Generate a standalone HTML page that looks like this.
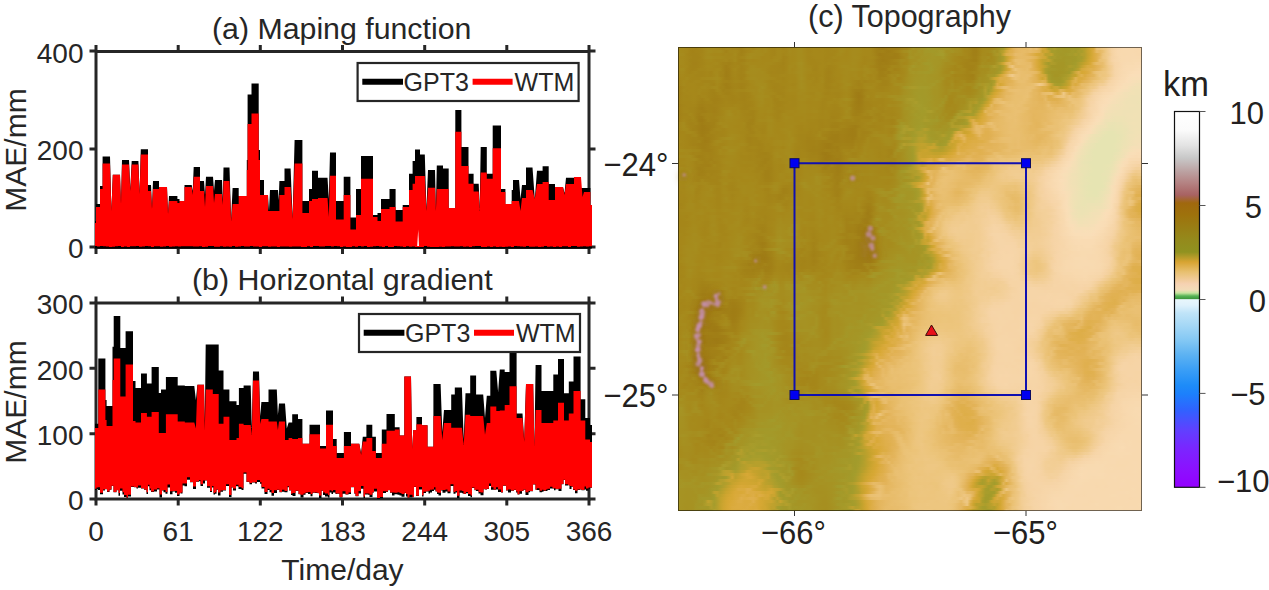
<!DOCTYPE html>
<html><head><meta charset="utf-8"><style>
html,body{margin:0;padding:0;background:#fff;width:1269px;height:590px;overflow:hidden}
svg{display:block;position:absolute;left:0;top:0}
#map{position:absolute;left:678px;top:47px;width:464px;height:464px;overflow:hidden}
#map div{position:absolute;left:0;width:464px}
text{font-family:"Liberation Sans",sans-serif;fill:#262626}
.m text{fill:#231f20}
</style></head><body>
<div id="map">
<div style="top:0px;height:3px;background:linear-gradient(90deg,#a68b1d,#a68a1b,#a6881a,#a58619,#a48418,#a38318,#a28217,#a48519,#a5871a,#a6891b,#a68b1d,#a68b1c,#a68a1c,#a6891b,#a6881a,#a48519,#a5881a,#a6881b,#a48419,#a48519,#a38318,#a28117,#a48519,#a6881b,#a6881a,#a58619,#a6891b,#a68b1d,#a6891b,#a68b1d,#a6881a,#a58619,#a48519,#a6881a,#a5871a,#a48418,#a58619,#a68a1c,#a6891b,#a68b1c,#a68d1e,#a68d1e,#a68a1c,#a5871a,#a5871a,#a6881a,#a5871a,#a6881a,#a6881a,#a58619,#a58619,#a5871a,#a6881a,#a6881a,#a68c1d,#a68c1e,#a6891b,#a6891b,#a68b1d,#a68b1d,#a68b1c,#a6891b,#a6881a,#a6891b,#a6881a,#a38318,#a17f16,#9f7c15,#9e7b14,#9f7c15,#a17f16,#a07e16,#a07e16,#a17f16,#a38318,#a48519,#a58619,#a68d1e,#a69525,#a69122,#a69324,#a59626,#a59626,#a39b2b,#a39929,#a59727,#a59727,#a49727,#a69525,#a59626,#a69525,#a69021,#a68e1f,#a68f20,#a68b1c,#a5871a,#a5871a,#a38318,#a18016,#a17f16,#a48519,#a6891b,#a68a1b,#a6891b,#a68a1c,#a68c1e,#a69122,#a49828,#a89d2b,#c4a22d,#d8a93a,#e1b151,#e5b761,#e7bb67,#e6ba66,#e6b863,#e7bb67,#e9bf71,#e6ba65,#e9be6e,#e2b456,#d4a839,#cda531,#ab9e2c,#a69d2c,#af9e2c,#a59b2a,#a59a29,#a49828,#a39929,#a39a2a,#a49a2a,#a39a2a,#a39b2b,#b39f2c,#b6a02c,#c6a32e,#d4a734,#daaa3b,#eac175,#ebc278,#edc680,#efc986,#f2ce96,#f5d2a1,#f6d5a7,#f7d7ac,#f8d8ae,#f8d9b0,#f8d9af,#f8d9af,#f8d9af,#f8d8ae,#f8d8ae,#f8d9af)"></div>
<div style="top:3px;height:3px;background:linear-gradient(90deg,#a68c1d,#a68a1b,#a6891b,#a6881a,#a48418,#a38217,#a48418,#a48418,#a48519,#a6891b,#a68c1d,#a68c1d,#a68a1c,#a68b1c,#a68b1d,#a5881b,#a38318,#a5881a,#a5881b,#a6891b,#a5871a,#a28117,#a38318,#a58619,#a6871a,#a68a1c,#a68c1d,#a68b1c,#a6891b,#a68b1d,#a6881a,#a58619,#a48519,#a6891b,#a6891b,#a6881a,#a5871a,#a68b1d,#a6891b,#a68a1c,#a68c1d,#a68c1e,#a6891b,#a5871a,#a58619,#a6881a,#a6881a,#a6871a,#a6881a,#a58719,#a58619,#a5871a,#a58619,#a6881a,#a68c1d,#a68b1c,#a6881a,#a68a1b,#a68b1d,#a68b1d,#a68b1c,#a6891b,#a6881a,#a6881a,#a6881a,#a48418,#a18016,#a18017,#a28117,#a07e16,#9f7d15,#a17f16,#a38217,#a48519,#a6891b,#a68e1f,#a68f20,#a59424,#a69122,#a69122,#a59626,#a69324,#a49828,#a49828,#a39929,#a39929,#a49828,#a69b2b,#a79a2a,#a69222,#a69222,#a59424,#a69021,#a68f20,#a68d1e,#a6881a,#a5871a,#a48519,#a18017,#a17f16,#a48519,#a68a1b,#a68b1d,#a68c1d,#a58f20,#a79626,#a69222,#ae9b2a,#baa12e,#d2a93a,#deaf4a,#e0b050,#e4b65f,#e6b963,#e7ba67,#e7bb67,#e6b965,#e7bb68,#e5b962,#e4b65c,#dfb252,#caa431,#cfa633,#c2a22f,#a59c2c,#a69c2b,#a39a2a,#a49929,#a49828,#a49828,#a49929,#a69c2b,#a39a2a,#ac9d2c,#a99d2c,#b6a02c,#c7a32e,#d0a631,#dcac43,#e7bb67,#e6b964,#e9bf70,#eec884,#f2cd94,#f5d3a3,#f7d6a9,#f8d8ae,#f8d9ae,#f8d9af,#f8d9af,#f8d9af,#f8d9af,#f8d8ae,#f8d9ae,#f8d8ae)"></div>
<div style="top:6px;height:3px;background:linear-gradient(90deg,#a68d1e,#a68b1d,#a68a1c,#a58619,#a48418,#a38318,#a38318,#a48418,#a58619,#a6891b,#a68b1c,#a6891b,#a6881a,#a6881a,#a6881a,#a58619,#a5871a,#a5861a,#a5871a,#a68b1c,#a48519,#a28217,#a48519,#a6891b,#a68c1d,#a68c1e,#a68b1d,#a68b1d,#a68b1c,#a6881a,#a6881a,#a58619,#a48519,#a6891b,#a6891b,#a58619,#a5881a,#a68a1c,#a6891b,#a68a1c,#a68c1d,#a68c1d,#a68a1b,#a6871a,#a5871a,#a6881a,#a6881a,#a6881a,#a6881a,#a58719,#a58619,#a58619,#a58719,#a68a1b,#a68b1c,#a6891b,#a6881a,#a68a1b,#a68b1d,#a68b1d,#a68a1c,#a6891a,#a6881a,#a6881a,#a6881a,#a48519,#a28017,#9f7c15,#a07d15,#a07e16,#a17f16,#a18016,#a07e16,#a17f16,#a48519,#a6891b,#a6891b,#a59324,#a69121,#a69424,#a69323,#a69424,#a49727,#a59626,#a59727,#a49828,#a39a2a,#a59c2b,#a69c2b,#a59525,#a69122,#a68e1f,#a68c1e,#a68d1e,#a68c1d,#a6891b,#a6871a,#a48418,#a18017,#a18017,#a48519,#a68b1c,#a68b1d,#a6891b,#a68b1d,#a79424,#ac9726,#a79a29,#c8a432,#ddae4a,#e0b251,#e3b459,#e7bb6a,#e7bb67,#e7bb69,#e6b964,#e4b55d,#e1b152,#deae48,#daaa39,#d6a837,#d3a83a,#bba12d,#bba12e,#c1a22d,#a79b2a,#a59a2a,#a49828,#a49828,#a39a2a,#a69c2b,#a59b2b,#ad9d2b,#a69c2c,#b29f2d,#b59f2d,#c5a22d,#d0a631,#dbab3e,#dfaf4c,#e4b65d,#ecc37a,#efc987,#f1cc90,#f5d2a1,#f7d6a9,#f8d8ad,#f8d9af,#f8d9ae,#f8d9af,#f8d9af,#f8d9b0,#f8d9ae,#f8d8ae,#f8d8ae)"></div>
<div style="top:9px;height:3px;background:linear-gradient(90deg,#a68a1c,#a6891b,#a6891b,#a5871a,#a48519,#a38318,#a38318,#a38318,#a58619,#a68a1c,#a68c1d,#a68c1d,#a68a1c,#a68a1b,#a68a1b,#a5891b,#a5871a,#a5871a,#a5881b,#a6891b,#a48519,#a58619,#a5871a,#a68b1d,#a68d1e,#a68b1d,#a68b1c,#a68a1c,#a6871a,#a6881a,#a6881a,#a58619,#a6881a,#a6891b,#a6891b,#a48418,#a48519,#a6891b,#a6891a,#a68a1b,#a68c1d,#a68c1d,#a68a1c,#a5871a,#a58619,#a6871a,#a6881a,#a6881a,#a6881a,#a58619,#a58619,#a5871a,#a6891b,#a6881a,#a6891b,#a6891b,#a6891a,#a68a1b,#a68b1d,#a68c1d,#a68b1c,#a6881a,#a58619,#a6871a,#a6881a,#a58719,#a38318,#a17f16,#a07d15,#a07e16,#a07e16,#a07e16,#a07e16,#a17f16,#a38318,#a58719,#a58c1e,#a59525,#a69424,#a69122,#a69222,#a59626,#a69525,#a59626,#a59727,#a59727,#a59626,#a59626,#a59928,#a69323,#a69020,#a68d1e,#a68a1c,#a6881a,#a58619,#a5871a,#a5881a,#a48519,#a28117,#a28117,#a5871a,#a68d1e,#a68c1e,#a69021,#a68a1c,#a68f1f,#a69323,#a49828,#ab9d2c,#c5a32d,#d7a937,#dfaf4a,#e4b65e,#e6ba65,#e7ba67,#e6ba66,#e7ba66,#e6b964,#e4b65c,#e0b351,#d7ac41,#d1a839,#cea632,#b19f2d,#a79c2c,#aa9c2b,#a49929,#a59929,#a49727,#a49828,#a49828,#a49929,#a39a2a,#a89d2c,#a89d2c,#b59f2c,#c6a32d,#d3a732,#dbab3e,#e0b04e,#e6b964,#edc57e,#efc885,#f2ce95,#f5d3a4,#f6d5a8,#f7d7ac,#f8d9af,#f8d9af,#f8d9b0,#f8d9af,#f8d9b0,#f8d9b0,#f8d9af,#f8d9af)"></div>
<div style="top:12px;height:3px;background:linear-gradient(90deg,#a68b1d,#a68a1c,#a6891b,#a5871a,#a38418,#a38318,#a38318,#a48418,#a48519,#a6881a,#a6891b,#a68a1b,#a6881a,#a5871a,#a5871a,#a5871a,#a6881b,#a48519,#a5871a,#a68b1c,#a48418,#a38217,#a38318,#a5871a,#a6881a,#a6871a,#a6881a,#a6891b,#a6881a,#a6881a,#a6881a,#a6881a,#a68a1b,#a68a1c,#a5871a,#a48418,#a58619,#a6891b,#a6891a,#a68a1b,#a68c1d,#a68d1e,#a68a1c,#a6871a,#a58619,#a58619,#a5871a,#a6871a,#a6881a,#a58619,#a5871a,#a5871a,#a58619,#a6871a,#a6891b,#a68a1b,#a6891b,#a68a1c,#a68b1d,#a68b1d,#a68a1c,#a6881a,#a58619,#a5871a,#a5871a,#a48519,#a28017,#a07e16,#9f7c15,#a07d15,#a17f16,#a28117,#a48418,#a4861a,#a58b1d,#a68b1d,#a68a1c,#a69020,#a69121,#a69122,#a69626,#a69424,#a69525,#a49828,#a59727,#a59626,#a59626,#a59525,#a69323,#a59324,#a69021,#a68c1d,#a6891b,#a6891a,#a5871a,#a48519,#a48418,#a38218,#a18016,#a18016,#a5871a,#a68c1d,#a68e1f,#a68a1b,#a68c1d,#a68e1f,#a69424,#a49828,#ac9e2c,#c6a32e,#dbab3f,#e2b458,#e8be6d,#e8bd6d,#e8bd6c,#e7bb69,#e5b75f,#e2b358,#e0b04e,#dbab3e,#d1a631,#c3a22d,#bea22f,#c3a32e,#b09e2c,#a49828,#a49828,#a59727,#a49727,#a49929,#a59929,#a39929,#a39a2a,#a69d2c,#ac9e2c,#baa02c,#caa42e,#d5a733,#dbab3d,#dfb04d,#eac072,#ebc276,#edc681,#f2ce95,#f6d3a4,#f7d6aa,#f7d7ac,#f8d9ae,#f8d9af,#f8d9b0,#f8d9af,#f8dab0,#f8dab0,#f8dab0,#f8dab0)"></div>
<div style="top:15px;height:3px;background:linear-gradient(90deg,#a68a1c,#a68a1c,#a6891b,#a58719,#a48519,#a38218,#a38218,#a48418,#a48519,#a5871a,#a6891a,#a6881a,#a6891b,#a68a1c,#a58619,#a38318,#a38318,#a28117,#a38418,#a58619,#a48418,#a48519,#a4871a,#a68a1c,#a6891b,#a6891b,#a6891b,#a6891b,#a6881a,#a6891b,#a6891b,#a6891b,#a5871a,#a58619,#a48519,#a38318,#a58619,#a6891b,#a68a1b,#a68b1c,#a68e1f,#a68f20,#a68b1d,#a6881a,#a58619,#a58619,#a58619,#a5871a,#a6881a,#a5871a,#a6881a,#a5871a,#a6881a,#a6891b,#a68a1b,#a68a1c,#a68a1c,#a68a1c,#a68c1d,#a68b1d,#a6891b,#a6871a,#a58619,#a6881a,#a5881a,#a4861a,#a28117,#a07e16,#a17f16,#a07e16,#a17f16,#a28117,#a28117,#a38419,#a58a1c,#a6881a,#a68a1b,#a68f1f,#a79323,#a59525,#a69222,#a59626,#a39929,#a39a2a,#a49828,#a59626,#a59626,#a59525,#a69222,#a68e1f,#a68e1f,#a68e1f,#a68c1d,#a6881a,#a58619,#a48418,#a38318,#a48418,#a48419,#a38418,#a5881a,#a68f20,#a68d1e,#a68f20,#a68e1f,#a68f20,#ab9827,#b99f2c,#d1a734,#e0b251,#e5b861,#e1b254,#e6b965,#e9bf6f,#e8bd6b,#e8bc6a,#e7bb68,#e7ba67,#e0b04f,#dbab3e,#d3a732,#c2a22d,#af9e2c,#a49b2b,#af9c2a,#ab9b2a,#a59727,#a59626,#a59626,#a39929,#a59929,#a39a2a,#a49c2c,#af9e2c,#b9a02c,#c5a22d,#cea530,#d9a939,#e2b557,#e7bc69,#e8bc6b,#e8bd6d,#eec681,#f2cd93,#f4d19e,#f7d5a8,#f7d6aa,#f8d8ae,#f8d9b0,#f8dab1,#f8dab1,#f8dab0,#f9dbb2,#f9dab2,#f9dbb3)"></div>
<div style="top:18px;height:3px;background:linear-gradient(90deg,#a68a1c,#a6881a,#a6891b,#a6881a,#a38418,#a38318,#a38318,#a48418,#a58619,#a6881a,#a68a1b,#a6891b,#a5881a,#a5871a,#a5871a,#a38318,#a17f16,#a38218,#a48519,#a58619,#a5871a,#a38318,#a48519,#a58719,#a68b1d,#a68c1d,#a68a1c,#a6891b,#a6891b,#a6891b,#a6881a,#a58619,#a58519,#a58519,#a48418,#a48418,#a58619,#a68b1c,#a68a1c,#a6891b,#a68d1e,#a68e1f,#a68b1c,#a6891b,#a6881a,#a58619,#a58519,#a6881a,#a6881a,#a5871a,#a48418,#a48519,#a58619,#a6881a,#a68b1c,#a68c1e,#a68c1d,#a68b1c,#a68b1d,#a68b1c,#a6891b,#a5871a,#a68a1c,#a5891b,#a58519,#a48418,#a28117,#a17f16,#a18017,#a28117,#a28217,#a5871a,#a4871a,#a4861a,#a5891c,#a68d1e,#a68e1f,#a69323,#a59929,#a59626,#a59525,#a69525,#a59626,#a59727,#a39929,#a59727,#a59525,#a69424,#a69021,#a68e1f,#a68c1d,#a68a1c,#a5871a,#a68b1c,#a6891b,#a48418,#a38318,#a38218,#a38218,#a48519,#a68e1f,#a69323,#a59222,#a59222,#a69727,#b09d2b,#aa9a29,#a39a2a,#b19f2c,#cda635,#e7bd69,#edc57f,#e6ba66,#e6b964,#e7ba67,#e7bb67,#e7bc6a,#e8bc6a,#e1b152,#dbab3f,#d3a632,#caa42f,#bea22e,#ac9d2c,#a49727,#a59626,#a59626,#a59626,#a59626,#a59828,#ad9d2b,#a99d2b,#a79d2c,#b29f2c,#c3a330,#d1a735,#d9ac42,#dcac40,#deae48,#e2b256,#e5b760,#e8bd6b,#ecc47b,#f1cb8e,#f3ce97,#f6d5a8,#f7d6aa,#f8d8ae,#f8dab1,#f9dbb2,#f9dbb2,#f9dbb2,#f9dbb3,#f9dcb4,#f9dbb2)"></div>
<div style="top:21px;height:3px;background:linear-gradient(90deg,#a6881b,#a68c1d,#a68b1c,#a58619,#a48418,#a38318,#a48418,#a5871a,#a5871a,#a5871a,#a6891b,#a6881b,#a6881a,#a68a1b,#a6891b,#a38318,#a17f16,#a28017,#a58619,#a6891b,#a48519,#a38318,#a48418,#a5881b,#a68c1d,#a68d1e,#a68c1d,#a68c1e,#a68a1b,#a6891b,#a5871a,#a58619,#a58619,#a48519,#a48519,#a48418,#a58619,#a68b1c,#a6881a,#a68a1c,#a68c1e,#a68e1f,#a68c1d,#a68a1c,#a6891b,#a48519,#a48519,#a6881a,#a6881a,#a48519,#a38318,#a48519,#a58619,#a6881a,#a6891b,#a68a1c,#a68b1d,#a68c1d,#a68d1e,#a68c1e,#a68b1c,#a6891b,#a68c1e,#a68c1d,#a6891b,#a5891b,#a48419,#a17f16,#a07e16,#a17f16,#a58719,#a5871a,#a38218,#a48418,#a5871a,#a68a1b,#a68d1e,#a69727,#a69324,#a69323,#a69525,#a59525,#a59626,#a59727,#a39a2a,#a49727,#a69525,#a69323,#a68f20,#a68c1e,#a68a1c,#a6891b,#a58719,#a5871a,#a6891b,#a6891b,#a48418,#a28217,#a38318,#a4861a,#a68d1e,#a68d1e,#a68e1f,#a68e1f,#a69525,#a69424,#a59727,#a39a2a,#b69f2c,#cba42f,#dbab3e,#e6b964,#ecc47a,#e9bf70,#e8bd6c,#e7bb69,#e8bd6c,#e4b65e,#e1b153,#ddad45,#d6a834,#c4a22d,#ad9e2c,#a69b2a,#a79929,#a59929,#a59727,#a59626,#a49727,#a89928,#a59a2a,#a39b2b,#ae9e2c,#bca12c,#d4a93b,#d9ab40,#ddae46,#dfb14e,#e0b04e,#e3b459,#e6b965,#ebc276,#edc57e,#f0cb8c,#f3cf99,#f6d5a7,#f7d7ab,#f8d9af,#f9dab2,#f9dbb3,#f9dbb3,#f9dbb3,#f9dcb5,#f9ddb6,#f9dcb5)"></div>
<div style="top:24px;height:3px;background:linear-gradient(90deg,#a58619,#a68a1c,#a6891b,#a58619,#a48418,#a58619,#a5871a,#a48519,#a48519,#a58619,#a5871a,#a48418,#a6891b,#a68a1c,#a48519,#a48419,#a07e16,#a28017,#a48519,#a6871a,#a48519,#a38318,#a48519,#a68c1d,#a68c1d,#a68c1e,#a68c1e,#a68b1d,#a68c1d,#a68a1c,#a58719,#a48519,#a58519,#a48519,#a48519,#a48519,#a5871a,#a68a1c,#a6891b,#a68b1d,#a68d1f,#a68e1f,#a68b1d,#a6891b,#a6881a,#a58719,#a58619,#a6871a,#a6881a,#a48418,#a38218,#a48418,#a5871a,#a6881a,#a6891b,#a68b1c,#a68b1d,#a68a1c,#a68a1c,#a68a1c,#a6881a,#a5871a,#a68a1c,#a68c1e,#a68a1c,#a5871a,#a5871a,#a18016,#a18017,#a38318,#a18017,#a48619,#a5871a,#a4871a,#a5871a,#a6891b,#a68d1e,#a69424,#a69727,#a59626,#a59828,#a49828,#a49929,#a39929,#a49828,#a59626,#a69525,#a69222,#a68e1f,#a68b1d,#a68b1d,#a69222,#a68b1d,#a6891b,#a5891b,#a5871a,#a48418,#a48519,#a5881b,#a5881b,#a68b1d,#a68f20,#a68e1f,#a89222,#a79424,#a59525,#a49828,#ab9e2c,#c8a431,#daac43,#e3b559,#e3b55b,#e6ba66,#eac072,#e9be6f,#e8be6d,#e8bd6b,#e8bc6a,#e7bb68,#e5b860,#deb14b,#c8a42f,#ad9e2c,#a39a2a,#a59626,#a59626,#a59626,#a59525,#a59626,#a49828,#a39a2a,#b8a130,#cfa83b,#ddae4a,#d6a834,#d9a938,#dbab40,#e0b04e,#e7bc6a,#ebc277,#ecc47c,#edc67f,#eec782,#f1cc8f,#f4d09c,#f6d5a8,#f7d7ab,#f8d9af,#f8dab1,#f9dbb3,#f9dcb5,#faddb6,#faddb7,#faddb7,#faddb7)"></div>
<div style="top:27px;height:3px;background:linear-gradient(90deg,#a48519,#a6891b,#a6881a,#a58719,#a5871a,#a58719,#a48519,#a48519,#a48519,#a58619,#a58719,#a48519,#a5881a,#a68b1d,#a48519,#a38318,#a07e16,#a18017,#a48519,#a5871a,#a48418,#a38318,#a38318,#a6881a,#a68b1d,#a68c1d,#a68b1d,#a68b1d,#a68b1d,#a68b1c,#a68a1b,#a58619,#a58619,#a58619,#a5871a,#a6881a,#a5871a,#a6881a,#a6881a,#a6891b,#a68c1d,#a68e1f,#a68b1c,#a6881a,#a58619,#a58619,#a58619,#a58719,#a6881a,#a48418,#a38318,#a48519,#a5871a,#a6881a,#a6881a,#a68a1c,#a68b1d,#a68a1b,#a68a1c,#a68b1d,#a6881a,#a5881a,#a68c1d,#a6881a,#a58619,#a6881b,#a48519,#a18017,#a18016,#a28117,#a5881a,#a68b1d,#a5891c,#a68e1f,#a6891b,#a68a1c,#a68e1f,#a69222,#a69424,#a69525,#a59626,#a59626,#a59727,#a59626,#a59525,#a69525,#a69424,#a69222,#a68f20,#a68e1f,#a68e1f,#a6891b,#a58619,#a58719,#a58619,#a48519,#a38418,#a38217,#a28117,#a5891c,#a68e1f,#a68f20,#a69121,#a99827,#a89827,#a79929,#b7a02c,#d1a633,#ddad44,#e3b55b,#ecc47b,#f0ca8b,#ecc379,#ebc175,#e9be6e,#e9be6e,#e9bf71,#e8bd6d,#e4b65e,#e0b04e,#dbab3f,#d6aa3d,#cca637,#a99d2c,#a49828,#a59525,#a59525,#a69727,#a69929,#aa9b2a,#b19f2d,#c0a22f,#c6a32d,#d9ac42,#e0b250,#dbab40,#dfaf4d,#e2b255,#e3b55b,#e9bf6f,#edc680,#edc57d,#eec781,#f0ca8a,#f3d09a,#f6d5a7,#f7d7ac,#f8d9b0,#f9dbb2,#f9dcb4,#faddb7,#fadeb8,#f9deb8,#f9deb8,#f9deb8)"></div>
<div style="top:30px;height:3px;background:linear-gradient(90deg,#a48418,#a6881a,#a6881a,#a68a1c,#a5871a,#a58619,#a58619,#a58619,#a6891b,#a6891b,#a68a1c,#a68a1c,#a68b1d,#a68c1d,#a68a1b,#a48418,#a18017,#a28017,#a48418,#a58619,#a48519,#a38217,#a48519,#a68a1c,#a68c1e,#a68d1e,#a68c1e,#a68b1d,#a68c1d,#a68b1d,#a68a1c,#a6891b,#a6881a,#a58619,#a58619,#a48519,#a58719,#a6881a,#a6881a,#a6881a,#a68c1d,#a68f20,#a68c1d,#a6881a,#a58719,#a6881a,#a48519,#a6881a,#a6891b,#a48418,#a38218,#a48519,#a58619,#a6871a,#a6881a,#a68b1c,#a68b1c,#a68a1c,#a6891b,#a68a1c,#a68a1c,#a5871a,#a5891b,#a68a1c,#a5871a,#a6891b,#a48519,#a28217,#a38318,#a48519,#a48619,#a68a1c,#a68e1f,#a58619,#a5871a,#a68c1d,#a69020,#a69323,#a69525,#a59626,#a59626,#a59727,#a59727,#a59626,#a59626,#a59525,#a69424,#a69323,#a59323,#a68b1d,#a68a1b,#a68b1d,#a5881b,#a5891b,#a5871a,#a58619,#a48418,#a38318,#a38218,#a5891c,#a69222,#a69021,#a69222,#a69424,#b69e2b,#cba42f,#d7a836,#deae48,#deae4a,#dfaf4b,#e2b357,#e8bc6b,#ebc277,#eac071,#e8be6d,#e9bf70,#e9be6f,#e5b862,#e3b55b,#e1b153,#dbab3f,#d1a631,#d7aa3d,#aa9d2c,#a49929,#a59727,#a59727,#a49828,#aa9c2a,#ae9e2c,#baa02d,#cba634,#e0b354,#dbac3f,#dbab40,#deae48,#e2b255,#e5b760,#e7ba67,#e9bf6f,#ecc479,#eec884,#efc988,#f3cf97,#f5d3a3,#f7d6aa,#f8d8ad,#f9dab2,#f9dbb3,#faddb6,#f9deb7,#f8dfb7,#f8dfb7,#f8deb8,#f7dfb7)"></div>
<div style="top:33px;height:3px;background:linear-gradient(90deg,#a48418,#a5871a,#a68a1b,#a6881a,#a58619,#a5871a,#a6881b,#a6881a,#a58519,#a48519,#a48519,#a48519,#a58619,#a68a1c,#a5881a,#a48418,#a48418,#a38318,#a48519,#a5881a,#a5871a,#a48519,#a48519,#a58619,#a68a1b,#a68a1c,#a68c1e,#a68c1d,#a68b1d,#a6891b,#a58719,#a48519,#a58619,#a6881a,#a5871a,#a58619,#a58719,#a6891b,#a6881a,#a6881a,#a68b1d,#a68d1f,#a68b1d,#a6891b,#a6891b,#a5871a,#a58619,#a6881a,#a68a1c,#a48418,#a38318,#a48418,#a58619,#a6881a,#a6891b,#a68c1d,#a68b1d,#a6891b,#a5871a,#a48519,#a38318,#a58619,#a38318,#a58519,#a58619,#a58619,#a6891b,#a5881a,#a38318,#a38318,#a48519,#a68b1d,#a68c1d,#a6891b,#a6891b,#a68c1e,#a69020,#a69323,#a69525,#a59727,#a59727,#a49727,#a49828,#a59626,#a59626,#a59626,#a59828,#a69424,#a68e1f,#a68a1c,#a68c1d,#a68d1e,#a58719,#a6881a,#a68a1c,#a68b1d,#a58619,#a48519,#a5881b,#a58e1f,#a69223,#a69121,#a69223,#a69424,#a59828,#ab9d2c,#d1a736,#ddad44,#ddad44,#e0b04e,#e1b153,#e3b459,#e6ba65,#e9be6e,#e9bf6f,#e9be6f,#e7bb69,#e6b964,#e3b45b,#e2b255,#dfb04b,#e1b453,#deb04e,#b5a02d,#a39c2b,#a39a2a,#a49929,#a39929,#a69c2b,#baa12e,#caa430,#dbae47,#e0b251,#dbab3f,#dfaf4c,#e2b357,#e4b65e,#e7bb67,#ebc276,#edc57e,#eec885,#efc987,#f2ce95,#f5d3a2,#f7d6a9,#f8d8ad,#f8dab1,#f9dcb4,#f9dcb5,#fadeb8,#f8deb8,#f7dfb7,#f6dfb7,#f5e0b6,#f5e0b6)"></div>
<div style="top:36px;height:3px;background:linear-gradient(90deg,#a48418,#a5871a,#a68a1c,#a6871a,#a6881a,#a6881a,#a5871a,#a58619,#a58619,#a5881b,#a5881b,#a48519,#a48418,#a6891b,#a58619,#a28217,#a17f16,#a28117,#a48418,#a48519,#a48418,#a38218,#a38318,#a48519,#a6881a,#a68a1c,#a68c1d,#a68d1e,#a68c1d,#a68c1d,#a5881a,#a58619,#a48519,#a48519,#a58619,#a58719,#a5871a,#a6881a,#a58619,#a5871a,#a68b1d,#a68e1f,#a68c1d,#a6891b,#a6881a,#a5871a,#a6881a,#a6891b,#a6881a,#a38418,#a48418,#a58619,#a5881a,#a58619,#a6871a,#a68a1c,#a68d1e,#a68c1d,#a5871a,#a48519,#a38218,#a48418,#a5881a,#a5881b,#a5881a,#a6891b,#a6871a,#a48418,#a38318,#a38318,#a48519,#a6881a,#a68e1f,#a68f20,#a68f20,#a68e1f,#a69222,#a69424,#a59626,#a59727,#a49828,#a49828,#a49727,#a49727,#a59828,#a59929,#a69424,#a69222,#a68e1f,#a68a1c,#a68a1c,#a69021,#a6891b,#a68a1b,#a68a1c,#a68d1f,#a68d1e,#a68e1f,#a68c1e,#a69323,#a69929,#ad9726,#ac9a28,#aa9b2a,#a39929,#b5a02e,#dcac43,#d6a734,#dbab3f,#e0b04f,#e3b45a,#e4b55c,#e6b963,#e7bb68,#e8bd6c,#e8bd6c,#e8bc6a,#e8bd6b,#e9bf6f,#ecc47b,#f0ca8c,#edc57e,#e7bb67,#ddae48,#caa635,#ac9e2d,#a69d2c,#a89d2c,#b29f2c,#bca12c,#cba430,#ddaf4a,#dbab3f,#dfb04e,#e7bb68,#e7bc69,#e9be6e,#ecc37a,#edc57e,#efc987,#f2cd94,#f2ce95,#f4d19e,#f7d6a9,#f7d7ab,#f8d9af,#f9dbb3,#f9dcb5,#f9deb7,#f8deb7,#f7dfb7,#f5dfb7,#f3e0b6,#f2e0b6,#f3e0b6)"></div>
<div style="top:39px;height:3px;background:linear-gradient(90deg,#a38217,#a48418,#a5871a,#a6881a,#a6871a,#a6881a,#a6871a,#a5871a,#a6891b,#a6891b,#a5871a,#a5881b,#a68a1c,#a68a1c,#a48418,#a38418,#a18016,#a18016,#a38318,#a48519,#a48418,#a28217,#a38318,#a5871a,#a6891b,#a6891b,#a68a1c,#a68c1d,#a68f20,#a68c1d,#a5881a,#a58619,#a48418,#a48519,#a58519,#a48519,#a5871a,#a6891b,#a6881a,#a6881a,#a68b1d,#a68e1f,#a68c1e,#a68a1b,#a6881a,#a6891b,#a6881a,#a6891b,#a6881a,#a48418,#a38318,#a48519,#a58619,#a58619,#a6881b,#a68b1c,#a68b1c,#a6881a,#a48519,#a58619,#a48418,#a38418,#a6881a,#a68a1c,#a68b1c,#a6891b,#a58619,#a48519,#a48519,#a58619,#a5871a,#a6891b,#a68a1c,#a68a1c,#a68d1f,#a59525,#a49828,#a99a29,#ab9b2a,#a99b2a,#a69b2b,#a49b2b,#a59b2b,#a59a2a,#a69828,#a69525,#a69525,#a69222,#a68f20,#a68c1e,#a68c1d,#a68e1f,#a68a1c,#a68c1d,#a68f20,#a68c1d,#a6891b,#a6891a,#a58f20,#a59526,#a69122,#a69424,#b29d2a,#a89c2b,#a89d2c,#cca635,#e0b150,#e4b75e,#e8bd6c,#e9be6f,#e7bb67,#e6b963,#e7bb68,#e8bd6c,#e8bd6c,#e8bd6d,#e9bf70,#e9bf71,#e9be6f,#e6b863,#e3b458,#deaf4a,#deaf49,#d7a939,#c5a22d,#cca533,#c9a636,#bba12d,#c4a22d,#cba42f,#d9aa3b,#e2b457,#e1b254,#e4b65e,#e6b963,#e8bd6c,#ebc377,#eec782,#efc886,#f1cc91,#f5d2a0,#f6d3a4,#f6d5a8,#f7d8ad,#f8d9af,#f9dbb2,#f9ddb5,#faddb7,#f8dfb7,#f8dfb7,#f4e0b6,#f2e0b6,#f1e1b5,#f1e1b5,#f2e1b5)"></div>
<div style="top:42px;height:3px;background:linear-gradient(90deg,#a28117,#a48519,#a6891b,#a5871a,#a6881a,#a6881a,#a5871a,#a6891b,#a5871a,#a5871a,#a58619,#a38318,#a38318,#a6891b,#a5871a,#a28217,#a38318,#a38318,#a48519,#a5871a,#a5881b,#a5871a,#a5871a,#a6891b,#a68a1c,#a68b1d,#a68a1c,#a68e1f,#a68c1e,#a68a1c,#a6891b,#a5881a,#a48519,#a48519,#a48519,#a58619,#a6881a,#a68a1c,#a6891b,#a6891b,#a68a1c,#a68c1d,#a68c1d,#a68a1b,#a6891b,#a6891b,#a6891b,#a6881a,#a6881a,#a58619,#a48519,#a5871a,#a5871a,#a5871a,#a5871a,#a6891b,#a68a1c,#a5871a,#a38318,#a18017,#a18017,#a17f16,#a38318,#a58619,#a6881a,#a6881a,#a5871a,#a58619,#a58519,#a58719,#a6871a,#a68a1b,#a68a1c,#a68a1b,#a68c1d,#a69021,#a69324,#a59525,#a49727,#a49828,#a49929,#a39929,#a49929,#a49828,#a59626,#a69424,#a69424,#a69222,#a69021,#a68c1e,#a69021,#a69121,#a68f20,#a69020,#a68c1d,#a68a1c,#a6891b,#a6891b,#a68b1c,#a68d1e,#a69323,#a59727,#b69f2d,#a39a2a,#af9e2c,#c5a32d,#d3a632,#daaa3b,#e0b04e,#e5b761,#e9be6e,#e9bf70,#eac073,#eac071,#e9bf71,#e9bf70,#eac072,#e9bf70,#e5b862,#e4b55d,#e2b254,#dfaf4c,#dcac42,#ddad44,#d5a838,#cda530,#d3a735,#e2b457,#deb14e,#daab3d,#dbab3e,#dfaf4a,#e3b55b,#e7bb69,#ebc175,#ecc379,#edc57e,#f0ca8a,#f3ce97,#f4d19e,#f6d4a5,#f7d6a9,#f8d8ad,#f8d8ae,#f8dab0,#f9dcb4,#fadeb7,#f8dfb7,#f6dfb7,#f5dfb7,#f3e0b6,#f1e1b5,#f0e1b5,#f0e1b5,#f1e1b5)"></div>
<div style="top:45px;height:3px;background:linear-gradient(90deg,#a38217,#a48418,#a5871a,#a6881a,#a6871a,#a6881a,#a6871a,#a6891b,#a58619,#a58619,#a48519,#a38318,#a28217,#a48418,#a5871a,#a48418,#a28217,#a38217,#a48418,#a58619,#a48519,#a38318,#a38318,#a48418,#a58619,#a68a1c,#a68a1c,#a68c1d,#a68d1e,#a68a1b,#a6891b,#a6891b,#a6881a,#a48519,#a48418,#a48519,#a6871a,#a6881a,#a6881a,#a6881a,#a68b1d,#a68b1d,#a68a1c,#a6891a,#a5871a,#a5871a,#a68a1c,#a68a1c,#a5871a,#a48418,#a48418,#a58619,#a48519,#a48519,#a58619,#a6881a,#a6891b,#a58719,#a38318,#a07e16,#9f7c15,#a17f16,#a48519,#a5871a,#a5871a,#a6881a,#a68a1c,#a68a1c,#a68a1c,#a68a1c,#a68a1b,#a6891b,#a68b1c,#a68a1c,#a68d1e,#a69122,#a69323,#a59525,#a49727,#a49929,#a39929,#a39929,#a49929,#a49828,#a59626,#a69424,#a69424,#a69222,#a68f20,#a68c1e,#a68f20,#a68b1c,#a68b1c,#a68d1e,#a68c1d,#a68b1d,#a68a1c,#a68a1c,#a68c1d,#a68f20,#a69323,#a59727,#b29f2c,#a89d2c,#c0a22d,#d2a631,#d9aa39,#deae4a,#e2b357,#e5b760,#e5b863,#e7bb69,#e9be6f,#e9bf71,#e9bf70,#e9bf71,#eac072,#e7bb69,#e5b862,#e5b760,#e3b359,#e7bb69,#e9be6e,#e9bf6f,#eac072,#e1b353,#dcac43,#e2b457,#efc988,#e6ba65,#e1b151,#e7bb67,#e6b964,#e6ba66,#e9bf70,#edc57d,#efc886,#f2ce95,#f5d3a2,#f6d5a7,#f7d6aa,#f8d9af,#f9dab1,#f9dbb3,#f9dcb5,#f9deb7,#f7dfb7,#f6dfb7,#f3e0b6,#f2e0b6,#f1e1b5,#f2e1b5,#f0e1b5,#f0e1b5,#efe1b5)"></div>
<div style="top:48px;height:3px;background:linear-gradient(90deg,#a18017,#a48519,#a5871a,#a58619,#a5871a,#a6881a,#a6871a,#a48519,#a5871a,#a5871a,#a48519,#a38318,#a28217,#a38218,#a48418,#a58619,#a48519,#a48418,#a38318,#a48418,#a48519,#a38318,#a38218,#a38418,#a48519,#a6881a,#a68b1d,#a68d1e,#a68d1e,#a68c1d,#a68b1c,#a5871a,#a48519,#a6881a,#a5871a,#a48519,#a58719,#a6871a,#a58719,#a6871a,#a68a1b,#a68a1c,#a68b1c,#a68b1c,#a6891b,#a6881a,#a6891b,#a68a1b,#a5881a,#a58619,#a58619,#a58619,#a58619,#a48519,#a58619,#a6891b,#a68a1b,#a58719,#a28217,#a07e16,#9f7b15,#a07d15,#a38318,#a68b1c,#a58719,#a6881a,#a68e1f,#a68c1d,#a68a1c,#a68b1c,#a68f20,#a69121,#a69121,#a69021,#a59122,#a59424,#a59525,#a59626,#a59727,#a49828,#a39a2a,#a39929,#a39929,#a49828,#a49727,#a59525,#a69424,#a69222,#a68f20,#a59424,#a68a1c,#a68a1b,#a68b1d,#a69021,#a69121,#a69222,#a68e1f,#a68d1e,#a68f20,#a69323,#a69525,#a49727,#b19f2e,#c2a433,#cea531,#d8a937,#ddad46,#e0b050,#e3b459,#e6ba66,#e7bb68,#e8bd6c,#e9bf6f,#e9be6f,#e9bf6f,#eac071,#eac173,#e8bc6a,#e5b862,#e4b65e,#e3b45a,#e4b65e,#e5b861,#dfaf4d,#e0b04e,#e6ba65,#eac174,#ecc379,#edc680,#e9be6e,#ecc37a,#e7bc69,#e6ba65,#e9be6e,#ecc47b,#efc987,#f2cd94,#f4d19f,#f6d4a7,#f7d7ab,#f8d9af,#f9dbb2,#f9dcb4,#f9ddb6,#f9deb7,#f7dfb7,#f6dfb7,#f4e0b6,#f3e0b6,#f2e0b6,#f0e1b5,#efe1b5,#efe1b5,#efe1b5,#f0e1b5)"></div>
<div style="top:51px;height:3px;background:linear-gradient(90deg,#a28217,#a48519,#a5871a,#a58719,#a5871a,#a6881a,#a5871a,#a48519,#a38218,#a58619,#a5871a,#a38217,#a28117,#a28117,#a38218,#a48418,#a48519,#a48418,#a38318,#a48418,#a48418,#a38318,#a38217,#a48418,#a58619,#a5881a,#a68a1c,#a68c1d,#a68d1e,#a6891b,#a6891b,#a6891b,#a48418,#a48418,#a5881a,#a6871a,#a58719,#a5871a,#a58719,#a5871a,#a68a1c,#a68b1d,#a68b1c,#a6891b,#a6881a,#a6891b,#a68a1c,#a6891b,#a58619,#a48519,#a58619,#a58719,#a6891b,#a5881a,#a68a1c,#a68d1e,#a68f1f,#a68c1d,#a4861a,#a18016,#9f7c15,#a17e16,#a48519,#a5861a,#a58619,#a6881a,#a5871a,#a58619,#a58619,#a6881a,#a6891a,#a68b1c,#a68f20,#a69223,#a59323,#a59425,#a99928,#aa9c2b,#a99b2a,#a49929,#a39929,#a39a2a,#a39929,#a49929,#a59727,#a59525,#a69424,#a69323,#a59424,#a59223,#a6891b,#a6891b,#a68e1f,#a68d1e,#a68e1f,#a68e1f,#a59323,#a89524,#a99625,#aa9827,#a49727,#a39a2a,#ab9e2c,#c2a22d,#d5a836,#e3b65b,#e8bd6c,#e7bc6a,#e5b75f,#e6b964,#e7bb68,#e8bd6d,#e9bf6f,#e9bf70,#e9bf6f,#eac072,#e9be6d,#e6ba65,#e5b761,#e4b65e,#e3b45a,#e3b358,#e6ba66,#e1b153,#e0b04f,#dfaf4d,#e0b051,#e2b357,#e5b862,#e8be6d,#ecc37a,#ebc378,#ebc277,#ecc379,#eec781,#f1cb8e,#f4d19d,#f5d3a2,#f6d5a7,#f7d8ad,#f8dab1,#f9dcb4,#faddb7,#f9deb8,#f8dfb7,#f6dfb7,#f4e0b6,#f3e0b6,#f2e0b6,#f0e1b5,#efe1b5,#efe1b5,#efe1b5,#efe1b5,#eee2b4)"></div>
<div style="top:54px;height:3px;background:linear-gradient(90deg,#a28117,#a48519,#a58619,#a58619,#a58619,#a6871a,#a58619,#a38318,#a28217,#a38318,#a48418,#a48418,#a28117,#a38217,#a38318,#a48418,#a58619,#a48519,#a48418,#a48418,#a48519,#a48418,#a38318,#a48418,#a48418,#a58619,#a6891b,#a68b1d,#a68c1e,#a68a1b,#a6891a,#a6891b,#a48519,#a38418,#a48418,#a48519,#a58619,#a6881a,#a5871a,#a5871a,#a6891b,#a68a1b,#a6891b,#a6881a,#a6871a,#a6881a,#a6881a,#a6871a,#a48519,#a58619,#a6891b,#a6891b,#a58719,#a6881a,#a68b1c,#a6891b,#a68a1c,#a5881a,#a38318,#a07e16,#9f7c15,#a07e16,#a38318,#a48418,#a48519,#a58619,#a58619,#a58619,#a58619,#a6881a,#a6891b,#a6881a,#a6891b,#a68b1d,#a68d1e,#a69324,#a79827,#a69828,#a79a2a,#ab9d2c,#a49a2a,#a39a2a,#a39929,#a49828,#a59626,#a69525,#a69424,#a69323,#a49727,#a68d1e,#a6891b,#a6881a,#a68d1e,#a68c1e,#a68e1f,#a68d1e,#a79323,#ae9a28,#af9826,#b49c2a,#a39a2a,#a99d2c,#bba02c,#cca42f,#dbad42,#e6b964,#e7bc69,#eac071,#ebc276,#e9bf6f,#e8be6d,#e9bf70,#e9bf6f,#e9bf70,#eac072,#e9bf6f,#e8bc6a,#e6ba66,#e5b862,#e5b862,#e4b55d,#e4b55c,#e5b761,#e6ba66,#e3b459,#e3b359,#e2b255,#e4b55b,#e5b862,#e7bb68,#e8bd6d,#ecc47a,#ecc47a,#ecc47a,#eec783,#f1cb8e,#f4d09b,#f6d4a6,#f7d5a9,#f8d9b0,#f9dbb3,#f9dcb5,#faddb6,#f9deb8,#f6dfb7,#f5dfb7,#f4e0b6,#f2e0b6,#f1e1b5,#efe1b5,#f0e1b5,#efe1b5,#efe1b5,#eee2b4,#efe1b5)"></div>
<div style="top:57px;height:3px;background:linear-gradient(90deg,#a17f16,#a38318,#a48519,#a58619,#a58619,#a58619,#a48519,#a28117,#a28017,#a38218,#a38218,#a28217,#a38218,#a38318,#a48418,#a48519,#a58619,#a58619,#a48519,#a5871a,#a58619,#a48519,#a38318,#a38318,#a48418,#a58519,#a6891b,#a68c1d,#a68b1c,#a6891b,#a6881a,#a68a1b,#a58619,#a48418,#a48418,#a58619,#a6871a,#a6871a,#a5871a,#a5871a,#a6891b,#a68a1c,#a68a1b,#a6891b,#a6881a,#a6881a,#a6881a,#a6871a,#a48519,#a58619,#a6881a,#a58619,#a48519,#a58619,#a68a1b,#a68b1d,#a68b1c,#a58719,#a28217,#a17f16,#a07d15,#a17f16,#a38318,#a48418,#a48418,#a58619,#a58619,#a6881a,#a58619,#a6881a,#a68d1e,#a68b1d,#a68b1d,#a68d1f,#a69021,#a69222,#a69424,#a59626,#a79a2a,#a59b2b,#a69c2c,#a39b2b,#a49929,#a49828,#a59727,#a69525,#a69424,#a59727,#a69323,#a68a1c,#a6891b,#a68a1c,#a68a1c,#a68c1e,#a68f1f,#a69020,#a79424,#b09d2b,#a59626,#a49929,#a79c2b,#b7a02c,#caa42f,#d6a834,#e4b85f,#e0b050,#e2b358,#e5b760,#e7bb69,#e9bf6f,#eac073,#eac173,#e9bf70,#eac072,#e9bf70,#e7bc69,#e6ba66,#e6b964,#e5b862,#e5b760,#e4b65f,#e4b65e,#e6b963,#e9bf70,#e6b863,#e5b75f,#e5b75f,#e5b862,#e5b863,#e7bb68,#eac173,#e9be6e,#ecc47a,#edc57d,#eec884,#f1cc91,#f4d09b,#f6d5a7,#f7d7ab,#f8d9b0,#f9dcb4,#faddb7,#f9deb8,#f6dfb7,#f4e0b6,#f3e0b6,#f1e1b5,#f2e0b6,#f1e1b5,#f0e1b5,#f0e1b5,#f0e1b5,#efe1b5,#efe1b5,#f0e1b5)"></div>
<div style="top:60px;height:3px;background:linear-gradient(90deg,#a18017,#a48418,#a58619,#a58619,#a48519,#a48519,#a38318,#a18016,#a07e16,#a28117,#a38218,#a28217,#a28117,#a38218,#a48519,#a5881a,#a6881a,#a6891b,#a6891b,#a5891b,#a5871a,#a48418,#a38318,#a38318,#a58619,#a58719,#a6881a,#a68a1b,#a68a1b,#a6891b,#a68a1b,#a6891b,#a48519,#a48519,#a58619,#a58619,#a5871a,#a6871a,#a6871a,#a6881a,#a68a1b,#a68a1b,#a68a1b,#a6891b,#a6881a,#a6891b,#a6881a,#a58719,#a48519,#a58619,#a58619,#a58619,#a48519,#a48519,#a58619,#a6891b,#a68b1c,#a68c1d,#a38318,#a17f16,#a07e16,#a18016,#a38318,#a48519,#a48519,#a68b1d,#a5881b,#a58619,#a5861a,#a6891b,#a6881a,#a6871a,#a6891a,#a68a1c,#a68d1e,#a59324,#a59726,#a59626,#a59727,#a69a2a,#a59b2b,#a39b2b,#a69c2b,#a39929,#a49727,#a69726,#a69727,#a69323,#a59122,#a68a1c,#a68b1c,#a68b1d,#a68a1c,#a68d1e,#a68f20,#a69222,#a69424,#b19b29,#a89a29,#a39b2b,#af9e2c,#c2a22d,#d6ab3f,#e1b354,#e2b558,#e2b255,#e4b55c,#e5b862,#e7ba66,#e8bc6b,#e9be6e,#e9bf70,#eac071,#e9be6f,#e9be6f,#e9be6e,#e8bd6c,#e6b863,#e5b760,#e4b65e,#e5b75f,#e4b65f,#e5b862,#e7bb69,#e8bd6b,#e6ba65,#e8bc6a,#e9be6e,#e8bd6d,#e8bd6b,#e9bf70,#e9bf70,#ebc277,#ecc57c,#f0ca8b,#f2ce97,#f5d3a2,#f7d6aa,#f7d7ac,#f8d9b0,#f9dcb5,#f9deb8,#f7dfb7,#f5e0b6,#f3e0b6,#f2e0b6,#f2e0b6,#f1e1b5,#f0e1b5,#f0e1b5,#efe1b5,#efe1b5,#efe1b5,#efe1b5,#f0e1b5)"></div>
<div style="top:63px;height:3px;background:linear-gradient(90deg,#a17f16,#a48418,#a5871a,#a5881a,#a48619,#a48519,#a38318,#a28117,#a17f16,#a17f16,#a28217,#a38217,#a28017,#a38218,#a48519,#a58719,#a68b1c,#a68d1e,#a6891b,#a6881a,#a68a1b,#a58619,#a48519,#a58619,#a38418,#a38318,#a58619,#a68a1b,#a68a1b,#a6891b,#a68b1c,#a68a1b,#a5871a,#a48519,#a48418,#a58619,#a6881a,#a6891b,#a6891b,#a6881a,#a6891b,#a68a1b,#a68a1c,#a6891b,#a6891b,#a68a1c,#a68a1c,#a5881a,#a58619,#a5881a,#a58619,#a48519,#a48418,#a48519,#a58619,#a6881a,#a68d1e,#a5881b,#a38318,#a18017,#a17f16,#a28117,#a48519,#a5891b,#a68a1c,#a5881b,#a5891b,#a5871a,#a48519,#a5871a,#a6871a,#a58719,#a6881a,#a68a1c,#a68c1e,#a69222,#a69323,#a69626,#a79928,#a49828,#a49a2a,#a39b2b,#a49b2a,#aa9d2c,#ac9d2b,#a69828,#a69323,#a59424,#a68f20,#a68c1d,#a68c1d,#a6891b,#a68a1c,#a59122,#a89a29,#af9d2b,#b59f2c,#b8a02c,#a39a2a,#aa9d2c,#bea12c,#cea530,#e4b85f,#e1b252,#e2b357,#e6ba66,#e9bf70,#e9be6e,#e8bd6b,#e8bd6c,#e8bd6d,#e9bf6f,#eac072,#eac072,#e9bf6f,#e8bd6b,#e6ba65,#e5b761,#e5b760,#e5b760,#e5b861,#e5b861,#e5b863,#e6ba65,#e7bc69,#e8bd6c,#e9bf70,#e9be6f,#e9be6f,#e9bf71,#eac071,#eac173,#edc680,#eec783,#f1cc8f,#f3cf99,#f5d3a2,#f7d6aa,#f8d8ae,#f8dab0,#f9dcb5,#f9deb8,#f5dfb7,#f3e0b6,#f2e0b6,#f1e1b5,#f0e1b5,#f0e1b5,#efe1b5,#efe1b5,#efe1b5,#f0e1b5,#f0e1b5,#f0e1b5,#f0e1b5)"></div>
<div style="top:66px;height:3px;background:linear-gradient(90deg,#a18016,#a38318,#a48519,#a48519,#a6891b,#a58619,#a38218,#a17f16,#a38218,#a38318,#a48418,#a38418,#a38218,#a38318,#a48519,#a5871a,#a68b1d,#a68e1f,#a68b1d,#a6881a,#a6891b,#a5871a,#a48519,#a48418,#a38318,#a38318,#a58719,#a6891b,#a6891b,#a6881a,#a6891b,#a6881a,#a58619,#a48519,#a58619,#a68a1b,#a6891b,#a6881a,#a6881a,#a6891b,#a6891b,#a6891b,#a6891b,#a6881a,#a6871a,#a6881a,#a6881a,#a5871a,#a58619,#a5871a,#a58719,#a48418,#a48418,#a48418,#a48519,#a6881a,#a68b1c,#a5891b,#a38217,#a18017,#a28117,#a48418,#a5871a,#a48519,#a68a1c,#a5881b,#a48519,#a48519,#a6891b,#a6881a,#a5871a,#a58619,#a5871a,#a6891b,#a68c1e,#a69121,#a69323,#a59626,#a59828,#a49b2a,#a39929,#a49b2a,#a49a2a,#a49828,#a59727,#a59525,#a59525,#a69323,#a68e1f,#a69020,#a68b1c,#a68a1c,#a59121,#ab9d2c,#a79d2c,#a39929,#a39a2a,#a79d2c,#a69d2c,#b9a02c,#cba42f,#d6a834,#ddad44,#e3b65c,#e5b760,#e4b65d,#e5b75f,#e8bd6c,#e9be6e,#e9bf71,#e9bf70,#e9bf70,#eac072,#e9be6f,#e8bd6b,#e7bb67,#e6ba65,#e6b863,#e4b65f,#e5b75f,#e5b761,#e5b862,#e6b965,#e7bb69,#e8bd6b,#e9be6d,#eac072,#eac073,#ebc175,#ebc377,#ebc277,#ecc479,#eec782,#f0ca8b,#f2cd93,#f3cf9a,#f5d3a3,#f7d6a9,#f8dab0,#f9dbb2,#faddb6,#f9deb7,#f3e0b6,#f2e1b5,#f0e1b5,#f0e1b5,#f0e1b5,#f0e1b5,#efe1b5,#f0e1b5,#f0e1b5,#f0e1b5,#f1e1b5,#f0e1b5,#f0e1b5)"></div>
<div style="top:69px;height:3px;background:linear-gradient(90deg,#a18017,#a48418,#a58619,#a58619,#a48519,#a5881a,#a28217,#a07e16,#a07d15,#a38318,#a48418,#a38318,#a38318,#a48519,#a4871a,#a5891b,#a68b1c,#a68b1d,#a68a1c,#a68a1b,#a6891b,#a5871a,#a58619,#a48519,#a48519,#a38318,#a5871a,#a6891b,#a6881a,#a6891b,#a68b1c,#a68a1c,#a58719,#a48519,#a58619,#a6891b,#a68b1c,#a68a1c,#a6891b,#a6881a,#a6881a,#a6881a,#a6891b,#a6881b,#a6881a,#a6891b,#a6881a,#a5871a,#a58719,#a5871a,#a5871a,#a38318,#a38318,#a48418,#a58619,#a68b1c,#a68c1d,#a68b1d,#a58619,#a48418,#a48418,#a48418,#a38318,#a38318,#a38318,#a5881b,#a5871a,#a48519,#a48519,#a6891b,#a6891b,#a5881a,#a68a1c,#a6891b,#a68c1e,#a69122,#a69424,#a59525,#a59727,#a49929,#a59b2a,#a39a2a,#a79c2b,#a49828,#a59727,#a59525,#a49828,#a69121,#a59323,#a68d1e,#a68d1e,#a68e1f,#a79b2a,#b09e2c,#b29c2a,#b49e2c,#bfa22e,#c8a42f,#c3a22e,#c4a22d,#d0a631,#d9aa39,#dcac42,#e0b04f,#e1b154,#e4b55c,#e5b862,#e6ba65,#e7bb69,#e9be6e,#eac072,#e9bf70,#e9bf71,#e8be6d,#e8bc6b,#e7bb67,#e7ba67,#e5b862,#e4b65e,#e5b75f,#e5b760,#e5b862,#e6b964,#e7bb69,#e8bd6c,#e9be6f,#e9bf70,#eac073,#ebc276,#ecc47b,#ebc378,#edc57e,#efc885,#f1cc8f,#f2cd94,#f4d19d,#f6d4a6,#f7d7ab,#f8dab1,#f9ddb6,#f9deb7,#f7dfb7,#f2e0b6,#f2e0b6,#efe1b5,#eee2b4,#eee2b4,#eee2b4,#eee2b4,#efe1b5,#f0e1b5,#f1e1b5,#f0e1b5,#f0e1b5,#f0e1b5)"></div>
<div style="top:72px;height:3px;background:linear-gradient(90deg,#a28117,#a48519,#a6881a,#a48519,#a38418,#a48619,#a38418,#9f7d15,#9f7b15,#a17f16,#a48519,#a38218,#a28217,#a38318,#a5881b,#a5881a,#a68a1c,#a68a1b,#a68a1c,#a6891b,#a6881a,#a6871a,#a58619,#a48519,#a38218,#a38217,#a5881a,#a68b1c,#a68a1c,#a68a1c,#a68c1d,#a68c1e,#a6891b,#a58619,#a5871a,#a6891b,#a68a1b,#a6891b,#a6891b,#a6881a,#a6881a,#a6891b,#a6891b,#a5871a,#a58719,#a5871a,#a58619,#a48519,#a48519,#a58619,#a48519,#a48519,#a48519,#a5871a,#a5891b,#a58619,#a48418,#a48519,#a5871a,#a38418,#a38318,#a58619,#a58619,#a58619,#a5871a,#a68b1d,#a5881a,#a48418,#a58519,#a5871a,#a58619,#a48418,#a58619,#a69021,#a69121,#a69021,#a69323,#a59626,#a49828,#a39929,#a39a2a,#a59b2b,#ab9d2c,#a99d2b,#a49a29,#a49929,#a39a2a,#a59425,#a69223,#a68f20,#a69020,#a99a29,#ae9c2a,#a69525,#a59626,#a49828,#ae9e2c,#d4a836,#dfaf4b,#d2a735,#d6a834,#dbab3d,#ddad44,#e1b151,#e4b65d,#e5b862,#e6b964,#e7bb67,#e7bc6a,#e9be6e,#e9bf70,#e9be6f,#eac072,#e9be6e,#e8bc6b,#e7bb68,#e7ba67,#e5b862,#e4b65e,#e4b65e,#e5b760,#e6b964,#e6b964,#e7bb69,#e9be6d,#eac072,#eac174,#ebc276,#edc57d,#edc67f,#eec781,#efc988,#f1cc90,#f2ce95,#f4d19f,#f6d5a7,#f7d6aa,#f8d9b0,#f9dbb3,#f9deb8,#f8dfb7,#f4e0b6,#efe1b5,#efe1b5,#eee2b4,#ede2b4,#eee2b4,#ede2b4,#eee2b4,#efe1b5,#efe1b5,#f0e1b5,#f0e1b5,#f0e1b5,#f0e1b5)"></div>
<div style="top:75px;height:3px;background:linear-gradient(90deg,#a58519,#a6891b,#a68b1d,#a48519,#a38318,#a38318,#a48519,#a18016,#a07d15,#a18016,#a18017,#a28117,#a28117,#a5871a,#a68b1d,#a68a1b,#a68a1c,#a6891b,#a6891b,#a6891b,#a6881a,#a6881a,#a6891b,#a38318,#a28217,#a38318,#a6881a,#a6881a,#a5871a,#a5871a,#a68a1c,#a68b1c,#a6891b,#a6881a,#a6881a,#a6881a,#a6891b,#a6891b,#a6891b,#a6891b,#a6881a,#a6871a,#a6881a,#a6871a,#a58619,#a58619,#a58619,#a48519,#a48418,#a58619,#a48519,#a38318,#a28217,#a38217,#a38318,#a48418,#a38318,#a38318,#a38318,#a38318,#a48418,#a48519,#a5861a,#a6891b,#a5891b,#a58619,#a5871a,#a5871a,#a5871a,#a6871a,#a5871a,#a48418,#a58619,#a68c1d,#a49727,#a59626,#a69424,#a59727,#a49828,#a39929,#a39a2a,#a39b2b,#a39929,#a49929,#a39929,#a49727,#a59626,#a69323,#a69222,#a69324,#a69928,#b19e2b,#a59525,#a59626,#a49828,#a39a2a,#a69c2c,#c3a32f,#e1b151,#e1b254,#daaa3c,#dcac42,#e2b355,#e9be6e,#eac174,#e7bb68,#e6ba66,#e7bb68,#e7bc69,#e8bd6c,#e9be6f,#e9bf6f,#e9bf71,#e9be6e,#e8bd6c,#e7bb69,#e7bb68,#e6ba66,#e5b75f,#e4b55c,#e4b65e,#e6ba65,#e8bc6a,#e7ba67,#e8bc6a,#eac071,#eac174,#ecc379,#ecc47a,#edc67f,#eec783,#f0ca8a,#f1cd91,#f3cf98,#f5d3a4,#f7d6aa,#f8d8ad,#f9dbb2,#f9ddb6,#f8dfb7,#f5e0b6,#f2e0b6,#eee1b5,#ebe3b3,#ebe2b4,#eae3b3,#ece2b4,#ebe2b4,#ede2b4,#eee2b4,#f0e1b5,#f1e1b5,#f1e1b5,#f0e1b5,#f1e1b5)"></div>
<div style="top:78px;height:3px;background:linear-gradient(90deg,#a58719,#a6891b,#a68c1d,#a5871a,#a48418,#a38318,#a28117,#a17f16,#9f7c15,#a07d15,#a17f16,#a18017,#a28217,#a48519,#a58619,#a68a1c,#a68c1d,#a6891b,#a6891b,#a6881a,#a6871a,#a6881a,#a5881a,#a38318,#a38318,#a58619,#a58619,#a5871a,#a58619,#a58619,#a68b1c,#a68b1d,#a6891b,#a6881a,#a6881a,#a6881a,#a6891b,#a68a1c,#a68a1c,#a6871a,#a58619,#a58619,#a6871a,#a5871a,#a58619,#a58619,#a58719,#a48519,#a48418,#a48519,#a48519,#a28117,#a28117,#a28117,#a48519,#a48519,#a38318,#a28117,#a17f16,#a07e16,#a28117,#a48519,#a5871a,#a58619,#a48519,#a48519,#a58619,#a58619,#a5871a,#a68a1c,#a68a1c,#a68a1c,#a68f20,#a59525,#a49929,#a89d2c,#ad9b2a,#a59626,#a49828,#a39a2a,#a29b2b,#a39c2c,#a39a2a,#a49828,#a49727,#a59525,#a69424,#a69223,#a59525,#a69525,#a59626,#b29e2c,#b19d2b,#b29e2b,#b6a030,#b49f2c,#b9a02c,#c6a32d,#dfb04d,#e7bb68,#e6b963,#e8bd6b,#e5b761,#e5b862,#e8bc6b,#e9be6e,#e6b964,#e7bb67,#e8bc6b,#e8bd6c,#e9be6f,#e9bf70,#e9bf6f,#e8be6d,#e8bc6a,#e7bb67,#e6ba66,#e5b760,#e5b760,#e4b55d,#e4b65e,#e5b862,#e7bc6a,#eac073,#eac174,#eac174,#eac174,#ebc378,#ecc47b,#eec884,#f0cb8d,#f2ce94,#f4d09c,#f5d3a2,#f6d5a7,#f8d8ad,#f9dbb2,#f9ddb6,#f8dfb7,#f3e0b6,#f0e1b5,#efe1b5,#eee2b4,#eae3b3,#e9e3b3,#eae3b3,#ebe3b3,#eae3b3,#ece2b4,#ede2b4,#efe1b5,#f0e1b5,#f0e1b5,#f0e1b5,#f0e1b5)"></div>
<div style="top:81px;height:3px;background:linear-gradient(90deg,#a58619,#a5881b,#a68b1c,#a68a1b,#a48519,#a28217,#a28217,#a17e16,#9f7c15,#a07d15,#a07e16,#a28117,#a48519,#a5871a,#a5871a,#a48519,#a6871a,#a6891b,#a6891b,#a6891b,#a6881a,#a6881a,#a5871a,#a48519,#a38218,#a58519,#a6881a,#a58619,#a48519,#a58619,#a68b1c,#a68b1d,#a6891a,#a6881a,#a6891b,#a68a1c,#a68b1c,#a68a1b,#a6891b,#a6881a,#a58619,#a58519,#a58719,#a58719,#a48519,#a58619,#a58619,#a48519,#a5871a,#a6891b,#a6881a,#a48519,#a48419,#a48519,#a38318,#a28117,#a18017,#a17e16,#a07d15,#a17f16,#a48519,#a48418,#a48519,#a5871a,#a5891b,#a5881a,#a58719,#a58619,#a5871a,#a6891b,#a6871a,#a58619,#a5881b,#a69121,#a49828,#ae9e2c,#ab9d2c,#b19e2b,#ad9c2b,#a49b2b,#a39c2c,#aa9d2c,#b59f2c,#af9d2b,#a49828,#a59727,#a69525,#a69626,#a59626,#a59525,#a49828,#a39929,#a49b2b,#ad9e2c,#c0a12d,#cea635,#d6aa3c,#daac44,#e1b254,#e7bb68,#e7bb69,#e3b45b,#e1b152,#e1b152,#e3b55b,#e8bd6d,#e8bd6b,#e7bb67,#e8bc6a,#e8bd6b,#e9be6f,#e9be6f,#e9be6f,#e8bd6c,#e8bd6b,#e7bb68,#e6b965,#e5b760,#e5b760,#e5b760,#e6ba66,#e8bd6c,#e9be6f,#e9bf70,#e9bf71,#eac073,#eac073,#ecc379,#edc67f,#efc885,#f0cb8c,#f3cf98,#f6d3a4,#f7d6aa,#f8d8ae,#f8dab1,#f9dcb5,#f9deb8,#f5e0b6,#f1e1b5,#efe1b5,#ece2b4,#ebe2b4,#e9e3b3,#e8e3b3,#e9e3b3,#eae3b3,#eae3b3,#ebe3b3,#ebe2b4,#efe1b5,#f0e1b5,#f1e1b5,#f0e1b5,#f0e1b5)"></div>
<div style="top:84px;height:3px;background:linear-gradient(90deg,#a48519,#a58619,#a58619,#a5891b,#a6891b,#a5881a,#a48419,#a17f16,#9f7d15,#a07e16,#a17f16,#a48418,#a48419,#a48418,#a48519,#a58519,#a58719,#a6891b,#a68a1b,#a6891b,#a6881a,#a5871a,#a58719,#a58619,#a38318,#a38318,#a5871a,#a6881a,#a48519,#a58619,#a68a1c,#a68b1c,#a6891b,#a6881a,#a6881a,#a6891b,#a68a1c,#a68c1d,#a6891b,#a6881a,#a58619,#a58619,#a58619,#a58519,#a48418,#a58619,#a48519,#a6891b,#a48519,#a48418,#a38218,#a18017,#a28117,#a18017,#a28117,#a28117,#a18016,#a07e16,#a07d15,#a07e16,#a58619,#a38318,#a38218,#a38318,#a48519,#a68a1c,#a68b1d,#a6881b,#a6881a,#a6891b,#a6871a,#a48519,#a68a1b,#a59324,#a79b2b,#ac9d2c,#a49828,#a49929,#a39a2a,#a99d2c,#ae9e2c,#ad9e2c,#aa9d2c,#a59c2b,#a39929,#a49929,#a79a29,#a59928,#a59626,#a59928,#a39a2a,#a79d2c,#c7a432,#dbac44,#d7ab41,#cca42f,#cfa530,#d6a834,#dfb04c,#e5b861,#e8bc6a,#e4b55c,#e0b04e,#e0b050,#e2b255,#e4b55c,#e5b760,#e6b964,#e7bc69,#e8bd6c,#e9bf6f,#e9bf6f,#e9be6e,#e9be6e,#e8bd6c,#e7bb67,#e6ba66,#e5b862,#e5b862,#e5b862,#e6b964,#e6ba65,#e6b964,#e6ba66,#e8bc6a,#eac073,#ebc377,#edc67e,#edc680,#f0ca8a,#f2cd93,#f4d29f,#f6d5a7,#f7d7ac,#f8dab1,#f9dcb4,#faddb7,#f9deb7,#f4e0b6,#f0e1b5,#ece2b4,#eae3b3,#e8e4b2,#e6e4b2,#e6e4b2,#e7e4b2,#e9e3b3,#e9e3b3,#ebe3b3,#ece2b4,#eee1b5,#efe1b5,#f1e1b5,#f1e1b5,#f1e1b5)"></div>
<div style="top:87px;height:3px;background:linear-gradient(90deg,#a58519,#a58719,#a58719,#a48519,#a48418,#a4871a,#a5871a,#a28117,#a07d15,#a17f16,#a28217,#a28117,#a38318,#a48519,#a48519,#a48519,#a5871a,#a68a1c,#a68c1d,#a68b1d,#a68a1c,#a6881a,#a5871a,#a48418,#a48519,#a58619,#a6881a,#a6891a,#a6871a,#a6881a,#a68a1c,#a68a1c,#a6891b,#a6891b,#a6881a,#a6881a,#a6891b,#a68c1d,#a6891b,#a5871a,#a48519,#a48519,#a48519,#a48418,#a48418,#a48519,#a5871a,#a68b1c,#a48418,#a38217,#a28117,#a17f16,#a07e16,#a07e16,#a28017,#a28017,#a17f16,#a07e16,#a07d15,#a07e16,#a58619,#a38318,#a38418,#a48519,#a5891b,#a68c1d,#a68d1e,#a68d1e,#a68d1e,#a68c1d,#a6891b,#a6891b,#a69021,#a49727,#a39a2a,#a49828,#a69525,#a49828,#a39b2b,#a59c2c,#ae9e2c,#ab9e2c,#b49f2c,#a79c2b,#a49929,#a49828,#a59828,#a89a29,#b29e2b,#a99c2b,#a29b2b,#b39f2c,#dbac42,#e0b04f,#e5b760,#deb04c,#d7a835,#d9a936,#daaa3b,#dfaf4b,#e5b861,#e0b04f,#e0b04e,#e0b050,#e1b154,#e3b45a,#e4b65e,#e6b963,#e7bb67,#e8bc6b,#e8bd6c,#e9be6e,#e9be6f,#e9be6f,#e8bd6d,#e7bc69,#e7bb68,#e6ba66,#e7bb67,#e5b760,#e5b760,#e5b760,#e6b863,#e7bb69,#eac071,#ebc378,#edc67f,#eec782,#eec884,#f1cb8e,#f3cf98,#f6d3a4,#f7d6aa,#f8dab0,#f9dcb5,#f9deb7,#f6dfb7,#f2e1b5,#eee2b4,#ece2b4,#ebe3b3,#e8e3b3,#e6e4b2,#e6e4b2,#e6e4b2,#e6e4b2,#e7e4b2,#e8e3b3,#eae3b3,#ede2b4,#f0e1b5,#f0e1b5,#f1e1b5,#f2e0b6,#f2e0b6)"></div>
<div style="top:90px;height:3px;background:linear-gradient(90deg,#a6881a,#a58719,#a58719,#a48519,#a48418,#a38318,#a38318,#a28217,#a28117,#a17e16,#a17f16,#a28117,#a38318,#a58519,#a5891b,#a68b1d,#a68d1e,#a68e1f,#a68d1e,#a68b1c,#a6891b,#a6881a,#a5871a,#a38318,#a38218,#a48418,#a48418,#a6871a,#a58719,#a6871a,#a6891b,#a6871a,#a6881a,#a6891b,#a6881a,#a6881a,#a6891b,#a68b1c,#a68c1d,#a6881a,#a58519,#a48519,#a48519,#a38318,#a38318,#a48418,#a58519,#a58619,#a5871a,#a48619,#a18017,#a07e16,#a07e16,#a07e16,#a28017,#a28017,#a17f16,#a17f16,#a07d15,#a28017,#a48418,#a38318,#a48418,#a68a1c,#a5881a,#a5871a,#a6881a,#a68a1b,#a68c1e,#a68d1e,#a68d1f,#a68b1d,#a69021,#a49727,#a79b2b,#af9d2a,#ae9c2a,#b09c2a,#a89c2b,#ac9e2c,#b8a02d,#b8a02d,#b6a02c,#aa9d2c,#a39b2b,#a49929,#a49828,#a79a2a,#a69b2a,#a39b2b,#a49c2c,#c2a330,#dcac43,#d8aa3b,#dfaf4c,#e4b65e,#dbab3e,#daaa3c,#dbab3f,#dcac42,#e0b150,#e1b151,#e0b050,#e0b051,#e2b256,#e4b65f,#e6b963,#e8bd6b,#e9bf6f,#e9bf70,#e9bf71,#e9be6e,#e8be6d,#e9be6e,#e8bd6c,#e8bd6b,#e7ba67,#e7bb69,#e6b965,#e5b761,#e4b65e,#e5b761,#e7ba67,#e7bc69,#e9be6f,#ebc175,#ebc378,#edc67f,#efc886,#f1cc91,#f4d19e,#f6d5a8,#f7d7ac,#f9dbb2,#faddb6,#f7dfb7,#f5e0b6,#eee2b4,#ede2b4,#eae3b3,#e9e3b3,#e6e4b2,#e6e4b2,#e6e4b2,#e6e4b2,#e6e4b2,#e8e4b2,#e8e3b3,#ebe3b3,#ede2b4,#efe1b5,#f0e1b5,#f2e0b6,#f2e0b6,#f2e0b6)"></div>
<div style="top:93px;height:3px;background:linear-gradient(90deg,#a68b1c,#a6881b,#a5871a,#a58619,#a48418,#a38318,#a38318,#a48519,#a18016,#a07d15,#a17e16,#a28217,#a5871a,#a68b1d,#a68b1c,#a5881b,#a6881a,#a68a1c,#a68a1c,#a6891b,#a6881a,#a6891b,#a6881a,#a48418,#a38218,#a48418,#a38418,#a48418,#a58619,#a6871a,#a6881a,#a6881a,#a68a1c,#a68b1d,#a68b1c,#a68a1c,#a68b1d,#a68c1d,#a68c1d,#a6891b,#a58619,#a48519,#a48418,#a38218,#a38217,#a38217,#a38318,#a38217,#a18017,#a28017,#a28117,#a28017,#a07e16,#a17f16,#a18017,#a28017,#a17f16,#a17f16,#a17f16,#a38318,#a38318,#a48418,#a58619,#a68b1c,#a5871a,#a6871a,#a6871a,#a6881a,#a68b1c,#a68d1e,#a68d1e,#a68b1c,#a68a1c,#a68e1f,#a69323,#a59525,#a59626,#a49929,#a39c2b,#ad9e2c,#b69f2c,#b7a02c,#af9e2c,#aa9d2c,#a69d2c,#a99c2b,#ac9d2b,#a49929,#a39a2a,#a39c2c,#b6a02d,#d6a938,#cda52f,#d2a632,#d9a939,#e0b150,#dbab3f,#dcac41,#ddad45,#ddad44,#deae48,#deae48,#e0b04e,#e2b356,#e7ba67,#e7bb69,#e7ba66,#e8bc6a,#e8be6d,#e9be6e,#e9bf70,#e8be6d,#e8bd6d,#e9be6f,#e7bc69,#e7bc69,#e7ba67,#e6b964,#e5b861,#e5b75f,#e5b761,#e6ba66,#e6ba66,#e8bd6b,#e8bd6b,#eac072,#eac173,#edc57e,#efc989,#f2cd94,#f5d3a4,#f7d8ac,#f8d9af,#f9dbb3,#f9deb7,#f5e0b6,#f0e1b5,#ede2b4,#ece2b4,#eae3b3,#e6e4b2,#e6e4b2,#e6e4b2,#e6e4b2,#e6e4b2,#e6e4b2,#e8e4b2,#eae3b3,#ece2b4,#eee2b4,#f0e1b5,#f2e0b6,#f4e0b6,#f3e0b6,#f3e0b6)"></div>
<div style="top:96px;height:3px;background:linear-gradient(90deg,#a6891b,#a5871a,#a6871a,#a58619,#a48418,#a38218,#a38218,#a28017,#a17f16,#a17f16,#a28017,#a48418,#a5881a,#a5891b,#a58619,#a58619,#a6881a,#a68a1b,#a68a1c,#a6891b,#a68a1b,#a68b1d,#a68a1c,#a5871a,#a38318,#a48418,#a48418,#a38318,#a48418,#a5871a,#a58619,#a6881a,#a68a1c,#a68a1c,#a68b1c,#a68a1b,#a68b1c,#a68d1e,#a68a1b,#a5871a,#a58619,#a48519,#a48418,#a38318,#a38217,#a38217,#a38318,#a28117,#a17f16,#a07d15,#9f7c15,#a07e16,#a28117,#a28117,#a28117,#a28217,#a28117,#a28117,#a28017,#a48519,#a48418,#a58519,#a6891b,#a68a1c,#a6881a,#a6881a,#a6881a,#a6871a,#a6891b,#a68b1d,#a68d1e,#a68a1c,#a6881a,#a68f1f,#a79828,#b59f2c,#b09b2a,#b29d2c,#b5a02e,#bba12d,#c0a12c,#c2a22d,#c1a22d,#baa02c,#b6a02c,#c5a32e,#a79d2c,#a29b2b,#a49c2c,#a89d2c,#c9a531,#c8a32e,#cea530,#dbab40,#ddad45,#daaa3c,#dcac40,#ddad46,#deae49,#deae49,#e0b150,#e1b153,#e2b356,#e2b256,#e2b358,#e3b45b,#e4b55c,#e5b761,#e5b862,#e7ba66,#e8bd6c,#e8bd6c,#e8bc6b,#e9be6e,#e8bc6a,#e7bb69,#e7bb68,#e7ba67,#e6b964,#e5b862,#e6ba65,#e8bc6a,#e8bc6a,#e9be6e,#e9be6e,#eac174,#ebc275,#edc67f,#f0cb8d,#f4d09c,#f7d6aa,#f8d8ad,#f8dab1,#f9ddb6,#f6dfb7,#f1e1b5,#eee2b4,#ebe2b4,#e9e3b3,#e6e4b2,#e6e4b2,#e6e4b2,#e6e4b2,#e6e4b2,#e6e4b2,#e7e4b2,#e9e3b3,#eae3b3,#ede2b4,#eee2b4,#f1e1b5,#f2e0b6,#f3e0b6,#f5dfb7,#f4e0b6)"></div>
<div style="top:99px;height:3px;background:linear-gradient(90deg,#a6891b,#a6881a,#a5871a,#a58619,#a58619,#a48519,#a48418,#a28217,#a17f16,#a17f16,#a28117,#a38318,#a48418,#a58619,#a58619,#a68b1d,#a68d1e,#a68b1d,#a68b1c,#a68b1d,#a68b1c,#a6881a,#a6871a,#a48519,#a58619,#a58719,#a58619,#a48418,#a48418,#a58619,#a58719,#a58619,#a5871a,#a6891b,#a6881a,#a58719,#a68a1c,#a68c1d,#a6891b,#a58719,#a48519,#a48519,#a48418,#a38318,#a38217,#a28117,#a28217,#a28117,#a17f16,#a07d15,#9f7c15,#a07e16,#a17f16,#a07e16,#a38318,#a38318,#a38318,#a38218,#a38218,#a5881a,#a48418,#a58719,#a68b1d,#a68a1b,#a6881a,#a6881a,#a5871a,#a5871a,#a6881a,#a6881a,#a5881a,#a6881a,#a6891b,#a69121,#ab9c2b,#a69727,#a69525,#a49929,#a69c2c,#b19f2c,#bea12c,#c0a12c,#bea12c,#c7a32e,#cba42f,#c8a42f,#bea12e,#b19f2d,#b29f2d,#bea12d,#c1a22c,#caa42e,#d0a631,#dfaf4b,#dbab3e,#dcac41,#ddad44,#deae47,#deae4a,#e0b04e,#e3b55b,#e4b65e,#e3b459,#e3b45a,#e3b459,#e4b55c,#e4b65d,#e5b862,#e5b861,#e6b964,#e8bd6c,#e8be6d,#e8bd6d,#e9be6f,#e8bd6c,#e8bc6a,#e7bc69,#e7bb69,#e7bb68,#e7bb67,#e9be6e,#e9be6d,#eac072,#eac072,#e8bd6d,#ebc275,#ecc47a,#edc680,#f1cc90,#f6d3a4,#f7d7ab,#f8d9af,#faddb7,#f7dfb7,#f3e0b6,#eee2b4,#ece2b4,#eae3b3,#e8e3b3,#e6e4b2,#e6e4b2,#e6e4b2,#e6e4b2,#e6e4b2,#e6e4b2,#e7e4b2,#e9e3b3,#ebe3b3,#eee2b4,#efe1b5,#f3e0b6,#f6dfb7,#f6dfb7,#f5dfb7,#f6dfb7)"></div>
<div style="top:102px;height:3px;background:linear-gradient(90deg,#a68b1d,#a68c1d,#a68b1c,#a68a1c,#a68a1c,#a5881b,#a5881a,#a5871a,#a28217,#a28017,#a28017,#a28117,#a48418,#a58619,#a68b1c,#a6881b,#a6891b,#a68e1f,#a68e1f,#a68c1d,#a6891b,#a6881a,#a6871a,#a48519,#a48418,#a48519,#a48418,#a38318,#a48418,#a58619,#a58619,#a58619,#a6891b,#a68a1c,#a68a1b,#a68a1c,#a68b1d,#a68b1d,#a6891b,#a58619,#a48519,#a58619,#a48519,#a38318,#a28117,#a28117,#a28117,#a28017,#a17f16,#a28117,#a28117,#a18017,#a28117,#a17f16,#a38318,#a5871a,#a58619,#a48519,#a5881b,#a5871a,#a58619,#a6871a,#a68b1d,#a6891b,#a68a1b,#a6891b,#a6881a,#a5871a,#a6881a,#a6871a,#a48519,#a48418,#a68c1e,#a59526,#a69222,#a69222,#a59525,#a49929,#a49c2b,#b39f2c,#c0a12c,#c7a32d,#caa42e,#c8a32e,#bca12c,#b6a02c,#b7a02c,#b49f2c,#b7a02c,#bfa12c,#c8a32e,#d0a531,#d5a733,#dfb04c,#ddad44,#ddad45,#dfb04c,#e0b04f,#e0b04f,#e0b04e,#e0b04e,#e1b152,#e3b459,#e5b760,#e5b75f,#e4b55d,#e4b65e,#e5b760,#e7bb67,#e8bd6c,#e9be6e,#e7bb69,#e7bb68,#e7bb69,#e8bc6b,#e8bd6c,#e8be6d,#e9be6d,#e8bc6b,#e9be6e,#e9bf6f,#eac173,#ebc277,#eac174,#eac073,#ecc57c,#eec783,#f1cb8f,#f3d09a,#f6d4a6,#f8d8ae,#f8dab0,#f9ddb6,#f5e0b6,#f0e1b5,#eee2b4,#ebe3b3,#e8e3b3,#e6e4b2,#e6e4b2,#e6e4b2,#e6e4b2,#e6e4b2,#e6e4b2,#e6e4b2,#e6e4b2,#e8e3b3,#ece2b4,#f1e1b5,#f1e1b5,#f5e0b6,#f7dfb7,#f8deb7,#f9deb7,#fadeb7)"></div>
<div style="top:105px;height:3px;background:linear-gradient(90deg,#a6891b,#a6891a,#a6891b,#a68a1c,#a5871a,#a48418,#a48519,#a48418,#a38217,#a38318,#a38318,#a38217,#a38418,#a58619,#a68a1c,#a6891b,#a68b1c,#a68c1d,#a68c1d,#a68a1c,#a6881a,#a5871a,#a6881a,#a6871a,#a58619,#a58619,#a48519,#a38318,#a38217,#a28217,#a38318,#a58619,#a68a1c,#a68c1d,#a6891b,#a68a1c,#a68c1d,#a68c1d,#a6891b,#a58619,#a48519,#a58619,#a58619,#a48519,#a38318,#a28217,#a38217,#a18017,#9f7c15,#9e7b14,#a07d15,#a18016,#a28117,#a28117,#a28117,#a48619,#a6891b,#a5871a,#a48418,#a48418,#a58719,#a6891b,#a68c1d,#a68a1b,#a68a1c,#a6891b,#a6881a,#a58619,#a6881a,#a6881a,#a58519,#a48418,#a69021,#a68d1e,#a68e1f,#a69122,#a59626,#a49828,#a49b2b,#b6a02d,#caa430,#c9a32e,#c8a32e,#c7a32d,#c6a32d,#c2a22c,#c2a22c,#c3a22c,#c6a32d,#caa42e,#d3a732,#d7a834,#dbab3f,#e3b65b,#e0b04e,#e0b150,#deae4a,#e0b150,#e3b459,#e2b255,#e0b050,#e1b151,#e2b256,#e3b358,#e4b55d,#e8bd6c,#e8bd6b,#e6ba66,#e6ba66,#e7bb68,#e8bc6b,#e7bc69,#e8bd6c,#e9be6e,#e9bf70,#eac073,#eac072,#e9bf70,#e9bf70,#e9be6e,#e9be6e,#ebc275,#ebc276,#eac073,#ebc175,#edc57d,#efc987,#f1cc91,#f4d09c,#f7d7ab,#f8d9af,#f9dcb5,#f7dfb7,#f3e0b6,#f0e1b5,#ede2b4,#eae3b3,#e8e3b3,#e6e4b2,#e6e4b2,#e6e4b2,#e6e4b2,#e6e4b2,#e6e4b2,#e6e4b2,#e8e3b3,#eae3b3,#eee2b4,#f0e1b5,#f4e0b6,#f8deb7,#f9deb7,#f9ddb6,#f9dcb5,#fadeb7)"></div>
<div style="top:108px;height:3px;background:linear-gradient(90deg,#a68c1d,#a68b1d,#a68b1d,#a68b1d,#a68c1d,#a5881b,#a38318,#a18017,#a28117,#a38318,#a48418,#a38218,#a48418,#a48519,#a58619,#a5871a,#a6891b,#a68a1c,#a68a1c,#a68a1b,#a6881a,#a58619,#a58619,#a58619,#a48519,#a58619,#a48418,#a38318,#a38318,#a38318,#a38318,#a48418,#a68a1b,#a68c1e,#a68b1d,#a68a1b,#a68a1c,#a68d1e,#a68c1e,#a5871a,#a48519,#a58619,#a58619,#a48519,#a38318,#a38318,#a38318,#a28117,#a07e16,#9f7b15,#9f7b14,#a07d15,#a18016,#a28117,#a18017,#a48418,#a58619,#a5871a,#a48519,#a48519,#a6881a,#a68d1e,#a68a1c,#a6891b,#a68a1c,#a68a1b,#a6881a,#a58719,#a6871a,#a5871a,#a48519,#a5881b,#a68e1f,#a68b1d,#a68e1f,#a69222,#a59525,#a49828,#a39b2b,#b19f2d,#cda532,#c9a32e,#c9a32e,#cca42f,#cda530,#cca42f,#cba42f,#cda530,#d4a735,#d6a939,#d9a938,#dbab3e,#ddad44,#dfaf4a,#dfaf4c,#dfaf4d,#e3b358,#e3b55b,#e1b153,#e1b153,#e2b256,#e3b459,#e4b65e,#e6ba66,#e7bc69,#e8bd6b,#eac174,#ebc276,#e9bf70,#e9be6e,#e9bf6f,#eac071,#eac072,#eac174,#ebc276,#ebc276,#eac174,#eac072,#ebc275,#ebc277,#ecc378,#ecc47a,#ecc379,#ecc47b,#edc57c,#efc989,#f1cc91,#f4d19e,#f6d4a5,#f8d8ad,#f9dab1,#faddb6,#f5e0b6,#f2e1b5,#ede2b4,#ebe3b3,#e8e4b2,#e8e3b3,#e6e4b2,#e6e4b2,#e6e4b2,#e6e4b2,#e6e4b2,#e6e4b2,#e6e4b2,#eae3b3,#ece2b4,#eee2b4,#f2e0b6,#f7dfb7,#f9ddb6,#f9dcb5,#f9dbb3,#f9dcb4,#f9dbb3)"></div>
<div style="top:111px;height:3px;background:linear-gradient(90deg,#a6891b,#a6881a,#a6881a,#a68a1c,#a68a1c,#a68b1d,#a6891b,#a38418,#a28117,#a38217,#a38318,#a28117,#a48519,#a48519,#a5871a,#a6891b,#a68a1b,#a68a1b,#a68a1c,#a6891b,#a6881a,#a5871a,#a58619,#a58619,#a48519,#a58619,#a48519,#a48519,#a38318,#a28117,#a28217,#a48519,#a6891b,#a6891b,#a5871a,#a68a1c,#a68a1c,#a68b1d,#a68a1c,#a6891b,#a5881a,#a6881a,#a6891b,#a5871a,#a48418,#a48418,#a48418,#a28117,#a07e16,#9f7b15,#9f7c15,#a07e16,#a17f16,#a17e16,#a28017,#a48418,#a6871a,#a68d1e,#a68e1f,#a68c1e,#a68a1c,#a68c1d,#a68c1d,#a68a1c,#a68a1c,#a68a1c,#a6891b,#a6881a,#a6871a,#a6881b,#a5881a,#a5871a,#a58719,#a68c1d,#a68e1f,#a69121,#a69424,#a49828,#a39b2b,#b19f2c,#cba531,#d6a836,#d6a837,#dbab3d,#deae48,#d8a835,#ddad45,#e6ba66,#e6ba65,#dfaf4c,#ddad46,#dfaf4b,#e0b04f,#e0b04f,#e2b255,#e4b55c,#e6b863,#e6b863,#e4b55c,#e3b358,#e2b358,#e3b359,#e6b965,#eac072,#eac174,#eac072,#eac073,#ecc379,#ecc47a,#ebc377,#ecc47a,#ecc47a,#ecc47a,#edc57d,#ecc57c,#ecc479,#ebc377,#ecc379,#ecc47a,#ecc47a,#ecc479,#edc57e,#eec782,#efc886,#f0ca89,#f1cc8f,#f3cf98,#f5d3a3,#f7d8ad,#f8d9b0,#f9dcb4,#f9deb7,#f5e0b6,#efe1b5,#ede2b4,#eae3b3,#e9e3b3,#e8e3b3,#e6e4b2,#e6e4b2,#e6e4b2,#e6e4b2,#e6e4b2,#e6e4b2,#e7e4b2,#e9e3b3,#eee2b4,#f2e1b5,#f6dfb7,#f9ddb6,#f9dab1,#f8dab1,#f8dab0,#f8d9b0,#f8d8ad)"></div>
<div style="top:114px;height:3px;background:linear-gradient(90deg,#a6891b,#a6881a,#a6891b,#a68a1c,#a6891b,#a5871a,#a38318,#a48519,#a48418,#a28117,#a38217,#a48519,#a38218,#a48418,#a58619,#a6891b,#a68b1d,#a68b1c,#a68a1c,#a6891b,#a6871a,#a5871a,#a5881a,#a5871a,#a5871a,#a5871a,#a48519,#a48418,#a28217,#a28117,#a48418,#a48418,#a5881a,#a6891b,#a6881a,#a6891b,#a68b1d,#a68c1d,#a68a1c,#a58619,#a5881a,#a68a1c,#a68c1d,#a68d1e,#a68a1c,#a58619,#a48519,#a28217,#a17f16,#a28117,#a38218,#a38318,#a38217,#a18017,#a28117,#a48418,#a5871a,#a5871a,#a58a1c,#a68d1e,#a68d1e,#a68c1d,#a68b1d,#a68b1d,#a68c1d,#a68a1c,#a6881a,#a58619,#a5871a,#a58619,#a48418,#a48418,#a5871a,#a68c1d,#a68f1f,#a69121,#a69323,#a59626,#a39a2a,#b7a02d,#cea531,#c4a22d,#d2a734,#deae47,#dfb04d,#d9a937,#d9a939,#dcac42,#dfaf4c,#e0b050,#e1b154,#e2b255,#e2b357,#e7bb69,#e7bb69,#e5b861,#e6b965,#e3b45a,#e2b256,#e2b256,#e4b55c,#e6b863,#e7bb67,#e8bd6d,#e9bf70,#ebc175,#ecc379,#edc57d,#edc57e,#edc680,#edc680,#edc67f,#eec783,#eec783,#eec783,#edc67f,#eec781,#edc67f,#edc67f,#edc681,#eec782,#eec681,#efc989,#f0ca8c,#f2ce95,#f3d09b,#f5d3a3,#f7d6a9,#f8d9af,#f9dcb4,#f9ddb7,#f6dfb7,#f3e0b6,#efe1b5,#ebe2b4,#e9e3b3,#e8e3b3,#e6e4b2,#e6e4b2,#e6e4b2,#e6e4b2,#e6e4b2,#e6e4b2,#e6e4b2,#e8e3b3,#ece2b4,#f1e1b5,#f5e0b6,#f9ddb6,#f9dcb5,#f8d9ae,#f7d8ac,#f7d6aa,#f7d6aa,#f7d6a9)"></div>
<div style="top:117px;height:3px;background:linear-gradient(90deg,#a68a1c,#a6881a,#a6881a,#a68a1c,#a6891b,#a6871a,#a38418,#a38218,#a28117,#a28117,#a28017,#a38217,#a5881a,#a48519,#a48519,#a6871a,#a6891b,#a68a1c,#a68a1c,#a6891b,#a6881a,#a58719,#a58619,#a58619,#a58619,#a5871a,#a5871a,#a38318,#a28217,#a48418,#a38318,#a48418,#a5871a,#a6881a,#a58719,#a58719,#a6891b,#a68c1d,#a68b1c,#a58619,#a58619,#a6891b,#a68d1e,#a68a1c,#a6881a,#a68b1d,#a5881b,#a58619,#a48519,#a28017,#a18016,#a58619,#a28117,#a07e16,#a17f16,#a48418,#a5871a,#a58719,#a58619,#a58719,#a6881a,#a6891a,#a6891b,#a6891b,#a68a1c,#a6891b,#a6891b,#a68a1b,#a68a1b,#a6891b,#a5881a,#a48519,#a5871a,#a68c1d,#a68e1f,#a68f20,#a69223,#a59727,#b09e2c,#bea12e,#cca531,#c4a22c,#cea530,#d9aa3c,#daaa3c,#dbab3e,#deae47,#dfaf4c,#e1b253,#e3b358,#e4b65d,#e5b760,#e7ba67,#e9bf71,#e8bd6d,#e9bf6f,#e5b761,#e5b760,#e5b760,#e4b65e,#e4b55d,#e4b65e,#e4b65e,#e5b861,#e8be6d,#ecc378,#ecc47a,#edc680,#edc67f,#eec782,#efc886,#eec782,#efc987,#f0ca8b,#efca89,#efc987,#efc986,#eec884,#efc989,#efc886,#efca89,#f0ca8b,#f2cd92,#f2ce95,#f4d19e,#f5d3a3,#f7d6a9,#f8d9ae,#f9dbb2,#faddb6,#f9deb8,#f5e0b6,#f3e0b6,#eee1b5,#ece2b4,#eae3b3,#e9e3b3,#e7e4b2,#e6e4b2,#e6e4b2,#e6e4b2,#e6e4b2,#e7e4b2,#e8e4b2,#e9e3b3,#eee2b4,#f4e0b6,#f7dfb7,#f9ddb6,#f8dab1,#f7d7ab,#f6d5a7,#f6d4a5,#f5d2a1,#f6d3a4)"></div>
<div style="top:120px;height:3px;background:linear-gradient(90deg,#a68b1d,#a68c1d,#a68a1b,#a68b1c,#a68b1c,#a5871a,#a38318,#a18017,#a28117,#a38318,#a48418,#a48419,#a48519,#a48519,#a58619,#a6881a,#a6891b,#a6891b,#a6881a,#a6881a,#a6891b,#a6871a,#a6871a,#a58719,#a6881a,#a6881a,#a48519,#a48418,#a38418,#a48418,#a38217,#a38318,#a5871a,#a6881a,#a58719,#a58719,#a6891b,#a68b1d,#a68a1c,#a6871a,#a58619,#a6871a,#a68a1c,#a68a1c,#a6891b,#a6891b,#a68a1c,#a6891b,#a38217,#a18017,#a38418,#a28217,#a28017,#a07e16,#a18016,#a48418,#a5871a,#a68b1c,#a6891b,#a68a1c,#a68a1c,#a6891b,#a6891b,#a68a1b,#a68b1c,#a68b1d,#a68a1c,#a6891b,#a6881a,#a58719,#a6881a,#a68b1d,#a6891b,#a68c1d,#a59122,#a59424,#a59727,#ac9c2a,#b39f2c,#bfa22d,#cda633,#d7ab40,#dbad47,#d9ab3d,#dbab3e,#ddad46,#dfaf4d,#e3b459,#ecc57c,#e9bf70,#e6b965,#e6ba66,#e8bc6b,#e7bb68,#e7bb68,#e9be6e,#e6ba65,#e5b861,#e4b55d,#e3b359,#e3b45a,#e4b55c,#e5b75f,#e6b963,#e8be6d,#ecc47a,#ecc47b,#edc67f,#eec884,#efc886,#f0cb8d,#f0ca8a,#f0cb8d,#f0cb8d,#f0cb8e,#f0cb8e,#f0cb8c,#f0ca8b,#f0ca8c,#f0ca8a,#f1cc91,#f2cd93,#f4d19d,#f5d2a0,#f6d5a7,#f7d7ab,#f8d8ae,#f8dab1,#f9ddb6,#f9deb8,#f7dfb7,#f3e0b6,#f2e0b6,#eee2b4,#eae3b3,#eae3b3,#e9e3b3,#e8e4b2,#e6e4b2,#e6e4b2,#e6e4b2,#e6e4b2,#e7e4b2,#e8e3b3,#eae3b3,#efe1b5,#f3e0b6,#f9ddb6,#f8dab0,#f7d7ac,#f6d5a8,#f5d2a1,#f3d09a,#f3d09a,#f4d19d)"></div>
<div style="top:123px;height:3px;background:linear-gradient(90deg,#a6891b,#a68a1b,#a68a1b,#a68b1d,#a68d1e,#a5881a,#a48519,#a28117,#a18016,#a28217,#a38318,#a38318,#a38318,#a48418,#a48519,#a68d1e,#a68d1e,#a68b1d,#a6881b,#a6881a,#a6891b,#a6881a,#a6881a,#a6871a,#a6881a,#a58719,#a48519,#a48519,#a58619,#a28117,#a28117,#a38318,#a58619,#a6881a,#a5871a,#a6891b,#a68b1c,#a68c1d,#a6891b,#a58719,#a58619,#a6881a,#a68a1b,#a68a1c,#a68a1c,#a68a1c,#a68a1b,#a6881a,#a48418,#a38418,#a38318,#a28217,#a28117,#a07e16,#a18016,#a48519,#a68a1c,#a68e1f,#a68a1c,#a58619,#a6881a,#a6891b,#a6881a,#a6891a,#a68a1b,#a6891b,#a6881a,#a6871a,#a6881a,#a5871a,#a58619,#a68b1d,#a68b1d,#a69121,#a49828,#a49a2a,#aa9d2c,#af9d2b,#b19d2b,#b09e2c,#bca12e,#cfa83a,#dfb04e,#e8bc6a,#e5b860,#e3b55b,#e3b55b,#e8bd6c,#eac072,#ebc277,#eac072,#eac173,#e9be6f,#e8bd6c,#e7bc69,#e7ba66,#e5b761,#e4b65e,#e4b55d,#e4b65e,#e4b55d,#e5b861,#e7ba66,#e8bd6b,#eac072,#ebc378,#edc57e,#eec783,#efc988,#f0cb8d,#f1cb8e,#f1cc90,#f1cc90,#f1cc90,#f1cb8e,#f1cc90,#f1cc91,#f1cc8f,#f0cb8d,#f2cd93,#f2ce95,#f4d09b,#f6d3a4,#f6d5a8,#f7d6aa,#f8d8ad,#f9dbb2,#f9dcb4,#f9ddb7,#f8deb7,#f5dfb7,#f3e0b6,#f0e1b5,#eee2b4,#eae3b3,#eae3b3,#e8e3b3,#e7e4b2,#e6e4b2,#e6e4b2,#e6e4b2,#e6e4b2,#e8e3b3,#e9e3b3,#eee2b4,#f1e1b5,#f6dfb7,#f9ddb6,#f8dab0,#f6d5a8,#f5d2a1,#f2ce96,#f1cb8e,#f1cc8f,#f1cd92)"></div>
<div style="top:126px;height:3px;background:linear-gradient(90deg,#a68b1d,#a68a1c,#a68a1b,#a68c1d,#a68a1c,#a6881b,#a48419,#a28017,#a28117,#a38218,#a58619,#a38318,#a48419,#a48519,#a5871a,#a68b1c,#a68b1d,#a6871a,#a6881a,#a6881a,#a6891a,#a6891b,#a6891b,#a6891b,#a6881a,#a6881a,#a5871a,#a5871a,#a48418,#a28117,#a28117,#a38418,#a58619,#a6881a,#a68b1c,#a68a1c,#a6891b,#a68a1c,#a68b1c,#a6881a,#a58619,#a6881a,#a68a1c,#a68b1c,#a68a1b,#a68b1c,#a68c1e,#a68b1d,#a5881b,#a58619,#a48418,#a58619,#a28117,#a17f16,#a28217,#a58619,#a6881a,#a6881a,#a5881a,#a5881b,#a68a1c,#a68c1d,#a68a1c,#a68a1c,#a68b1d,#a68a1c,#a6891b,#a6881a,#a6881a,#a6881a,#a6871a,#a58719,#a68c1d,#a59222,#a59525,#a59424,#a69424,#a89727,#b09b29,#b39f2d,#b8a02d,#bda12c,#cfa530,#e1b455,#e5b862,#e2b357,#e5b761,#e7bc69,#e8bd6c,#e9bf6f,#eac072,#eac174,#e9bf71,#e9be6e,#e8bc6a,#e7bb68,#e6ba65,#e6b963,#e5b760,#e5b761,#e6b964,#e7bb67,#e8bd6b,#ebc175,#ebc175,#ecc479,#eec782,#efc988,#f0ca8b,#f0ca8b,#f1cc8f,#f1cc90,#f1cd92,#f1cd92,#f1cd91,#f1cd92,#f1cc91,#f1cc90,#f1cd92,#f2ce96,#f3cf98,#f4d19f,#f6d4a5,#f7d7ab,#f8d8ad,#f8dab1,#f9dbb3,#f9ddb6,#f8dfb7,#f7dfb7,#f4e0b6,#f0e1b5,#efe1b5,#ede2b4,#ece2b4,#e9e3b3,#e8e3b3,#e6e4b2,#e6e4b2,#e6e4b2,#e6e4b2,#e8e3b3,#e8e3b3,#eae3b3,#efe1b5,#f4e0b6,#f8deb7,#f9dbb2,#f7d7ac,#f5d2a0,#f1cd92,#efc987,#eec783,#efc987,#efc987)"></div>
<div style="top:129px;height:3px;background:linear-gradient(90deg,#a68e1f,#a68c1d,#a68a1b,#a68b1d,#a68a1c,#a5871a,#a48418,#a38418,#a38318,#a48418,#a38318,#a48519,#a48519,#a48419,#a48519,#a6881a,#a68a1b,#a6871a,#a58619,#a6881a,#a6881a,#a6881a,#a68a1b,#a68a1c,#a6891b,#a6891b,#a58719,#a5871a,#a48418,#a28217,#a28117,#a38318,#a58619,#a6881a,#a68a1c,#a68a1c,#a6881a,#a6891b,#a6881a,#a58619,#a5871a,#a6891b,#a68a1c,#a68b1c,#a68b1d,#a68c1d,#a69021,#a68e1f,#a68b1d,#a68b1c,#a68b1d,#a48519,#a28117,#a28117,#a28217,#a58619,#a68b1d,#a68a1b,#a68c1d,#a68c1d,#a6891b,#a6881a,#a6881a,#a6881a,#a6891b,#a6891b,#a6881a,#a68a1b,#a68b1c,#a68b1c,#a68b1c,#a68b1d,#a68d1e,#a69223,#a59324,#a59727,#a69a29,#a99a29,#b09b29,#a49a2a,#a99d2c,#bda12c,#cea530,#daaa3a,#e8bd6b,#e3b359,#e6b964,#e8be6d,#eac073,#ebc275,#eac174,#eac073,#e9bf70,#e9be6e,#e8bd6b,#e7bb68,#e7ba67,#e6ba66,#e6b963,#e6b963,#e6ba66,#e8bd6c,#eac072,#ecc378,#ebc378,#edc57e,#eec784,#efc987,#f0ca8b,#efc989,#f0ca8c,#f0cb8c,#f1cc90,#f1cc91,#f1cc91,#f0cb8d,#f1cc8f,#f1cc91,#f1cd92,#f3cf98,#f4d19e,#f6d3a4,#f7d5a8,#f7d6aa,#f8d8ad,#f8dab1,#f9dcb4,#f9dcb5,#f8deb7,#f6dfb7,#f3e0b6,#f1e1b5,#f0e1b5,#ede2b4,#ebe3b3,#e8e3b3,#e7e4b2,#e7e4b2,#e6e4b2,#e6e4b2,#e6e4b2,#e7e4b2,#e7e4b2,#ece2b4,#f1e1b5,#f6dfb7,#f9dcb5,#f8d9af,#f6d5a8,#f3d09b,#f0cb8c,#ecc47b,#ecc378,#ecc57c,#ecc379)"></div>
<div style="top:132px;height:3px;background:linear-gradient(90deg,#a68d1f,#a68b1d,#a68a1c,#a68b1c,#a68a1c,#a5871a,#a48418,#a38318,#a6891b,#a48519,#a48519,#a48418,#a48418,#a48419,#a5881b,#a68a1b,#a6891b,#a68a1b,#a6881a,#a5881a,#a68a1c,#a6881a,#a6881a,#a6881a,#a6891a,#a6881a,#a6891b,#a58619,#a48519,#a38217,#a38217,#a38318,#a58619,#a6881a,#a6891b,#a6891b,#a68b1c,#a68b1d,#a6891b,#a58619,#a58619,#a68a1c,#a68c1d,#a68b1d,#a68b1c,#a68c1d,#a68f20,#a68e1f,#a68a1c,#a6891b,#a58619,#a38418,#a38318,#a18017,#a38218,#a68c1e,#a68d1e,#a6891b,#a68b1c,#a6891b,#a6881a,#a6881a,#a6881a,#a6871a,#a6891b,#a6891b,#a6891b,#a6891b,#a6891b,#a6891b,#a6881a,#a6891b,#a68b1d,#a69020,#a59526,#a69222,#a69323,#a59525,#a59828,#ab9c2a,#b29f2c,#c1a22c,#d1a631,#dfb14d,#e5b760,#e3b358,#e7bc69,#eac072,#ebc275,#ebc175,#eac073,#e9bf71,#e8be6d,#e8bc6a,#e7bb68,#e7bb68,#e7bb67,#e7bb68,#e7bb69,#e7bb69,#e7bc69,#e9bf71,#ebc276,#ecc379,#ecc47a,#edc67f,#eec782,#eec885,#efc988,#efc987,#f0ca8a,#efc988,#efc987,#efca89,#f0ca8c,#f0ca8a,#f0cb8e,#f1cb8f,#f2cd94,#f3cf98,#f5d2a1,#f5d3a3,#f7d5a9,#f7d7ac,#f8d9af,#f9dbb3,#f9dcb4,#fadeb8,#f9deb8,#f7dfb7,#f2e0b6,#f1e1b5,#efe1b5,#ede2b4,#eae3b3,#e9e3b3,#e8e4b2,#e6e4b2,#e6e4b2,#e6e4b2,#e6e4b2,#e7e4b2,#e8e3b3,#ebe2b4,#f2e0b6,#f7dfb7,#f9dbb3,#f7d7ac,#f5d3a3,#f1cd92,#efc886,#ebc276,#e9bf71,#eac174,#e9bf70)"></div>
<div style="top:135px;height:3px;background:linear-gradient(90deg,#a68c1d,#a68a1b,#a68a1b,#a68b1c,#a68b1c,#a6891b,#a6891b,#a5881b,#a6891b,#a68a1c,#a5881a,#a48519,#a48519,#a48418,#a48519,#a68b1c,#a68c1d,#a5871a,#a58619,#a5871a,#a6891b,#a68a1b,#a6891b,#a6891b,#a68a1b,#a68a1c,#a6891b,#a58619,#a58619,#a48519,#a48519,#a5871a,#a68b1c,#a68c1d,#a68a1b,#a6881a,#a6881a,#a58719,#a58719,#a5881a,#a5881b,#a68e1f,#a69021,#a68d1e,#a68b1c,#a68c1d,#a68e1f,#a68f20,#a68a1b,#a58619,#a58619,#a5871a,#a38318,#a18016,#a5881a,#a68b1d,#a6891b,#a6891b,#a68c1d,#a68b1c,#a68a1c,#a6891b,#a6891b,#a6881a,#a6891b,#a6891b,#a6891b,#a68a1b,#a6891b,#a6881a,#a6881a,#a68a1c,#a68c1e,#a68f20,#a59424,#a49828,#a99c2b,#b09f2c,#c2a22d,#c8a32e,#d1a632,#d9aa3a,#e1b253,#ecc47b,#e2b256,#e4b65e,#e9bf70,#e9bf6f,#eac174,#eac175,#e9bf70,#e8bd6d,#e8bc6a,#e6ba66,#e6ba66,#e6ba66,#e6ba65,#e7ba67,#e8bc6a,#e9be6e,#e9bf6f,#ebc275,#ecc379,#ecc47b,#edc57d,#edc680,#eec681,#eec781,#eec782,#eec781,#edc67f,#edc67e,#edc57e,#eec681,#eec884,#eec885,#efc988,#f0cb8c,#f1cc90,#f2ce95,#f4d19d,#f5d3a3,#f7d6a9,#f8d8ad,#f8d9af,#f8dab1,#f9dcb4,#faddb6,#f8dfb7,#f6dfb7,#f3e0b6,#f0e1b5,#efe1b5,#ede2b4,#ebe3b3,#e9e3b3,#e8e3b3,#e7e4b2,#e6e4b2,#e6e4b2,#e6e4b2,#e7e4b2,#eae3b3,#eee2b4,#f3e0b6,#f8deb7,#f9dab2,#f7d6aa,#f3d09a,#efc886,#ecc47b,#eac174,#e9be6e,#e8be6d,#e9bf70)"></div>
<div style="top:138px;height:3px;background:linear-gradient(90deg,#a68a1b,#a6891b,#a6891b,#a68b1d,#a68c1d,#a68b1d,#a6891b,#a48519,#a6871a,#a6891b,#a68a1c,#a68a1c,#a6891b,#a5871a,#a5871a,#a6891b,#a6881a,#a58619,#a48519,#a5871a,#a68a1c,#a68a1c,#a68b1c,#a68a1c,#a68a1b,#a68a1b,#a6881a,#a6891b,#a68a1c,#a6891b,#a6891b,#a68b1d,#a68d1e,#a68c1e,#a6881a,#a48519,#a48418,#a48519,#a58619,#a58619,#a5871a,#a68b1c,#a69020,#a68f20,#a68c1e,#a68c1e,#a68c1d,#a68c1e,#a68b1d,#a68a1c,#a68a1b,#a58619,#a38218,#a38218,#a5871a,#a6881a,#a68a1c,#a68a1c,#a68a1b,#a68a1b,#a68a1c,#a6891b,#a6891b,#a68b1d,#a68c1d,#a68b1c,#a68a1c,#a68a1c,#a68a1b,#a68a1c,#a68a1c,#a68b1c,#a68d1e,#a69222,#a59828,#a59b2a,#a59a2a,#a49c2c,#b59f2c,#c6a32e,#d8a939,#deae49,#deb04b,#e1b455,#e2b256,#e6ba65,#e8bd6b,#eac072,#eac174,#eac073,#e9bf70,#e9be6e,#e8bd6c,#e6ba66,#e7bb67,#e7bb68,#e7bc69,#e8bd6c,#e9be6e,#eac174,#ecc378,#ecc47a,#edc57c,#edc57d,#eec781,#eec681,#edc67e,#edc57d,#ecc47a,#ebc378,#ebc378,#ebc377,#ebc276,#ecc47b,#edc57e,#eec884,#eec885,#efc988,#f0cb8d,#f3ce97,#f4d19e,#f5d3a3,#f7d5a9,#f7d7ac,#f8d9af,#f9dab2,#f9dcb4,#f9ddb6,#f9deb8,#f6dfb7,#f3e0b6,#f1e1b5,#f0e1b5,#ede2b4,#eae3b3,#e8e3b3,#e7e4b2,#e6e4b2,#e6e4b2,#e6e4b2,#e6e4b2,#e6e4b2,#eae3b3,#f0e1b5,#f7dfb7,#f9dcb5,#f8d9af,#f6d4a6,#f2ce94,#edc67f,#ebc277,#e8bd6d,#e6ba66,#e5b761,#e5b862)"></div>
<div style="top:141px;height:3px;background:linear-gradient(90deg,#a6881a,#a6881a,#a6881a,#a68a1c,#a68b1c,#a68c1d,#a58619,#a48519,#a6881a,#a6891b,#a6891b,#a68c1e,#a5881a,#a48519,#a58619,#a68a1b,#a6891b,#a58619,#a48519,#a58619,#a5871a,#a68a1c,#a68b1c,#a68a1c,#a68a1b,#a68b1c,#a6891b,#a6881a,#a6871a,#a48418,#a48418,#a6881a,#a68c1e,#a68b1d,#a58619,#a28117,#a28217,#a48418,#a58619,#a58619,#a58619,#a6891b,#a68b1d,#a68d1e,#a68d1e,#a68b1c,#a68d1e,#a68d1e,#a6891b,#a6871a,#a58619,#a48519,#a38218,#a28217,#a38318,#a6881a,#a68b1c,#a68c1d,#a68b1d,#a6891b,#a6881a,#a6891a,#a6881a,#a6881a,#a68a1c,#a68d1e,#a68f20,#a69121,#a68f20,#a68a1c,#a68b1c,#a68f20,#a59525,#a59727,#a59626,#a59626,#a49727,#a49828,#a49929,#a39b2b,#ac9e2c,#c4a330,#dbae47,#e8bd6b,#e7bb68,#e8bd6c,#e9bf71,#eac073,#e9bf71,#e9bf71,#e9be6f,#e8bc6a,#e6b965,#e6b963,#e6ba65,#e8bd6c,#eac072,#eac173,#ebc378,#ecc378,#edc57d,#eec782,#eec782,#eec884,#eec783,#edc680,#edc67f,#ecc47b,#ecc379,#ebc175,#ebc277,#ecc378,#ebc276,#ecc378,#ecc57c,#edc680,#eec782,#efc886,#f0cb8c,#f2ce96,#f5d29f,#f5d2a2,#f6d4a7,#f7d6aa,#f8d8ad,#f8dab0,#f9dbb3,#faddb6,#f8deb8,#f6dfb7,#f4e0b6,#f2e0b6,#f0e1b5,#eee2b4,#ebe3b3,#e9e3b3,#e7e4b2,#e6e4b2,#e6e4b2,#e6e4b2,#e7e4b2,#e8e3b3,#ece2b4,#efe1b5,#f7dfb7,#f9ddb5,#f8d8ae,#f5d2a1,#f0cb8e,#ecc57c,#e8bd6c,#e6b964,#e4b65f,#e3b55b,#e3b359)"></div>
<div style="top:144px;height:3px;background:linear-gradient(90deg,#a6871a,#a5871a,#a6881a,#a6891b,#a68a1c,#a68b1c,#a48519,#a58619,#a6891b,#a68a1c,#a68b1d,#a68a1c,#a5871a,#a58619,#a58619,#a68a1b,#a68a1b,#a6881a,#a5871a,#a6881a,#a6881a,#a68a1b,#a68b1d,#a68a1c,#a68a1c,#a68a1c,#a6881a,#a6881a,#a6881a,#a58619,#a48519,#a6881a,#a6891b,#a6891b,#a48519,#a28117,#a28217,#a48418,#a58619,#a6871a,#a6871a,#a6891b,#a68a1c,#a68b1c,#a68b1c,#a68d1e,#a68c1d,#a68b1c,#a68a1c,#a6891b,#a6881a,#a58619,#a38318,#a28117,#a48418,#a6891b,#a68d1e,#a68e1f,#a68b1c,#a6891b,#a6891b,#a6891b,#a6871a,#a48519,#a58619,#a6891b,#a69020,#a69223,#a69424,#a69223,#a69324,#a59424,#a69021,#a69323,#a59727,#a59727,#a59626,#a59626,#a49727,#a39a2a,#a99d2c,#bca12c,#d8ac40,#e9bf70,#e1b254,#e5b862,#e8bd6c,#eac072,#eac071,#e9bf70,#e8bc6b,#e7ba67,#e5b760,#e4b65e,#e5b760,#e7ba66,#e8bd6b,#e9bf70,#ebc378,#ecc47a,#eec884,#efc987,#efc988,#efc989,#eec884,#eec884,#edc67f,#ecc47b,#ecc378,#e9bf70,#e9bf70,#e9bf70,#e8be6d,#eac072,#ecc378,#ecc57b,#edc57e,#eec783,#f1cb8e,#f2ce96,#f4d19e,#f5d2a0,#f6d4a7,#f7d6a9,#f7d7ab,#f8d9af,#f8dab1,#f9dcb5,#faddb7,#f8dfb7,#f6dfb7,#f2e0b6,#efe1b5,#ede2b4,#ebe3b3,#e9e3b3,#e8e4b2,#e7e4b2,#e6e4b2,#e6e4b2,#e8e3b3,#ebe3b3,#ede2b4,#f0e1b5,#f6dfb7,#f9dcb5,#f7d7ab,#f3d09b,#eec783,#ecc47a,#ebc378,#ebc277,#e4b55c,#e2b257,#e2b256)"></div>
<div style="top:147px;height:3px;background:linear-gradient(90deg,#a58719,#a6871a,#a6871a,#a6891b,#a6891b,#a68a1c,#a58619,#a6871a,#a6891b,#a68a1c,#a68b1d,#a68b1c,#a6891b,#a5861a,#a58619,#a6881a,#a6891b,#a6881b,#a48519,#a5871a,#a6881a,#a6891b,#a68a1b,#a6891b,#a68a1b,#a68a1c,#a68b1d,#a6891a,#a6881a,#a58719,#a48418,#a48519,#a48519,#a48418,#a28217,#a38318,#a48519,#a48519,#a5871a,#a6881a,#a5871a,#a6891b,#a68a1c,#a68a1c,#a68a1b,#a68b1c,#a68e1f,#a68c1d,#a6891b,#a6891b,#a68b1c,#a58619,#a38318,#a28117,#a48519,#a68a1c,#a68d1e,#a68b1c,#a68a1b,#a6891b,#a6881a,#a6891a,#a58619,#a48519,#a58519,#a6881a,#a68a1c,#a68f20,#a69222,#a69323,#a68f20,#a68e1f,#a69021,#a59727,#a39b2b,#a49a2a,#a59626,#a59626,#a59727,#a39a2a,#a99d2c,#bda12c,#cfa530,#e1b354,#eac175,#e4b65e,#e6ba66,#e8bd6c,#e9bf71,#e9bf6f,#e8bd6c,#e7bb67,#e6b863,#e5b862,#e6ba65,#e8bc6a,#e8bd6d,#ebc378,#ecc57c,#eec782,#efc989,#f0ca8b,#f0ca8b,#f0ca8a,#efc987,#eec781,#edc67f,#edc57e,#ecc47a,#e9bf70,#e8bd6d,#e7bc69,#e8bd6b,#e8be6d,#eac073,#ebc377,#edc57d,#eec783,#efc989,#f2ce95,#f4d19d,#f5d3a3,#f6d3a5,#f7d5a8,#f7d6aa,#f7d8ac,#f8d9af,#f9dcb4,#f9dcb5,#f9deb7,#f6dfb7,#f1e1b5,#efe1b5,#ede2b4,#ebe2b4,#e9e3b3,#e7e4b2,#e7e4b2,#e7e4b2,#e6e4b2,#e9e3b3,#ebe2b4,#f0e1b5,#f3e0b6,#f8deb7,#f9dbb3,#f7d6aa,#f3cf99,#eec783,#eac072,#e9bf70,#e7bb69,#e1b152,#e0b04f,#e1b151)"></div>
<div style="top:150px;height:3px;background:linear-gradient(90deg,#a5871a,#a6871a,#a5871a,#a6881a,#a68a1b,#a6891b,#a58719,#a5871a,#a6891b,#a68a1b,#a6891b,#a6891a,#a6881a,#a58519,#a58619,#a6891b,#a68c1d,#a6881a,#a58619,#a6881a,#a6891b,#a6891b,#a6881a,#a6871a,#a68b1d,#a68b1c,#a6881a,#a6881a,#a6881a,#a58619,#a48519,#a48519,#a58619,#a48418,#a28217,#a38418,#a6881a,#a58719,#a6891b,#a68a1c,#a6881a,#a6891b,#a68a1c,#a68a1c,#a6891b,#a68a1c,#a68b1c,#a68c1d,#a68b1d,#a68a1c,#a6881a,#a5871a,#a5871a,#a48418,#a58619,#a68b1d,#a68b1c,#a68a1c,#a6891b,#a6881a,#a68b1c,#a68a1c,#a5881b,#a48418,#a38318,#a58719,#a68b1c,#a68c1e,#a68b1d,#a68b1d,#a69121,#a59424,#a49727,#a49828,#a39929,#a59727,#a59525,#a59626,#a49727,#a49a2a,#b09e2d,#c6a535,#daad46,#ebc379,#e9bf72,#e7bb69,#e8bc6a,#e8be6d,#e9bf70,#e8be6d,#e8bd6c,#e8bc6a,#e7ba67,#e7ba67,#e8bc6b,#e8bd6b,#eac072,#ebc275,#ecc47b,#efc886,#f0cb8c,#f1cb8f,#f1cc8f,#f1cb8e,#efc988,#eec782,#edc67f,#ecc47b,#ebc277,#ebc275,#e9bf6f,#e7bb67,#e7bb68,#e8bc6a,#e9be6f,#eac173,#ecc479,#eec784,#f0ca8b,#f2cd93,#f3cf99,#f5d2a1,#f5d3a4,#f6d5a7,#f7d6a9,#f7d7ab,#f8d9af,#f9dbb2,#f9dcb4,#f9deb7,#f5e0b6,#f1e1b5,#efe1b5,#ede2b4,#ece2b4,#eae3b3,#e8e3b3,#e9e3b3,#e8e3b3,#e9e3b3,#eae3b3,#ede2b4,#f0e1b5,#f5dfb7,#f9deb7,#f8dab1,#f7d6a9,#f2ce95,#edc67e,#e9bf70,#ebc379,#e5b861,#e3b55b,#e4b65e,#e4b65d)"></div>
<div style="top:153px;height:3px;background:linear-gradient(90deg,#a58619,#a58719,#a58719,#a6881a,#a68b1c,#a6881a,#a58719,#a6891b,#a68b1d,#a68a1c,#a6891b,#a6881a,#a6881a,#a58619,#a58619,#a6891b,#a68b1d,#a68a1c,#a6881a,#a6891b,#a68a1c,#a68a1c,#a6891b,#a6891b,#a68a1c,#a68c1d,#a68a1c,#a6881a,#a6881a,#a58719,#a48519,#a58519,#a58619,#a48519,#a4861a,#a5871a,#a48519,#a58619,#a6891b,#a68c1d,#a68a1b,#a6891b,#a68a1c,#a68a1b,#a6881a,#a6891b,#a68b1c,#a68b1c,#a6891b,#a6891b,#a6891b,#a68a1c,#a5881a,#a48418,#a5881a,#a6891b,#a6891b,#a6891b,#a6891b,#a6881a,#a68a1c,#a6881a,#a58519,#a48519,#a38418,#a58619,#a68b1c,#a68d1e,#a68b1d,#a68b1d,#a68d1e,#a69222,#a49828,#a49929,#a49828,#a49727,#a49828,#a89a29,#aa9b2a,#b49e2c,#b49f2d,#baa02c,#cfa737,#e4b75f,#deae49,#e3b358,#e5b760,#e7bb67,#e8bd6c,#e8bd6d,#e8bd6c,#e7bc69,#e7bb68,#e7bc6a,#e8bd6d,#e9bf70,#eac174,#edc57d,#eec782,#f0ca8a,#f0cb8e,#f1cc8f,#f1cc8f,#f1cd91,#f0cb8d,#efc988,#eec884,#edc57c,#ecc47a,#ebc175,#eac173,#e9be6e,#e7bc69,#e8bc6a,#eac173,#ecc379,#edc57e,#eec884,#f0cb8c,#f2cd94,#f3cf99,#f4d19d,#f5d2a0,#f5d3a4,#f7d5a9,#f7d6aa,#f7d7ac,#f8d9af,#f9dcb4,#f9deb8,#f4e0b6,#f1e1b5,#eee2b4,#ece2b4,#ebe3b3,#eae3b3,#eae3b3,#e9e3b3,#e9e3b3,#ebe3b3,#ebe2b4,#eee2b4,#f2e0b6,#f5e0b6,#f9ddb6,#f9dab1,#f7d6a9,#f2cd92,#ecc57c,#ebc277,#edc67f,#ebc276,#e5b760,#e0b04f,#dfaf4d)"></div>
<div style="top:156px;height:3px;background:linear-gradient(90deg,#a48519,#a48519,#a58719,#a68a1b,#a68b1d,#a68b1d,#a6881b,#a6881a,#a68a1b,#a68b1d,#a68a1c,#a6891b,#a6881a,#a58619,#a58619,#a6881a,#a6881a,#a6881a,#a5871a,#a6881a,#a6891b,#a6891b,#a6881a,#a6881a,#a68b1c,#a68c1d,#a68c1d,#a68a1c,#a6891b,#a6881a,#a58619,#a5871a,#a6881a,#a68c1d,#a68a1c,#a48519,#a48418,#a5871a,#a68a1b,#a68d1e,#a6891b,#a6891b,#a68a1b,#a68a1b,#a6881a,#a6881a,#a68b1c,#a68b1d,#a68a1c,#a6891b,#a6891b,#a6881a,#a58619,#a58619,#a58619,#a6881a,#a6881a,#a6891a,#a6881a,#a6881a,#a68c1d,#a6871a,#a48418,#a28117,#a28217,#a5891b,#a68f20,#a68e1f,#a68d1e,#a68c1d,#a68c1d,#a68e1f,#a68f20,#a69323,#a69424,#a59525,#a59525,#a59626,#a59727,#a49828,#a39b2b,#ad9e2c,#cda737,#e0b14f,#ddad45,#e2b255,#e7ba67,#eac072,#e9be6e,#e9bf6f,#e9bf70,#e9be6e,#e9be6e,#e8be6d,#eac071,#ecc479,#ecc47a,#eec782,#efca89,#f0cb8e,#f1cd92,#f2cd93,#f2ce95,#f2ce94,#f1cc90,#f0cb8d,#efc987,#edc680,#ecc47a,#ebc378,#eac073,#eac072,#e8bd6d,#e9be6e,#e9bf71,#ebc378,#ecc47a,#efc885,#f0ca8b,#f2ce95,#f4d09b,#f4d09c,#f4d19f,#f5d2a1,#f6d4a5,#f7d5a8,#f7d6aa,#f8d9ae,#f9dcb5,#f9deb7,#f4e0b6,#f1e1b5,#eee2b4,#ece2b4,#ebe3b3,#eae3b3,#ece2b4,#ece2b4,#ece2b4,#ece2b4,#ede2b4,#f0e1b5,#f3e0b6,#f6dfb7,#f9ddb5,#f7d8ac,#f6d4a6,#f0cb8c,#ecc47b,#eac071,#ecc47b,#e9be6f,#e1b152,#ddad46,#ddad46)"></div>
<div style="top:159px;height:3px;background:linear-gradient(90deg,#a58619,#a58619,#a6871a,#a68a1c,#a68b1c,#a68b1c,#a6881a,#a6881a,#a6891b,#a6881a,#a68b1c,#a6891b,#a6881a,#a58719,#a58619,#a6891b,#a6891b,#a6881a,#a6871a,#a6891b,#a68a1b,#a68a1c,#a6881b,#a5871a,#a6881a,#a6891b,#a6881a,#a6871a,#a5871a,#a58619,#a6881a,#a6891b,#a68b1c,#a68d1e,#a68d1e,#a6891b,#a58619,#a6881a,#a68c1d,#a68e1f,#a68c1d,#a68b1d,#a6891b,#a6891b,#a6891b,#a68a1c,#a68b1c,#a68b1c,#a68a1b,#a6891b,#a6891b,#a68b1c,#a6891b,#a48519,#a48519,#a6881a,#a5871a,#a6881a,#a58719,#a58619,#a68a1c,#a48519,#a28217,#a17f16,#a28017,#a48519,#a68c1d,#a69223,#a69222,#a68d1f,#a68d1e,#a68f20,#a69021,#a49727,#a59525,#a59525,#a59727,#a59a2a,#a59828,#a49828,#a39929,#a89d2c,#d0a83b,#d6a938,#dbab3e,#e2b255,#e7bb68,#e8bc6b,#e8bd6b,#eac073,#ebc377,#ebc277,#ebc377,#ecc379,#edc57d,#edc67f,#eec884,#efc986,#f0ca8b,#f1cc8f,#f2cd93,#f2ce96,#f2cd94,#f3ce97,#f1cc90,#f1cc91,#efca89,#eec884,#ecc47b,#ebc378,#e9bf70,#e9be6f,#e8bc6a,#e8bd6b,#e9bf70,#ecc479,#ecc47b,#eec884,#f0cb8e,#f2ce95,#f3d09a,#f4d19e,#f4d19d,#f4d19e,#f5d3a2,#f6d5a7,#f7d7ac,#f8dab0,#f9dcb4,#f9deb7,#f6dfb7,#f1e1b5,#ede2b4,#ebe2b4,#ece2b4,#ebe3b3,#ece2b4,#ede2b4,#eee2b4,#efe1b5,#efe1b5,#f0e1b5,#f3e0b6,#f6dfb7,#f9ddb5,#f7d7ab,#f5d2a0,#eec885,#ebc378,#e9bf70,#e6b964,#e2b255,#deae4a,#ddad45,#dcac43)"></div>
<div style="top:162px;height:3px;background:linear-gradient(90deg,#a6881a,#a6881b,#a6891b,#a68a1c,#a68a1c,#a68a1c,#a6891b,#a68a1c,#a68b1c,#a6891b,#a68a1b,#a68b1c,#a68b1c,#a6881a,#a6881a,#a68a1b,#a68b1c,#a68a1c,#a6891b,#a68a1b,#a68a1c,#a68b1d,#a5871a,#a58619,#a6891b,#a6891b,#a6881a,#a5871a,#a58619,#a58619,#a5871a,#a6871a,#a6881a,#a68c1e,#a68e1f,#a68b1d,#a6881a,#a6891b,#a68a1c,#a68d1e,#a6891b,#a6891b,#a68b1c,#a68b1d,#a68b1c,#a6891b,#a68a1c,#a68d1e,#a68b1d,#a6881a,#a6891b,#a68a1c,#a6881a,#a58619,#a58619,#a58719,#a58619,#a58719,#a58719,#a58619,#a68b1c,#a6891b,#a48418,#a07e16,#a17f16,#a48519,#a68d1e,#a69021,#a69021,#a69021,#a59525,#a69323,#a69223,#a69323,#a69222,#a69323,#a69424,#a59525,#a89b2a,#a49828,#a39929,#aa9d2c,#d6aa3c,#cda530,#daab3d,#e1b152,#e3b45a,#e6b965,#eac072,#ebc378,#ecc57c,#ecc57c,#ecc47b,#ecc47b,#eec782,#efc886,#eec783,#efc988,#f0cb8c,#f1cc91,#f2cd94,#f3cf97,#f3ce97,#f3cf9a,#f3ce97,#f2ce95,#f1cc8f,#efc989,#edc67f,#ecc47a,#ebc276,#eac071,#e8bd6c,#e8bd6d,#eac072,#ebc378,#edc680,#efc988,#f1cc8f,#f2ce95,#f3cf98,#f3d09a,#f3d09a,#f4d09c,#f4d19f,#f5d3a3,#f7d6aa,#f8d8ad,#f9dbb2,#fadeb7,#f6dfb7,#f3e0b6,#efe1b5,#ede2b4,#ece2b4,#ece2b4,#ede2b4,#eee2b4,#f0e1b5,#f1e1b5,#f3e0b6,#f4e0b6,#f8dfb7,#fadeb7,#f9dbb3,#f8d8ae,#f4d29f,#f0cb8c,#ecc37a,#e6ba65,#e3b45a,#e1b153,#deae4a,#ddad44,#ddad44)"></div>
<div style="top:165px;height:3px;background:linear-gradient(90deg,#a5871a,#a5881a,#a5881a,#a6881a,#a6881a,#a68a1b,#a68a1c,#a68b1d,#a68b1d,#a6891b,#a6871a,#a6891b,#a6891b,#a6871a,#a58719,#a6871a,#a6881a,#a6891b,#a68b1c,#a68c1d,#a68c1d,#a68a1b,#a6891b,#a5871a,#a6891b,#a68c1d,#a5871a,#a58619,#a58619,#a58619,#a58719,#a6871a,#a6881a,#a6891b,#a6881a,#a6881a,#a6891b,#a68a1c,#a68a1c,#a68c1d,#a6891b,#a6891a,#a6891b,#a6891b,#a6881a,#a6881a,#a68a1c,#a68b1d,#a68c1d,#a6891b,#a6891b,#a6891b,#a6881a,#a5871a,#a6881a,#a58719,#a48519,#a58619,#a58619,#a48519,#a48418,#a5871a,#a28117,#9f7c15,#a28117,#a5871a,#a68a1c,#a68d1e,#a68d1e,#a68c1d,#a68d1e,#a59323,#a69222,#a69121,#a69122,#a69222,#a69323,#a69525,#a59727,#b09e2b,#b09d2b,#c7a431,#c5a32f,#cda530,#dbab3e,#e0b04f,#e4b65e,#e9be6f,#ecc47a,#ebc378,#edc67f,#edc57d,#eec781,#efc885,#efc989,#f0ca8b,#efc989,#f0ca8a,#f0cb8e,#f2cd92,#f2ce94,#f2ce96,#f2ce96,#f3d09b,#f3cf99,#f3cf98,#f2ce95,#f1cc90,#efc886,#edc57d,#edc57d,#ebc275,#eac072,#e9bf70,#ebc175,#ecc47b,#eec781,#eec884,#f0cb8d,#f2ce94,#f2ce96,#f3cf98,#f3d09a,#f4d19d,#f5d2a1,#f6d4a5,#f7d6aa,#f8d8ad,#f8dab1,#f9ddb6,#f6dfb7,#f1e1b5,#efe1b5,#eee2b4,#ece2b4,#ede2b4,#eee2b4,#f1e1b5,#f2e0b6,#f2e0b6,#f3e0b6,#f7dfb7,#fadeb8,#faddb6,#f9dbb2,#f7d7ab,#f4d09c,#efc988,#ebc378,#e6ba66,#e3b459,#e2b358,#e1b153,#deae49,#dfaf4b)"></div>
<div style="top:168px;height:3px;background:linear-gradient(90deg,#a58619,#a58719,#a5871a,#a58619,#a6891b,#a68b1c,#a6891b,#a6881a,#a6891a,#a6881a,#a6891b,#a68b1c,#a68b1d,#a6891b,#a6881b,#a6881a,#a6881a,#a6891b,#a6891b,#a68a1c,#a68a1c,#a68a1c,#a6881a,#a58719,#a6881a,#a68a1b,#a6881a,#a5871a,#a58619,#a48519,#a58619,#a6871a,#a6881a,#a68a1b,#a68a1c,#a6891b,#a68a1b,#a68a1c,#a68a1c,#a68c1d,#a68a1c,#a6891a,#a6891b,#a6891b,#a6871a,#a6871a,#a68a1c,#a68c1d,#a68a1c,#a6891b,#a68a1c,#a68b1d,#a6891b,#a6881a,#a5871a,#a48519,#a48418,#a48519,#a48519,#a48519,#a4861a,#a38418,#a28117,#a07e16,#a07e16,#a4871a,#a68e1f,#a68e1f,#a68c1d,#a68c1e,#a68c1d,#a68e1f,#a59626,#a69324,#a69223,#a69223,#a69424,#a59525,#a59626,#a79a2a,#c7a32e,#bfa22d,#bba02c,#d0a631,#ddad46,#e2b255,#e7bb68,#ecc47a,#eac174,#ecc47b,#edc57d,#eec783,#efc988,#f0ca8a,#f0ca8a,#f0ca8b,#f1cc8f,#f0cb8d,#f1cc91,#f1cc91,#f2cd94,#f2ce96,#f3cf97,#f4d09c,#f4d19e,#f4d19e,#f3cf99,#f2ce94,#f0ca8b,#edc680,#edc57d,#ecc47a,#ebc276,#ecc378,#edc57d,#edc57d,#eec782,#efc986,#f0cb8d,#f2cd93,#f2ce96,#f3cf98,#f3d09a,#f3d09a,#f4d19e,#f5d3a3,#f6d5a8,#f8d8ad,#f8dab0,#f9ddb5,#f8dfb7,#f3e0b6,#f0e1b5,#eee2b4,#eee2b4,#efe1b5,#f0e1b5,#f1e1b5,#f2e0b6,#f4e0b6,#f5e0b6,#f8dfb7,#fadeb8,#f9dcb4,#f8d9af,#f7d7ab,#f5d2a2,#f0cb8d,#edc57e,#e8bc6b,#e4b55c,#e2b255,#e1b154,#e0b050,#e0b050)"></div>
<div style="top:171px;height:3px;background:linear-gradient(90deg,#a58619,#a58619,#a58719,#a6881a,#a6891b,#a68a1c,#a6891b,#a6881a,#a68a1b,#a6881a,#a6881a,#a68b1c,#a68b1d,#a6881a,#a58619,#a6891b,#a68a1c,#a6891a,#a6891b,#a6891b,#a68b1d,#a68a1c,#a5871a,#a48519,#a5871a,#a6881a,#a58619,#a48519,#a5881a,#a48519,#a58619,#a5871a,#a6871a,#a68b1d,#a68c1d,#a68a1c,#a68b1c,#a68b1d,#a68b1c,#a68b1c,#a68c1e,#a68b1c,#a6891a,#a6881a,#a5871a,#a5871a,#a6891b,#a68b1d,#a6891b,#a6881a,#a68b1c,#a68b1d,#a6891b,#a6871a,#a6891b,#a48619,#a38217,#a38318,#a38318,#a48519,#a48619,#a28117,#a07e16,#a07e16,#a38318,#a68c1d,#a59525,#a69323,#a68d1e,#a68c1e,#a68d1e,#a68e1f,#a69223,#a69424,#a69323,#a69424,#a59525,#a39b2b,#a79a2a,#ae9c2a,#c3a22e,#c8a430,#c3a22d,#d8aa3b,#e2b255,#e4b65d,#e9bf71,#ebc378,#ebc277,#eec782,#eec781,#efc886,#f0ca8b,#f0cb8c,#f0ca8b,#f0ca8b,#f1cc8f,#f1cc8f,#f1cc91,#f2cd94,#f2ce94,#f3cf98,#f4d09b,#f4d09c,#f5d2a0,#f5d29f,#f4d19e,#f3d09a,#f1cc91,#efc988,#eec782,#eec681,#ecc379,#ecc57c,#edc57d,#edc67e,#eec783,#efc989,#f1cc8f,#f1cc91,#f2cd94,#f3cf98,#f3d09a,#f4d09c,#f5d2a0,#f6d3a4,#f6d5a7,#f7d8ac,#f8d9af,#faddb6,#f9deb8,#f4e0b6,#f3e0b6,#f0e1b5,#f0e1b5,#f1e1b5,#f2e0b6,#f3e0b6,#f3e0b6,#f5e0b6,#f7dfb7,#f8dfb7,#faddb6,#f9dbb2,#f8d9b0,#f7d6a9,#f4d19e,#f1cc90,#eec782,#ebc278,#e7bb69,#e5b863,#e4b65f,#e3b55b,#e3b359)"></div>
<div style="top:174px;height:3px;background:linear-gradient(90deg,#a58519,#a58619,#a58619,#a58619,#a6881a,#a68a1b,#a6891b,#a68a1b,#a6881a,#a5871a,#a58719,#a68a1c,#a68b1d,#a6891b,#a5871a,#a6881a,#a68a1c,#a6891b,#a6891b,#a68b1d,#a68d1e,#a6891b,#a58719,#a58619,#a5871a,#a6881a,#a58619,#a58619,#a58619,#a48519,#a6871a,#a6871a,#a6891b,#a68b1d,#a68d1e,#a68b1d,#a68b1d,#a68c1d,#a68b1d,#a68d1e,#a68d1e,#a68a1c,#a68c1d,#a68b1c,#a6891b,#a6891b,#a68b1c,#a68b1d,#a68a1b,#a6891b,#a68a1c,#a68b1c,#a6891b,#a68a1c,#a68a1c,#a5871a,#a38318,#a48619,#a4871a,#a48519,#a48519,#a28217,#a07e16,#a07e16,#a48519,#a68f20,#a68e1f,#a68e1f,#a68d1e,#a68c1d,#a68f20,#a69122,#a69121,#a69222,#a59424,#a69222,#a69424,#a49828,#a69929,#a49727,#a49a2a,#c0a230,#ddad47,#e3b45a,#e3b358,#e6b964,#ecc37a,#eac072,#edc67f,#efc986,#efc987,#f0cb8c,#f0cb8d,#f1cb8e,#f0cb8d,#f1cc90,#f1cd92,#f1cc90,#f1cc91,#f2cd94,#f2cd94,#f3cf99,#f3d09b,#f4d19c,#f5d29f,#f5d2a1,#f4d19f,#f4d19d,#f3cf98,#f1cc91,#f0ca89,#efc988,#eec782,#eec781,#edc67e,#eec783,#efc987,#f0ca8a,#f1cc90,#f1cc90,#f2cd93,#f2ce96,#f3d09a,#f4d19d,#f4d19d,#f5d3a3,#f7d6a9,#f8d8ad,#f8d9af,#f9dcb4,#f8dfb7,#f6dfb7,#f5dfb7,#f1e1b5,#f1e1b5,#f2e0b6,#f2e0b6,#f4e0b6,#f4e0b6,#f6dfb7,#f9deb7,#f9ddb6,#f9dcb5,#f8dab1,#f8d9af,#f6d5a7,#f3cf99,#f0cb8d,#ecc47b,#ebc378,#ebc275,#e9bf6f,#e6b863,#e6b863,#e4b65e)"></div>
<div style="top:177px;height:3px;background:linear-gradient(90deg,#a58619,#a58619,#a58619,#a58719,#a6881a,#a68b1c,#a68a1c,#a6891a,#a6881a,#a58719,#a5871a,#a68b1d,#a68c1e,#a6891b,#a58619,#a58619,#a6881a,#a68a1c,#a68b1c,#a68c1d,#a68c1d,#a6891b,#a58719,#a5881a,#a6881a,#a6871a,#a58519,#a48418,#a38318,#a48418,#a5871a,#a6881a,#a6891b,#a68c1e,#a68d1e,#a68d1e,#a68c1d,#a68c1e,#a69021,#a69122,#a68e1f,#a6891b,#a6891b,#a68a1b,#a6891b,#a6891b,#a6891b,#a68c1d,#a68b1c,#a6891b,#a6891b,#a68a1c,#a6891b,#a6891b,#a68c1d,#a5881b,#a38218,#a38318,#a38318,#a28117,#a17f16,#a17e16,#a28217,#a48519,#a5881a,#a68d1e,#a69121,#a68c1e,#a68c1d,#a68f20,#a69020,#a69021,#a69222,#a69424,#a69222,#a59525,#a69525,#a69424,#a89a2a,#ac9c2a,#a39a2a,#ae9e2c,#daad44,#e2b356,#e2b254,#e8bd6d,#ebc379,#eac073,#edc67f,#efc988,#f0ca8b,#f1cb8e,#f1cc8f,#f1cc8f,#f1cd92,#f2cd93,#f1cd92,#f1cc91,#f1cc90,#f1cc91,#f2ce94,#f3cf98,#f4d09b,#f4d19e,#f5d3a2,#f6d4a5,#f5d3a3,#f5d3a3,#f5d29f,#f3cf98,#f2ce96,#f0cb8d,#efc988,#efc885,#eec884,#efc988,#f0ca8b,#f0ca8c,#f1cc8f,#f1cc91,#f2cd93,#f3cf98,#f3d09b,#f4d19d,#f5d29f,#f6d4a6,#f6d5a8,#f7d7ac,#f8d9b0,#f9dcb4,#f9deb7,#f9deb8,#f6dfb7,#f4e0b6,#f3e0b6,#f4e0b6,#f4e0b6,#f5dfb7,#f6dfb7,#f9deb8,#f9deb7,#f9ddb6,#f9dcb4,#f8d9af,#f7d7ab,#f6d4a6,#f3d09b,#f0ca8c,#edc57d,#ebc275,#e9bf6f,#e7bb68,#e6ba65,#e5b861,#e6b964)"></div>
<div style="top:180px;height:3px;background:linear-gradient(90deg,#a58619,#a5871a,#a5871a,#a6881a,#a68a1b,#a68b1d,#a68b1c,#a6881a,#a6871a,#a58619,#a6881a,#a68b1c,#a68a1c,#a68a1b,#a58619,#a58619,#a5871a,#a68b1c,#a68b1c,#a68b1c,#a68a1c,#a6891b,#a68a1b,#a68a1b,#a6891b,#a6891b,#a58619,#a38318,#a28217,#a38318,#a58619,#a5871a,#a6891b,#a68d1e,#a68e1f,#a68d1e,#a68c1d,#a69021,#a68e1f,#a69122,#a68e1f,#a6891b,#a6871a,#a6891a,#a5871a,#a5871a,#a6891b,#a68a1c,#a6891b,#a6891b,#a6891a,#a68a1c,#a68a1c,#a6891a,#a6891b,#a5881b,#a38217,#a38217,#a38217,#a28117,#a07e16,#a18016,#a07d15,#a28017,#a17f16,#a38318,#a6891b,#a69122,#a59323,#a68e1f,#a68d1e,#a68f20,#a69122,#a69121,#a69223,#a69222,#a59525,#a49828,#a59a2a,#b6a02c,#c5a32e,#d3a838,#deae49,#e0b04e,#e6ba65,#ecc47c,#e8bd6b,#eac174,#eec782,#efc986,#f0cb8d,#f1cc90,#f2cd93,#f1cd91,#f2cd94,#f1cd92,#f1cd92,#f1cc91,#f1cc91,#f1cc91,#f2ce94,#f3cf98,#f4d19e,#f5d2a1,#f5d3a4,#f6d4a6,#f6d4a6,#f5d3a3,#f5d2a0,#f4d19d,#f3cf97,#f1cb8e,#f1cc90,#f0cb8d,#f0ca8a,#f0ca8c,#f0cb8d,#f1cb8e,#f1cd92,#f2cd93,#f2cd94,#f3ce97,#f3cf99,#f4d19e,#f5d2a0,#f6d4a7,#f7d5a9,#f7d7ac,#f8d9af,#f9dab1,#f9ddb5,#fadeb7,#f7dfb7,#f6dfb7,#f7dfb7,#f7dfb7,#f6dfb7,#f7dfb7,#f8dfb7,#f9deb8,#f9ddb6,#f9dcb4,#f8d9b0,#f7d7ac,#f7d6a9,#f6d4a5,#f3d09a,#f0cb8c,#edc67f,#ecc379,#eac072,#e8be6d,#e7bb69,#e6ba66,#e7bb68)"></div>
<div style="top:183px;height:3px;background:linear-gradient(90deg,#a58619,#a58719,#a5871a,#a6891b,#a68a1b,#a68b1c,#a68b1c,#a6891b,#a5871a,#a58619,#a6871a,#a68b1c,#a68c1e,#a6891b,#a58619,#a58619,#a6881a,#a6891b,#a6891b,#a68b1c,#a68a1c,#a68a1c,#a68b1d,#a6881a,#a6881a,#a6881a,#a5881a,#a5871a,#a28217,#a38318,#a58619,#a5871a,#a68a1c,#a68e1f,#a68f20,#a68e1f,#a68f1f,#a69121,#a68d1e,#a68f20,#a68a1b,#a6881a,#a6871a,#a6891b,#a6871a,#a58619,#a5871a,#a68a1b,#a68a1b,#a6881a,#a6891b,#a68b1c,#a68b1c,#a6891b,#a68b1d,#a5881b,#a28218,#a28017,#a28217,#a17f16,#9f7d15,#9e7b14,#9f7a18,#a07b1c,#9f7b15,#a38217,#a68e1f,#a49727,#a59424,#a59324,#a69122,#a68f20,#a68e1f,#a69323,#a69121,#a69222,#a69223,#a69424,#a99b2a,#a49929,#af9d2b,#c4a32f,#dcad43,#e5b862,#e9bf70,#e4b75f,#e8bc6a,#eac073,#edc67f,#efc886,#f0cb8d,#f1cc91,#f2cd93,#f1cd92,#f1cd92,#f1cd92,#f1cc90,#f1cd92,#f1cc91,#f2cd93,#f2cd93,#f3cf98,#f4d09b,#f5d2a0,#f5d3a3,#f6d4a5,#f6d4a5,#f6d3a4,#f5d3a3,#f5d2a1,#f4d09c,#f3cf98,#f2ce96,#f2ce95,#f1cc90,#f1cc8f,#f1cc90,#f1cc91,#f1cd92,#f2cd93,#f2cd93,#f3cf97,#f3d09a,#f4d19e,#f5d3a2,#f6d4a7,#f7d5a8,#f7d7ac,#f8d9ae,#f9dbb2,#f9dcb4,#fadeb7,#f8deb8,#f9deb8,#f8deb8,#f8dfb7,#f9deb8,#f8dfb7,#f9deb8,#faddb6,#f9dcb4,#f9dbb2,#f8d9af,#f7d7ab,#f6d5a8,#f5d2a0,#f2ce95,#efca89,#eec783,#ecc379,#eac174,#e9bf6f,#e8bd6c,#e7bb68,#e7bc6a)"></div>
<div style="top:186px;height:3px;background:linear-gradient(90deg,#a6871a,#a5881a,#a58719,#a6881a,#a6891b,#a68c1e,#a68c1e,#a6891b,#a58719,#a58619,#a58719,#a68a1c,#a68d1e,#a68b1d,#a6881a,#a58619,#a58619,#a6881a,#a68a1b,#a68b1c,#a68c1e,#a68b1d,#a6891a,#a6881a,#a58619,#a48519,#a38318,#a48418,#a48519,#a4861a,#a58619,#a6871a,#a6891b,#a68e1f,#a68f20,#a68e1f,#a68d1e,#a69021,#a69121,#a69021,#a68b1c,#a6871a,#a6871a,#a6891b,#a58719,#a48519,#a58719,#a6881a,#a6891b,#a6891b,#a6891b,#a68b1c,#a68a1c,#a6881a,#a48519,#a38318,#a38318,#a48619,#a48519,#a38218,#a07e16,#9e7b15,#a07b1d,#a17c25,#9f7c17,#a38218,#a6881b,#a68e1f,#a59323,#a69122,#a68e1f,#a69121,#a69021,#a69122,#a69323,#a69122,#a69323,#a69424,#aa9a29,#a59727,#a49828,#ab9d2c,#daab3f,#d5a735,#ddad44,#e2b356,#e6ba66,#eac072,#edc680,#eec781,#f0ca8c,#f0ca8c,#f1cc90,#f1cd91,#f1cc91,#f1cc91,#f1cc90,#f1cc8f,#f1cc90,#f2cd92,#f2cd93,#f3ce97,#f4d09c,#f5d2a1,#f6d4a6,#f6d5a7,#f6d5a8,#f6d5a7,#f6d4a7,#f6d4a5,#f5d2a0,#f4d09c,#f3cf99,#f3cf99,#f2ce95,#f2cd94,#f2cd93,#f2cd93,#f2cd94,#f2cd94,#f2cd94,#f3ce97,#f3cf98,#f4d19d,#f5d2a0,#f6d4a6,#f6d5a8,#f7d7ac,#f8d9af,#f8dab1,#f9dcb4,#faddb6,#fadeb7,#fadeb7,#f9deb8,#f9deb8,#f9deb8,#f9deb8,#faddb7,#f9dcb5,#f9dbb2,#f8d9b0,#f7d8ad,#f7d6aa,#f6d4a6,#f4d29f,#f1cb8f,#efc987,#eec781,#ecc479,#eac073,#e9bf6f,#e8bd6c,#e8bc6a,#e8bc6b)"></div>
<div style="top:189px;height:3px;background:linear-gradient(90deg,#a6881b,#a5871a,#a6881a,#a68a1c,#a68a1c,#a68c1d,#a68b1d,#a68b1c,#a6881a,#a5871a,#a6891b,#a68a1c,#a68a1c,#a6891b,#a5871a,#a6871a,#a6881a,#a68a1c,#a68a1c,#a68b1c,#a68d1e,#a68d1e,#a68a1c,#a5871a,#a58619,#a48519,#a38318,#a28117,#a28117,#a48519,#a68b1d,#a68a1c,#a68b1c,#a68f20,#a69121,#a68e1f,#a68d1e,#a68c1e,#a68c1d,#a68d1f,#a68a1c,#a68b1c,#a5871a,#a6891b,#a6871a,#a48418,#a58619,#a6881a,#a6891b,#a6891b,#a6891b,#a68b1c,#a68a1c,#a68b1c,#a5891b,#a4871a,#a38318,#a38519,#a48419,#a48519,#a48418,#9f7c17,#a17b24,#a17b24,#9f7c17,#a28117,#a58619,#a68a1c,#a68b1d,#a68e1f,#a69222,#a69121,#a69122,#a69222,#a59525,#a69223,#a69323,#a69424,#a89827,#a69929,#a49929,#a89d2c,#d4a836,#cca42f,#d9a939,#dfaf4c,#e6b963,#ecc37a,#ebc276,#ecc47b,#efc885,#efc987,#f0ca8c,#f1cc8f,#f1cc90,#f1cc91,#f1cc90,#f1cc8f,#f1cc90,#f2cd92,#f2cd93,#f3cf97,#f3d09a,#f5d2a0,#f5d2a1,#f6d4a6,#f6d5a8,#f6d5a7,#f6d4a6,#f6d4a6,#f6d4a5,#f5d2a2,#f4d19d,#f3d09a,#f3cf98,#f3cf98,#f3ce97,#f2ce95,#f2cd93,#f2ce95,#f2ce96,#f3cf98,#f4d09c,#f4d19e,#f5d3a2,#f6d4a6,#f6d5a8,#f7d6aa,#f8d8ad,#f8d9af,#f8dab1,#f9dbb3,#f9dcb5,#f9ddb5,#f9ddb5,#faddb7,#faddb6,#f9ddb6,#f9dcb4,#f9dbb2,#f8dab0,#f8d9af,#f7d6aa,#f6d4a7,#f5d3a3,#f3d09a,#f1cb8e,#eec884,#edc57d,#eac174,#eac071,#e9bf70,#e9bf71,#e9be6e,#e8bd6d)"></div>
<div style="top:192px;height:3px;background:linear-gradient(90deg,#a6881a,#a6871a,#a6881a,#a68a1b,#a68b1c,#a68c1e,#a68b1d,#a68b1d,#a68b1c,#a6881a,#a5871a,#a6891b,#a68b1c,#a68a1c,#a6871a,#a5871a,#a6871a,#a6891b,#a68a1c,#a68c1d,#a68d1e,#a68d1e,#a6891b,#a5871a,#a5871a,#a5881a,#a48418,#a28117,#a28117,#a38318,#a4871a,#a68c1d,#a68f20,#a69222,#a69424,#a69222,#a69020,#a68f20,#a68f20,#a68f20,#a68d1e,#a68c1e,#a68d1e,#a68b1c,#a5881a,#a58619,#a48519,#a6881a,#a6881a,#a6891b,#a6891b,#a68c1d,#a68e1f,#a6881b,#a48519,#a38218,#a28017,#a28117,#a38217,#a17f16,#a07e16,#9f7c15,#a07b1e,#a27c26,#9f7b18,#a28117,#a5871a,#a68a1c,#a68b1d,#a68d1e,#a68c1e,#a69020,#a69324,#a69223,#a59525,#a69424,#a69323,#a69424,#a69525,#af9d2b,#a79b2a,#c1a22f,#caa531,#c7a32e,#d7a836,#e5b962,#eac073,#e7bb69,#e8bd6b,#ebc275,#ecc57c,#edc67f,#f0ca8a,#f1cb8e,#f0ca8c,#f1cb8e,#f0cb8d,#f1cb8e,#f1cc8f,#f2cd93,#f2cd93,#f3ce97,#f3d09a,#f4d19e,#f5d2a1,#f6d4a6,#f6d4a7,#f6d5a8,#f6d5a8,#f6d4a6,#f6d4a6,#f6d3a4,#f5d3a2,#f4d19f,#f4d19d,#f3d09a,#f3cf97,#f2ce95,#f2ce95,#f2ce96,#f3cf97,#f3cf99,#f4d19d,#f4d29f,#f6d3a4,#f6d4a6,#f6d5a7,#f7d6aa,#f7d7ac,#f8d8ae,#f8dab0,#f9dab2,#f9dbb3,#f9dcb4,#f9dbb3,#f9dbb3,#f9dbb3,#f9dbb3,#f9dbb3,#f8dab0,#f8d9b0,#f7d8ac,#f7d6a9,#f6d4a7,#f4d19e,#f2ce95,#f0cb8e,#eec884,#ecc479,#eac072,#eac174,#e9bf70,#e8bc6b,#e7bb68,#e8bc6a)"></div>
<div style="top:195px;height:3px;background:linear-gradient(90deg,#a5871a,#a6871a,#a6881a,#a68a1b,#a68b1c,#a68c1d,#a68d1e,#a68b1d,#a6881a,#a6891b,#a6891b,#a6891b,#a6891b,#a58719,#a48519,#a6881b,#a6881a,#a6891b,#a68b1c,#a68c1d,#a68e1f,#a68c1d,#a6891b,#a6871a,#a6891b,#a58619,#a38318,#a18017,#a07d15,#a17f16,#a48519,#a5891b,#a6891b,#a69020,#a69021,#a68e1f,#a68e1f,#a68d1f,#a68d1e,#a68b1d,#a68e1f,#a6891b,#a68b1d,#a6881a,#a58619,#a38318,#a48519,#a68a1c,#a6891b,#a6891b,#a68b1d,#a68e1f,#a68b1d,#a6881a,#a58519,#a38318,#a28117,#a28117,#a28217,#a17f16,#9f7b16,#a07b1d,#a07b1e,#a17b21,#9f7c16,#a18017,#a48519,#a6891b,#a68c1d,#a68d1e,#a68c1d,#a68c1e,#a68f1f,#a59424,#a59626,#a59727,#a69525,#a69525,#a59626,#ac9c2b,#aa9c2b,#c0a22e,#caa42f,#d0a737,#dcaf4a,#deb04a,#e0b04e,#e3b45a,#e5b862,#e9bf71,#ebc378,#edc57d,#eec781,#efc886,#f0ca8a,#f0cb8e,#f0cb8d,#f1cb8e,#f1cc8f,#f2cd93,#f2cd94,#f3cf97,#f4d19d,#f4d19e,#f5d2a1,#f5d3a4,#f6d4a7,#f6d5a8,#f6d5a8,#f6d5a7,#f6d5a7,#f6d4a7,#f6d4a5,#f4d29f,#f4d19f,#f3d09b,#f3cf98,#f3cf97,#f3cf97,#f2ce95,#f3cf98,#f3d09a,#f4d19d,#f4d29f,#f5d3a3,#f6d4a7,#f7d5a8,#f7d6a9,#f7d7ab,#f8d8ae,#f8dab0,#f8dab1,#f9dbb3,#f9dbb3,#f9dbb3,#f9dbb3,#f9dbb3,#f9dbb3,#f9dbb2,#f8d9b0,#f8d8ae,#f7d7ac,#f7d6a9,#f6d3a4,#f4d19c,#f1cb8f,#efc989,#edc67f,#ebc377,#ebc378,#eac174,#e7bb68,#e6b964,#e6b963,#e6b963)"></div>
<div style="top:198px;height:3px;background:linear-gradient(90deg,#a6871a,#a6881a,#a68a1c,#a68b1d,#a68b1d,#a68c1d,#a68d1e,#a68a1c,#a6881a,#a5871a,#a58719,#a6871a,#a6881a,#a58719,#a58519,#a6891b,#a6881a,#a6891b,#a68a1c,#a68c1d,#a68c1e,#a68c1d,#a68c1d,#a68b1d,#a5871a,#a48519,#a48519,#a28217,#a07e16,#a18017,#a48418,#a5871a,#a68a1c,#a68e1f,#a68f20,#a68f20,#a68d1e,#a68d1e,#a68d1e,#a68b1d,#a68c1e,#a68b1c,#a5881a,#a6891b,#a58719,#a38318,#a5871a,#a68a1c,#a68a1b,#a68d1e,#a68e1f,#a68c1d,#a68a1c,#a68b1c,#a68c1d,#a68b1d,#a4871a,#a38218,#a28117,#a17f16,#9f7b15,#a07b1c,#a17b25,#a27c28,#a07b1a,#a17f16,#a58619,#a6891b,#a68c1d,#a68d1f,#a68c1d,#a68d1e,#a68f1f,#a69020,#a69223,#a59525,#a59626,#a49828,#a49a2a,#a59525,#a59626,#a49828,#a39c2b,#b39f2c,#c8a32e,#d6a834,#e1b353,#e5b863,#e9be6f,#ebc277,#ecc57c,#ecc479,#edc57d,#eec681,#efc886,#f0ca8a,#f0ca8c,#f0cb8d,#f1cc90,#f2cd93,#f2cd93,#f3cf98,#f3d09a,#f4d19e,#f5d2a1,#f6d3a4,#f6d4a6,#f6d5a8,#f6d5a8,#f7d5a9,#f7d5a8,#f6d5a7,#f6d4a7,#f5d2a0,#f5d2a0,#f4d09b,#f3cf98,#f3cf98,#f2ce96,#f2ce95,#f3ce97,#f3cf98,#f4d09c,#f4d19f,#f5d2a2,#f6d4a6,#f7d5a8,#f7d6aa,#f7d6aa,#f8d8ae,#f8d9ae,#f8dab0,#f8dab1,#f9dbb2,#f8dab1,#f9dbb2,#f9dbb3,#f9dbb2,#f8dab0,#f8d9ae,#f7d7ac,#f7d6aa,#f7d5a8,#f5d3a2,#f2ce96,#efca89,#eec885,#ecc57c,#ecc479,#ebc378,#eac073,#e6b965,#e5b761,#e4b65e,#e4b65e)"></div>
<div style="top:201px;height:3px;background:linear-gradient(90deg,#a6881a,#a6871a,#a68a1c,#a68c1e,#a68c1d,#a68c1d,#a68d1e,#a6891b,#a6891b,#a6891b,#a6891b,#a6881b,#a6891b,#a6881a,#a6891b,#a6891b,#a6891b,#a68a1c,#a68d1e,#a68d1f,#a68e1f,#a68d1e,#a68a1c,#a5871a,#a48519,#a5871a,#a5871a,#a48418,#a28217,#a5871a,#a68c1d,#a68f20,#a69222,#a59424,#a69222,#a68e1f,#a68b1c,#a68a1c,#a6891b,#a6881a,#a6881a,#a48519,#a58619,#a6891b,#a5871a,#a38318,#a48519,#a68b1d,#a68c1d,#a68c1d,#a68b1c,#a68a1c,#a68c1d,#a68d1e,#a68b1c,#a68d1e,#a68a1c,#a38318,#a28117,#a17f16,#9f7c15,#9f7a18,#a17b22,#a17b23,#9f7b16,#a17f16,#a48519,#a6891b,#a68c1e,#a68d1e,#a68e1f,#a68f20,#a69020,#a69021,#a69122,#a69222,#a59525,#a59727,#a69424,#a69525,#a59525,#a49727,#a39a2a,#c3a331,#d6aa3c,#dbaf49,#deae48,#e0b04e,#e6ba65,#e9bf70,#e9be6e,#eac173,#edc57d,#eec782,#efc988,#f0ca8a,#f0cb8c,#f1cc90,#f1cd91,#f2cd93,#f2cd92,#f2cd94,#f3d09b,#f4d19f,#f5d3a4,#f5d3a3,#f6d4a5,#f6d5a8,#f7d5a9,#f7d5a8,#f7d5a9,#f6d5a8,#f6d5a7,#f6d4a5,#f6d3a4,#f4d19e,#f3d09a,#f3cf98,#f2ce95,#f2cd94,#f2cd93,#f2ce95,#f3d09a,#f4d19e,#f5d3a2,#f6d4a6,#f7d5a8,#f7d6aa,#f7d7ac,#f7d7ac,#f8d9ae,#f8dab0,#f8dab1,#f9dbb2,#f8dab1,#f8dab1,#f8dab1,#f8dab1,#f8d9b0,#f8d9af,#f8d8ad,#f7d7ab,#f6d4a6,#f5d3a3,#f3cf99,#f0ca8b,#eec783,#ecc47b,#eac173,#ebc275,#eac071,#e5b761,#e3b45a,#e3b55b,#e3b45a)"></div>
<div style="top:204px;height:3px;background:linear-gradient(90deg,#a6891b,#a6881a,#a68a1c,#a68b1d,#a68c1d,#a68b1d,#a68c1d,#a68a1b,#a6871a,#a6881a,#a6891b,#a6891b,#a6891b,#a6881a,#a5871a,#a6871a,#a6881a,#a6891b,#a68b1d,#a68d1e,#a68e1f,#a68e1f,#a68f20,#a68d1f,#a68b1d,#a38519,#a38318,#a38318,#a07e16,#a07d15,#a28117,#a38318,#a6881a,#a68f20,#a59323,#a69324,#a68f20,#a68c1d,#a6891b,#a6881a,#a58619,#a58619,#a5891b,#a5871a,#a48519,#a28217,#a38318,#a48519,#a6871a,#a6881a,#a6891b,#a68b1c,#a68d1e,#a6891b,#a6891b,#a68d1e,#a38318,#a28017,#a18017,#a07e16,#9f7c15,#9f7a19,#a07b20,#a07b1d,#9f7b14,#a17f16,#a48519,#a68a1b,#a68d1e,#a68e1f,#a68f20,#a69020,#a69121,#a69222,#a69222,#a69223,#a69323,#a59626,#a69323,#a69525,#a59626,#a59727,#b29e2c,#bca12e,#baa02c,#cea634,#dcad44,#e2b558,#e1b253,#e1b254,#e5b861,#e8be6d,#ebc277,#ecc47a,#eec783,#efc988,#f0ca8a,#f0cb8d,#f1cc91,#f1cc91,#f1cc91,#f3cf97,#f4d09c,#f4d09b,#f5d2a1,#f5d3a3,#f6d4a6,#f7d5a9,#f7d6a9,#f6d5a8,#f7d5a9,#f7d5a8,#f6d5a8,#f6d4a5,#f5d2a2,#f4d19e,#f3cf99,#f2ce94,#f1cc8f,#f1cc8f,#f1cc90,#f2cd93,#f3cf99,#f4d09c,#f5d2a1,#f5d3a4,#f6d5a8,#f7d6aa,#f7d8ac,#f8d8ad,#f8d8ad,#f8d9ae,#f8d9af,#f8d9b0,#f8dab0,#f8dab0,#f8dab0,#f8dab1,#f8dab0,#f8d9ae,#f8d8ad,#f7d6aa,#f6d5a7,#f5d2a0,#f2ce96,#f1cb8f,#eec884,#ebc277,#e9bf71,#eac072,#e9bf70,#e4b65d,#e3b459,#e3b358,#e2b256)"></div>
<div style="top:207px;height:3px;background:linear-gradient(90deg,#a6881a,#a58719,#a6891b,#a68b1d,#a68c1e,#a68c1d,#a68a1c,#a6891b,#a6881a,#a6881a,#a6881a,#a6871a,#a5871a,#a58619,#a58619,#a6881a,#a6881a,#a6891b,#a68b1d,#a68f20,#a69021,#a68d1e,#a68e1f,#a68e1f,#a48418,#a28117,#a18017,#a07e16,#9f7c15,#9f7d15,#a18016,#a38318,#a5881a,#a68c1d,#a68d1e,#a68b1d,#a68d1e,#a69020,#a68a1c,#a58619,#a58619,#a68a1c,#a5871a,#a5871a,#a48418,#a28117,#a38318,#a48519,#a58619,#a6881a,#a68a1c,#a68d1e,#a68a1c,#a58719,#a6891b,#a68c1d,#a48519,#a48519,#a48519,#a17f16,#9f7b15,#9f7b1a,#a07b20,#9f7a19,#9f7c15,#a17f16,#a48519,#a68a1c,#a68d1e,#a68d1e,#a69020,#a69122,#a69323,#a59626,#a59525,#a69324,#a69323,#a69424,#a69424,#a69424,#a59525,#aa9b29,#a59929,#aa9c2b,#b4a02e,#c0a22e,#cea530,#daab3d,#e3b65b,#eac176,#ebc276,#e8bc6a,#e9bf71,#ebc276,#edc67e,#eec784,#efc989,#f0ca8b,#f1cb8e,#f1cc90,#f2ce94,#f3d09b,#f4d19d,#f4d09b,#f5d3a3,#f6d4a6,#f6d5a7,#f6d5a8,#f7d6a9,#f7d6a9,#f7d6a9,#f7d6a9,#f6d5a7,#f6d4a6,#f5d2a0,#f3cf99,#f2cd94,#f1cc91,#f0ca8b,#f0ca8a,#f1cb8e,#f1cc91,#f2ce96,#f3d09a,#f4d29f,#f6d4a6,#f7d5a9,#f7d6aa,#f7d7ab,#f7d7ac,#f8d8ae,#f8d9af,#f8d9af,#f8d9af,#f8dab0,#f8dab0,#f8d9b0,#f8d9b0,#f8d9af,#f8d9af,#f7d8ad,#f7d7ab,#f6d5a8,#f5d3a3,#f3cf98,#f1cb8e,#eec884,#ebc276,#eac072,#ebc276,#ebc175,#e5b861,#e2b357,#e2b255,#e1b151)"></div>
<div style="top:210px;height:3px;background:linear-gradient(90deg,#a6871a,#a5881a,#a68b1c,#a68c1e,#a68c1e,#a68b1d,#a68a1c,#a6891a,#a6881a,#a68a1b,#a6891b,#a6881a,#a6881a,#a58619,#a58719,#a6881a,#a6891b,#a6891b,#a68a1c,#a68c1d,#a68a1c,#a6881a,#a68a1b,#a68b1d,#a5891b,#a28117,#a28217,#a28117,#9f7c15,#9f7b15,#a07e16,#a28117,#a58619,#a68a1c,#a68c1d,#a68b1d,#a6881a,#a68a1c,#a5881b,#a48519,#a58619,#a48519,#a48519,#a58619,#a48519,#a38218,#a48418,#a6881b,#a6891b,#a6881a,#a68a1b,#a68c1d,#a6891b,#a6871a,#a68c1d,#a68a1c,#a5871a,#a5871a,#a38418,#a07e16,#9f7c15,#9e7b15,#9f7a19,#9e7a16,#9f7b15,#a17f16,#a48519,#a68a1b,#a68e1f,#a69021,#a69122,#a69222,#a69424,#a49727,#a49727,#a59626,#a69324,#a69424,#a69424,#a59525,#a59626,#a79827,#a59828,#a49828,#a89d2c,#b7a02c,#cba42f,#d5a836,#dcac43,#dfaf4c,#e5b861,#eac073,#ecc379,#ecc47a,#edc57d,#eec782,#eec885,#f0cb8c,#f1cc90,#f1cb8f,#f2cd93,#f2ce97,#f4d09c,#f4d19e,#f5d3a4,#f6d4a6,#f6d4a7,#f6d5a8,#f7d6a9,#f7d6a9,#f7d6aa,#f7d5a9,#f6d5a7,#f6d4a5,#f4d19f,#f2ce97,#f1cc91,#f0ca8c,#efc987,#efc886,#efc988,#f1cc8f,#f2cd93,#f3d09a,#f4d09b,#f6d4a5,#f7d5a9,#f7d6aa,#f7d7ac,#f7d8ad,#f8d8ae,#f8d9af,#f8dab1,#f8dab1,#f8dab1,#f8dab1,#f8d9b0,#f8d9af,#f8d9af,#f8d9af,#f8d8ad,#f7d7ab,#f7d5a8,#f6d4a6,#f4d19f,#f0cb8d,#ecc57c,#ebc175,#eac072,#ecc379,#eac174,#e6b965,#e4b55c,#e2b256,#e2b356)"></div>
<div style="top:213px;height:3px;background:linear-gradient(90deg,#a6881a,#a68a1b,#a68a1c,#a68d1e,#a68c1d,#a68c1d,#a6891b,#a6881a,#a6881a,#a6891b,#a68b1c,#a68a1b,#a68a1b,#a6881a,#a58719,#a6881a,#a68a1b,#a68b1c,#a68a1c,#a6881a,#a6881a,#a58719,#a48519,#a48519,#a38318,#a38217,#a48519,#a38218,#a18017,#a07d15,#a18016,#a28117,#a48519,#a6881a,#a6891b,#a6881a,#a68b1c,#a5891b,#a58619,#a48519,#a48519,#a48418,#a38318,#a48519,#a48418,#a28117,#a38218,#a58619,#a6891b,#a58719,#a6891b,#a68c1d,#a6891b,#a68a1c,#a68a1c,#a48519,#a38318,#a28017,#a17f16,#a07e16,#a07d15,#9f7c15,#9f7c16,#9f7b17,#9f7b15,#a28117,#a5881b,#a59122,#a49626,#a59626,#a59626,#a59626,#a59626,#a69525,#a59626,#a69525,#a69424,#a69424,#a69323,#a69324,#a49929,#a59626,#a79928,#a59b2b,#a69d2c,#b29f2c,#c6a32d,#cfa530,#d9a939,#deae48,#e2b358,#e5b862,#e9be6e,#ebc175,#ecc47b,#eec781,#eec783,#efc988,#f0cb8e,#f1cc91,#f2ce94,#f3ce97,#f4d19d,#f4d19f,#f5d2a2,#f6d4a6,#f6d5a8,#f7d6aa,#f7d6aa,#f7d6aa,#f7d6aa,#f7d6a9,#f6d4a7,#f6d4a6,#f4d19d,#f2cd94,#f0ca8b,#efc886,#edc680,#edc67e,#eec884,#f0cb8c,#f1cc91,#f3d09a,#f5d2a1,#f6d3a4,#f7d6a9,#f7d6aa,#f7d8ad,#f8d9ae,#f8d9af,#f8d9af,#f8dab0,#f8dab0,#f8dab1,#f9dab1,#f8dab1,#f8dab0,#f8dab0,#f8d9af,#f8d8ae,#f7d7ab,#f7d5a8,#f6d4a6,#f4d09b,#f1cd92,#edc681,#ebc276,#ecc378,#ecc47a,#e8bd6d,#e5b862,#e4b65e,#e5b760,#e5b861)"></div>
<div style="top:216px;height:3px;background:linear-gradient(90deg,#a5871a,#a58719,#a6891b,#a68b1d,#a68c1d,#a68c1e,#a68b1c,#a6891b,#a6891a,#a68a1b,#a68b1c,#a68a1c,#a6891b,#a6871a,#a6881b,#a6891b,#a6891b,#a68a1c,#a68c1d,#a68a1c,#a6881a,#a48519,#a38318,#a28217,#a17f16,#a28117,#a38318,#a28017,#a28117,#a48519,#a28117,#a28017,#a48519,#a6881a,#a6881a,#a58619,#a48619,#a48519,#a48519,#a48519,#a48519,#a38418,#a48418,#a48519,#a48418,#a38217,#a48419,#a5871a,#a58619,#a5871a,#a68b1c,#a6891b,#a6881a,#a6891b,#a6891b,#a58719,#a48418,#a28217,#a28117,#a17f16,#a07e16,#a07e16,#a5871a,#a5881b,#a4871b,#a68c1d,#a68f20,#a69020,#a69021,#a69122,#a69223,#a69323,#a69424,#a59626,#a59626,#a59626,#a59626,#a59626,#a69525,#a59525,#a49a2a,#a49929,#a79929,#aa9b2a,#a59c2b,#bda22f,#c7a32e,#d8ac42,#daaa3c,#dfaf4b,#e6b863,#e6b965,#e9bf71,#eac071,#ebc275,#edc57d,#eec783,#efc989,#f0ca8b,#f1cd92,#f2ce95,#f3cf97,#f4d19d,#f5d2a1,#f6d3a4,#f6d4a7,#f6d5a8,#f7d6aa,#f7d6aa,#f7d6aa,#f7d6aa,#f7d6a9,#f6d5a8,#f5d2a2,#f3d09b,#f2cd93,#efc989,#eec884,#eec781,#edc57e,#edc680,#efc885,#f0ca8b,#f2ce96,#f5d2a1,#f6d4a7,#f7d6a9,#f7d6aa,#f8d8ad,#f8d9ae,#f8d9af,#f8d9b0,#f8dab0,#f8dab1,#f8dab1,#f8dab1,#f8dab1,#f8dab1,#f8dab0,#f8d9af,#f8d9af,#f7d8ac,#f7d6a9,#f6d4a5,#f3d09a,#f2cd92,#eec783,#ebc277,#ecc47b,#eac072,#e5b861,#e2b255,#e1b152,#e1b254,#e4b55c)"></div>
<div style="top:219px;height:3px;background:linear-gradient(90deg,#a58619,#a58619,#a6871a,#a68a1b,#a68b1c,#a68a1c,#a6891b,#a6871a,#a6891b,#a6891b,#a68a1c,#a68a1c,#a68a1c,#a68a1b,#a68a1c,#a68c1d,#a68e1f,#a68e1f,#a68e1f,#a68e1f,#a68a1c,#a5871a,#a48519,#a48418,#a38318,#a38318,#a28117,#a28117,#a28218,#a28017,#a17f16,#a28017,#a48418,#a6871a,#a58719,#a58619,#a48519,#a48519,#a48519,#a58519,#a48519,#a48418,#a48418,#a48519,#a48519,#a48519,#a48519,#a58619,#a5881a,#a6891b,#a6881a,#a6891b,#a6881a,#a68b1c,#a6891b,#a6881a,#a48418,#a28217,#a28117,#a17f16,#a17f16,#a17f16,#a28017,#a5881b,#a28117,#a38318,#a6891b,#a68d1f,#a68f20,#a69121,#a69424,#a59626,#a59626,#a49727,#a49727,#a59626,#a59727,#a59828,#a49727,#a59828,#a89928,#a89827,#aa9b2a,#a39a2a,#a79d2c,#bfa333,#cba42f,#daad44,#dcac41,#deae49,#e5b75f,#e6b963,#e7bb68,#e9bf70,#ebc276,#edc57d,#eec782,#efc988,#f0cb8c,#f1cc91,#f2ce95,#f3ce97,#f4d19d,#f5d2a0,#f5d2a1,#f6d4a6,#f6d5a8,#f7d6a9,#f7d6a9,#f7d6aa,#f7d6aa,#f7d5a8,#f6d5a7,#f5d3a3,#f4d09c,#f1cc91,#f0ca8a,#efc885,#eec781,#edc57e,#edc680,#eec884,#f0ca8b,#f2ce96,#f5d2a1,#f6d5a8,#f7d6a9,#f7d7ab,#f7d8ad,#f8d9af,#f8d9ae,#f8d9af,#f8dab0,#f8dab0,#f8dab1,#f8d9b0,#f8d9b0,#f8dab0,#f8dab0,#f8d9af,#f8d9ae,#f7d7ab,#f6d5a7,#f5d2a2,#f3d09a,#f0cb8c,#edc680,#ecc47b,#e8bd6d,#e5b862,#e3b55b,#dfaf4d,#dfaf4d,#dfaf4d,#dfaf4c)"></div>
<div style="top:222px;height:3px;background:linear-gradient(90deg,#a6881a,#a5871a,#a6881a,#a68b1d,#a68e1f,#a68b1d,#a6891b,#a6881a,#a68a1c,#a68b1d,#a68c1d,#a68c1e,#a68b1c,#a68a1b,#a6891b,#a68a1c,#a68b1d,#a68b1d,#a68b1c,#a68b1d,#a58719,#a48519,#a28217,#a28117,#a28117,#a18016,#a28217,#a38218,#a48619,#a17f16,#a18016,#a28217,#a48519,#a6881a,#a58719,#a58719,#a48519,#a48519,#a6891b,#a6881b,#a58719,#a48519,#a5871a,#a6891b,#a5871a,#a48418,#a5871a,#a5881a,#a58619,#a5881a,#a68a1c,#a68a1c,#a68a1c,#a68d1e,#a68a1c,#a6891b,#a48519,#a48519,#a5881b,#a4871a,#a4871b,#a38218,#a28117,#a38318,#a68e20,#a5881b,#a68b1c,#a69020,#a59323,#a59626,#a49727,#a49828,#a39a2a,#a39b2b,#a39a2a,#a49727,#a59626,#a59525,#a59525,#a49727,#b49e2a,#b49e2b,#ae9e2c,#b4a02f,#baa12d,#c3a22d,#cda530,#d8a836,#dcac42,#e0b04f,#e2b357,#e5b760,#e7bb67,#eac173,#ebc175,#ecc47a,#edc680,#efc886,#f0cb8c,#f1cc91,#f2cd94,#f3cf98,#f3d09b,#f5d29f,#f5d3a2,#f6d3a4,#f6d4a5,#f6d4a6,#f6d5a8,#f6d5a8,#f7d6a9,#f7d5a9,#f6d5a7,#f6d4a6,#f4d09c,#f1cd92,#f0ca8a,#eec783,#eec782,#edc67f,#eec681,#efc885,#f1cb8e,#f2ce95,#f4d09c,#f6d5a7,#f7d6a9,#f7d7ab,#f7d8ac,#f8d8ae,#f8d8ae,#f8d9af,#f8d9ae,#f8d9af,#f8d9af,#f8dab0,#f8d9b0,#f8d9af,#f8d9af,#f8d8ae,#f7d8ad,#f7d6aa,#f6d3a4,#f4d19d,#f3cf97,#efc989,#edc57d,#ecc379,#eac174,#e5b862,#e2b255,#e0b04f,#dfaf4b,#dfaf4b,#deae49)"></div>
<div style="top:225px;height:3px;background:linear-gradient(90deg,#a6881a,#a5871a,#a6881a,#a68b1c,#a68c1e,#a68a1c,#a6891b,#a58719,#a58719,#a6881a,#a68a1b,#a6891b,#a6881a,#a6881a,#a6881a,#a68a1b,#a68a1c,#a6891b,#a6881a,#a6881a,#a6891b,#a48418,#a38318,#a28217,#a38217,#a28217,#a48418,#a48519,#a58a1c,#a38318,#a38217,#a38318,#a6881a,#a6891b,#a6881a,#a6871a,#a6871a,#a58619,#a5891b,#a68a1b,#a68a1c,#a68f20,#a68c1d,#a68b1c,#a58a1c,#a68a1c,#a68a1c,#a68b1c,#a6891b,#a5871a,#a6881a,#a6891b,#a68d1f,#a68f20,#a68e1f,#a68a1c,#a68b1c,#a5891c,#a48519,#a48519,#a5871a,#a68b1d,#a58c1e,#a5881b,#a69020,#a49727,#a59727,#a49727,#a69424,#a69323,#a59525,#a59525,#a59626,#a49b2b,#a69b2b,#a59b2a,#a59929,#a99a29,#aa9a29,#a99b29,#a99b2b,#af9d2c,#ad9e2c,#b6a02c,#cca533,#d8ab40,#e5b962,#ebc277,#e6ba65,#e4b65e,#e4b65e,#e6b964,#e8bd6c,#e9bf70,#ebc378,#ecc47a,#edc680,#efc987,#f0cb8c,#f1cd92,#f2ce95,#f3cf98,#f3d09a,#f3cf99,#f4d19d,#f5d2a1,#f5d2a2,#f6d3a4,#f6d5a7,#f6d5a7,#f6d5a8,#f7d5a9,#f6d4a7,#f5d3a3,#f4d19e,#f2cd94,#f0cb8c,#efc886,#efc885,#eec783,#efc989,#f0ca8b,#f1cc90,#f2ce95,#f4d19e,#f5d3a3,#f6d5a8,#f7d6a9,#f7d7ac,#f7d8ac,#f7d8ac,#f8d8ad,#f8d9ae,#f8d9ae,#f8d9af,#f8d9af,#f8d9af,#f8d8ae,#f8d8ad,#f7d7ac,#f7d7ab,#f6d4a6,#f5d2a2,#f3d09b,#f1cb8e,#eec783,#ebc175,#eac174,#ecc378,#e6b963,#e3b358,#e1b254,#e1b152,#dfaf4a,#dfaf4b)"></div>
<div style="top:228px;height:3px;background:linear-gradient(90deg,#a6881b,#a58619,#a5871a,#a68b1d,#a68c1d,#a6891b,#a6881a,#a5871a,#a5871a,#a5871a,#a6881a,#a6891b,#a6881a,#a6871a,#a6881a,#a68a1c,#a68c1d,#a68b1c,#a6891b,#a5871a,#a6881a,#a5871a,#a48418,#a48418,#a38318,#a48418,#a58519,#a58b1d,#a68a1c,#a58519,#a58519,#a5871a,#a68a1c,#a68b1c,#a6891b,#a6881a,#a6891b,#a6881a,#a6891b,#a69021,#a68b1d,#a68c1d,#a69324,#a69525,#a69122,#a68e1f,#a68b1c,#a6891a,#a6871a,#a6881a,#a6891b,#a6891b,#a68e1f,#a68d1e,#a68d1e,#a68c1e,#a6891b,#a6871a,#a6881a,#a6891a,#a68a1b,#a68a1b,#a68b1c,#a59121,#a59627,#a49828,#a69324,#a69121,#a69223,#a69424,#a59525,#a59525,#a49727,#a49b2b,#a49727,#a49828,#a59929,#a69a2a,#a59b2a,#c3a32f,#bfa22e,#ae9e2c,#c2a330,#cca533,#d7ad45,#e9c072,#e5b962,#e0b050,#e3b459,#e5b75f,#e6b963,#e7bb68,#e8bc6b,#eac072,#ebc276,#edc57c,#eec884,#efc988,#f0ca8b,#f1cc90,#f2ce95,#f3cf98,#f3cf98,#f3cf99,#f4d19d,#f4d19f,#f5d2a0,#f5d2a1,#f6d3a4,#f6d4a6,#f6d4a7,#f6d5a7,#f6d4a7,#f6d4a5,#f5d2a0,#f4d09c,#f2ce96,#f1cc8f,#f0ca8a,#f0ca8a,#f0cb8d,#f1cc8f,#f1cd92,#f3cf99,#f5d2a0,#f6d4a5,#f6d5a7,#f7d5a8,#f7d6aa,#f7d6aa,#f7d7ab,#f7d7ac,#f8d8ad,#f7d8ad,#f8d8ae,#f8d9af,#f8d8ad,#f7d7ab,#f7d7ab,#f7d6a9,#f6d5a7,#f6d3a4,#f3cf97,#f1cd92,#eec885,#eec782,#ebc276,#e9be6e,#e5b861,#e3b359,#e2b356,#e1b152,#e0b050,#e0b050,#dfaf4b)"></div>
<div style="top:231px;height:3px;background:linear-gradient(90deg,#a68b1c,#a5871a,#a6891b,#a6891b,#a68a1c,#a6881a,#a5871a,#a58619,#a48519,#a5881b,#a6891b,#a68b1c,#a68a1c,#a68a1c,#a68a1c,#a68a1c,#a68a1c,#a68a1c,#a68a1b,#a6891b,#a68a1c,#a58619,#a6891b,#a58b1d,#a58a1c,#a58b1d,#a58e1f,#a59223,#a6891b,#a5871a,#a6881a,#a68a1b,#a68e1f,#a68d1e,#a68a1c,#a68a1b,#a68b1c,#a68b1c,#a68a1c,#a69121,#a68e1f,#a68c1d,#a68f20,#a69021,#a69222,#a69020,#a68a1b,#a6891b,#a6891b,#a68b1d,#a68c1e,#a69020,#a68d1e,#a68d1e,#a68d1e,#a68c1d,#a68a1c,#a68a1c,#a68a1b,#a68a1c,#a68c1d,#a68d1e,#a68d1e,#a68c1d,#a68c1d,#a69021,#a69222,#a69323,#a69424,#a59525,#a59727,#a49828,#a49929,#a49a2a,#a69b2a,#a39a2a,#a39929,#a39a2a,#a79d2c,#c7a430,#d2a735,#cea737,#ddae47,#e8bd6c,#e9bf71,#eac074,#e7bc6a,#e8bd6d,#eac072,#e8bd6c,#e9be6e,#e8bd6c,#e9bf6f,#ebc276,#ecc379,#edc57e,#efc987,#efc988,#f0ca8c,#f1cd92,#f2cd93,#f2ce95,#f2ce96,#f3cf99,#f2ce97,#f3cf98,#f3cf99,#f4d09c,#f5d2a0,#f5d3a2,#f6d3a5,#f6d4a6,#f6d5a7,#f6d4a6,#f5d2a1,#f4d19e,#f3cf98,#f2ce96,#f2cd93,#f1cc91,#f2cd93,#f2ce94,#f3cf98,#f4d09c,#f4d29f,#f6d4a6,#f6d4a7,#f6d5a7,#f7d6a9,#f7d6a9,#f7d6aa,#f7d6aa,#f7d7ab,#f7d8ac,#f7d7ac,#f8d8ad,#f7d7ac,#f7d7ab,#f7d5a9,#f6d4a6,#f5d2a1,#f3cf98,#f1cc91,#efc987,#ecc47b,#eac174,#e9bf6f,#e8bd6d,#e4b65e,#e4b65d,#e0b050,#dfaf4c,#deae49,#deae49,#deae48)"></div>
<div style="top:234px;height:3px;background:linear-gradient(90deg,#a68a1c,#a5871a,#a6881a,#a6891b,#a6891b,#a6881a,#a5871a,#a48519,#a38318,#a48418,#a48519,#a58719,#a58719,#a6881a,#a6881a,#a6891b,#a68a1c,#a6891b,#a6881a,#a6871a,#a6881a,#a6871a,#a5871a,#a5881b,#a68a1c,#a68f20,#a59323,#a68e1f,#a68c1d,#a68b1d,#a68c1d,#a69020,#a59525,#a69121,#a68b1d,#a68d1e,#a69021,#a69021,#a68d1e,#a68e1f,#a69122,#a59223,#a69222,#a69223,#a69021,#a68c1d,#a68c1d,#a69122,#a68b1c,#a6891b,#a68c1d,#a68f20,#a68f20,#a69020,#a69020,#a68e1f,#a68d1e,#a68f20,#a68d1e,#a68c1d,#a68e1f,#a68f20,#a68f20,#a68e1f,#a68f20,#a69222,#a69323,#a69424,#a59626,#a59928,#a59827,#a59626,#a49727,#a49929,#a39a2a,#a49a2a,#ab9d2c,#bba12e,#cda633,#d2a734,#d5aa3c,#d4a837,#d7a937,#dfaf4b,#e2b255,#e4b55c,#e6b965,#e8bd6c,#eac173,#ecc47b,#ebc276,#ebc275,#ebc276,#ecc378,#ecc47b,#eec782,#efc986,#efca89,#f0cb8d,#f1cc90,#f2cd93,#f2ce95,#f2cd92,#f2ce96,#f2ce95,#f3ce97,#f2ce96,#f2ce96,#f3cf99,#f4d19f,#f6d4a5,#f6d4a5,#f6d4a5,#f6d4a6,#f6d4a5,#f5d3a2,#f5d2a1,#f4d19f,#f3d09a,#f3cf99,#f3d09b,#f3cf99,#f4d19d,#f5d2a0,#f5d3a3,#f6d4a6,#f6d4a6,#f6d5a7,#f6d5a8,#f7d5a8,#f6d5a8,#f6d5a8,#f7d6a9,#f7d6aa,#f7d6aa,#f7d6aa,#f7d6a9,#f6d5a7,#f5d3a2,#f4d09b,#f2cd93,#f0ca8b,#eec782,#ecc57c,#eac072,#e9bf6f,#e6ba66,#e5b862,#e4b65d,#e4b65e,#e3b459,#dfaf4c,#deae49,#deae49,#ddad47)"></div>
<div style="top:237px;height:3px;background:linear-gradient(90deg,#a68b1d,#a6891b,#a6871a,#a6891b,#a6891b,#a6871a,#a58719,#a48418,#a28217,#a38217,#a38318,#a48519,#a58619,#a58719,#a6881a,#a6891b,#a68a1c,#a68a1c,#a6891b,#a6891b,#a6881a,#a5871a,#a58619,#a6881a,#a6891b,#a58f20,#a68f20,#a68f20,#a69021,#a69122,#a69324,#a59626,#a49727,#a59525,#a68d1e,#a68e1f,#a69424,#a69323,#a69323,#a59424,#a69424,#a69324,#a69222,#a68e1f,#a68d1e,#a68d1e,#a68d1e,#a68c1d,#a68e1f,#a68a1c,#a68e1f,#a68c1d,#a68d1e,#a68f20,#a68f20,#a69223,#a59525,#a69222,#a68e1f,#a68f20,#a69121,#a69222,#a69021,#a69021,#a69223,#a69424,#a59626,#a49828,#a59828,#a59727,#a59626,#a59727,#a39929,#b19f2c,#b59f2c,#af9e2c,#baa12e,#bea12d,#cca635,#d8ab41,#d4a733,#daaa3c,#deae48,#e2b356,#e5b761,#e8bd6c,#eac072,#ecc378,#ecc379,#edc57d,#edc57d,#ecc47b,#ecc47a,#edc57c,#edc680,#eec782,#efc886,#efc988,#f1cb8f,#f1cd92,#f2cd93,#f2ce94,#f2cd93,#f2ce94,#f2ce95,#f2cd93,#f2cd94,#f3cf97,#f3cf97,#f3d09a,#f5d2a2,#f6d4a5,#f6d4a5,#f6d4a6,#f6d4a6,#f6d4a6,#f5d3a4,#f5d3a3,#f5d2a1,#f5d2a0,#f5d2a1,#f5d2a1,#f5d2a1,#f6d3a4,#f5d3a4,#f6d5a7,#f6d4a7,#f6d4a6,#f6d4a7,#f6d5a8,#f6d5a8,#f6d4a6,#f6d5a7,#f6d5a8,#f7d5a9,#f6d4a7,#f6d5a7,#f6d4a5,#f4d19d,#f2cd94,#efc989,#eec783,#ebc276,#eac174,#e8bc6a,#e6b863,#e4b55c,#e3b358,#e4b65f,#e4b65f,#e2b255,#e1b253,#e0b050,#e0b04f,#e0b150)"></div>
<div style="top:240px;height:3px;background:linear-gradient(90deg,#a6891b,#a6881a,#a6871a,#a68b1c,#a68a1c,#a58719,#a58719,#a38318,#a28117,#a28017,#a28217,#a48418,#a58619,#a6881a,#a68a1c,#a68c1d,#a68d1e,#a6891b,#a58619,#a58719,#a6891b,#a68a1c,#a68c1d,#a68d1e,#a68f20,#a59122,#a49828,#a39929,#a39929,#a49828,#a59727,#a69424,#a59525,#a59525,#a68e1f,#a68e1f,#a69223,#a69424,#a69122,#a69222,#a69323,#a69424,#a59626,#a69021,#a68e1f,#a68d1e,#a68e1f,#a69021,#a68b1d,#a68a1c,#a68d1e,#a68d1e,#a68f20,#a69020,#a69021,#a69020,#a69222,#a69323,#a68f20,#a69121,#a69222,#a69223,#a69323,#a69324,#a69424,#a49727,#a49928,#a59626,#a59626,#a59626,#a59626,#a59727,#a49929,#a39b2b,#af9e2c,#c0a22d,#cca532,#d4a93a,#d3a839,#d2a632,#daaa3a,#ddad46,#e3b459,#e9bf71,#ebc175,#ecc479,#edc57d,#edc67f,#eec783,#eec783,#eec782,#eec781,#edc57e,#edc57e,#edc67f,#efc885,#efc885,#f0ca8b,#f1cc8f,#f1cd92,#f2cd94,#f2ce95,#f2cd93,#f2cd92,#f1cc91,#f1cc90,#f2ce94,#f2ce96,#f3cf97,#f3d09a,#f4d19e,#f5d2a1,#f5d3a4,#f6d4a6,#f6d5a7,#f6d5a8,#f6d4a6,#f6d4a7,#f6d5a7,#f6d4a6,#f6d4a5,#f6d3a4,#f6d3a4,#f6d3a4,#f6d4a6,#f6d4a6,#f6d4a6,#f6d4a6,#f6d4a6,#f6d4a7,#f6d5a7,#f6d5a7,#f6d4a6,#f6d4a7,#f6d4a7,#f6d3a4,#f6d3a4,#f4d19d,#f2ce95,#f0cb8c,#ecc57c,#ebc377,#e9bf70,#e8bd6c,#e5b862,#e3b45a,#e3b45a,#e3b55b,#e3b45a,#e1b152,#e0b050,#e0b050,#e0b04f,#e0b04e,#e0b04e)"></div>
<div style="top:243px;height:3px;background:linear-gradient(90deg,#a6891b,#a6871a,#a68a1c,#a68e1f,#a68e1f,#a6891b,#a58619,#a38318,#a17f16,#a17f16,#a28117,#a38318,#a48519,#a48418,#a48519,#a48519,#a6891b,#a68c1d,#a6891b,#a5871a,#a6891b,#a6891b,#a5871a,#a6891b,#a68b1d,#a68c1d,#a68f20,#a69121,#a69323,#a59727,#a69323,#a69222,#a59626,#a69323,#a68d1e,#a68d1e,#a68f20,#a69021,#a69323,#a59425,#a59525,#a59525,#a59525,#a69323,#a69121,#a69021,#a69021,#a69021,#a68d1e,#a68b1c,#a68e1f,#a68e1f,#a69020,#a69021,#a69121,#a69021,#a68f20,#a59626,#a59525,#a59525,#a59525,#a59525,#a69525,#a59626,#a59626,#a49828,#a59626,#a59626,#a59626,#a59626,#a59626,#a49828,#a39a2a,#a39c2c,#a99d2c,#af9e2c,#b9a02c,#c5a22d,#d2a631,#d9a938,#deae48,#e1b152,#e9be6e,#e8bd6b,#eac174,#edc57d,#edc67f,#efc987,#efc988,#f0ca8a,#efc886,#eec783,#eec781,#eec681,#eec781,#eec884,#efc885,#efc988,#f1cb8e,#f2cd94,#f1cd92,#f2cd93,#f1cd92,#f2ce95,#f2cd94,#f2cd93,#f1cd92,#f2ce96,#f3d09a,#f4d09c,#f5d2a0,#f5d3a3,#f6d3a4,#f6d4a6,#f6d5a7,#f6d5a8,#f6d5a8,#f6d5a8,#f6d5a8,#f6d5a8,#f6d5a7,#f6d5a7,#f6d4a7,#f6d5a7,#f6d4a6,#f6d4a7,#f6d4a7,#f6d4a7,#f6d5a7,#f6d4a6,#f6d4a6,#f6d4a5,#f6d4a6,#f6d4a6,#f6d4a5,#f4d19d,#f2ce96,#f1cc91,#f0cb8e,#efc886,#ebc276,#e9be6e,#e8bd6d,#e6b964,#e3b358,#e2b256,#e1b154,#e0b050,#e1b154,#e2b255,#e2b356,#e1b153,#e1b151,#e2b256,#e2b255)"></div>
<div style="top:246px;height:3px;background:linear-gradient(90deg,#a6881a,#a6881a,#a68b1d,#a6891b,#a68a1b,#a68c1e,#a48519,#a28117,#a07d15,#a07d15,#a17f16,#a28117,#a48519,#a5861a,#a4871a,#a5881b,#a68a1c,#a68b1d,#a6891b,#a5871a,#a68a1b,#a68a1c,#a68b1d,#a69021,#a59324,#a59324,#a69122,#a69222,#a69323,#a59525,#a59525,#a59525,#a69223,#a68f20,#a68d1e,#a68d1f,#a68f20,#a69021,#a69122,#a69122,#a69223,#a69323,#a69323,#a69223,#a69021,#a68f20,#a68f20,#a68d1e,#a68c1d,#a68c1d,#a68f20,#a69021,#a69223,#a69323,#a69323,#a69122,#a69122,#a59525,#a59626,#a69424,#a69323,#a69323,#a69424,#a59525,#a59525,#a59525,#a59626,#a49828,#a49828,#a49828,#a69a29,#a79b2b,#ae9e2c,#b9a02d,#b39f2c,#b59f2c,#bea12c,#cca52f,#d7a836,#dbab3f,#dfaf4d,#e7ba67,#e7bb69,#e8be6d,#ebc276,#edc680,#efc886,#f0cb8c,#f0cb8d,#f0cb8c,#efc987,#efc885,#eec783,#eec781,#eec781,#efc886,#efc988,#efc989,#f1cc8f,#f2cd93,#f2cd93,#f2cd93,#f2ce94,#f2ce94,#f2cd93,#f2ce95,#f3cf97,#f3cf98,#f3d09a,#f4d19e,#f5d2a1,#f6d4a5,#f6d4a5,#f6d4a6,#f6d5a7,#f7d5a8,#f7d5a9,#f6d5a8,#f6d5a8,#f6d5a8,#f6d5a8,#f6d5a8,#f6d5a8,#f7d6a9,#f7d5a8,#f6d5a7,#f6d5a8,#f7d5a8,#f6d5a8,#f6d4a7,#f6d4a5,#f5d3a4,#f6d4a5,#f5d29f,#f3d09a,#f2ce97,#f1cc8f,#eec783,#edc681,#ecc47a,#e9bf70,#e7bc6a,#e4b55d,#e2b358,#e1b153,#e1b152,#e1b151,#e2b255,#e2b255,#e1b154,#e5b760,#e4b65e,#e5b761,#e6b964,#e6ba65)"></div>
<div style="top:249px;height:3px;background:linear-gradient(90deg,#a6891b,#a68a1b,#a6881a,#a68a1b,#a6881a,#a6891b,#a58a1c,#a48419,#a18017,#a17f16,#a28017,#a38318,#a38318,#a38418,#a48619,#a4861a,#a5891b,#a5891b,#a58619,#a6891b,#a58619,#a58519,#a6891b,#a68a1c,#a68a1c,#a68c1d,#a68f20,#a69222,#a69323,#a69323,#a69323,#a69122,#a69021,#a68f20,#a68d1e,#a68d1e,#a68e1f,#a68f20,#a69121,#a69222,#a69324,#a69424,#a69424,#a69424,#a59424,#a69121,#a69222,#a69121,#a68e1f,#a68d1e,#a69021,#a69222,#a69021,#a69121,#a69223,#a59424,#a69324,#a69222,#a69222,#a59626,#a69323,#a69323,#a69323,#a69525,#a69525,#a59727,#a59626,#a59626,#a59727,#a49727,#a59929,#aa9b2a,#a69b2b,#a79d2c,#bea22e,#c4a32f,#c6a32d,#d1a631,#daaa3a,#deae4a,#e3b358,#e8bd6b,#e8bd6b,#ebc175,#ebc378,#eec784,#efc988,#f0ca8a,#f0ca8c,#f0ca8a,#efc988,#eec884,#eec782,#eec782,#eec884,#eec885,#efc989,#f0ca8a,#f0cb8d,#f1cc90,#f2ce94,#f2ce96,#f3cf97,#f2ce95,#f3d09a,#f4d09b,#f3d09a,#f3d09a,#f4d09c,#f4d19f,#f5d2a1,#f5d3a4,#f6d4a6,#f6d4a6,#f6d5a7,#f6d5a7,#f6d5a8,#f6d5a8,#f6d5a8,#f6d5a8,#f7d5a9,#f7d5a8,#f7d5a9,#f7d6a9,#f6d5a8,#f7d5a8,#f7d5a8,#f6d5a8,#f6d5a8,#f6d5a8,#f6d4a7,#f6d3a4,#f5d2a1,#f3cf99,#f2cd93,#f0cb8d,#f0ca8c,#ecc47b,#ecc47b,#ecc379,#e6ba65,#e4b65f,#e3b358,#e2b255,#e0b050,#e1b151,#e1b151,#e2b356,#e4b55c,#e4b65e,#e6b963,#e6ba66,#e7ba67,#e7bb68,#e7ba66)"></div>
<div style="top:252px;height:3px;background:linear-gradient(90deg,#a68b1c,#a5871a,#a5871a,#a6891b,#a6881a,#a48519,#a38318,#a17f16,#9e7b14,#9e7b15,#a07e16,#a38218,#a5871a,#a5871a,#a5871a,#a48619,#a58619,#a38318,#a28017,#a28117,#a38318,#a48519,#a58619,#a68f20,#a68f20,#a68e1f,#a69121,#a59424,#a59525,#a69424,#a59424,#a59727,#a59526,#a69323,#a68e1f,#a68b1d,#a68e1f,#a68f20,#a69223,#a59324,#a59525,#a69323,#a69424,#a59525,#a59626,#a69424,#a69021,#a68e1f,#a68d1f,#a68e1f,#a69021,#a59525,#a59525,#a69424,#a69222,#a69222,#a69222,#a69222,#a69323,#a59626,#a69223,#a69323,#a69424,#a69424,#a59525,#a59525,#a59727,#a49828,#a49929,#a69a29,#a49929,#a39929,#ab9d2b,#b39f2d,#ae9e2c,#c8a432,#d9ad43,#d9ab3d,#ddad45,#e1b253,#e7bc6a,#e6b964,#e8be6d,#ebc276,#ecc47a,#edc680,#eec885,#efc988,#efc989,#efc989,#eec885,#eec782,#eec781,#eec681,#edc67f,#eec783,#efc988,#efc989,#f0cb8d,#f1cc8f,#f2cd94,#f2ce95,#f3cf97,#f3cf97,#f4d19d,#f4d19d,#f4d19e,#f5d2a0,#f5d2a0,#f5d3a2,#f6d3a4,#f6d4a6,#f6d4a6,#f6d4a6,#f6d5a7,#f6d4a7,#f6d5a7,#f6d5a8,#f6d5a7,#f6d5a7,#f6d5a8,#f7d5a9,#f7d6a9,#f7d5a9,#f6d5a8,#f7d5a8,#f7d6a9,#f7d6a9,#f7d6a9,#f7d5a9,#f6d5a7,#f5d3a2,#f4d19d,#f3cf99,#f1cc8f,#f0ca8a,#eec885,#ecc379,#ebc277,#ebc175,#e7bb69,#e5b862,#e2b358,#e2b255,#e0b150,#dfaf4d,#e1b153,#e3b45a,#e2b257,#e5b861,#e7bb69,#e8bd6c,#e8bc6a,#e8bc6a,#e9be6e)"></div>
<div style="top:255px;height:3px;background:linear-gradient(90deg,#a6881b,#a58619,#a6871a,#a6881a,#a5871a,#a48519,#a38318,#a18017,#a07e16,#a18016,#a28117,#a38318,#a38318,#a38318,#a58619,#a6891b,#a6891b,#a28117,#a17e16,#a17f16,#a28117,#a38318,#a58519,#a68a1c,#a68b1d,#a68b1d,#a68e1f,#a69122,#a69525,#a59626,#a59525,#a49727,#a59525,#a69223,#a69222,#a68d1e,#a68f20,#a59525,#a69223,#a69223,#a59525,#a49727,#a59525,#a69424,#a69223,#a69122,#a69121,#a68f20,#a68d1e,#a68c1d,#a68e1f,#a69323,#a59626,#a69525,#a59424,#a69324,#a69424,#a69525,#a69324,#a69223,#a69222,#a69223,#a69223,#a69323,#a59525,#a59626,#a59525,#a59626,#a49929,#a59929,#a69b2a,#af9e2c,#af9e2c,#b09f2d,#c4a32e,#c5a22d,#d0a631,#ddaf47,#e4b75e,#e3b55a,#e4b55c,#e6b965,#e8be6d,#eac073,#ecc47a,#edc57d,#edc681,#eec885,#eec884,#efc885,#eec783,#eec781,#edc680,#eec781,#edc680,#eec783,#eec885,#efc988,#f0ca8c,#f1cc8f,#f2ce95,#f3cf99,#f3d09a,#f4d09b,#f4d19e,#f5d3a3,#f5d2a2,#f5d3a3,#f6d3a4,#f6d4a7,#f6d4a6,#f6d4a7,#f6d4a6,#f6d4a6,#f6d4a6,#f6d4a6,#f6d4a7,#f6d4a7,#f6d4a6,#f6d4a7,#f6d5a7,#f6d5a8,#f6d5a8,#f6d5a8,#f7d5a9,#f7d5a8,#f7d6a9,#f7d5a8,#f7d5a9,#f6d5a7,#f6d5a7,#f5d3a2,#f3cf99,#f2ce95,#f0ca8b,#edc680,#ecc47b,#eac072,#e7bb68,#e7bb67,#e6b964,#e2b257,#e1b151,#e0b04e,#e0b04e,#dfaf4d,#e0b151,#e4b55c,#e8bc6a,#e7bc69,#e8bc6b,#e9be6e,#e8bd6d,#e9be6e,#e9be6e)"></div>
<div style="top:258px;height:3px;background:linear-gradient(90deg,#a6881a,#a5871a,#a58619,#a5871a,#a58619,#a48418,#a38218,#a07e16,#9f7b17,#a17b22,#9f7b16,#a07e16,#a28217,#a38318,#a38218,#a38218,#a38318,#a28117,#a07e16,#a07e16,#a18017,#a38218,#a58619,#a68a1b,#a68b1c,#a68c1d,#a68f1f,#a69122,#a69424,#a69424,#a59525,#a59626,#a69021,#a68c1d,#a68b1c,#a68f1f,#a69223,#a69323,#a59525,#a59727,#a59727,#a59525,#a69424,#a69323,#a69122,#a68f20,#a68f20,#a68e1f,#a68b1d,#a68a1c,#a68c1d,#a69021,#a69323,#a69323,#a69323,#a69222,#a69223,#a69323,#a69323,#a69324,#a69323,#a69323,#a69424,#a69424,#a69323,#a69424,#a59626,#a59828,#a59727,#a49828,#a39929,#a39b2b,#b49f2d,#c3a330,#bfa22d,#d5a93b,#d6a834,#daaa3a,#deae48,#e1b152,#e4b65f,#e6b964,#e8bd6c,#eac174,#ecc378,#ecc47b,#edc67e,#edc67f,#edc680,#eec781,#eec782,#edc67f,#edc57e,#edc67f,#edc680,#edc680,#eec783,#f0ca8a,#f0cb8d,#f1cc90,#f3cf98,#f4d09c,#f4d09b,#f4d29f,#f5d3a3,#f6d3a4,#f6d4a5,#f6d4a5,#f6d4a7,#f6d5a7,#f6d5a7,#f6d4a6,#f6d4a6,#f6d4a6,#f6d4a5,#f6d4a5,#f6d4a6,#f6d4a7,#f6d4a6,#f6d4a6,#f6d4a7,#f6d5a7,#f6d4a7,#f6d4a7,#f6d4a7,#f6d5a8,#f6d5a7,#f6d5a7,#f6d5a8,#f5d3a2,#f5d3a3,#f4d09c,#f2cd92,#f0ca8b,#eec782,#edc67f,#eac173,#e7bc6a,#e6b863,#e3b45b,#e2b256,#e2b356,#e1b252,#e0b04e,#e0b050,#e1b152,#e5b760,#eac072,#e9bf6f,#e8bd6b,#e7bc69,#e9be6e,#eac173,#eac072,#ebc175)"></div>
<div style="top:261px;height:3px;background:linear-gradient(90deg,#a58619,#a58719,#a5871a,#a6881a,#a58619,#a38318,#a28117,#a07d15,#a07c18,#a07c1a,#a07c17,#a07d15,#a07e16,#9f7c15,#9f7c15,#a07e16,#a17f16,#a18016,#a07d15,#a07d15,#a17f16,#a28117,#a58619,#a68a1c,#a68d1e,#a68c1d,#a68e1f,#a69223,#a69222,#a69122,#a69323,#a69121,#a69122,#a68f20,#a68b1c,#a68c1e,#a68f20,#a69122,#a69424,#a49727,#a59626,#a69424,#a69323,#a69222,#a69021,#a68f20,#a68f20,#a68d1e,#a68b1d,#a68b1c,#a69021,#a69223,#a69222,#a69222,#a69222,#a69223,#a69323,#a69323,#a69424,#a69324,#a69323,#a69223,#a69424,#a59525,#a59727,#a49828,#a59626,#a59626,#a89c2b,#ab9c2b,#ae9e2c,#b09f2c,#ae9e2c,#c2a330,#d4a93a,#d2a632,#e0b251,#dfb14d,#e0b04f,#e2b255,#e4b65e,#e6ba65,#e9be6e,#ebc377,#ecc47b,#edc57d,#edc57d,#edc57d,#edc67f,#edc67f,#edc680,#edc57d,#edc57d,#edc67f,#edc67f,#eec783,#eec784,#efc987,#f1cc90,#f2cd93,#f3cf97,#f4d09c,#f4d19f,#f5d3a2,#f6d4a6,#f6d4a6,#f6d4a7,#f6d4a7,#f6d5a7,#f6d5a7,#f6d5a7,#f6d4a7,#f6d4a6,#f6d4a5,#f6d4a6,#f6d4a7,#f6d4a6,#f6d4a6,#f6d5a7,#f6d4a7,#f6d4a6,#f6d4a6,#f6d4a6,#f6d5a7,#f5d3a3,#f6d3a4,#f5d3a3,#f5d3a3,#f5d2a0,#f3d09b,#f3d09a,#f1cc8f,#efc989,#edc57c,#ecc379,#eac174,#e8bd6c,#e6b964,#e3b45b,#e5b75f,#e6b963,#e2b255,#e0b04e,#e1b153,#e2b358,#e3b459,#e8bd6c,#e8bd6b,#e8bd6b,#e9be6e,#eac071,#eac173,#eac073,#eac072,#eac073)"></div>
<div style="top:264px;height:3px;background:linear-gradient(90deg,#a58619,#a5871a,#a6891b,#a68b1c,#a68c1d,#a58a1c,#a48619,#a38318,#a07d16,#a07c1e,#9f7c18,#a07e16,#a28217,#a38318,#a38218,#a28017,#a18016,#a17f16,#9f7d15,#a07d15,#a17f16,#a38217,#a58619,#a68b1c,#a68d1e,#a68c1d,#a69122,#a69021,#a69122,#a69121,#a68f20,#a59626,#a49727,#a68c1d,#a6881a,#a6871a,#a6891b,#a68e1f,#a59324,#a69222,#a69222,#a69223,#a69223,#a69424,#a59525,#a69222,#a68e1f,#a68c1e,#a68b1c,#a68a1c,#a69222,#a69223,#a69424,#a59525,#a69323,#a69222,#a69323,#a69424,#a69424,#a69424,#a69424,#a69424,#a69424,#a59525,#a59525,#a59525,#a59626,#a59828,#aa9c2a,#a39a2a,#a29c2c,#b09f2d,#c8a431,#c7a32e,#d5aa3c,#e0b14f,#dcac42,#e2b356,#e6ba66,#e7ba67,#e7bb68,#e9be6f,#e9bf70,#eac072,#ebc377,#ecc479,#ecc47a,#ecc47a,#ecc57c,#edc57c,#ecc57c,#edc57d,#edc57e,#ecc57c,#edc680,#eec884,#efc987,#efc989,#f0cb8d,#f2cd93,#f3cf98,#f3d09b,#f4d29f,#f6d3a4,#f6d4a7,#f6d5a8,#f6d5a7,#f6d5a7,#f6d4a7,#f6d5a7,#f6d5a7,#f6d4a6,#f6d4a5,#f6d4a6,#f6d4a6,#f6d4a7,#f6d4a7,#f6d4a6,#f6d4a7,#f6d4a7,#f6d4a6,#f6d4a6,#f5d3a3,#f5d2a1,#f4d19e,#f4d09c,#f3cf99,#f2ce95,#f2ce95,#f2ce95,#f0cb8d,#efc886,#ecc57c,#ebc377,#ebc276,#e7bc6a,#e5b861,#e3b45a,#e2b357,#e2b255,#e2b255,#e2b255,#e2b357,#e3b45a,#e1b154,#e4b65e,#e7bb68,#eac072,#e9bf6f,#e9bf6f,#e9bf70,#e9bf71,#eac073,#eac072,#eac073)"></div>
<div style="top:267px;height:3px;background:linear-gradient(90deg,#a58619,#a68a1c,#a68b1c,#a6881a,#a58519,#a38318,#a28117,#a38418,#a28118,#a07c1c,#9f7b17,#a17e16,#a28117,#a28117,#a38318,#a6881a,#a48418,#a17f16,#a07d15,#a07d15,#a18016,#a38318,#a5871a,#a68b1c,#a68c1e,#a68d1e,#a69424,#a69222,#a69222,#a69323,#a69021,#a59424,#a69323,#a68f20,#a68b1c,#a68a1c,#a68d1e,#a68e1f,#a68f20,#a69222,#a59425,#a59626,#a59525,#a69323,#a69222,#a69222,#a69223,#a68d1e,#a68b1d,#a68c1d,#a69021,#a69222,#a69222,#a69121,#a59525,#a69424,#a69323,#a69323,#a69323,#a69323,#a69222,#a69323,#a49828,#a69525,#a59525,#a59626,#a59727,#a49727,#b49f2c,#a69c2b,#a89d2c,#b29f2c,#bfa12d,#dbac44,#dbad44,#e7bb67,#e5b963,#e1b253,#e3b358,#e5b761,#e6ba66,#e8bd6c,#e9bf70,#eac174,#ebc276,#ebc377,#ecc479,#ecc479,#ecc379,#ecc47a,#ecc47a,#ecc57c,#ecc57c,#edc57c,#edc680,#eec782,#efc987,#efca89,#f0cb8e,#f2ce94,#f2ce96,#f3d09a,#f4d19d,#f5d3a3,#f6d4a7,#f6d4a7,#f6d5a7,#f6d5a8,#f6d5a7,#f6d5a7,#f6d5a7,#f6d5a7,#f6d4a6,#f6d4a6,#f6d4a7,#f6d4a7,#f6d4a7,#f6d5a7,#f6d5a7,#f6d5a7,#f6d4a6,#f5d2a1,#f4d29f,#f4d09b,#f3cf97,#f2ce96,#f1cc90,#efc987,#efc885,#eec783,#eec884,#ecc47b,#eac173,#e9be6e,#e9bf70,#e6b964,#e3b55b,#e2b256,#e3b459,#e2b357,#e2b256,#e3b55b,#e5b862,#e3b55b,#e7bb67,#e7bb69,#e7bb67,#e8bd6c,#e9bf70,#e8bc6b,#e8bd6c,#e9bf6f,#e9bf70,#e9bf70,#eac072)"></div>
<div style="top:270px;height:3px;background:linear-gradient(90deg,#a5881a,#a68b1d,#a6891b,#a6881a,#a58619,#a48619,#a48519,#a17f16,#9f7c17,#a07c1a,#a07d15,#a18016,#a38318,#a38318,#a38318,#a58619,#a68a1c,#a28117,#a07d15,#a07e16,#a28117,#a48519,#a6881a,#a68b1c,#a68e1f,#a68e1f,#a68f20,#a69021,#a69223,#a59525,#a59424,#a69021,#a69021,#a68d1f,#a68b1c,#a68a1c,#a68d1f,#a69222,#a59526,#a49727,#a59626,#a69424,#a69323,#a69222,#a69121,#a69021,#a69424,#a68e1f,#a68a1c,#a68c1d,#a68c1d,#a68f20,#a69122,#a69021,#a69222,#a69323,#a59525,#a59525,#a69424,#a69425,#a69324,#a59525,#a59727,#a59525,#a59626,#a59727,#a49828,#a49828,#a49b2b,#bea12e,#b6a02d,#b8a02c,#c8a32e,#d2a632,#e4b65c,#ecc379,#ebc175,#e6ba65,#e6b964,#e6b964,#e6b965,#e8bd6c,#e9bf70,#eac174,#eac174,#ecc379,#ecc379,#ecc47a,#ecc57b,#ecc57b,#ecc479,#ecc47b,#ecc57c,#ecc57c,#edc680,#eec783,#efc885,#efc988,#f1cb8f,#f2cd93,#f3cf98,#f4d19e,#f4d29f,#f5d2a2,#f6d4a5,#f6d4a6,#f6d4a7,#f6d5a8,#f6d5a7,#f6d4a7,#f6d5a7,#f6d5a7,#f6d4a6,#f6d4a7,#f6d5a7,#f6d5a8,#f6d5a8,#f6d5a8,#f7d5a9,#f6d5a7,#f6d4a6,#f4d19e,#f3cf98,#f2ce96,#f1cc91,#efc988,#edc57e,#ecc47b,#ecc479,#ebc175,#e9be6f,#e8bd6c,#e8be6d,#e9be6f,#eac071,#e4b55c,#e3b358,#e2b256,#e3b358,#e2b356,#e2b256,#e5b760,#e8bd6c,#e7bb69,#e9be6f,#e8bd6d,#e9bf6f,#e9bf70,#e9bf6f,#e9be6e,#e9be6e,#e8bd6d,#e8bd6c,#e8be6d,#e9bf70)"></div>
<div style="top:273px;height:3px;background:linear-gradient(90deg,#a68a1c,#a68a1c,#a6891b,#a68a1b,#a5891b,#a38418,#a38519,#a28217,#a17e19,#a07c1c,#9f7b16,#a07d15,#a17f16,#a38318,#a58719,#a6881a,#a68b1c,#a5871a,#a17e16,#a17f16,#a38218,#a6881a,#a68a1c,#a68c1d,#a68e1f,#a68f1f,#a68f20,#a69021,#a69122,#a69121,#a69323,#a68f20,#a68c1d,#a68a1b,#a6881a,#a6871a,#a6891b,#a68a1c,#a68d1e,#a69020,#a69223,#a69223,#a69223,#a69222,#a69121,#a69021,#a69323,#a68d1f,#a68a1b,#a68a1c,#a68b1d,#a68f20,#a69121,#a69021,#a69121,#a69223,#a69424,#a69424,#a69424,#a59525,#a49727,#a39929,#a59525,#a59626,#a49727,#a49828,#a49929,#a39a2a,#a39c2b,#ae9e2c,#c5a330,#c8a430,#cca42f,#d2a632,#deaf4a,#e9be6e,#e9bf70,#e5b861,#e4b55d,#e5b861,#e7bc6a,#e9bf71,#eac174,#ebc275,#ebc276,#ecc47b,#ecc379,#ecc47a,#ecc57c,#ecc57c,#ecc47b,#ecc47b,#edc57d,#edc57e,#edc680,#eec884,#efc886,#f0ca8b,#f0cb8e,#f2ce94,#f3cf99,#f4d19f,#f5d2a0,#f5d3a2,#f6d4a5,#f6d4a6,#f6d5a7,#f6d5a7,#f6d5a8,#f6d5a7,#f6d4a7,#f6d4a6,#f6d4a6,#f6d4a6,#f6d5a7,#f6d5a8,#f7d5a8,#f6d5a8,#f6d5a7,#f6d4a6,#f6d3a4,#f4d09c,#f2cd93,#f1cb8e,#efc988,#edc67e,#ebc277,#e9bf71,#e8bd6c,#e7bb69,#e6b963,#e5b862,#e5b760,#e3b459,#e7bb68,#e2b256,#e0b050,#e0b04f,#e1b151,#e1b152,#e2b256,#e4b65f,#e7ba66,#eac071,#ebc377,#ecc379,#ebc276,#ebc175,#eac174,#eac073,#e9bf71,#e8be6d,#e8bc6b,#e8bd6c,#e8be6d)"></div>
<div style="top:276px;height:3px;background:linear-gradient(90deg,#a68a1b,#a68b1c,#a68b1d,#a68b1c,#a5871a,#a48619,#a17f16,#9f7b15,#9f7b1b,#a17b22,#9f7a18,#9f7b14,#9f7c15,#a17f16,#a58619,#a68a1c,#a68c1d,#a5891c,#a28017,#a28117,#a48418,#a6891b,#a68a1c,#a68d1e,#a68f20,#a69021,#a69021,#a69122,#a69222,#a69121,#a69122,#a68f20,#a68c1d,#a68a1b,#a6881a,#a6881a,#a6881a,#a6891b,#a68d1e,#a69121,#a69122,#a69222,#a69223,#a69222,#a69021,#a69021,#a69424,#a68d1e,#a68a1c,#a68b1c,#a68b1c,#a68f20,#a69121,#a69021,#a69021,#a69222,#a69323,#a59626,#a59525,#a69424,#a59626,#a49828,#a59828,#a79a29,#ab9b2a,#a59a2a,#a29b2b,#a39c2c,#a69d2c,#b19f2c,#bea12c,#d3a838,#d0a632,#d6a834,#dfb04d,#edc57d,#eac073,#eac073,#e6ba66,#e6b963,#e8bc6a,#eac072,#eac073,#ebc276,#ebc276,#ecc47b,#ecc47b,#edc57d,#edc57d,#edc57e,#edc57d,#ecc57c,#edc57d,#edc57c,#edc67f,#eec783,#efc987,#f0ca8c,#f1cc8f,#f2cd92,#f2ce96,#f3d09a,#f4d09b,#f4d19e,#f5d3a3,#f6d4a5,#f6d4a7,#f6d5a7,#f6d5a7,#f6d4a7,#f6d4a6,#f6d4a7,#f6d4a7,#f6d4a6,#f6d5a7,#f6d5a8,#f7d6a9,#f7d5a9,#f6d5a8,#f6d4a5,#f5d3a2,#f4d19e,#f1cc90,#efca89,#edc67f,#ebc175,#ebc276,#e9bf70,#e5b862,#e5b760,#e4b55c,#e3b459,#e2b256,#e6b964,#e6b863,#e1b254,#e0b04f,#e1b151,#e1b254,#e4b55d,#e4b55d,#e5b862,#e7bb68,#eac072,#ebc277,#edc57c,#ecc47a,#ecc379,#ecc47a,#ecc479,#ebc276,#e9be6e,#e8bc6a,#e8bd6b,#e9be6f)"></div>
<div style="top:279px;height:3px;background:linear-gradient(90deg,#a58619,#a6891b,#a68a1c,#a68a1b,#a68a1c,#a38318,#a17f16,#9f7c15,#9e7a15,#9f7a17,#9e7a14,#9f7b14,#9e7b14,#9f7b15,#a18016,#a48519,#a5871a,#a48519,#a28217,#a28117,#a48519,#a6881a,#a68b1c,#a68d1e,#a68f20,#a69021,#a69121,#a69223,#a69223,#a69122,#a69122,#a69021,#a68d1e,#a68a1b,#a6881a,#a6871a,#a5871a,#a6891b,#a68d1e,#a68f20,#a69121,#a69122,#a69222,#a69222,#a69122,#a59424,#a69323,#a68c1e,#a68a1c,#a68a1c,#a68b1d,#a68f20,#a69121,#a69021,#a69122,#a69222,#a59626,#a49828,#a49727,#a59626,#a59727,#a49828,#a49727,#a49828,#a49a2a,#b19f2c,#c1a22d,#c3a32f,#c3a32f,#c2a22d,#c6a32d,#cda52f,#dbac42,#daaa3a,#deaf4a,#e9be6f,#e3b459,#e4b65f,#e8bd6b,#e8bd6c,#e9bf6f,#eac174,#ebc377,#ebc378,#ecc378,#edc57e,#edc57e,#edc67e,#edc67e,#edc57e,#edc57d,#edc57c,#edc67e,#edc57d,#edc680,#eec884,#eec885,#efc987,#f1cb8e,#f1cc91,#f2ce95,#f3cf98,#f4d09c,#f5d2a1,#f5d3a2,#f6d4a5,#f6d4a7,#f6d5a8,#f6d4a7,#f6d4a6,#f6d4a6,#f6d4a7,#f6d4a6,#f6d4a6,#f6d5a8,#f6d5a8,#f6d5a8,#f6d5a8,#f6d4a7,#f5d3a3,#f5d2a1,#f3ce97,#efc988,#edc67f,#ebc277,#eac071,#e9bf70,#ebc377,#e7bb67,#e4b65d,#e4b65d,#e4b65e,#e6ba66,#e6b964,#e2b356,#e0b04e,#deae49,#deae4a,#e4b55c,#e3b359,#e5b761,#e7bb68,#e8bd6d,#ebc276,#edc57d,#edc57e,#edc680,#edc57d,#ecc47b,#ebc378,#ebc276,#e9bf70,#e9be6e,#e9be6e,#eac071)"></div>
<div style="top:282px;height:3px;background:linear-gradient(90deg,#a58619,#a6891b,#a68a1c,#a68d1e,#a5871a,#a48418,#a38319,#a28117,#a07e16,#a07e16,#a07d15,#9f7b15,#9e7a14,#9e7b15,#9f7c15,#a07e16,#a28117,#a38318,#a38217,#a38217,#a58619,#a6891b,#a68c1d,#a68f1f,#a69222,#a59424,#a59626,#a59525,#a59626,#a59626,#a59525,#a69323,#a68e1f,#a68a1c,#a6891b,#a6881b,#a68a1c,#a68c1d,#a68f20,#a59223,#a59424,#a59424,#a69424,#a69424,#a69324,#a69424,#a69021,#a68d1e,#a68d1e,#a6891b,#a68b1d,#a68f20,#a69122,#a69121,#a69122,#a69323,#a59626,#a59626,#a69525,#a59525,#a59525,#a59626,#a49828,#a49929,#a39a2a,#a59c2c,#b09f2c,#bfa12c,#c8a32e,#d0a633,#d4a838,#d0a631,#d9ab3c,#deaf4a,#ddad45,#e6ba66,#e2b255,#e4b65e,#e6b964,#e7bb68,#e9bf71,#ebc277,#ecc57c,#edc57d,#edc57c,#edc67f,#edc680,#eec681,#eec681,#edc57e,#edc67f,#edc67f,#edc67f,#edc67f,#edc680,#eec782,#efc886,#eec885,#f0ca8a,#f1cc8f,#f2cd93,#f2ce96,#f4d19e,#f5d2a0,#f5d2a1,#f6d4a5,#f6d5a7,#f6d5a7,#f6d4a7,#f6d4a7,#f6d4a6,#f6d4a6,#f6d4a7,#f6d5a7,#f6d5a8,#f6d5a8,#f6d5a7,#f6d5a8,#f6d5a7,#f5d2a0,#f3cf97,#f1cc91,#efc988,#ebc276,#eac073,#ecc379,#ebc277,#eac173,#e7bc69,#e4b55d,#e2b357,#e2b357,#e2b356,#dfaf4b,#ddad47,#deae48,#e0b04f,#e2b356,#e2b357,#e2b257,#e4b65f,#e8bc6a,#eac073,#ecc47b,#edc67f,#eec782,#eec784,#eec681,#edc57d,#ecc57c,#ecc47a,#eac175,#eac071,#e9be6f,#eac072)"></div>
<div style="top:285px;height:3px;background:linear-gradient(90deg,#a5871a,#a6891b,#a68c1d,#a68d1e,#a68b1d,#a4871a,#a17f16,#a07e16,#a28117,#a28017,#a18016,#a17f16,#a17e16,#a07e16,#a28117,#a48419,#a4871a,#a6891b,#a58a1c,#a48418,#a6871a,#a68d1e,#a68f20,#a69020,#a69021,#a59525,#a59626,#a59626,#a49828,#a59626,#a49727,#a49828,#a59626,#a69323,#a68e1f,#a6891b,#a58619,#a6881a,#a68a1c,#a68c1d,#a68e1f,#a69021,#a69021,#a69021,#a69424,#a59525,#a69121,#a68e1f,#a68c1d,#a6891b,#a68b1c,#a68f20,#a69121,#a69021,#a69122,#a69323,#a49727,#a69525,#a69525,#a59626,#a59626,#a49727,#a39929,#a39a2a,#a39c2c,#aa9d2c,#ae9e2c,#b9a02c,#caa42f,#cba42f,#cea531,#d8aa3d,#daaa3b,#e1b354,#dfb04c,#e4b65d,#e5b863,#e4b65f,#e7bb68,#e9be6e,#eac174,#ecc47a,#edc57e,#eec781,#eec781,#eec884,#eec885,#eec884,#eec884,#eec783,#eec782,#eec783,#edc681,#edc681,#eec781,#eec782,#eec885,#efc987,#efc988,#f0ca8a,#f1cc91,#f2cd94,#f3d09a,#f4d19f,#f5d2a1,#f6d3a4,#f6d4a7,#f6d4a6,#f6d4a7,#f6d5a7,#f6d4a7,#f6d4a7,#f6d4a6,#f6d4a7,#f6d5a7,#f6d4a6,#f6d5a7,#f6d4a6,#f5d3a3,#f4d19e,#f3ce97,#f1cb8e,#edc57e,#eac073,#e9bf70,#eac174,#ebc175,#e9bf70,#e8bd6c,#e4b65d,#e0b04f,#dfaf4b,#deae49,#deae47,#deae4a,#dfaf4d,#e0b04f,#e0b04f,#e2b358,#e8bc6b,#eac174,#ebc276,#ebc378,#ecc47a,#edc681,#efc885,#efc987,#eec885,#eec783,#edc67f,#ebc377,#ecc379,#ebc377,#eac175,#eac071)"></div>
<div style="top:288px;height:3px;background:linear-gradient(90deg,#a6881a,#a68a1c,#a68e1f,#a68e1f,#a68e1f,#a5871a,#a28218,#a07d15,#9f7b14,#9f7b15,#a07d15,#a07d15,#a07e16,#a07e16,#a07e16,#a17e16,#a28017,#a5861a,#a68c1d,#a58b1d,#a68b1d,#a68f1f,#a69121,#a69323,#a69323,#a69323,#a69424,#a59626,#a49828,#a49727,#a69223,#a69021,#a68d1e,#a68a1c,#a5871a,#a48519,#a48519,#a5871a,#a68a1b,#a68c1d,#a68d1e,#a68e1f,#a68f1f,#a69021,#a69222,#a69021,#a69323,#a68f20,#a68b1d,#a68a1b,#a68b1d,#a68f20,#a69122,#a69122,#a69223,#a59525,#a49727,#a69525,#a59626,#a59626,#a59727,#a49929,#a39929,#a39b2b,#a79d2c,#ae9e2c,#b59f2c,#bea12c,#cda530,#dcac43,#d7aa3d,#d6a834,#dcad43,#e1b253,#e8bd6b,#e7bb68,#eac174,#e5b862,#e7bc69,#e9bf70,#ebc277,#edc57d,#edc67f,#efc987,#efc885,#efc989,#f0ca8a,#efca89,#efc987,#efc886,#eec783,#eec783,#eec782,#edc680,#edc67f,#eec782,#eec782,#efc886,#eec782,#efc987,#f1cb8e,#f1cc91,#f3cf98,#f4d19d,#f5d2a0,#f5d3a3,#f6d4a6,#f6d5a7,#f6d5a8,#f6d5a8,#f6d4a7,#f6d4a7,#f6d4a7,#f6d4a6,#f6d4a5,#f6d4a7,#f6d4a6,#f5d2a1,#f5d2a1,#f4d19d,#f2cd92,#efc988,#ecc379,#e9bf70,#e9be6e,#e6ba65,#e6ba66,#e7bc6a,#e6ba66,#e2b357,#e1b254,#e0b04e,#dfaf4d,#deae49,#deae49,#dfaf4b,#e0b04f,#e2b356,#e7bb69,#e7bb69,#ebc175,#ebc378,#ebc377,#ecc47b,#eec782,#eec884,#eec782,#eec885,#eec884,#edc67f,#ecc47b,#ecc379,#ecc47b,#ecc47b,#ebc377)"></div>
<div style="top:291px;height:3px;background:linear-gradient(90deg,#a6881a,#a6881a,#a68a1c,#a68c1d,#a6891b,#a48519,#a28218,#a48519,#9f7c15,#9f7b15,#9f7c15,#9f7c15,#9e7b14,#9e7a15,#9f7c15,#a07e16,#a18016,#a38217,#a5871a,#a5861a,#a5891b,#a69021,#a49828,#a69323,#a69324,#a59525,#a69525,#a59525,#a59626,#a49929,#a49828,#a69121,#a68d1e,#a6891b,#a58619,#a48519,#a48519,#a58619,#a6891b,#a68b1d,#a68b1d,#a68d1e,#a68f20,#a69222,#a68f20,#a68f1f,#a68f1f,#a68d1e,#a68c1d,#a68b1d,#a68c1d,#a69020,#a69323,#a59626,#a59626,#a59525,#a69424,#a69525,#a59626,#a59626,#a59727,#a39929,#a89b2a,#af9e2c,#b49f2c,#b6a02c,#bca12c,#c5a22d,#caa42e,#d7aa3b,#ddad43,#dcac41,#deaf48,#ddad46,#e0b150,#e7ba66,#e7bc69,#e6b965,#e7bc6a,#eac072,#ecc47a,#edc57e,#eec783,#efc988,#f0ca8a,#f0cb8c,#f0cb8d,#f0cb8c,#efca89,#f0ca8a,#efca89,#efc886,#eec884,#eec781,#edc680,#edc67f,#edc680,#edc680,#eec781,#efc886,#f0ca8a,#f0ca8c,#f2cd93,#f3cf99,#f5d29f,#f6d3a4,#f6d5a8,#f6d5a8,#f6d5a8,#f6d5a7,#f6d5a8,#f6d5a7,#f6d5a7,#f6d4a6,#f5d3a4,#f6d4a5,#f5d3a2,#f4d19d,#f4d09c,#f3cf99,#f1cd92,#eec783,#ebc377,#ebc276,#e9bf70,#e7bc69,#e6ba65,#e5b862,#e5b862,#e4b65d,#e0b04e,#dfaf4a,#dfaf4b,#dfaf4b,#dfaf4b,#e0b04e,#e4b55c,#e8be6d,#e8bd6b,#e8bd6c,#e9be6d,#ebc275,#ebc275,#ecc57c,#edc57c,#eec884,#eec782,#eec783,#eec884,#eec885,#edc680,#eec681,#eec885,#eec782,#edc67f)"></div>
<div style="top:294px;height:3px;background:linear-gradient(90deg,#a6881a,#a68a1c,#a68d1e,#a68e1f,#a6891b,#a48418,#a17f16,#a48418,#9f7b15,#9e7b14,#9f7c15,#9f7c15,#9f7b16,#9e7b15,#9f7c15,#a07d15,#a28117,#a48419,#a5871a,#a68b1d,#a69121,#a59525,#a49627,#a69121,#a69121,#a69323,#a69525,#a59626,#a59727,#a49727,#a59626,#a49828,#a59323,#a68e1f,#a58a1c,#a5871a,#a58619,#a58719,#a6881a,#a68a1b,#a68a1b,#a68f20,#a69020,#a68e1f,#a68d1e,#a68e1f,#a68e1f,#a68e1f,#a68c1e,#a68b1d,#a68c1e,#a69021,#a59727,#a69323,#a69122,#a69323,#a59626,#a59626,#a59828,#a49828,#a89a29,#a49a2a,#a39b2b,#a79d2c,#b5a02c,#c4a32e,#caa430,#cca531,#cea530,#d4a732,#d9aa3b,#deae47,#ddae46,#e0b04e,#e1b152,#e4b55d,#e4b65d,#e7bb67,#eac073,#ecc47b,#edc57c,#eec784,#efc886,#f0cb8c,#f0cb8e,#f1cc8f,#f1cc90,#f1cc90,#f0ca8c,#f0ca8b,#efc989,#eec884,#edc681,#edc680,#edc67e,#edc67e,#ecc57c,#ecc47b,#edc67f,#eec781,#efc987,#efc988,#f1cc91,#f3cf98,#f4d19e,#f6d3a4,#f6d5a7,#f6d5a8,#f6d5a8,#f6d5a8,#f6d5a8,#f6d4a7,#f6d4a6,#f6d4a6,#f6d4a5,#f5d3a2,#f5d2a1,#f4d09b,#f2ce97,#f2cd93,#efc989,#edc57e,#ecc57c,#ebc175,#e7bb68,#e5b75f,#e4b55c,#e4b65d,#e4b55c,#e4b55c,#e3b358,#e2b255,#e1b151,#dfaf4b,#e0b04f,#e0b051,#e2b358,#e4b65f,#e5b760,#e6ba65,#eac174,#eac173,#eac174,#ebc277,#edc57e,#eec884,#efc885,#efc885,#efc987,#efc989,#efc989,#efc989,#efc988,#efc987,#efc988)"></div>
<div style="top:297px;height:3px;background:linear-gradient(90deg,#a6891a,#a6891b,#a68b1d,#a68c1d,#a68f20,#a4861a,#a18016,#a48519,#a38318,#a07e16,#9f7c15,#a07d15,#a07d15,#a17e16,#a38318,#a48619,#a4861a,#a4861a,#a58719,#a5891b,#a68b1c,#a59424,#a68f20,#a68e1f,#a69121,#a69323,#a69525,#a59626,#a39a2a,#a39a2a,#a59929,#a69222,#a68f20,#a68c1d,#a6891b,#a5871a,#a48519,#a5881b,#a68d1e,#a68a1c,#a68f20,#a68c1d,#a68c1d,#a68d1e,#a68d1e,#a68e1f,#a68e1f,#a68e1f,#a68c1e,#a68c1d,#a68e1f,#a69424,#a69223,#a69323,#a59424,#a59626,#a69525,#a69525,#a59626,#a59727,#a49828,#a39a2a,#a29c2c,#a99d2c,#b69f2c,#bfa12c,#c8a32e,#cfa530,#d6a837,#daab3d,#dbab3d,#dbab3f,#ddad46,#e2b255,#e4b55c,#e7bc69,#eac072,#ebc276,#eac173,#ebc276,#edc67e,#efc885,#efc988,#f0cb8d,#f1cc90,#f2cd93,#f2cd94,#f2cd93,#f1cc90,#f0ca8b,#efc988,#eec884,#edc680,#edc57e,#edc57e,#edc57d,#ecc479,#ecc47a,#edc57e,#eec781,#eec884,#efc988,#f1cb8e,#f3cf98,#f4d19e,#f5d3a3,#f6d5a7,#f6d5a8,#f6d5a8,#f7d6a9,#f7d5a8,#f6d5a7,#f6d4a7,#f6d4a5,#f6d4a5,#f5d2a1,#f5d2a0,#f3d09a,#f3cf97,#f1cd92,#f0ca8a,#edc57e,#ecc47b,#eac072,#e7bb68,#e6b965,#e4b65f,#e1b154,#e1b152,#e1b153,#e2b255,#e2b256,#e2b256,#e2b255,#e2b256,#e2b358,#e4b55c,#e5b761,#e6b965,#e8bd6c,#eac173,#eac072,#e9bf70,#ebc276,#ecc57c,#edc680,#eec884,#efc987,#f0ca8b,#f0cb8c,#f1cc90,#f1cd92,#f1cc8f,#f1cc8f,#f0cb8d)"></div>
<div style="top:300px;height:3px;background:linear-gradient(90deg,#a6891b,#a68a1b,#a68b1d,#a68b1d,#a68d1e,#a58b1d,#a18016,#9f7b15,#a17f16,#a18017,#a17f16,#a28117,#a38218,#a48519,#a6891b,#a6891b,#a38318,#a48418,#a68a1c,#a69021,#a69122,#a68d1e,#a68d1e,#a69121,#a69222,#a69323,#a69525,#a59626,#a49828,#a49828,#a59525,#a59727,#a59526,#a68e1f,#a5871a,#a58619,#a58619,#a58619,#a58719,#a6881a,#a68d1e,#a68f1f,#a68e1f,#a69021,#a68f20,#a69020,#a69021,#a68f20,#a68d1e,#a68e1f,#a69324,#a69424,#a59324,#a69122,#a69121,#a69223,#a69323,#a69525,#a59525,#a59727,#a49929,#a29b2b,#a29c2c,#aa9d2c,#b6a02c,#c7a32d,#cea530,#d4a732,#d9a937,#d9a939,#e0b251,#e2b357,#e5b860,#e6b963,#e8bd6c,#e9bf70,#e8bc6a,#e9be6e,#eac174,#ecc379,#edc67f,#eec885,#f0ca8b,#f1cc90,#f2cd93,#f2ce95,#f2cd94,#f2cd93,#f1cc91,#f0cb8d,#efc987,#efc886,#edc57e,#edc67e,#ecc47b,#ebc377,#ebc277,#ebc277,#ecc378,#edc57d,#eec884,#efc988,#f0cb8d,#f2ce96,#f4d09c,#f5d2a1,#f6d5a7,#f6d5a8,#f6d5a8,#f6d5a8,#f6d5a8,#f6d5a7,#f6d4a7,#f6d3a4,#f6d3a4,#f5d3a3,#f5d2a1,#f4d19d,#f3cf98,#f1cc8f,#efc987,#eec782,#ecc378,#eac071,#e9be6f,#e9bf6f,#e6b964,#e5b760,#e4b55b,#e3b459,#e1b154,#e1b152,#e2b356,#e3b45a,#e1b154,#e1b153,#e3b45a,#e5b862,#e7bc6a,#e8bd6c,#e8bc6b,#e8bc6a,#eac071,#ebc276,#edc57d,#eec885,#efc886,#f0ca8a,#f1cc90,#f1cc90,#f1cd92,#f2ce95,#f2ce96,#f3cf97,#f2ce95)"></div>
<div style="top:303px;height:3px;background:linear-gradient(90deg,#a68e1f,#a68e1f,#a69121,#a69223,#a68c1d,#a48519,#a17f16,#a18017,#a28117,#a07e16,#a07e16,#a28017,#a28017,#a28117,#a28217,#a4861a,#a68a1c,#a68a1c,#a68a1c,#a68a1c,#a69021,#a68b1c,#a68e1f,#a59626,#a49929,#a49a29,#a59727,#a59626,#a59626,#a59727,#a59727,#a79726,#a59525,#a68e1f,#a68b1c,#a68e1f,#a5871a,#a58619,#a5891b,#a6891b,#a68e1f,#a69020,#a68f20,#a68f20,#a69021,#a69021,#a68f20,#a68f20,#a69222,#a69223,#a68f20,#a68e1f,#a68f20,#a68f20,#a69020,#a69121,#a69122,#a69424,#a59525,#a59727,#a49929,#a39b2b,#a79d2c,#b39f2c,#c2a22d,#d2a733,#d4a734,#d7a834,#dbab3e,#ddad45,#ddad46,#e3b55a,#e1b151,#e2b256,#e3b45b,#e5b760,#e7bb68,#e7bc69,#ebc175,#ecc47a,#edc680,#efc886,#f0cb8d,#f1cc90,#f2cd93,#f2ce96,#f2cd93,#f2cd93,#f1cc90,#f0ca8a,#efc986,#efc886,#edc67e,#ecc47b,#ecc379,#ecc379,#ebc175,#ebc175,#ebc377,#edc57d,#eec884,#efc989,#f1cc8f,#f2ce96,#f4d19d,#f5d2a1,#f6d4a5,#f6d5a7,#f7d5a8,#f6d5a8,#f6d5a8,#f6d5a7,#f6d4a6,#f6d4a5,#f5d3a3,#f5d3a2,#f5d2a1,#f4d19d,#f3d09a,#f1cc91,#f0ca8a,#eec782,#ecc47a,#eac073,#eac174,#e5b862,#e3b45a,#e3b358,#e2b256,#e2b255,#e3b459,#e3b459,#e2b255,#e1b153,#e2b255,#e2b256,#e4b65f,#e6ba66,#e4b65d,#e5b861,#e6b964,#e9bf6f,#eac175,#eac174,#edc57e,#efc987,#f0ca8a,#f1cc91,#f1cd92,#f1cd92,#f3cf99,#f3cf99,#f4d09b,#f4d19d,#f4d09c)"></div>
<div style="top:306px;height:3px;background:linear-gradient(90deg,#a68c1e,#a68b1c,#a68d1e,#a69021,#a6891b,#a5881b,#a48519,#a38318,#a17e17,#a07d16,#a07d15,#a17f16,#a18017,#a28117,#a38318,#a38318,#a4871a,#a58619,#a68a1c,#a68e1f,#a68a1b,#a6891b,#a68d1e,#a68f20,#a69122,#a59828,#a59727,#a59727,#a59626,#a49929,#a49727,#a59525,#a69121,#a68c1e,#a68a1c,#a6881a,#a58619,#a58619,#a58719,#a6881b,#a68d1e,#a68e1f,#a68c1d,#a68d1e,#a68f20,#a68f20,#a69021,#a69223,#a69223,#a69223,#a68d1e,#a68e1f,#a68f20,#a68f20,#a68f20,#a69121,#a69222,#a69424,#a79827,#aa9b2a,#ae9d2b,#b49f2c,#bda12d,#c8a430,#d0a737,#daac41,#dfb04e,#daaa3a,#dcac41,#dfaf4c,#e3b458,#e1b153,#e3b358,#e3b459,#e4b55d,#e5b861,#e7bc69,#e9bf70,#eac175,#ecc47a,#edc680,#efc886,#efc989,#f0cb8d,#f2cd92,#f2ce96,#f2cd94,#f2ce95,#f1cc8f,#efc988,#eec784,#edc680,#edc67f,#ebc377,#eac072,#ebc175,#eac174,#ebc276,#ecc47a,#ecc47b,#edc57e,#efc886,#f0ca8b,#f2ce95,#f4d09b,#f5d2a0,#f6d4a5,#f6d4a7,#f6d5a8,#f6d5a7,#f6d5a7,#f6d5a7,#f6d4a7,#f6d4a6,#f6d4a6,#f5d3a3,#f5d3a2,#f5d2a0,#f4d09c,#f3ce97,#f1cc90,#efc989,#ecc379,#eac071,#ebc175,#e8bd6b,#e4b65d,#e3b45a,#e3b459,#e2b358,#e2b255,#e2b257,#e2b358,#e2b256,#e2b257,#e2b358,#e4b65e,#e5b760,#e4b65e,#e7ba66,#e7bc69,#eac073,#eac174,#ecc47a,#eec782,#efca89,#f1cc8f,#f2ce96,#f3cf97,#f3d09a,#f4d29f,#f5d2a1,#f5d3a3,#f5d2a1,#f5d2a2)"></div>
<div style="top:309px;height:3px;background:linear-gradient(90deg,#a68a1c,#a68a1c,#a68a1c,#a68d1e,#a68c1d,#a48418,#a07e16,#a28117,#a17f17,#9f7b15,#9f7c15,#a07e16,#a18017,#a38519,#a38519,#a28117,#a28117,#a58a1c,#a68d1e,#a68b1d,#a68b1c,#a68a1c,#a68d1e,#a68f20,#a69122,#a59626,#a69525,#a49727,#a59626,#a49828,#a69525,#a69424,#a59223,#a59324,#a69121,#a68c1d,#a6891b,#a6891b,#a5891b,#a6891b,#a68a1c,#a68e1f,#a68d1e,#a68d1e,#a68d1e,#a68e1f,#a69021,#a68e1f,#a68d1e,#a68b1d,#a68b1d,#a68c1d,#a68d1e,#a68d1e,#a68d1e,#a69122,#a69424,#a69727,#a59727,#a49828,#a39a2a,#a39c2b,#ae9e2c,#baa02c,#c7a32e,#d3a734,#e2b557,#ddad45,#ddad47,#e0b04e,#e1b151,#e5b761,#e4b65f,#e5b760,#e5b863,#e8bd6d,#eac174,#eac072,#ebc276,#edc57d,#edc680,#eec885,#efc989,#f1cb8e,#f1cc91,#f2cd94,#f2cd92,#f2cd92,#f1cc8f,#efc988,#eec781,#edc57d,#ecc379,#ebc275,#eac173,#eac072,#e9bf71,#ebc276,#ebc275,#ecc47a,#eec782,#efc987,#f0cb8d,#f3cf97,#f3d09a,#f5d3a3,#f6d4a6,#f6d4a7,#f6d5a7,#f6d5a8,#f6d5a7,#f6d5a7,#f6d5a7,#f6d5a7,#f6d4a6,#f6d4a7,#f6d4a5,#f5d3a4,#f4d19e,#f3cf99,#f1cc91,#efc987,#ecc47a,#ecc47c,#e9bf71,#e6ba66,#e5b75f,#e4b55d,#e4b55c,#e4b55c,#e5b761,#e5b75f,#e3b45a,#e3b45a,#e3b358,#e2b357,#e2b356,#e4b75f,#e6b964,#e6b964,#e6b964,#e7bb69,#eac072,#edc57d,#efc989,#f1cc90,#f3cf97,#f3d09a,#f4d09b,#f5d2a1,#f5d3a2,#f6d3a4,#f6d4a6,#f5d3a4,#f6d3a5)"></div>
<div style="top:312px;height:3px;background:linear-gradient(90deg,#a68c1d,#a68b1d,#a68b1d,#a68c1d,#a68f20,#a48619,#a38217,#a38318,#9f7b16,#9e7b15,#a07d15,#a48519,#a5881a,#a38318,#a38318,#a48419,#a68c1e,#a68b1c,#a68b1d,#a68d1e,#a68b1c,#a68b1d,#a68e1f,#a69021,#a69223,#a69424,#a59626,#a59626,#a49727,#a49929,#a59626,#a69424,#a69021,#a68d1f,#a68a1c,#a6891b,#a6891b,#a6891b,#a68b1d,#a68b1d,#a68c1d,#a68e1f,#a68c1e,#a68e1f,#a68d1f,#a68c1d,#a68f20,#a68b1d,#a68b1d,#a68c1d,#a68c1e,#a68e1f,#a68e1f,#a68f20,#a69020,#a68f20,#a69222,#a69424,#a59525,#a49828,#af9d2b,#b6a02d,#c1a330,#c7a32e,#d4a93c,#d9aa3b,#ddae46,#e3b65b,#e4b75e,#e2b356,#e2b256,#e4b55c,#e6b964,#e7bb68,#e9bf70,#e9be6f,#e9bf70,#eac073,#ebc378,#ecc379,#edc57d,#eec884,#efc989,#f0cb8c,#f1cc91,#f2cd94,#f1cd92,#f1cd92,#f0cb8d,#efc986,#edc67f,#ecc47a,#ebc277,#ebc276,#eac071,#e9be6f,#e9bf70,#eac072,#ebc377,#ecc479,#edc67f,#efc989,#f1cc8f,#f3cf98,#f4d09b,#f5d3a3,#f6d4a7,#f6d5a7,#f6d5a7,#f6d5a8,#f6d5a7,#f6d5a8,#f6d4a6,#f6d4a5,#f6d4a5,#f6d5a7,#f6d4a6,#f6d4a7,#f6d4a5,#f4d09b,#f3d09a,#f0cb8d,#edc67f,#ecc47a,#e9bf6f,#e8bc6b,#e7ba66,#e6b964,#e7bb69,#e7bb67,#e4b65e,#e3b55b,#e4b65e,#e3b359,#e2b254,#e1b151,#e0b051,#e0b051,#e1b153,#e2b357,#e5b761,#e6b963,#eac173,#edc57e,#efc987,#f1cd92,#f3d09a,#f4d19f,#f5d2a2,#f5d3a4,#f6d3a4,#f6d3a4,#f6d4a5,#f6d4a6,#f6d4a5)"></div>
<div style="top:315px;height:3px;background:linear-gradient(90deg,#a68a1c,#a68a1c,#a6891b,#a6891b,#a5881a,#a38418,#a17f16,#9f7b15,#a07d16,#9f7d15,#a17f16,#a48519,#a68b1c,#a58a1c,#a68c1e,#a68f20,#a68a1c,#a6891b,#a68d1e,#a68d1e,#a68b1d,#a68b1d,#a68e1f,#a69121,#a69222,#a69323,#a49727,#a59525,#a49828,#a49828,#a39929,#a69424,#a69021,#a68e1f,#a68b1d,#a68a1b,#a6891a,#a6891b,#a68d1e,#a68b1d,#a68a1c,#a68b1d,#a68c1e,#a68c1d,#a69020,#a69121,#a69222,#a69021,#a69020,#a68f20,#a68f20,#a68f20,#a68d1e,#a68c1d,#a68c1e,#a68e1f,#a69223,#a79727,#ab9b29,#ae9c2b,#a49c2b,#aa9d2c,#baa02c,#c5a22d,#cfa530,#d9a938,#e5b962,#e0b04e,#e1b254,#e5b761,#e6ba66,#e5b862,#e5b862,#e8bd6c,#e8bc6b,#eac072,#ebc276,#ebc175,#ecc47a,#ecc47b,#edc57d,#eec884,#f0ca8b,#f0cb8e,#f1cd92,#f2cd93,#f2cd93,#f1cc91,#f0cb8d,#eec885,#edc67f,#ecc379,#eac073,#e9bf70,#e9be6f,#e9bf6f,#eac072,#eac174,#ebc275,#ecc379,#eec781,#f0cb8d,#f2cd93,#f3cf97,#f4d19d,#f5d3a3,#f6d4a6,#f6d4a7,#f6d4a7,#f6d5a7,#f6d4a7,#f6d5a7,#f6d5a7,#f6d4a6,#f6d4a7,#f6d5a8,#f7d5a8,#f7d6a9,#f6d5a7,#f5d3a3,#f4d19e,#f2cd93,#eec884,#ecc57c,#eac073,#e9be6f,#e7bc6a,#e6b965,#e8bc6b,#e8bc6a,#e6b964,#e5b75f,#e3b45a,#e3b358,#e2b255,#e0b050,#e0b04e,#e1b153,#e2b357,#e4b65e,#e9be6e,#e9bf71,#e9bf71,#ecc47b,#eec885,#f1cc91,#f3d09b,#f5d2a2,#f6d4a6,#f6d4a6,#f6d3a4,#f6d4a5,#f6d4a6,#f6d4a6,#f6d4a6)"></div>
<div style="top:318px;height:3px;background:linear-gradient(90deg,#a68a1b,#a6891b,#a6881a,#a58619,#a48418,#a38218,#a17f16,#9f7c15,#9f7a18,#9f7b16,#a07d15,#a18016,#a18017,#a38318,#a68d1f,#a68c1e,#a5871a,#a68b1c,#a68e1f,#a69021,#a69021,#a68f20,#a68f20,#a69121,#a69222,#a69424,#a59727,#a59727,#a49727,#a49929,#a39929,#a69424,#a69122,#a69021,#a68f20,#a68e1f,#a68d1e,#a68a1c,#a68a1c,#a68a1c,#a68b1d,#a68b1d,#a68a1c,#a68b1c,#a69021,#a69324,#a68f20,#a68b1d,#a68a1b,#a68a1c,#a68a1c,#a68b1d,#a68e1f,#a59122,#a49626,#a39b2a,#a89c2b,#a59929,#a49929,#a59a2a,#ac9d2c,#b59f2c,#c2a22d,#cda530,#d7a834,#daaa3b,#e0b04f,#e7bb69,#e4b55b,#e4b65f,#e7bb69,#e8bd6d,#e7bb69,#e8be6d,#e9bf70,#ebc276,#ebc275,#ebc277,#ecc479,#ecc47b,#edc57d,#eec782,#f0ca8a,#f0cb8d,#f1cc8f,#f2cd93,#f2cd93,#f1cc91,#f0ca8b,#eec884,#edc67f,#ebc378,#e9bf6f,#e8bd6d,#e8be6d,#e9be6e,#e9be6f,#eac174,#eac073,#ecc47a,#eec884,#f1cb8e,#f2ce95,#f2ce96,#f5d2a0,#f6d4a5,#f6d4a7,#f6d5a7,#f6d5a8,#f6d4a6,#f6d5a7,#f6d4a6,#f6d4a7,#f6d5a7,#f6d5a7,#f6d5a8,#f6d5a8,#f7d6a9,#f7d5a8,#f6d4a5,#f4d19c,#f2ce96,#efca89,#edc57d,#ebc378,#eac073,#e9be6e,#e7bc69,#e7ba66,#e6b964,#e6b863,#e5b862,#e4b65e,#e3b45a,#e2b255,#e0b04f,#e0b050,#e3b45a,#e2b356,#e2b256,#e5b760,#e7bc69,#ebc175,#ecc57c,#f0ca8b,#f3cf99,#f5d2a0,#f6d4a4,#f6d4a7,#f6d4a6,#f6d4a5,#f6d4a6,#f6d4a6,#f6d4a6,#f6d4a6)"></div>
<div style="top:321px;height:3px;background:linear-gradient(90deg,#a68b1c,#a6891b,#a68a1c,#a68c1d,#a5871a,#a4851a,#a28217,#a17f16,#9f7b15,#9f7c15,#a17f16,#a28117,#a38318,#a58b1d,#a5891b,#a48519,#a58619,#a68b1d,#a69222,#a69424,#a69323,#a69021,#a68e1f,#a69121,#a69222,#a69323,#a69424,#a49828,#a49828,#a59727,#a59626,#a69424,#a59626,#a69223,#a68f20,#a68e1f,#a69021,#a68f20,#a68c1e,#a68a1c,#a6891b,#a6891b,#a68b1d,#a68c1e,#a68f20,#a69020,#a68a1c,#a68b1c,#a68c1d,#a68a1c,#a68c1e,#a69021,#a69021,#a69020,#a68f20,#a69121,#a59424,#a99727,#af9b29,#b09d2b,#b4a02d,#c4a331,#dbae47,#d9aa3c,#d9a938,#ddad45,#dfaf4d,#e2b255,#e7bb68,#e5b761,#e7bb68,#eac174,#e9be6e,#e9bf71,#eac175,#eac073,#ebc275,#ebc276,#ebc378,#ecc47a,#edc67f,#eec783,#f0ca89,#f0cb8e,#f1cc8f,#f2cd93,#f1cd92,#f1cd92,#f0cb8c,#eec783,#ecc47a,#ebc277,#e9be6f,#e9be6e,#e8bd6c,#e8bd6c,#e9be6f,#ebc276,#ebc378,#ecc47b,#eec884,#f0ca8b,#f2cd93,#f3cf98,#f5d2a0,#f6d4a7,#f6d4a7,#f6d5a8,#f7d5a8,#f6d5a8,#f6d5a8,#f6d5a7,#f6d5a7,#f6d4a6,#f6d5a8,#f6d5a8,#f7d6a9,#f7d6a9,#f6d5a8,#f6d3a4,#f4d19e,#f4d09c,#f0cb8d,#eec884,#ecc57c,#ebc377,#eac174,#e9be6e,#eac072,#eac072,#e9be6e,#e7ba67,#e5b761,#e4b55c,#e3b358,#e1b152,#e1b152,#e2b356,#e4b65e,#e7ba66,#e8bd6c,#eac174,#ebc378,#edc57d,#f0ca8c,#f3cf98,#f5d2a1,#f6d4a7,#f6d4a7,#f6d4a6,#f6d4a6,#f6d4a6,#f6d4a6,#f6d4a7,#f6d4a5)"></div>
<div style="top:324px;height:3px;background:linear-gradient(90deg,#a68b1c,#a6881a,#a68a1c,#a5891c,#a48418,#a38217,#a28017,#a07e16,#a28017,#a28217,#a58619,#a6891b,#a68d1e,#a68f20,#a5881b,#a48418,#a58719,#a68e1f,#a69323,#a69020,#a69222,#a68d1e,#a68e1f,#a69121,#a69222,#a69323,#a69424,#a59525,#a59727,#a49828,#a49929,#a39a2a,#a59525,#a69323,#a69121,#a68f20,#a68d1e,#a68c1d,#a68c1d,#a68d1e,#a68a1c,#a6891b,#a6871a,#a6881a,#a6881a,#a68d1e,#a6881a,#a68a1b,#a68a1c,#a68a1c,#a68c1d,#a68c1d,#a68d1e,#a68e1f,#a69020,#a69122,#a69323,#a59626,#a39929,#a39b2b,#ad9e2c,#bfa12c,#d5a93b,#deaf49,#dbab3f,#dfaf4c,#e1b151,#e3b45a,#e7ba67,#e5b862,#e8bd6b,#eac073,#e9bf70,#eac072,#eac173,#eac174,#ebc275,#ebc378,#ebc378,#ecc479,#edc57e,#eec782,#eec885,#f0cb8c,#f1cc91,#f2cd94,#f2ce95,#f1cc90,#f0cb8d,#efc886,#edc680,#ebc277,#e9be6f,#e9bf70,#e9be6f,#e8be6d,#e9be6f,#eac072,#ebc377,#edc57d,#eec884,#f0cb8c,#f2cd94,#f4d09b,#f5d2a1,#f6d4a6,#f6d5a8,#f6d5a8,#f6d5a8,#f7d5a9,#f6d5a8,#f6d5a7,#f6d5a7,#f6d4a7,#f6d5a8,#f6d5a8,#f7d6a9,#f7d6a9,#f7d5a9,#f6d4a6,#f5d3a2,#f4d19f,#f2ce96,#f0ca8c,#efc987,#edc57e,#edc67f,#ecc379,#ebc276,#ebc377,#eac072,#e7bb68,#e5b862,#e3b55b,#e3b45a,#e1b151,#e0b04f,#e0b04f,#e1b151,#e4b55c,#e6b863,#e8bd6b,#eac174,#eec781,#f0ca8c,#f3d09a,#f4d19d,#f5d3a4,#f6d4a5,#f6d4a6,#f6d4a6,#f6d4a6,#f6d4a5,#f6d4a5,#f6d3a5)"></div>
<div style="top:327px;height:3px;background:linear-gradient(90deg,#a68c1d,#a68a1b,#a68c1d,#a68a1c,#a4871b,#a4861a,#a4871a,#a38418,#9f7c15,#9f7c15,#a17f16,#a38519,#a58a1c,#a68f20,#a68e1f,#a68a1c,#a68d1e,#a69021,#a68f20,#a68f20,#a69222,#a68c1d,#a68e1f,#a69021,#a69223,#a69324,#a69424,#a59525,#a59626,#a59727,#a39929,#a49828,#a59525,#a59626,#a59626,#a69324,#a69021,#a68f20,#a68d1e,#a68a1c,#a68b1c,#a68b1c,#a68a1c,#a5891b,#a68a1c,#a5881a,#a58719,#a68a1c,#a68b1c,#a68a1b,#a68b1c,#a68c1d,#a68d1e,#a69020,#a69425,#ab9726,#a59727,#a59626,#a39a2a,#aa9d2c,#bba12d,#cea737,#e1b456,#e4b75e,#dcac42,#dfaf4d,#e2b256,#e4b55c,#e8bc6a,#e7ba66,#e8bd6c,#e9bf6f,#e9bf71,#e9be6f,#eac073,#eac173,#eac073,#eac175,#ebc276,#ebc378,#ecc57c,#eec782,#efc988,#f0ca8a,#f1cd91,#f2ce95,#f2ce96,#f2cd94,#f0cb8c,#eec885,#edc67f,#ecc379,#eac072,#e9bf70,#e9bf6f,#e9bf6f,#e9bf71,#ebc275,#ecc47a,#eec782,#efc988,#f0ca8b,#f2cd93,#f4d19d,#f5d3a3,#f6d4a6,#f6d5a8,#f7d6a9,#f7d5a9,#f7d6a9,#f7d5a9,#f6d5a8,#f6d5a8,#f6d5a7,#f6d5a8,#f7d6a9,#f7d5a8,#f7d6a9,#f7d5a8,#f6d5a7,#f6d3a4,#f4d19f,#f4d09c,#f1cd92,#efca89,#eec784,#edc680,#edc681,#ecc47b,#ecc378,#eac072,#e9be6e,#e7bb69,#e5b760,#e4b65f,#e1b154,#e0b051,#e1b152,#e1b151,#e3b45a,#e5b760,#e7bb68,#ebc276,#efc885,#f1cb8e,#f2ce95,#f3d09b,#f5d3a3,#f6d3a4,#f6d4a6,#f6d4a7,#f6d4a6,#f6d4a5,#f6d4a6,#f6d4a5)"></div>
<div style="top:330px;height:3px;background:linear-gradient(90deg,#a68a1c,#a68b1d,#a68a1c,#a5871a,#a58619,#a68c1d,#a6891b,#a48419,#a18017,#a07e16,#a28117,#a38318,#a48418,#a58619,#a6891b,#a68e1f,#a69021,#a69021,#a69222,#a69222,#a69424,#a68f20,#a68f20,#a69020,#a69222,#a69424,#a69424,#a59525,#a59626,#a59626,#a49727,#a39929,#a49828,#a59525,#a59626,#a69222,#a69021,#a68e1f,#a69121,#a68b1c,#a6881a,#a5871a,#a58619,#a48519,#a5871a,#a5871a,#a5871a,#a68a1b,#a68c1e,#a68f20,#a69223,#a69122,#a69122,#a69222,#a69122,#a69424,#a69727,#b09c2a,#bca12d,#caa430,#cea635,#d5a93b,#e4b75f,#e5b861,#e5b860,#e2b356,#e3b359,#e4b65e,#e6b965,#e8bd6c,#e8bd6c,#e8bd6d,#eac073,#e9bf70,#e9bf71,#eac072,#ebc175,#ebc276,#ecc379,#ecc47b,#ecc57c,#eec782,#efc988,#f0cb8e,#f1cc8f,#f2cd94,#f2cd94,#f2ce95,#f0ca8a,#efc988,#edc680,#ecc479,#ebc277,#eac072,#e9bf70,#e9be6e,#eac174,#ebc377,#ecc47b,#edc680,#efc987,#f1cc8f,#f2ce96,#f5d29f,#f5d2a1,#f6d4a5,#f6d5a8,#f7d5a9,#f7d5a8,#f7d5a8,#f6d5a8,#f6d5a8,#f6d5a8,#f6d5a8,#f6d5a8,#f6d5a8,#f6d5a7,#f7d5a8,#f6d5a8,#f6d5a7,#f6d3a4,#f5d2a0,#f4d09c,#f3ce97,#f2cd93,#f0cb8d,#efc886,#eec681,#ecc47b,#ebc378,#eac072,#eac073,#e9bf6f,#eac071,#e5b761,#e2b358,#e1b154,#e2b257,#e2b255,#e4b65f,#e6b965,#e8bd6c,#eac174,#edc57e,#efc988,#f2ce95,#f4d19e,#f5d2a2,#f6d4a5,#f6d4a5,#f6d3a5,#f6d4a6,#f6d4a5,#f6d4a6,#f6d4a6)"></div>
<div style="top:333px;height:3px;background:linear-gradient(90deg,#a58619,#a68a1c,#a68a1c,#a5881b,#a58619,#a58619,#a4861a,#a48519,#a28217,#a28117,#a38318,#a48418,#a48519,#a48418,#a48519,#a68c1d,#a6891b,#a68d1e,#a69323,#a69222,#a68f20,#a69222,#a59424,#a59526,#a59626,#a59626,#a59626,#a59727,#a49828,#a49929,#a39929,#a39a2a,#a49828,#a59525,#a69424,#a69121,#a68e1f,#a68d1e,#a68b1d,#a68a1b,#a6881a,#a58619,#a58619,#a5871a,#a5871a,#a58619,#a58719,#a68a1c,#a68b1d,#a68b1d,#a69324,#a68f20,#a68e1f,#a69021,#a69323,#a69424,#a59525,#a49828,#a39929,#a79d2c,#b9a02c,#c8a32e,#d4a836,#e4b75e,#e4b75f,#e4b65f,#e5b861,#e6ba65,#e6ba65,#e8bd6b,#e9bf70,#e9bf71,#e9bf71,#e9bf70,#e9bf71,#eac173,#eac073,#ebc175,#ebc276,#ebc377,#ecc47b,#eec781,#efc989,#f1cb8e,#f1cd92,#f2cd93,#f2cd93,#f1cc91,#f1cb8e,#eec885,#edc67f,#ecc47b,#eac073,#eac071,#eac071,#eac073,#ebc175,#ebc277,#ecc47a,#edc67f,#efca89,#f1cc91,#f2cd94,#f4d09c,#f5d2a0,#f6d4a6,#f6d5a8,#f7d5a8,#f7d5a8,#f7d5a8,#f6d5a8,#f6d5a8,#f6d5a7,#f6d5a7,#f6d5a8,#f6d4a6,#f6d5a7,#f6d5a7,#f6d5a7,#f6d5a7,#f6d4a5,#f5d2a2,#f4d19e,#f3cf99,#f2ce96,#f1cd92,#f0ca8b,#efc886,#edc67f,#edc57c,#ebc275,#e8bd6c,#e8bd6d,#e8bc6a,#e4b65e,#e3b359,#e2b358,#e3b45b,#e6ba65,#e8bc6a,#e6b965,#e9be6e,#ebc276,#eec782,#f0cb8c,#f2ce97,#f4d19e,#f5d3a3,#f6d4a5,#f6d3a4,#f6d4a5,#f6d4a5,#f6d3a4,#f6d4a6,#f6d5a7)"></div>
<div style="top:336px;height:3px;background:linear-gradient(90deg,#a5881a,#a6891b,#a58619,#a58619,#a5891b,#a58619,#a48519,#a38217,#a48418,#a48418,#a5871a,#a58619,#a58619,#a58519,#a48519,#a5881b,#a5871a,#a68b1d,#a68d1e,#a68f20,#a68f20,#a69021,#a69223,#a59424,#a59727,#a49929,#a49b2a,#a39b2b,#a39929,#a49828,#a49828,#a49727,#a59525,#a69525,#a69323,#a69222,#a68f20,#a68d1e,#a68b1d,#a6891b,#a6881a,#a58719,#a58619,#a68a1c,#a58619,#a58619,#a5871a,#a68a1c,#a68a1c,#a68d1e,#a68f20,#a68e1f,#a68f20,#a69222,#a69424,#a69525,#a59626,#a49828,#a39a2a,#a59c2c,#b49f2c,#c9a432,#d7aa3c,#e0b24f,#eac072,#eac175,#e5b862,#e5b861,#e6b964,#e8bc6b,#e8be6d,#e9be6e,#e9be6f,#e9be6f,#e9bf70,#e9bf70,#e9bf71,#eac174,#eac173,#ebc377,#edc57c,#eec782,#efc987,#f0cb8d,#f2cd93,#f1cd92,#f1cd92,#f1cb8e,#f0ca8a,#eec884,#edc67f,#ecc479,#eac071,#e8bd6d,#e9be6e,#eac071,#eac072,#eac073,#ebc377,#ecc57c,#efc987,#f0cb8c,#f2cd94,#f3cf9a,#f4d19f,#f5d3a3,#f6d5a7,#f6d5a8,#f7d5a8,#f7d6a9,#f6d4a7,#f6d5a7,#f6d4a6,#f6d4a6,#f6d4a6,#f6d4a6,#f6d4a6,#f6d4a7,#f6d5a7,#f6d4a7,#f6d4a5,#f5d3a3,#f4d19f,#f4d09b,#f3cf99,#f2ce94,#f1cc8f,#efc989,#eec782,#ecc47b,#ecc379,#ebc276,#ebc175,#e6b965,#e5b761,#e5b75f,#e4b65d,#e5b760,#e4b55c,#e8bd6c,#e9bf6f,#eac173,#ecc379,#eec783,#f0cb8c,#f2ce94,#f3cf9a,#f4d19f,#f5d3a3,#f6d4a6,#f6d4a6,#f6d4a7,#f6d4a6,#f6d4a5,#f6d4a5)"></div>
<div style="top:339px;height:3px;background:linear-gradient(90deg,#a68b1c,#a6881a,#a5871a,#a5891b,#a5871a,#a58719,#a58719,#a5891b,#a6881a,#a6891b,#a68a1c,#a68a1c,#a6881a,#a58619,#a58619,#a5881a,#a6881a,#a68a1c,#a68d1e,#a68e1f,#a68e1f,#a68c1d,#a68c1d,#a68e1f,#a69021,#a69424,#a59525,#a69425,#a69525,#a59626,#a59626,#a49727,#a59727,#a59525,#a69424,#a69222,#a59525,#a69021,#a68e1f,#a68d1e,#a68e1f,#a68d1e,#a68d1e,#a68d1e,#a6881a,#a58719,#a58719,#a68a1b,#a68c1d,#a68b1d,#a68d1e,#a68d1e,#a68e1f,#a69121,#a69323,#a69424,#a59727,#a79a29,#b09d2b,#b39f2d,#baa130,#c0a22d,#cea530,#d6a733,#dcac42,#e5b860,#eac071,#e7bc69,#e7bb67,#e6b965,#e7bb69,#e8be6d,#e9be6f,#e8bd6c,#e8bd6d,#e9bf70,#eac072,#eac073,#ebc276,#ecc47b,#edc67e,#eec782,#efc987,#f1cb8e,#f1cd92,#f1cc91,#f1cc91,#f1cc8f,#f0ca8a,#edc67e,#edc57d,#ebc276,#e9bf70,#e7bc6a,#e7bb69,#e8bd6c,#e8be6d,#e9be6e,#eac174,#ecc379,#edc57e,#efc886,#f1cc90,#f2ce96,#f4d09c,#f4d19d,#f6d3a4,#f6d4a6,#f6d5a7,#f6d5a7,#f6d4a7,#f6d4a5,#f6d4a6,#f5d3a4,#f6d4a5,#f6d3a4,#f6d4a6,#f6d4a6,#f6d5a7,#f6d4a6,#f6d3a4,#f6d3a4,#f4d19e,#f3d09a,#f3cf97,#f1cc91,#f0cb8d,#efc885,#efc886,#ecc47a,#ebc277,#eac173,#e9bf70,#e7bb67,#e6b964,#e5b862,#e6b963,#e5b75f,#e6b963,#e7ba67,#e8bd6d,#eac173,#ecc57c,#eec884,#f1cc91,#f3cf97,#f5d2a0,#f5d3a2,#f6d3a4,#f6d4a6,#f6d5a7,#f6d4a7,#f6d5a7,#f6d4a7,#f6d5a8)"></div>
<div style="top:342px;height:3px;background:linear-gradient(90deg,#a6881a,#a68b1d,#a68c1d,#a68a1c,#a6881a,#a6871a,#a68c1d,#a5871a,#a28217,#a5881b,#a68d1e,#a68e1f,#a68b1d,#a6891b,#a5881b,#a5871a,#a5871a,#a68a1c,#a68d1e,#a68e1f,#a68e1f,#a69021,#a68d1f,#a68d1e,#a69021,#a69122,#a69323,#a69323,#a69424,#a69525,#a59727,#a49727,#a39929,#a69525,#a69424,#a69222,#a69122,#a59323,#a68c1e,#a68b1d,#a68a1b,#a68a1c,#a68d1e,#a68d1e,#a6891b,#a6881a,#a6891b,#a68e1f,#a68b1d,#a68b1c,#a68c1d,#a68c1e,#a68d1f,#a68f20,#a69122,#a69222,#a59626,#b8a02c,#af9e2c,#a39a2a,#a69c2c,#b8a02c,#c6a32d,#d0a631,#d9a939,#ddad44,#e1b152,#e5b861,#e5b760,#e6ba66,#e7bc69,#e8bc6b,#e8bd6b,#e8be6d,#e9bf70,#eac072,#eac173,#eac174,#ecc47a,#edc57c,#edc67f,#eec782,#efc987,#f0cb8c,#f1cc90,#f1cc91,#f1cc90,#f0cb8c,#efc885,#ecc47b,#ebc276,#e9be6e,#e8bc6a,#e7bb67,#e7ba67,#e7bb67,#e7bb69,#e9bf6f,#e9bf70,#ebc275,#ecc47c,#eec884,#f1cb8e,#f2cd93,#f2ce96,#f3cf98,#f4d19f,#f5d2a2,#f5d3a3,#f5d3a3,#f5d3a3,#f5d3a3,#f5d3a3,#f5d3a3,#f6d4a5,#f6d3a4,#f6d4a6,#f6d4a7,#f6d4a7,#f6d4a7,#f6d4a6,#f5d3a2,#f4d19e,#f4d09c,#f2ce96,#f1cc8f,#efc987,#edc680,#edc67f,#ebc378,#ebc378,#eac174,#e9bf6f,#e8bd6c,#e7bb68,#e6b863,#e6b963,#e7bb68,#e8bc6a,#e9bf6f,#ebc277,#ecc47a,#eec781,#efc988,#f2cd92,#f3cf98,#f5d3a3,#f6d4a5,#f6d5a7,#f6d5a8,#f6d5a8,#f7d5a8,#f7d5a9,#f6d5a8,#f7d5a8)"></div>
<div style="top:345px;height:3px;background:linear-gradient(90deg,#a6891b,#a68a1c,#a68b1c,#a68d1e,#a68d1e,#a68e1f,#a68b1c,#a48519,#a48419,#a5891b,#a68c1e,#a69021,#a68a1b,#a6881a,#a58619,#a58619,#a5871a,#a6891b,#a68b1c,#a68a1c,#a6891b,#a68d1e,#a68f20,#a68f20,#a69121,#a69122,#a69223,#a69222,#a69324,#a59626,#a59525,#a49828,#a59626,#a69424,#a59626,#a59525,#a69223,#a68f20,#a68d1e,#a68d1e,#a68c1d,#a68b1d,#a68f20,#a59525,#a69222,#a69021,#a68f20,#a68c1d,#a68b1c,#a68a1c,#a68b1d,#a68b1d,#a68d1e,#a68e1f,#a69020,#a69020,#a69222,#a79727,#b9a02c,#b79f2c,#ae9e2c,#b7a02d,#cba534,#deb04e,#e8bc6b,#e8bc6c,#e7ba66,#e8bc6b,#eac072,#e7bb68,#e5b862,#e6b964,#e8be6d,#e9be6f,#e9bf70,#ebc175,#ebc275,#ecc378,#ecc47a,#ecc57c,#edc67e,#eec783,#efc988,#f0ca8a,#f0cb8c,#f1cb8e,#f1cb8e,#efc988,#eec782,#ecc379,#ecc379,#e9be6e,#e7bb68,#e5b862,#e5b862,#e5b862,#e5b761,#e6b964,#e8bc6a,#eac174,#ebc378,#edc57d,#eec783,#f0ca8a,#f0cb8d,#f2cd94,#f3d09a,#f3d09a,#f4d19e,#f4d19d,#f4d19e,#f4d29f,#f4d19e,#f4d19f,#f5d2a2,#f6d4a5,#f6d4a5,#f6d4a6,#f6d4a7,#f6d4a6,#f6d3a4,#f4d19e,#f3d09a,#f2ce94,#f1cc8f,#efc988,#eec781,#ecc57c,#ecc47a,#ebc378,#ebc175,#eac072,#e8be6d,#e7bc69,#e7bb68,#e7bb67,#e8bd6b,#e8bc6b,#e8bd6b,#e9bf70,#ecc47b,#edc67f,#efc987,#f2cd93,#f3cf97,#f5d2a0,#f6d5a8,#f6d5a7,#f6d5a8,#f7d6a9,#f7d6aa,#f7d6a9,#f7d6aa,#f7d7ab,#f7d6aa)"></div>
<div style="top:348px;height:3px;background:linear-gradient(90deg,#a68b1c,#a68c1d,#a68f20,#a68b1c,#a68a1c,#a68a1b,#a6891b,#a58619,#a48619,#a6891b,#a68d1e,#a68d1e,#a68b1c,#a6891b,#a58719,#a58719,#a6871a,#a6891b,#a68b1c,#a68b1d,#a68b1d,#a6891b,#a68d1e,#a6891b,#a68f20,#a59424,#a59525,#a59525,#a59525,#a69323,#a59626,#a69525,#a69424,#a59626,#a69425,#a69324,#a69323,#a69424,#a69424,#a59222,#a69021,#a69021,#a59324,#a69122,#a68e1f,#a68c1e,#a68c1e,#a68c1d,#a68b1d,#a68a1c,#a68b1c,#a68b1d,#a68b1c,#a68c1d,#a68e1f,#a68e1f,#a68f20,#a69222,#a59626,#b39f2c,#bea22e,#c3a331,#caa531,#dcad44,#e6b964,#eac174,#eac175,#e9be6e,#e6ba66,#e6ba66,#e7bb68,#e7bb69,#e8bd6c,#eac072,#eac173,#ebc276,#ebc277,#ecc379,#ecc479,#ecc47b,#edc680,#efc885,#f0ca8a,#efca89,#f0cb8d,#f1cb8e,#f0ca8b,#eec884,#edc57e,#ebc276,#ebc275,#e7bc6a,#e5b760,#e4b65d,#e3b459,#e3b45a,#e3b55b,#e5b862,#e6ba65,#e8bd6c,#eac174,#ebc377,#ecc378,#eec783,#f0ca8a,#f0ca8b,#f1cb8e,#f2cd93,#f2cd94,#f2ce96,#f3cf97,#f3cf99,#f3cf99,#f4d19d,#f4d19e,#f6d4a6,#f6d4a5,#f6d4a6,#f6d4a7,#f6d4a6,#f5d2a0,#f4d09c,#f3cf98,#f1cc8f,#efc987,#edc680,#ecc47a,#ebc276,#eac073,#eac072,#e9be6f,#e9be6e,#e8bd6d,#e8bc6b,#e8bd6d,#e9be6d,#e8bd6c,#e8be6d,#e9bf70,#ebc378,#edc57e,#edc680,#f1cd92,#f3cf97,#f3d09a,#f5d3a3,#f6d5a7,#f6d5a8,#f6d5a8,#f7d6aa,#f7d6aa,#f7d7ac,#f7d7ab,#f7d7ab,#f7d7ac)"></div>
<div style="top:351px;height:3px;background:linear-gradient(90deg,#a69021,#a69222,#a68e1f,#a68b1c,#a68a1c,#a68a1c,#a68a1c,#a68a1c,#a58619,#a68a1c,#a68c1d,#a68e1f,#a68b1d,#a6891b,#a5871a,#a6881a,#a6891b,#a68a1c,#a6891b,#a6871a,#a68a1c,#a58619,#a5871a,#a68c1e,#a68b1c,#a68e1f,#a69121,#a69222,#a69222,#a69323,#a59525,#a69323,#a69525,#a59626,#a69324,#a69122,#a68f20,#a68f20,#a68f20,#a68f20,#a68f20,#a68e1f,#a68f20,#a69020,#a69020,#a68f20,#a69021,#a68e1f,#a68b1d,#a68a1b,#a68a1c,#a68a1c,#a6881a,#a6891b,#a68a1c,#a68b1d,#a68c1d,#a68f20,#a69323,#a59525,#a59727,#a49929,#c3a330,#d1a735,#e0b150,#ddad46,#dcac42,#e3b459,#e8bd6d,#e8bd6c,#e6b964,#e7ba67,#e7bb68,#e8bd6c,#eac072,#ebc275,#ebc277,#ebc377,#ecc47a,#edc57e,#edc67f,#eec783,#efc988,#efc988,#f0ca8b,#efca89,#efc886,#eec783,#ecc57c,#eac072,#e7bc69,#e6b963,#e6b863,#e4b55c,#e2b255,#e2b254,#e3b45a,#e5b75f,#e5b862,#e7bb68,#e8bd6c,#eac071,#ebc275,#ecc47b,#edc57d,#eec783,#efc988,#f0ca8b,#f1cc8f,#f1cc91,#f1cd91,#f2ce95,#f2ce96,#f3d09b,#f4d19c,#f5d3a3,#f6d4a6,#f6d5a7,#f6d5a7,#f6d4a5,#f5d3a3,#f3d09b,#f2cd92,#efc988,#edc67e,#ecc47a,#eac174,#eac071,#e9bf70,#e9be6e,#e8bd6d,#e9be6e,#e9be6e,#e9be6e,#e9be6e,#e8be6d,#eac173,#e9bf71,#eac174,#edc57d,#edc680,#efc987,#f2cd92,#f2ce95,#f3d09b,#f5d3a4,#f6d5a8,#f7d6a9,#f7d7ab,#f7d7ac,#f7d8ac,#f8d8ad,#f8d8ad,#f8d8ad,#f8d8ad)"></div>
<div style="top:354px;height:3px;background:linear-gradient(90deg,#a68e1f,#a68e1f,#a68e1f,#a68d1e,#a68c1d,#a68d1e,#a68f20,#a68a1c,#a6891b,#a68a1b,#a68c1d,#a68e1f,#a68f20,#a68b1c,#a5871a,#a6881a,#a6891b,#a68a1b,#a68a1b,#a68a1b,#a6881a,#a58519,#a48519,#a6891b,#a69021,#a68f20,#a69020,#a69222,#a69122,#a59525,#a69222,#a69223,#a69424,#a69424,#a69424,#a69222,#a69021,#a68f1f,#a69021,#a69121,#a69222,#a69323,#a69122,#a69222,#a69021,#a68e1f,#a68f20,#a69021,#a68d1e,#a68a1b,#a68a1b,#a6891b,#a5871a,#a6881a,#a6881a,#a6881a,#a68a1b,#a68b1c,#a68e1f,#a69122,#a69424,#a69928,#c1a22e,#ac9e2c,#d4aa3e,#dbac41,#d7a835,#ddad46,#e6ba65,#e9be6f,#e4b65d,#e5b862,#e7bb67,#e8bd6c,#eac173,#eac174,#ebc277,#ecc47a,#ecc57c,#ecc57c,#edc57e,#eec782,#eec783,#eec885,#efc987,#efc988,#efc885,#edc67f,#ecc47a,#eac175,#eac072,#e5b760,#e3b358,#e1b152,#e2b357,#e3b458,#e1b152,#e2b257,#e4b55d,#e5b863,#e7bb68,#e8bd6c,#eac073,#ecc47b,#ecc378,#edc57d,#eec884,#efc987,#efc988,#efc989,#f1cb8e,#f1cc90,#f1cd91,#f3cf9a,#f4d19d,#f5d3a4,#f6d5a8,#f6d5a8,#f6d4a6,#f6d4a5,#f4d19e,#f2cd94,#f0cb8c,#eec782,#edc67f,#ebc276,#eac073,#e9bf71,#e9be6f,#e8bd6c,#e8bd6d,#e9bf6f,#e9bf71,#e9bf70,#eac071,#eac072,#ebc276,#ebc276,#ecc47b,#edc680,#efc886,#f0ca8c,#f2cd93,#f3cf9a,#f4d29f,#f6d4a5,#f6d5a8,#f7d6aa,#f7d8ad,#f7d8ad,#f8d8ae,#f8d8ae,#f8d9af,#f8d9af,#f8d9af)"></div>
<div style="top:357px;height:3px;background:linear-gradient(90deg,#a69121,#a69121,#a68f20,#a68c1d,#a68b1c,#a68e1f,#a68f20,#a6881a,#a58619,#a6891b,#a68b1c,#a68b1d,#a68d1e,#a68e1f,#a68a1c,#a6881a,#a6891b,#a68a1b,#a6891b,#a5871a,#a58519,#a58519,#a58619,#a6881a,#a68a1c,#a69222,#a59424,#a59525,#a59626,#a69223,#a69222,#a69223,#a69424,#a69324,#a69323,#a69223,#a69323,#a69424,#a69424,#a69323,#a69121,#a69323,#a69323,#a69323,#a69222,#a68f20,#a68e1f,#a68f20,#a68e1f,#a68b1d,#a68e1f,#a68d1e,#a6891b,#a6871a,#a58719,#a5871a,#a6881a,#a6891b,#a68c1d,#a68f20,#a69424,#b49e2b,#a59b2a,#a99d2c,#cda737,#dfaf4b,#d8a835,#dcac43,#dfaf4c,#e2b254,#e4b65e,#e6b963,#e7bb67,#e9bf71,#ebc276,#eac174,#ebc276,#ebc378,#ecc47b,#edc57d,#edc67f,#eec784,#eec782,#eec783,#eec884,#eec781,#edc680,#ecc57c,#eac072,#e8bc6a,#e6b964,#e6ba65,#e2b358,#e0b050,#dfaf4d,#dfaf4d,#e2b356,#e3b45a,#e2b256,#e3b45b,#e6ba65,#e9be6e,#e9bf6f,#eac072,#ebc275,#edc57d,#edc57d,#eec782,#eec884,#f0ca8b,#f0ca8a,#f0cb8d,#f1cd91,#f2ce95,#f3d09a,#f5d3a2,#f6d4a7,#f6d5a7,#f6d5a7,#f6d4a6,#f5d2a1,#f1cd92,#efc988,#ecc47b,#ebc276,#e9be6f,#e9bf70,#e8bd6b,#e8bc6b,#e8bd6c,#e9be6e,#eac072,#ebc277,#eac173,#eac072,#eac174,#ecc47a,#edc67f,#eec781,#efc885,#f0ca8a,#f2cd93,#f2ce96,#f4d09c,#f6d4a5,#f6d4a7,#f7d5a8,#f7d7ab,#f8d8ad,#f8d8ad,#f8d9ae,#f8d9af,#f8d9af,#f8d9af,#f8d9af)"></div>
<div style="top:360px;height:3px;background:linear-gradient(90deg,#a69122,#a69525,#a69021,#a68c1e,#a68a1c,#a68e1f,#a69122,#a68b1d,#a6881a,#a6881a,#a6891b,#a68c1d,#a68c1d,#a68a1c,#a6891b,#a6891b,#a6891b,#a6881a,#a58719,#a5871a,#a48519,#a48519,#a58619,#a6881a,#a6891b,#a68c1d,#a69122,#a59424,#a69222,#a69222,#a69222,#a69323,#a69424,#a69424,#a69424,#a59525,#a69323,#a59626,#a69424,#a69222,#a69424,#a69424,#a69424,#a69424,#a69122,#a68f20,#a68e1f,#a69021,#a69021,#a69223,#a69424,#a68f20,#a68f20,#a68a1c,#a6881a,#a58619,#a5871a,#a6891b,#a68b1d,#a69021,#aa9827,#ae9c2a,#a39929,#aa9d2c,#cfa736,#e0b04e,#daaa3b,#dbab40,#deae4a,#e2b357,#e3b45a,#e5b761,#e8bd6c,#e9bf71,#e9bf71,#eac072,#ebc275,#ebc277,#ecc47b,#ecc47b,#ecc57c,#eec782,#edc680,#eec781,#edc680,#edc680,#edc67f,#ebc378,#e9bf70,#e6b964,#e4b65e,#e2b256,#e3b459,#e0b150,#dfaf4a,#dfaf4b,#dfaf4c,#e0b050,#e5b761,#e7ba67,#e9be6e,#eac174,#eac071,#ebc277,#ecc47b,#ecc47b,#edc57e,#edc67f,#eec782,#efc886,#efc986,#efc989,#f1cc91,#f3ce97,#f3d09a,#f5d2a1,#f6d4a6,#f6d5a7,#f6d5a8,#f6d4a6,#f5d2a0,#f2ce94,#efc988,#edc57e,#ebc276,#e8bd6b,#e7bb68,#e6ba66,#e6b965,#e7ba67,#e9be6e,#eac072,#ebc377,#ecc379,#ecc479,#ebc378,#ecc57c,#eec783,#efc886,#f0ca8a,#f0cb8c,#f2cd92,#f3cf98,#f4d19e,#f6d4a5,#f6d5a8,#f7d6a9,#f7d6aa,#f8d8ad,#f8d9ae,#f8d9af,#f8d9af,#f8dab1,#f8dab1,#f8dab1)"></div>
<div style="top:363px;height:3px;background:linear-gradient(90deg,#a69323,#a69424,#a69122,#a68d1e,#a68c1d,#a69021,#a69021,#a69021,#a68b1d,#a6881a,#a6891b,#a68a1c,#a68c1d,#a68b1d,#a6881a,#a68a1c,#a6891b,#a6871a,#a58619,#a48519,#a5871a,#a58619,#a5871a,#a6891a,#a68a1c,#a68d1e,#a69021,#a69223,#a69222,#a69223,#a69323,#a69323,#a69424,#a69525,#a59626,#a69323,#a59424,#a69223,#a59425,#a69323,#a69223,#a69323,#a59525,#a59525,#a59525,#a59424,#a69424,#a59324,#a69021,#a69021,#a69323,#a68f20,#a68d1e,#a68c1e,#a68d1f,#a68f20,#a68c1d,#a68e1f,#a59021,#a59525,#a89626,#a59727,#a39b2a,#b09f2c,#d8ab40,#dfaf4c,#daaa3a,#dfb04d,#e6ba66,#e7bb69,#e6b863,#e5b862,#e6b964,#e7bb68,#e8bd6b,#e9bf6f,#eac174,#ebc276,#ecc479,#edc57c,#edc57d,#eec681,#eec781,#eec681,#edc67f,#edc57d,#edc57d,#eac072,#e8bc6a,#e8bd6c,#e5b861,#e3b358,#e0b050,#e2b356,#dfaf4b,#deae4a,#dfaf4c,#dfaf4c,#e0b04f,#e3b55b,#e8bd6c,#e9bf70,#eac073,#eac071,#e9bf71,#ebc277,#ecc47b,#ecc57c,#edc680,#eec884,#efc989,#f0cb8d,#f1cc90,#f2ce94,#f4d09b,#f5d3a2,#f6d4a7,#f6d5a7,#f6d5a8,#f6d4a5,#f4d19f,#f1cc8f,#eec782,#edc57d,#ebc175,#e7bb68,#e6ba66,#e6ba66,#e7bb67,#e7bc69,#e9bf6f,#eac073,#ebc377,#ecc57c,#edc680,#edc680,#eec884,#efc988,#efc989,#f0cb8d,#f2cd93,#f2ce95,#f4d09c,#f4d19f,#f6d4a5,#f6d4a7,#f7d5a9,#f7d7ab,#f8d8ad,#f8d9af,#f8d9af,#f8dab0,#f9dab1,#f8dab0,#f8dab1)"></div>
<div style="top:366px;height:3px;background:linear-gradient(90deg,#a69424,#a69323,#a69223,#a69020,#a68e1f,#a68b1c,#a68a1c,#a68d1e,#a68c1d,#a6881a,#a6881a,#a68a1c,#a68c1d,#a6891b,#a58719,#a6871a,#a68a1c,#a6891b,#a58619,#a48418,#a58619,#a68b1d,#a6891b,#a68b1c,#a68c1d,#a68e1f,#a69122,#a69424,#a69424,#a69424,#a69424,#a69424,#a69525,#a49727,#a59525,#a59525,#a69323,#a69323,#a59525,#a59626,#a69424,#a69324,#a69424,#a59626,#a59727,#a59626,#a69323,#a69323,#a69323,#a59424,#a68d1e,#a68d1e,#a68a1c,#a68b1c,#a6881a,#a68b1d,#a69122,#a68d1e,#a68c1d,#a69021,#a69424,#a59727,#a39b2b,#bea12d,#dfb04c,#dfaf4d,#e4b75d,#ecc47c,#e6ba65,#e2b255,#e3b359,#e5b761,#e7bb68,#e8bd6c,#e8be6d,#e9bf6f,#eac173,#ebc275,#ebc276,#edc57d,#edc680,#edc680,#eec782,#eec783,#edc67e,#edc57d,#ebc378,#ebc175,#e8bc6a,#eac071,#e8bc6b,#e2b255,#e1b152,#e0b04e,#e1b153,#deae48,#deae49,#dfaf4a,#dfaf4d,#e2b357,#e7bb68,#e8bd6b,#e8be6d,#eac071,#ebc175,#ebc276,#ecc379,#ecc57c,#eec781,#efc885,#f0ca8b,#f0ca8b,#f0cb8d,#f2ce95,#f4d19d,#f6d4a5,#f6d5a8,#f7d5a8,#f6d5a8,#f6d4a5,#f4d09b,#f0cb8c,#eec782,#edc67e,#e9be6e,#e7ba67,#e6b965,#e7bb68,#e8bd6d,#eac071,#eac174,#ebc276,#ebc377,#eec681,#eec783,#eec884,#efc988,#efc989,#f0ca8c,#f1cb8e,#f1cc90,#f2cd94,#f4d09c,#f5d3a3,#f6d3a4,#f6d5a8,#f7d6a9,#f7d6aa,#f7d7ac,#f8d8ae,#f8d9af,#f8dab0,#f8dab0,#f9dab1,#f9dab2)"></div>
<div style="top:369px;height:3px;background:linear-gradient(90deg,#a69122,#a69122,#a69020,#a68d1e,#a68b1c,#a68a1b,#a68a1c,#a6891b,#a6891b,#a6891a,#a6881a,#a68b1c,#a68a1b,#a6881a,#a58619,#a6871a,#a6891a,#a6891b,#a6891b,#a58619,#a58619,#a6881a,#a68c1e,#a68e1f,#a68e1f,#a68e1f,#a69121,#a69424,#a69424,#a69525,#a59525,#a59525,#a49727,#a49828,#a69525,#a59626,#a69424,#a69424,#a69424,#a69424,#a69424,#a69222,#a69223,#a69323,#a69223,#a69121,#a69021,#a69021,#a69021,#a69021,#a69122,#a68d1e,#a68a1b,#a6891b,#a68a1b,#a68a1b,#a68b1d,#a59424,#a59929,#a59727,#a49828,#a39a2a,#a79d2c,#c6a330,#e3b45a,#e2b357,#e9be6f,#e2b457,#e0b051,#e3b55a,#e5b861,#e4b65f,#e5b761,#e7bb68,#e7bc69,#e7bb68,#e9be6e,#ebc275,#ecc378,#ecc57c,#edc67e,#eec681,#eec783,#eec783,#edc67e,#ecc57c,#eac173,#eac073,#e8bc6a,#e8bd6b,#e6ba66,#e4b55c,#e1b152,#dfaf4c,#dfaf4b,#e0b04f,#dfaf4b,#e0b04f,#e2b355,#e2b357,#e2b357,#e4b65d,#e6ba66,#e7bc69,#eac071,#ebc378,#ecc47a,#edc67e,#eec782,#efc886,#f0ca8b,#f0ca8b,#f1cc90,#f2ce95,#f4d09c,#f5d2a1,#f6d4a6,#f6d5a8,#f6d4a6,#f6d4a5,#f4d09c,#f0cb8e,#eec783,#ebc377,#e9bf70,#e9bf70,#e8bd6c,#e7bb68,#e7bb68,#e8bd6d,#eac174,#ecc47a,#ecc47a,#eec782,#efc886,#efc988,#f0ca8b,#f0cb8d,#f1cb8e,#f2cd92,#f2ce95,#f2ce94,#f3d09a,#f4d19f,#f6d3a4,#f6d5a7,#f7d6a9,#f7d6aa,#f8d8ad,#f8d9ae,#f8d9ae,#f8d9af,#f8dab0,#f8dab0,#f8dab1)"></div>
<div style="top:372px;height:3px;background:linear-gradient(90deg,#a69122,#a69122,#a69021,#a68d1e,#a68b1c,#a6891b,#a68a1b,#a6891b,#a6891b,#a6871a,#a58619,#a6881b,#a68c1d,#a68b1c,#a6881b,#a6891b,#a6881a,#a6881a,#a5871a,#a68c1d,#a6881a,#a6891b,#a68b1c,#a68f20,#a69222,#a59323,#a69324,#a69525,#a59525,#a59626,#a49828,#a39a2a,#a39a2a,#a59626,#a49727,#a59525,#a59525,#a69424,#a69424,#a69323,#a69424,#a69223,#a69122,#a69222,#a69222,#a69021,#a69021,#a69121,#a69323,#a59424,#a68e1f,#a68d1f,#a68e1f,#a68d1e,#a68a1c,#a68a1b,#a68c1e,#a59121,#a69121,#a69424,#a59626,#a49929,#af9e2d,#d3a93c,#d5a93a,#e0b14f,#e0b14e,#e0b04f,#e5b861,#e5b760,#e4b55c,#e4b55c,#e4b65e,#e8bc6a,#e6b964,#e8bc6a,#e9be6e,#eac072,#ecc378,#edc57c,#edc680,#eec782,#edc680,#edc57e,#ecc47a,#ecc479,#eac072,#eac071,#e7bc69,#e7bb68,#e6ba65,#e6b963,#e1b152,#e0b04e,#dfaf4b,#dfaf4c,#dfaf4d,#dfaf4b,#ddad47,#e0b04e,#e2b256,#e4b65e,#e6b863,#e7bb68,#eac071,#edc57d,#edc67f,#eec782,#efc886,#efc988,#f0ca89,#f0cb8e,#f1cc91,#f2ce95,#f3d09b,#f5d2a1,#f6d5a7,#f7d5a8,#f6d5a7,#f6d4a5,#f4d09c,#f1cc91,#eec781,#ecc47a,#ebc377,#ebc275,#e8bd6c,#e7bc6a,#e8bc6a,#e9bf6f,#ebc275,#edc67e,#edc680,#efc885,#efc988,#f0cb8d,#f1cb8e,#f1cc8f,#f1cc8f,#f3cf97,#f2ce96,#f3cf99,#f3d09b,#f4d19e,#f5d3a3,#f6d4a6,#f6d5a8,#f7d7ab,#f7d8ac,#f8d8ae,#f8d9ae,#f8d9af,#f8d9b0,#f8dab0,#f8dab0)"></div>
<div style="top:375px;height:3px;background:linear-gradient(90deg,#a69122,#a69121,#a69021,#a68e1f,#a68a1c,#a68b1c,#a68a1b,#a6891b,#a6891b,#a5871a,#a58519,#a6891b,#a6891b,#a68a1c,#a68a1c,#a68b1d,#a6881a,#a6891a,#a6891b,#a68d1e,#a68a1c,#a68b1c,#a68c1e,#a68f20,#a69121,#a69121,#a69525,#a59727,#a49828,#a49727,#a49828,#a49828,#a59727,#a59727,#a49828,#a49727,#a59525,#a69525,#a59626,#a59626,#a69223,#a69121,#a69223,#a69222,#a69222,#a69121,#a69021,#a69223,#a69323,#a69021,#a68f20,#a68e1f,#a68e1f,#a68c1d,#a68d1e,#a68e1f,#a68c1d,#a68e1f,#a59525,#a89727,#a49929,#b19e2c,#baa12f,#bfa12c,#d6ab3f,#e5b860,#e3b65b,#e4b75f,#e3b358,#e3b45a,#e4b55d,#e4b65d,#e4b65e,#e6ba65,#e6ba66,#e6ba65,#e8bd6c,#e9bf6f,#ebc275,#ecc47a,#edc57e,#eec681,#edc67f,#edc57e,#ecc47b,#ebc276,#e9be6f,#e9bf6f,#e7bb67,#e6b965,#e7ba66,#e6b965,#e1b154,#e0b050,#dfaf4b,#dfaf4b,#deae48,#deae48,#deae49,#e0b04e,#e2b257,#e3b45a,#e6b963,#e7bb69,#e9be6f,#ecc378,#edc57e,#eec884,#efc988,#f0ca8a,#f0ca8b,#f1cc8f,#f1cc91,#f3ce97,#f4d09b,#f5d2a1,#f6d4a6,#f6d5a8,#f6d5a7,#f6d4a5,#f4d19d,#f2ce95,#eec783,#edc67f,#ecc479,#e9bf71,#e8bc6a,#e8bd6d,#e9be6e,#eac072,#ebc276,#ecc47b,#eec782,#efc885,#efc988,#f0ca8b,#f0cb8d,#f1cb8e,#f1cc90,#f3cf97,#f3cf98,#f3ce97,#f4d09c,#f4d29f,#f5d3a2,#f6d5a7,#f7d6a9,#f7d7ab,#f7d7ac,#f8d8ae,#f8d8ae,#f8d9af,#f8dab0,#f8dab0,#f8dab1)"></div>
<div style="top:378px;height:3px;background:linear-gradient(90deg,#a69122,#a69121,#a69021,#a68e1f,#a68a1c,#a68a1c,#a68a1b,#a6891b,#a6881a,#a58619,#a48519,#a68a1c,#a6881a,#a6891b,#a6891b,#a68b1c,#a68b1d,#a6881a,#a6881a,#a68c1d,#a68a1c,#a68c1e,#a68f20,#a69121,#a69222,#a69222,#a69424,#a59626,#a59626,#a59727,#a49727,#a49727,#a49828,#a39a2a,#a39a2a,#a59626,#a59525,#a59626,#a69525,#a59525,#a69222,#a69021,#a69121,#a69121,#a69122,#a69222,#a69121,#a69122,#a69122,#a69121,#a69020,#a68f20,#a68f20,#a68e1f,#a68c1d,#a68c1e,#a59424,#a59626,#a69424,#a59525,#a49828,#a49b2b,#b19f2c,#c5a22d,#d2a632,#daaa3b,#dfaf4c,#e0b050,#e1b152,#e2b357,#e3b459,#e3b459,#e3b45a,#e4b65e,#e5b862,#e7bb67,#e8bc6a,#eac072,#ebc377,#ecc47b,#edc67e,#eec681,#edc680,#edc67e,#ecc47a,#ebc378,#e9bf6f,#e8bc6a,#e6b964,#e4b65f,#e7bc69,#e7ba66,#e2b358,#e0b051,#dfaf4c,#dfaf4b,#dfaf4b,#deae4a,#dfaf4c,#e0b04f,#e4b55c,#e7ba67,#e8bc6b,#e8bd6c,#eac072,#ecc47b,#edc67f,#eec884,#f0ca89,#f0ca8a,#f0cb8d,#f1cc8f,#f1cc90,#f2ce95,#f3d09b,#f5d2a1,#f6d4a6,#f6d5a7,#f6d5a7,#f5d3a4,#f5d2a0,#f3ce97,#efca89,#eec781,#edc67e,#eac071,#e9be6e,#e9be6d,#e9bf70,#ebc175,#ebc377,#ecc47a,#edc67f,#eec681,#efc885,#f0ca8a,#f1cb8e,#f0cb8d,#f2cd92,#f2ce95,#f2ce96,#f3cf99,#f5d2a0,#f5d3a3,#f6d4a5,#f6d5a8,#f7d6aa,#f7d7ab,#f7d7ac,#f8d8ae,#f8d9ae,#f8d9af,#f8d9af,#f8d9b0,#f8dab0)"></div>
<div style="top:381px;height:3px;background:linear-gradient(90deg,#a69021,#a69021,#a68f20,#a68e1f,#a68b1d,#a68a1b,#a6891b,#a68a1b,#a68a1c,#a5891b,#a6881a,#a5881a,#a5871a,#a58619,#a48519,#a6881b,#a68e1f,#a68e1f,#a6881a,#a68b1d,#a68f20,#a69222,#a59424,#a59525,#a59525,#a59626,#a49828,#a39929,#a39929,#a39929,#a39929,#a39a2a,#a39a2a,#a39929,#a59727,#a59626,#a59525,#a59727,#a59525,#a69324,#a69122,#a69021,#a69121,#a69122,#a69122,#a69121,#a69121,#a69222,#a69222,#a69122,#a69121,#a69020,#a68f20,#a68f1f,#a68d1e,#a68d1e,#a69021,#a89a2a,#a69a2a,#a49727,#a49929,#a79d2c,#b69f2c,#c7a32e,#d3a732,#dbab3e,#e0b04e,#e0b04f,#e3b55a,#e5b861,#e6b863,#e5b760,#e4b55c,#e3b55b,#e4b55c,#e6b964,#e7bc69,#e8bd6c,#ebc377,#ecc47a,#edc67f,#edc680,#edc67e,#edc57d,#ebc377,#eac174,#e9be6e,#e7bc69,#e8bc6a,#e5b761,#e6b863,#e8bc6a,#e5b861,#e2b255,#e0b050,#e0b04e,#dfaf4b,#dfaf4b,#dfaf4b,#e0b04e,#e4b65d,#e9bf70,#e6ba65,#e7bb68,#e9bf70,#ecc47b,#eec884,#efc989,#f0ca8b,#efc988,#f0cb8d,#f1cb8e,#f1cc90,#f2cd94,#f3d09b,#f5d2a1,#f6d3a4,#f6d4a5,#f6d4a6,#f6d4a5,#f4d19e,#f3cf99,#f1cc90,#efc886,#edc680,#ecc47b,#eac072,#eac071,#e9bf71,#ebc275,#ebc276,#ecc379,#ecc47b,#ecc57c,#edc681,#eec885,#efc989,#f1cb8e,#f2ce95,#f2ce96,#f3cf99,#f4d19c,#f5d3a4,#f6d4a6,#f6d5a8,#f7d6a9,#f7d7ab,#f7d7ac,#f8d8ad,#f8d9ae,#f8d9af,#f8d9af,#f8d9af,#f8d9b0,#f8d9b0)"></div>
<div style="top:384px;height:3px;background:linear-gradient(90deg,#a69021,#a69021,#a69021,#a69021,#a69020,#a68e1f,#a68e1f,#a69021,#a68e1f,#a68d1e,#a68b1c,#a5871a,#a58619,#a58619,#a5881a,#a58619,#a6881b,#a69122,#a68f20,#a6891b,#a68d1e,#a69121,#a59324,#a59525,#a69727,#a69827,#a79928,#a49828,#a49828,#a49929,#a49929,#a49929,#a49828,#a49727,#a49727,#a59626,#a49727,#a49828,#a59525,#a69223,#a69122,#a68f20,#a69121,#a69122,#a69122,#a69121,#a69122,#a69222,#a69323,#a69223,#a69223,#a69222,#a69122,#a69021,#a68e1f,#a68e1f,#a69223,#a99c2b,#aa9d2b,#a49929,#a69b2a,#b49f2d,#c3a22e,#d6a93b,#e0b04e,#e6b963,#e6ba65,#e7bc69,#e3b55b,#e2b358,#e3b459,#e6b963,#e7bc69,#e8bc6a,#e4b65f,#e5b75f,#e8bd6d,#e9be6e,#ebc276,#ecc47b,#edc67f,#edc680,#edc57c,#ecc479,#ebc275,#eac173,#e9bf6f,#e7bb68,#e9be6e,#e7bb68,#e7bb69,#e7bc6a,#e6ba65,#e4b55d,#e3b45a,#e2b357,#e1b254,#e3b358,#e0b151,#e1b254,#e6b863,#e4b65f,#e7bb68,#e9be6e,#eac174,#ecc47b,#eec782,#f0ca8b,#f1cc8f,#f1cc8f,#f1cb8e,#f1cc90,#f2cd93,#f2ce95,#f3d09b,#f4d19f,#f5d3a2,#f6d4a5,#f6d4a6,#f6d4a5,#f4d19e,#f4d09c,#f2ce96,#f0cb8d,#efc885,#eec781,#ebc378,#ebc378,#eac073,#eac174,#eac174,#ebc175,#ebc378,#ebc277,#ecc57c,#edc680,#eec783,#f0ca8a,#f1cc91,#f3cf98,#f4d19c,#f5d3a3,#f6d4a6,#f6d5a8,#f7d6aa,#f7d6aa,#f7d7ac,#f8d8ad,#f8d9ae,#f8d9ae,#f8d9ae,#f8d9af,#f8d9af,#f8d9b0,#f8d9af)"></div>
<div style="top:387px;height:3px;background:linear-gradient(90deg,#a69122,#a69223,#a69323,#a69121,#a68e1f,#a68d1e,#a68e1f,#a69020,#a68e1f,#a6891b,#a48418,#a48519,#a5881a,#a5871a,#a38318,#a48418,#a68a1c,#a68a1c,#a68d1e,#a69122,#a69222,#a49929,#a69525,#a69424,#a59626,#a89a29,#a99d2c,#a89d2c,#a59b2b,#a39a2a,#a39929,#a39929,#a49929,#a49828,#a59727,#a59626,#a49828,#a49828,#a49727,#a69323,#a69021,#a69021,#a69121,#a69122,#a69121,#a69021,#a69122,#a69525,#a69223,#a69122,#a69121,#a69323,#a69424,#a69424,#a69222,#a69021,#a69122,#a69424,#ad9c2a,#c3a22d,#b59f2c,#b9a02c,#d4a837,#d6a938,#d8a938,#dbab3f,#e0b251,#deae49,#dfaf4b,#e0b050,#e1b151,#e3b358,#e7bb67,#e8be6d,#e7bc69,#e6ba65,#e8bd6c,#eac071,#ebc175,#ecc57c,#edc680,#eec781,#edc57d,#ecc379,#ebc277,#eac072,#e9be6e,#e8bd6b,#e7bb67,#e6b965,#e5b861,#e5b75f,#e3b45a,#e2b357,#e3b358,#e2b255,#e1b154,#e1b151,#e3b459,#e7bb68,#e7ba67,#e7bb67,#e8bd6c,#e9be6e,#eac174,#edc57d,#eec782,#efc989,#f0cb8d,#f1cc90,#f1cc90,#f1cc91,#f2ce94,#f2ce95,#f3cf99,#f4d19e,#f4d19e,#f6d3a4,#f6d5a7,#f6d4a6,#f5d3a3,#f4d19e,#f3d09a,#f1cd92,#efc987,#efc988,#edc67f,#ecc379,#ebc277,#ebc175,#eac073,#eac073,#eac173,#ebc175,#ecc379,#edc67f,#eec781,#efc886,#f0cb8d,#f2ce95,#f4d19d,#f5d3a3,#f6d5a7,#f7d6aa,#f7d7ab,#f7d7ab,#f8d8ae,#f8d9af,#f8d9af,#f8d9af,#f8d9af,#f8d9af,#f8d9af,#f8d9af,#f8d9af)"></div>
<div style="top:390px;height:3px;background:linear-gradient(90deg,#a68e1f,#a68f20,#a69020,#a68f20,#a68c1d,#a68a1c,#a6891b,#a6881a,#a6891b,#a6891b,#a58619,#a5861a,#a6881a,#a5881a,#a5881a,#a5891b,#a58619,#a6891b,#a68a1b,#a59424,#a39b2b,#a59525,#a69424,#a59626,#a59828,#a59929,#a49828,#a49828,#a49828,#a39a2a,#a39b2b,#a39b2b,#a39a2a,#a49727,#a59727,#a49828,#a59626,#a59525,#a59626,#a59626,#a69424,#a69223,#a69122,#a69122,#a69121,#a69121,#a69122,#a69222,#a69424,#a69222,#a69121,#a69121,#a69222,#a69121,#a69021,#a59525,#a59727,#a79929,#b09e2b,#a99c2b,#a49c2b,#b39f2d,#cea635,#d7a93b,#d4a836,#deae48,#daaa3a,#dcac41,#deae49,#e0b04f,#e1b151,#e1b254,#e5b760,#e9bf6f,#eac071,#e7ba66,#e8bc6a,#eac072,#ebc275,#edc57e,#edc67e,#edc680,#edc57d,#ecc47b,#ebc277,#eac173,#e9be6e,#e8bd6c,#e7bb67,#e6b964,#e6b863,#e4b65f,#e4b55d,#e3b45b,#e3b359,#e2b357,#e3b359,#e4b55c,#e4b55c,#e5b75f,#e7ba66,#e7bb68,#e9be6f,#eac174,#ebc276,#edc67f,#eec783,#efc988,#f0cb8e,#f0cb8d,#f0cb8e,#f1cb8e,#f1cc91,#f2ce95,#f3cf97,#f4d19d,#f5d2a0,#f6d3a5,#f6d4a6,#f6d4a6,#f6d3a4,#f5d2a1,#f4d19d,#f3cf98,#f2cd93,#efc988,#eec884,#ecc57c,#ebc277,#eac072,#e9bf70,#e9bf70,#e9be6f,#eac072,#ebc276,#ebc378,#edc57c,#eec885,#f1cc8f,#f3cf97,#f4d19e,#f5d2a1,#f7d6a9,#f7d6aa,#f7d7ab,#f8d8ad,#f8d8ae,#f8d9af,#f8d9af,#f8d9af,#f8d9af,#f8d9af,#f8d9af,#f8d9af,#f8d9af)"></div>
<div style="top:393px;height:3px;background:linear-gradient(90deg,#a68d1e,#a68f1f,#a69121,#a68f20,#a68d1e,#a68b1d,#a68c1d,#a68a1c,#a6881a,#a58719,#a48519,#a48519,#a48418,#a5871a,#a68a1c,#a5891b,#a58a1c,#a68d1f,#a69121,#a39a2a,#a49727,#a69424,#a59525,#a59626,#a49828,#a49828,#a69a2a,#a59a2a,#a69b2a,#a49b2b,#a49b2a,#a49828,#a49828,#a49929,#a49727,#a59626,#a69525,#a69424,#a69424,#a69223,#a69122,#a69121,#a69223,#a69424,#a69323,#a69122,#a69222,#a69223,#a69222,#a69324,#a69122,#a69222,#a69122,#a69121,#a69121,#a69222,#a69424,#a59626,#a49727,#a49929,#aa9d2c,#baa12d,#c6a32f,#cca531,#dfaf4d,#ddad47,#d9a937,#dbab3f,#ddad46,#dfaf4b,#e0b04f,#e1b154,#e3b459,#e8bc6b,#eac071,#e8bd6c,#e8bd6c,#eac072,#ecc379,#edc57e,#edc681,#edc67f,#ecc47a,#ecc47a,#ecc379,#ebc275,#e9bf70,#e8bc6b,#e7bb68,#e6b964,#e6b964,#e5b760,#e4b65d,#e4b55d,#e4b55c,#e4b55c,#e6b863,#e7bc6a,#e8bd6c,#e7bb68,#e7bc69,#e6ba66,#e8bd6c,#e9bf70,#ebc275,#ecc47a,#edc680,#efc886,#efc988,#f0ca8a,#f0cb8c,#f1cb8e,#f1cc91,#f2ce95,#f3cf97,#f4d09c,#f5d2a0,#f6d3a4,#f6d4a5,#f6d4a6,#f6d4a5,#f6d3a5,#f5d2a1,#f4d09c,#f3cf98,#f1cc90,#f0ca8a,#eec781,#ecc47b,#ebc175,#eac072,#e9be6e,#e9be6f,#e9bf70,#eac072,#ebc276,#edc57e,#efc987,#f1cc91,#f3cf98,#f5d29f,#f5d3a3,#f7d6a9,#f7d7ab,#f8d8ae,#f8d9ae,#f8d9b0,#f8dab1,#f8d9af,#f8d9af,#f8dab0,#f8d9af,#f8d9af,#f8d9ae,#f8d9ae)"></div>
<div style="top:396px;height:3px;background:linear-gradient(90deg,#a68d1e,#a68f1f,#a69020,#a68f20,#a68f20,#a68b1d,#a6881a,#a6891b,#a68b1d,#a6881b,#a58719,#a58519,#a48519,#a68a1c,#a5891c,#a68c1d,#a69424,#a49727,#a59525,#a49727,#a69424,#a69424,#a59626,#a49828,#a99b2a,#a79c2b,#a69b2a,#a49a2a,#a79b2b,#a79b2b,#a49b2a,#a49929,#a49828,#a49828,#a59626,#a59525,#a69424,#a69424,#a69323,#a69222,#a69021,#a69020,#a69021,#a69121,#a69222,#a69424,#a69323,#a69323,#a69323,#a69424,#a69222,#a69222,#a69223,#a69122,#a69121,#a69222,#a59525,#ad9d2b,#ad9d2b,#a39a2a,#a39c2c,#b39f2c,#cba531,#dbac41,#dbac41,#d5a835,#dcac42,#dcac43,#ddad44,#dfaf4b,#dfaf4c,#e1b152,#e2b357,#e6b964,#eac072,#eac174,#e9be6f,#eac073,#ecc47a,#edc57e,#edc680,#eec782,#edc57d,#ecc57b,#ebc378,#eac072,#eac071,#e8bd6d,#e8bd6b,#e7bb68,#e6b965,#e5b861,#e7bb67,#e7bb68,#e6b964,#e5b761,#e5b760,#e5b861,#e6b965,#e8bd6c,#e8bc6a,#e8bc6a,#e8bd6c,#eac071,#ebc277,#ebc378,#edc67e,#eec884,#eec885,#efc987,#efc989,#f0cb8c,#f1cc90,#f2ce96,#f3d09a,#f4d19d,#f5d2a1,#f6d3a4,#f6d4a5,#f6d4a6,#f6d4a5,#f6d4a5,#f5d3a2,#f4d19f,#f3d09b,#f2cd93,#f0ca8c,#eec885,#edc67f,#ecc47a,#ebc377,#ebc175,#eac173,#eac174,#ebc276,#ecc57c,#eec681,#f0ca8b,#f2ce96,#f4d09b,#f5d2a1,#f7d5a9,#f7d7ab,#f7d8ad,#f8d9af,#f8dab0,#f8dab1,#f8dab1,#f8dab1,#f8d9b0,#f8dab0,#f8d9af,#f8d9af,#f8d9af,#f8d9af)"></div>
<div style="top:399px;height:3px;background:linear-gradient(90deg,#a68d1e,#a68d1e,#a68e1f,#a68e1f,#a68d1e,#a68c1d,#a6891b,#a6891b,#a68a1b,#a68a1b,#a68b1d,#a5871a,#a68a1c,#a68a1c,#a58719,#a5871a,#a59223,#a69021,#a68d1e,#a69021,#a69424,#a99a29,#a89a29,#a89a2a,#a69b2a,#a89c2b,#a49b2b,#a39a2a,#a39a2a,#a39a2a,#a39a2a,#a49a2a,#a59a2a,#a49727,#a59727,#a59525,#a69424,#a69424,#a69323,#a69121,#a69020,#a68f20,#a69021,#a69021,#a69121,#a69122,#a59525,#a69525,#a69223,#a69323,#a69323,#a69324,#a59425,#a59424,#a69222,#a69323,#a69525,#a59626,#a49828,#a89b2a,#b09e2c,#b7a02d,#c0a22e,#caa42f,#cca42f,#d9aa3d,#daaa3c,#daaa3b,#dcac42,#deae48,#dfaf4d,#e2b255,#e3b358,#e4b65f,#e9be6f,#eac174,#eac173,#eac174,#ecc479,#edc57c,#edc67e,#eec681,#edc57e,#edc57c,#ecc47a,#ebc275,#ebc175,#e9bf70,#e8bd6d,#e8bd6d,#e8bd6d,#e8bc6b,#e7bb69,#e6b965,#e6ba66,#e6b964,#e8bd6c,#eac072,#e8bd6c,#e7bc69,#e7bb68,#e7bb68,#e8bd6c,#eac073,#eac072,#ebc175,#ecc47a,#ecc47b,#edc680,#eec783,#efc988,#f1cb8e,#f1cd92,#f2ce96,#f3d09a,#f4d19f,#f5d3a3,#f6d3a4,#f6d4a5,#f6d4a7,#f6d4a6,#f6d4a6,#f6d3a4,#f5d3a3,#f4d19e,#f3cf99,#f1cc8f,#f0ca8a,#eec783,#edc57d,#ebc277,#eac174,#eac174,#ebc276,#ecc47b,#eec681,#efc989,#f2cd92,#f3cf97,#f5d2a1,#f6d5a8,#f7d7ab,#f7d7ac,#f8d8ae,#f8d9af,#f8dab0,#f8dab1,#f9dbb2,#f9dbb2,#f8d9b0,#f8d9b0,#f8d9af,#f8d9af,#f8d9af,#f8d9af)"></div>
<div style="top:402px;height:3px;background:linear-gradient(90deg,#a68c1d,#a68c1d,#a68e1f,#a68e1f,#a68d1e,#a68c1d,#a6891b,#a6891b,#a68a1b,#a6891b,#a68a1b,#a68e1f,#a6891b,#a68c1d,#a68b1d,#a68f20,#a59525,#a59424,#a59323,#a99726,#a49a29,#b59f2c,#a79b2a,#aa9c2a,#a69b2b,#a39b2b,#a99c2b,#aa9d2c,#ab9e2c,#ac9e2c,#a79c2b,#a69b2b,#ab9d2c,#a49929,#a59727,#a59626,#a69424,#a69323,#a69021,#a68f20,#a68e1f,#a68e1f,#a69021,#a69021,#a69021,#a69121,#a69424,#a59626,#a69323,#a69222,#a69222,#a69223,#a69323,#a69324,#a69525,#a59727,#a59727,#a89929,#a69a2a,#a99c2b,#a49c2c,#ab9e2c,#b6a02c,#c2a22c,#cba42f,#d1a631,#d6a733,#daaa3a,#dcac42,#ddad44,#dfaf4d,#e1b154,#e3b55b,#e5b863,#e8be6d,#ebc275,#ebc378,#ebc276,#ecc378,#ecc379,#ecc57c,#eec681,#edc67e,#edc57d,#ecc479,#ebc378,#ebc277,#eac174,#eac173,#eac071,#e7bc6a,#e7ba67,#e7ba67,#e7ba67,#e6ba66,#e7bb69,#e8be6d,#e9be6f,#e9bf6f,#eac072,#e9be6e,#e9be6d,#e9be6e,#e9bf6f,#eac071,#eac072,#eac173,#ebc378,#edc57d,#edc67e,#eec783,#f0ca8a,#f1cc91,#f2ce96,#f4d19d,#f5d3a2,#f6d4a6,#f6d4a6,#f6d4a6,#f6d4a7,#f6d4a5,#f6d4a5,#f6d4a5,#f5d2a0,#f3cf99,#f3cf98,#f1cc8f,#efca89,#efc989,#eec783,#edc680,#ecc47b,#ecc479,#edc67f,#eec782,#efc988,#f0cb8d,#f2ce96,#f5d2a0,#f6d5a7,#f7d6a9,#f7d7ac,#f8d8ad,#f8d9ae,#f8d9b0,#f8d9b0,#f8dab1,#f9dab1,#f8dab1,#f8d9b0,#f8d9b0,#f8d9b0,#f8d9af,#f8d9af,#f8d9af)"></div>
<div style="top:405px;height:3px;background:linear-gradient(90deg,#a68b1d,#a68c1d,#a68d1e,#a68d1f,#a68c1e,#a68c1d,#a6891b,#a68b1c,#a68b1d,#a68a1c,#a68a1c,#a68e1f,#a68e1f,#a68c1d,#a68a1c,#a68e1f,#a59324,#a69223,#a69121,#a89828,#b29f2c,#b39e2c,#ab9c2b,#a39a2a,#aa9d2c,#ab9e2c,#a49c2c,#a49c2c,#a29c2b,#a29b2b,#a49b2b,#a79b2b,#a49a2a,#a39929,#a49828,#a59525,#a69424,#a69223,#a68f20,#a68e1f,#a68d1e,#a68d1e,#a68e1f,#a68f20,#a68f20,#a69020,#a59626,#a59525,#a59525,#a69324,#a69424,#a59525,#a59727,#a59525,#a59626,#a59626,#a59626,#a59727,#a49a2a,#b09d2b,#bda12d,#b8a02c,#b7a02c,#c0a12c,#c9a32e,#cfa530,#d5a733,#dcac41,#e0b250,#dfb04d,#e1b153,#e2b357,#e4b65d,#e6ba65,#e8bc6b,#ebc276,#ebc378,#ecc479,#ecc47a,#ecc47a,#edc57e,#edc680,#edc67f,#edc57d,#ecc57c,#ecc47a,#ecc47a,#ebc276,#ebc175,#eac173,#eac073,#e9be6f,#e8bc6b,#e7bb69,#e7bb69,#e8bc6b,#e8bd6c,#e9bf71,#e9be6e,#e9bf71,#eac073,#eac072,#e9bf70,#e8bd6c,#eac071,#eac071,#e9bf70,#e9be6f,#ebc277,#ecc47a,#edc680,#eec885,#f1cc8f,#f3cf97,#f4d19d,#f5d3a3,#f6d3a4,#f6d4a6,#f6d5a7,#f6d4a5,#f5d3a4,#f5d3a2,#f5d2a1,#f4d09c,#f2ce96,#f2cd93,#f0cb8e,#f0ca8a,#efc988,#efc986,#efc987,#efc885,#eec783,#efc988,#f1cb8f,#f2ce94,#f3cf97,#f5d2a0,#f6d4a6,#f7d6a9,#f7d6aa,#f7d8ad,#f8d9ae,#f8dab0,#f8dab0,#f8dab0,#f8dab1,#f8dab0,#f8dab0,#f8dab1,#f8dab0,#f8d9af,#f8d9af,#f8d9af,#f8d9b0)"></div>
<div style="top:408px;height:3px;background:linear-gradient(90deg,#a68d1e,#a68c1d,#a68d1e,#a68d1f,#a68c1e,#a68b1c,#a68c1d,#a68c1d,#a68c1d,#a68b1d,#a68b1d,#a68c1d,#a68c1d,#a69021,#a59525,#a59324,#a69020,#a69222,#a59626,#a59626,#a49828,#ad9c2a,#ab9d2c,#a89d2c,#a49c2c,#a89d2c,#a79d2c,#a89d2c,#a59d2c,#a39c2c,#a39b2b,#a39a2a,#a49929,#a49929,#a89c2b,#a59a29,#a59727,#a69323,#a69121,#a69021,#a68e1f,#a69020,#a69122,#a69121,#a69121,#a69323,#a59525,#a69424,#a69424,#a69222,#a69323,#a69323,#a59525,#a59525,#a69525,#a59626,#a59626,#a49727,#a49929,#a39b2b,#a29c2c,#ab9e2c,#b59f2c,#bea12c,#c9a42e,#d7aa3d,#e3b458,#e6b964,#e4b65e,#e3b458,#e4b75f,#e3b359,#e4b55c,#e7bb67,#e9be6e,#e9bf71,#ebc378,#ebc378,#edc57c,#edc57d,#edc67e,#edc680,#eec681,#edc67f,#edc67e,#edc67e,#ecc47a,#ebc377,#ebc277,#eac173,#e9be6f,#e8bd6c,#e7bc6a,#e7bb68,#e9be6e,#e9be6e,#e9bf70,#e9bf71,#e9bf70,#eac072,#ebc175,#eac073,#e8bd6c,#e6ba65,#e6ba66,#e9be6e,#ecc47b,#e9bf6f,#e9bf70,#eac174,#edc680,#efc988,#f1cc91,#f4d09b,#f5d2a1,#f6d4a5,#f6d4a5,#f6d4a6,#f6d5a7,#f6d4a6,#f6d3a4,#f5d2a1,#f4d19f,#f3d09b,#f3cf97,#f2cd94,#f1cc91,#f1cb8f,#f0cb8c,#f1cc90,#f1cc8f,#f1cc90,#f1cc90,#f3cf97,#f3cf99,#f5d3a3,#f5d3a3,#f6d5a7,#f7d6aa,#f7d7ac,#f7d7ac,#f8d8ae,#f8d9af,#f8d9af,#f8d9ae,#f8d9af,#f8d9b0,#f8dab0,#f8d9b0,#f8d9af,#f8d9af,#f8d9af,#f8d9af,#f8d9af,#f8d9af)"></div>
<div style="top:411px;height:3px;background:linear-gradient(90deg,#a69021,#a69020,#a69021,#a68e1f,#a68b1d,#a68a1c,#a68a1c,#a68e1f,#a68f20,#a68e1f,#a68e1f,#a69121,#a69122,#a68f20,#a68e1f,#a68f20,#a69122,#a69323,#a59525,#a49727,#b9a02c,#a69c2b,#a69d2c,#a79d2c,#a99d2c,#ab9e2c,#ab9e2c,#ac9e2c,#a89d2c,#a39c2c,#a29c2c,#a39a2a,#a39929,#ab9c2b,#a49727,#a59626,#a69424,#a69122,#a68e1f,#a68c1d,#a68a1c,#a68b1c,#a69021,#a69324,#a69021,#a68f20,#a69121,#a69323,#a69323,#a69323,#a69323,#a69424,#a59525,#a59727,#a49828,#a59929,#a49929,#a39929,#a39a2a,#a29b2b,#a39c2c,#ab9e2c,#b49f2c,#c4a22d,#d0a632,#d5a93a,#d9aa3a,#dbab3f,#e0b04f,#e5b861,#e2b358,#e4b65e,#e5b761,#e7bb68,#e9be6e,#eac072,#ebc276,#ecc479,#ecc47b,#edc680,#edc680,#edc67f,#eec782,#eec782,#edc680,#edc67f,#ecc57c,#ecc47a,#ebc377,#e9bf71,#e9bf70,#e9bf71,#e8bd6c,#e8bd6c,#e8bd6d,#eac073,#eac073,#eac173,#ebc275,#ebc276,#ebc175,#e9be6e,#e7bb68,#e5b760,#e4b65e,#e4b55c,#e8bc6b,#eac173,#e9bf71,#eac073,#ebc378,#efc987,#f2cd93,#f4d19d,#f4d19f,#f6d4a6,#f6d4a7,#f6d5a7,#f6d5a7,#f6d4a6,#f5d3a3,#f5d2a0,#f3d09b,#f3cf97,#f2cd94,#f2cd94,#f1cd91,#f1cb8e,#f2cd92,#f3cf97,#f4d09b,#f3cf98,#f4d19f,#f5d2a1,#f6d4a5,#f7d5a9,#f7d6aa,#f7d7ac,#f7d8ad,#f8d8ae,#f8d8ae,#f8d9ae,#f8d9af,#f8d9af,#f8d9b0,#f8d9b0,#f8d9af,#f8d9af,#f8d9af,#f8d9af,#f8d9af,#f8d9af,#f8d9af,#f8d9af,#f8d9af)"></div>
<div style="top:414px;height:3px;background:linear-gradient(90deg,#a69121,#a69121,#a69122,#a69324,#a68f20,#a68b1c,#a68b1d,#a68d1e,#a68d1e,#a68d1e,#a68d1e,#a68f20,#a68f20,#a69122,#a69021,#a79323,#a89928,#ac9a29,#a79828,#a49828,#a69c2b,#b49f2d,#bda12d,#b49f2c,#b19f2c,#b49f2c,#b7a02c,#b6a02c,#b49f2c,#b19f2c,#aa9d2c,#a79d2c,#ab9d2b,#a59a29,#a59929,#a69a2a,#a49828,#a49626,#a59323,#a69021,#a68d1f,#a68b1d,#a68c1e,#a68e1f,#a69323,#a69323,#a69121,#a69323,#a69323,#a69323,#a69323,#a69525,#a59525,#a59727,#a49828,#a49929,#a69a2a,#a39929,#a39a2a,#a29b2b,#a59c2c,#ac9e2c,#b6a02c,#c1a12c,#c8a32e,#d0a631,#d8a938,#dfaf4a,#e3b45a,#e3b45a,#e7bc69,#e4b55c,#e6ba66,#e7bb68,#e9be6f,#eac174,#ebc276,#ebc378,#ecc47a,#edc67f,#edc57e,#edc57d,#edc680,#edc680,#edc680,#edc680,#edc680,#edc67e,#ecc47b,#ebc378,#eac173,#eac072,#eac073,#eac072,#e9bf71,#e9bf70,#e9bf71,#eac073,#eac073,#eac174,#eac072,#e7bb67,#e4b65f,#e3b459,#e1b153,#e0b04f,#e0b04f,#e2b357,#e5b862,#e9bf6f,#ebc175,#edc57d,#f1cb8e,#f3cf98,#f4d19e,#f6d4a6,#f6d5a7,#f6d5a7,#f6d5a7,#f6d4a5,#f6d3a5,#f4d19e,#f3cf97,#f2ce95,#f2ce95,#f2cd94,#f2ce95,#f2cd93,#f3ce97,#f4d09c,#f5d3a2,#f5d2a2,#f6d4a5,#f6d5a8,#f7d6aa,#f7d7ac,#f8d8ad,#f8d8ae,#f8d9ae,#f8dab0,#f8d9af,#f8d9af,#f8dab0,#f8d9af,#f8d9b0,#f8d9b0,#f8d9ae,#f8d9af,#f8d9af,#f8d9ae,#f8d9af,#f8d9b0,#f8d9b0,#f8d9af,#f8d9af)"></div>
<div style="top:417px;height:3px;background:linear-gradient(90deg,#a68d1e,#a68d1e,#a69021,#a69324,#a69323,#a69121,#a68f20,#a69021,#a69021,#a68e1f,#a68e1f,#a69121,#a69121,#a69121,#a69323,#ac9d2c,#ab9c2b,#a99928,#a49828,#a39929,#a89d2c,#b09e2c,#b49f2c,#baa02c,#bca12c,#b7a02c,#b6a02c,#b7a02c,#b8a02c,#b9a02c,#b39f2c,#aa9d2c,#a79c2b,#ac9c2a,#ae9d2b,#a89c2b,#a59626,#a49929,#a59525,#a68f20,#a68d1e,#a68c1e,#a68f20,#a68f1f,#a69222,#a68f20,#a69121,#a69323,#a69424,#a69424,#a69425,#a59626,#a59525,#a59626,#a59626,#a59727,#a49828,#ab9d2b,#a39a2a,#a29b2b,#a69d2c,#af9e2c,#b6a02c,#c1a22c,#caa42e,#d2a632,#d7a834,#dbab3e,#ddad47,#e1b153,#e3b55b,#e7bb69,#e6ba66,#e9be6d,#e9bf70,#ebc276,#ecc47a,#edc57d,#edc57d,#edc57c,#edc57e,#edc67e,#edc680,#eec783,#eec782,#eec783,#eec782,#edc67f,#edc57d,#ecc378,#eac174,#eac072,#eac072,#e9bf70,#e9bf6f,#e9bf6f,#eac071,#e9be6e,#e8bd6c,#e7bc69,#e6ba66,#e4b75f,#e5b861,#e5b861,#e1b355,#dcac41,#ddad45,#e1b152,#e2b256,#e5b760,#e8bd6d,#ecc57c,#efca89,#f3cf97,#f5d2a0,#f6d4a5,#f6d5a7,#f7d5a8,#f6d5a8,#f6d4a5,#f5d3a3,#f4d19d,#f3cf97,#f3cf98,#f2ce95,#f2ce94,#f2ce97,#f3cf97,#f4d09c,#f5d2a0,#f6d4a5,#f6d5a8,#f7d6a9,#f7d7ac,#f8d9ae,#f8d9af,#f8dab0,#f8dab0,#f8dab0,#f8dab1,#f8dab0,#f8dab1,#f8d9af,#f8d9af,#f8d9af,#f8d9af,#f8d9ae,#f8d9ae,#f8d9ae,#f8d9af,#f8d9af,#f8d9af,#f8d9b0,#f8d9af,#f8d9af)"></div>
<div style="top:420px;height:3px;background:linear-gradient(90deg,#a68d1e,#a68d1e,#a68f20,#a68f20,#a69021,#a69122,#a68f20,#a68f20,#a69121,#a69021,#a69121,#a59424,#a59626,#a59727,#ac9d2b,#a79c2b,#a59626,#a59727,#a49929,#a39b2b,#aa9d2c,#b39f2c,#b59f2c,#bba02c,#c4a22d,#c8a32e,#c9a32e,#c4a22d,#baa02c,#b19f2c,#a79d2c,#a39c2c,#a39b2b,#a39a2a,#a49828,#a59727,#a59525,#a59a2a,#a68e1f,#a68b1d,#a68b1c,#a68e1f,#a68e1f,#a69121,#a69020,#a68e1f,#a69121,#a69323,#a69525,#a59525,#a69424,#a59525,#a49828,#a49929,#a49a2a,#a59b2a,#a89c2b,#ac9d2b,#a59b2b,#a29b2b,#a99d2c,#b39f2c,#b9a02c,#c6a32d,#cda530,#d3a632,#d9a937,#dcac43,#deae48,#e1b151,#e4b55d,#e6ba65,#e9be6e,#e9be6f,#e9bf71,#ebc276,#ecc378,#edc57e,#ecc47a,#edc57d,#edc67f,#edc680,#eec781,#eec782,#eec782,#eec782,#edc680,#edc67e,#edc57d,#ecc57c,#ecc479,#ebc276,#ebc276,#eac073,#eac072,#e9bf70,#e9be6e,#e8bd6b,#e7bb68,#e6b863,#e2b256,#e0b04e,#ddad45,#daaa3c,#e4b75e,#e1b352,#d9a938,#ddad46,#dfaf4d,#e2b357,#e6ba66,#ecc47a,#eec783,#f2ce97,#f4d19d,#f6d3a4,#f6d5a7,#f6d5a8,#f6d4a7,#f6d4a5,#f5d3a3,#f4d19f,#f3cf98,#f2ce96,#f2ce95,#f2ce97,#f3cf98,#f3cf9a,#f4d19e,#f6d3a4,#f6d4a6,#f7d6aa,#f7d7ac,#f8d9ae,#f9dab2,#f8dab1,#f8dab0,#f8dab1,#f8dab1,#f8dab1,#f8dab1,#f8dab0,#f8d9b0,#f8d9af,#f8dab0,#f8d9af,#f8d9af,#f8d9af,#f8d9af,#f8d9b0,#f8d9af,#f8d9af,#f8d9b0,#f8d9af,#f8dab0)"></div>
<div style="top:423px;height:3px;background:linear-gradient(90deg,#a69020,#a69122,#a69122,#a69122,#a69020,#a68e1f,#a68e1f,#a69121,#a69122,#a68f20,#a69122,#a69222,#a69324,#a69424,#a89928,#b8a02c,#bda12d,#bda12d,#b49f2d,#a89d2c,#b09e2c,#b9a02c,#bfa12c,#cda530,#cda530,#c5a22d,#c3a22c,#c0a12c,#bda12c,#bfa12c,#bba12c,#b19f2c,#ad9e2c,#ac9d2b,#a59a29,#a49727,#a49828,#a79c2b,#a59627,#a69020,#a68b1c,#a6891b,#a68b1c,#a68e1f,#a69121,#a69222,#a59424,#a59424,#a69323,#a69323,#a59626,#a49828,#a59727,#a49828,#a49929,#a39929,#a49929,#a39929,#a39b2b,#a39c2c,#ab9e2c,#b49f2c,#bfa12c,#c9a42e,#d1a631,#d6a833,#daaa3a,#dcac42,#deae49,#e1b151,#e3b45b,#e5b861,#e9bf71,#eac072,#e9bf71,#ebc275,#ecc379,#ecc47b,#edc57c,#ecc57c,#edc57e,#edc57d,#edc680,#eec681,#edc680,#edc67f,#edc57d,#edc67e,#edc67f,#edc680,#edc67f,#ecc47b,#ecc47a,#ebc378,#ebc377,#eac174,#e9bf6f,#e7bc69,#e7ba67,#eac075,#e9be6f,#dcac43,#d6a835,#d2a632,#d5a93b,#deb150,#deaf4a,#d9a938,#dcac43,#e1b153,#e6ba65,#ecc57c,#eec783,#f2ce95,#f3d09a,#f5d3a3,#f6d4a7,#f6d5a7,#f6d4a6,#f6d4a7,#f6d4a5,#f5d2a1,#f3d09b,#f3cf99,#f3cf97,#f3d09a,#f4d09c,#f4d19d,#f6d3a4,#f6d5a7,#f7d6aa,#f7d8ad,#f8d9ae,#f8d9b0,#f8dab1,#f9dab1,#f9dab1,#f8dab1,#f9dab1,#f8dab1,#f8dab0,#f8dab0,#f8d9af,#f8d9af,#f8d9af,#f8d9af,#f8d9b0,#f8d9af,#f8d9af,#f8d9af,#f8d9af,#f8d9b0,#f8dab0,#f8d9af,#f8d9af)"></div>
<div style="top:426px;height:3px;background:linear-gradient(90deg,#a59525,#a69122,#a69121,#a69021,#a69222,#a69020,#a68f20,#a69121,#a68f20,#a69020,#a49627,#a69727,#a99726,#aa9827,#af9c2a,#b8a02c,#bfa12d,#c3a22e,#cba430,#bca12d,#c0a22d,#cba531,#d2a633,#d7a835,#d2a632,#cca42f,#c6a22d,#c0a12c,#bba02c,#bca12c,#c1a22d,#aa9d2c,#a49c2c,#a29b2b,#ac9d2b,#a99b2a,#a59626,#a59626,#a49929,#a68e1f,#a68b1c,#a6891b,#a68a1c,#a68c1e,#a68d1f,#a68f20,#a69121,#a69222,#a69323,#a59424,#a59525,#a69525,#a59525,#a59626,#a59727,#a49727,#a49828,#a39929,#a29c2b,#a69d2c,#af9e2c,#bca12c,#c6a32d,#cda530,#d4a732,#d7a835,#dbab3f,#deae48,#e0b04e,#e3b45a,#e7bb67,#e7bb68,#e9bf6f,#eac073,#eac072,#eac174,#ebc377,#ebc378,#edc57c,#edc57d,#ecc47b,#edc57d,#edc57e,#edc680,#edc57d,#edc57e,#edc67e,#edc67f,#eec781,#eec782,#eec783,#eec782,#edc680,#ebc378,#eac071,#e9be6e,#e6b863,#e3b45b,#e2b255,#ddad46,#ddaf47,#daae47,#d4a93a,#cfa737,#caa532,#cfa632,#d8ad45,#e3b75d,#e0b24f,#e2b355,#e8bc6b,#e9bf70,#edc680,#f1cc90,#f4d19c,#f5d3a4,#f6d4a6,#f6d4a6,#f6d4a6,#f6d4a6,#f6d3a4,#f5d2a1,#f4d19e,#f4d09b,#f4d19d,#f4d19c,#f4d19d,#f5d3a3,#f6d5a7,#f7d6aa,#f7d7ab,#f8d8ad,#f8d9af,#f8dab1,#f9dbb2,#f9dab1,#f8dab1,#f8dab1,#f8dab1,#f8dab1,#f9dab1,#f8dab1,#f8d9b0,#f8d9af,#f8d9b0,#f8d9b0,#f8d9b0,#f8d9b0,#f8d9b0,#f8d9af,#f8d9af,#f8d9af,#f8d9b0,#f8d9af,#f8d9ae)"></div>
<div style="top:429px;height:3px;background:linear-gradient(90deg,#a59626,#a69222,#a69122,#a69122,#a69121,#a69223,#a69424,#a69222,#a69121,#a69223,#a69323,#a69424,#a69424,#a49727,#a49929,#a39929,#a49c2c,#b6a02d,#d2a734,#bba02c,#c3a22c,#c9a32e,#cea531,#d4a734,#d6a835,#d2a632,#cba42f,#c4a22d,#bfa12c,#bfa22d,#c3a22d,#ae9e2c,#a79d2c,#a29b2b,#a39b2b,#af9e2c,#aa9b2a,#aa9b2a,#a69323,#a68e1f,#a68b1c,#a68a1b,#a68b1c,#a68d1e,#a68e1f,#a69021,#a69122,#a59525,#a59525,#a69324,#a69424,#a69424,#a59626,#a59626,#a59626,#a59727,#a49929,#a39a2a,#a39b2b,#a99d2c,#b59f2c,#bfa12c,#c9a42e,#d1a631,#d6a733,#daaa3b,#ddad45,#dfaf4d,#e0b050,#e2b257,#e6ba66,#e6ba66,#e7bb69,#e9bf71,#eac073,#eac174,#ebc276,#ecc47a,#ecc57c,#edc67f,#edc57e,#edc680,#edc57e,#edc67e,#edc57e,#edc67f,#edc680,#edc681,#eec781,#eec884,#eec884,#efc987,#eec783,#ecc57c,#eac073,#e8bd6c,#e5b761,#e1b152,#ddad46,#d6a836,#cca42f,#bea12c,#b59f2c,#baa02c,#c1a22d,#bea12d,#baa02c,#c8a32e,#d9ac40,#e3b65a,#e7bb68,#ecc47b,#eec782,#f0ca8b,#f3cf98,#f5d2a1,#f6d4a5,#f6d4a6,#f6d5a7,#f6d4a5,#f6d3a4,#f6d3a4,#f5d3a2,#f4d19d,#f4d09c,#f4d19e,#f5d2a1,#f6d4a6,#f6d5a8,#f7d6aa,#f7d7ac,#f8d8ae,#f8d9af,#f8d9b0,#f9dab2,#f9dab1,#f8dab1,#f8dab0,#f8d9b0,#f8dab0,#f8dab0,#f8dab0,#f8d9af,#f8d9af,#f8d9b0,#f8dab0,#f8d9af,#f8d9af,#f8d9af,#f8d9b0,#f8d9b0,#f8d9af,#f8d9b0,#f8d9af,#f8d9af)"></div>
<div style="top:432px;height:3px;background:linear-gradient(90deg,#a59626,#a59525,#a69323,#a69223,#a69222,#a59626,#a69424,#a69222,#a69122,#a69121,#a69223,#a69424,#a59525,#a49828,#b39e2c,#b59f2e,#bfa22e,#c7a32f,#c4a22d,#c4a22d,#caa42e,#cea530,#d0a631,#d0a631,#cfa530,#cda530,#cba42f,#d0a631,#cea530,#bea12c,#b69f2c,#b19f2c,#ab9e2c,#a39c2c,#a29b2b,#a49b2a,#ac9c2b,#a69727,#a69121,#a68e1f,#a68b1d,#a68b1c,#a68c1d,#a68e1f,#a68f20,#a69122,#a59424,#a69223,#a69222,#a69425,#a59525,#a59525,#a59525,#a49727,#a49929,#a69a2a,#a59a29,#a39a2a,#a39b2b,#aa9d2c,#b69f2c,#c0a12c,#caa42f,#d3a732,#d9a938,#dcac40,#ddad46,#e0b04f,#e0b051,#e2b256,#e5b75f,#e7bc6a,#e7bc6a,#e9be6f,#e9bf70,#eac174,#ebc378,#ecc379,#ecc57c,#edc57e,#edc57d,#edc67e,#edc57e,#edc67f,#edc57d,#edc57d,#edc67f,#edc680,#eec783,#efc987,#efc987,#efc988,#eec884,#edc57e,#eac173,#e7bb68,#e3b459,#dfaf4b,#d8a938,#cca42f,#bca12c,#aa9d2c,#af9e2c,#c8a32e,#b5a02d,#a99d2c,#b8a02e,#cba637,#daad44,#e9bf71,#e5b760,#eac073,#edc57e,#f1cc8f,#f4d19c,#f4d29f,#f6d3a4,#f6d4a6,#f6d4a6,#f6d4a6,#f6d4a5,#f6d3a4,#f5d3a3,#f5d3a3,#f5d3a2,#f6d4a5,#f6d3a5,#f6d4a7,#f7d6a9,#f7d7ab,#f8d8ae,#f8d9af,#f8d9b0,#f8dab0,#f8dab1,#f8dab0,#f8dab0,#f8d9af,#f8d9af,#f8d9af,#f8d9af,#f8d9ae,#f8d9af,#f8d9af,#f8d9af,#f8d9b0,#f8d9af,#f8d9af,#f8dab0,#f8d9af,#f8d9af,#f8d9b0,#f8d9b0,#f8d9af,#f8dab0)"></div>
<div style="top:435px;height:3px;background:linear-gradient(90deg,#a69424,#a69525,#a59626,#a59525,#a59626,#a69424,#a69222,#a69223,#a59727,#a59626,#a69726,#a59727,#aa9a29,#b9a02d,#b9a02d,#ae9e2c,#b29f2c,#baa02c,#c6a32d,#cba42f,#cfa530,#d3a632,#d3a632,#d2a632,#d1a631,#d0a631,#cfa530,#d5a835,#c6a32d,#bda12c,#b9a02c,#b59f2c,#ac9e2c,#a79d2c,#a39b2b,#a39929,#a59727,#a59525,#a69222,#a68f20,#a68d1e,#a68c1d,#a68d1e,#a68f20,#a69122,#a69222,#a69122,#a69323,#a69323,#a69223,#a69323,#a69323,#a69424,#a59525,#a59626,#a59626,#a79929,#ad9d2b,#b09e2c,#bba12d,#c8a430,#d3a837,#dbac44,#e0b151,#e4b65e,#e7bb67,#e6ba66,#e6b863,#e4b55c,#e3b359,#e5b75f,#e6b964,#e7bc6a,#e8bd6d,#e9be6e,#eac072,#ebc275,#ecc57c,#ecc47b,#edc57d,#ecc57c,#edc57d,#edc57d,#edc57d,#ecc47b,#ecc57b,#ecc57c,#edc680,#efc886,#efc987,#efc989,#efc988,#eec885,#edc57d,#e9bf70,#e6b964,#e1b154,#dcac42,#d2a632,#c1a22d,#af9e2c,#a79d2c,#ae9e2c,#baa02c,#ab9e2c,#a39c2c,#ac9e2c,#c7a430,#e1b558,#ddad44,#e3b459,#e7bc69,#ecc47b,#efc987,#f2ce95,#f4d19e,#f5d2a2,#f6d3a4,#f6d4a6,#f6d4a7,#f6d4a7,#f6d4a6,#f6d4a5,#f6d4a5,#f6d4a6,#f6d4a7,#f6d5a8,#f7d6a9,#f7d7ab,#f7d7ac,#f8d9af,#f8d9b0,#f8d9b0,#f8dab0,#f8dab0,#f8d9af,#f8d9af,#f8d9af,#f8d9af,#f8d9ae,#f8d9af,#f8d9ae,#f8d9ae,#f8d9b0,#f8d9af,#f8d9af,#f8d9af,#f8d9b0,#f8d9b0,#f8d9af,#f8d9af,#f8d9af,#f8d9af,#f8d9b0,#f8d9b0)"></div>
<div style="top:438px;height:3px;background:linear-gradient(90deg,#a69525,#a59626,#a69525,#a69424,#a69424,#a59525,#a69424,#a59525,#a59626,#a69424,#a69424,#a59626,#a49828,#a39a2a,#a79d2c,#af9e2c,#baa02c,#c5a22d,#cca42f,#d1a631,#d6a835,#d8a938,#d8a836,#d6a835,#d7a938,#d8aa3b,#d8a93a,#cea530,#c7a32d,#c2a22c,#c5a22d,#bfa12d,#b19f2c,#ac9e2c,#a49c2c,#a39a2a,#a49727,#a59626,#a59525,#a59324,#a69122,#a69020,#a69121,#a59424,#a59525,#a69223,#a69222,#a69121,#a69122,#a69222,#a69323,#a69324,#a59626,#a39b2b,#a39c2c,#a89c2b,#a69929,#a39a2a,#a39c2c,#ab9e2c,#bba02c,#c9a42e,#d2a632,#d9a939,#deae48,#e3b55b,#e8bd6c,#eac173,#e8bd6c,#e5b862,#e6b863,#e6b964,#e7bb68,#e8bd6c,#e9bf6f,#eac173,#ebc175,#ebc378,#edc57d,#edc57d,#edc67f,#edc67f,#ecc57c,#edc57e,#edc57e,#ecc57c,#ecc47b,#edc680,#eec782,#efc886,#efc989,#efc988,#efc886,#ecc47c,#e8be6d,#e4b65f,#e1b152,#daaa3c,#cea530,#c3a22d,#c5a32e,#c5a32d,#b8a02c,#a79d2c,#a59d2c,#b8a02d,#cfa633,#d6aa3e,#deaf4a,#e4b75d,#e8bd6c,#eac072,#ebc276,#efc885,#f1cd92,#f4d09c,#f5d2a2,#f5d3a4,#f6d4a6,#f6d4a6,#f6d5a7,#f6d5a7,#f7d5a8,#f6d5a8,#f7d5a9,#f7d5a9,#f7d6a9,#f7d7ab,#f7d8ac,#f8d8ae,#f8d9ae,#f8d9ae,#f8dab0,#f8d9b0,#f8d9b0,#f8d9af,#f8d9af,#f8d9af,#f8d9af,#f8d8ae,#f8d9ae,#f8d9af,#f8d8ae,#f8d9af,#f8d9af,#f8d9af,#f8d9af,#f8d9b0,#f8d9af,#f8d9af,#f8d9af,#f8d9b0,#f8d9af,#f8d9af,#f8d9b0)"></div>
<div style="top:441px;height:3px;background:linear-gradient(90deg,#a69424,#a69324,#a69323,#a69223,#a69223,#a69324,#a69424,#a69223,#a69323,#a69324,#a59525,#a49828,#a69a2a,#a39b2b,#ae9e2c,#b9a02c,#c3a22c,#cba42f,#d1a631,#d6a835,#dbab40,#dbab3f,#dbab3e,#deae4a,#deae48,#d8a836,#d2a632,#cea530,#caa42e,#c6a32d,#cba42f,#d2a631,#caa42f,#c6a32e,#bca12d,#ad9d2b,#a49828,#a49727,#a99d2c,#a49929,#a59525,#a59525,#a59626,#a69424,#a69223,#a69121,#a69021,#a69121,#a69121,#a69122,#a69223,#a69323,#a69424,#a59525,#a59727,#a89a2a,#ab9c2b,#a39a2a,#a49c2c,#ab9e2c,#b7a02c,#c7a32d,#cfa530,#d7a836,#dcac42,#dfaf4d,#e5b761,#e9bf71,#e8bd6b,#e5b761,#e6b963,#e7bb68,#e8bd6c,#e9bf6f,#e9bf70,#ebc275,#ebc277,#ecc479,#ecc47b,#edc57d,#edc57d,#edc67f,#edc57e,#edc67f,#edc57e,#edc57d,#ecc57c,#edc67e,#eec784,#eec784,#efc886,#efc886,#edc67e,#ecc57c,#ebc379,#e6b964,#e1b152,#deae47,#daab3e,#dbab3d,#d3a733,#bea12d,#a89d2c,#a49c2b,#b39f2c,#b39f2c,#ac9e2c,#c2a22e,#e2b659,#edc680,#e9bf71,#ebc175,#edc57d,#f0cb8c,#f1cd92,#f4d09c,#f5d2a1,#f6d3a4,#f6d3a4,#f6d4a6,#f6d4a6,#f6d5a8,#f7d6a9,#f7d6a9,#f7d7ab,#f7d6aa,#f7d7ab,#f7d7ac,#f8d8ad,#f8d9ae,#f8d9af,#f8d9af,#f8d9b0,#f8d9b0,#f8d9af,#f8d9af,#f8d9af,#f8d9af,#f8d9af,#f8d9af,#f8d9af,#f8d9ae,#f8d9af,#f8d9af,#f8d9af,#f8d9af,#f8d9af,#f8d9ae,#f8d9af,#f8d9af,#f8d9af,#f8dab0,#f8d9af,#f8d9af,#f8d9af)"></div>
<div style="top:444px;height:3px;background:linear-gradient(90deg,#a69323,#a69323,#a69323,#a69222,#a69223,#a69222,#a69424,#a69323,#a69323,#a69424,#a59525,#a49828,#bca12d,#c0a22d,#b59f2c,#bea12c,#c9a42e,#cea530,#d5a733,#d9a938,#d9a939,#d9a938,#daaa3b,#deae49,#dcac43,#dcac43,#dbab40,#daab3d,#d7a835,#d2a733,#d5a733,#d5a733,#cda530,#b39f2c,#a29b2b,#ae9e2b,#ab9c2b,#a69b2b,#aa9c2b,#a59525,#a59626,#a59626,#a69222,#a69223,#a69323,#a69222,#a69021,#a69021,#a69021,#a69121,#a69222,#a69323,#a59525,#a49929,#a39a2a,#a49929,#aa9b29,#a39b2b,#a39c2c,#ac9e2c,#b39f2c,#c5a22d,#cfa530,#d9a938,#deae49,#e3b55b,#e8bd6c,#ebc175,#e8bd6c,#e6b964,#e6ba66,#e9be6d,#e9be6f,#e9be6d,#eac072,#eac174,#ebc175,#ecc57c,#ecc57c,#ecc57c,#edc57e,#edc680,#edc67e,#edc67e,#edc57d,#edc57d,#edc67f,#edc680,#eec781,#eec783,#efc987,#eec884,#ecc47c,#eac072,#ebc278,#ebc276,#e6b863,#e5b861,#e2b358,#daab3e,#c9a42e,#b8a02c,#a99d2c,#a79d2c,#a49c2b,#a49c2c,#bea231,#dfb150,#e7bb68,#e2b456,#e4b65d,#e9be6f,#ecc47b,#eec784,#f1cd91,#f3cf99,#f5d2a2,#f5d3a2,#f6d4a6,#f6d4a6,#f6d4a7,#f7d5a8,#f7d6a9,#f7d6aa,#f7d7ac,#f7d8ac,#f8d8ad,#f7d8ad,#f8d9af,#f8d9af,#f8d9af,#f8d9af,#f8d9af,#f8d9af,#f8d9af,#f8d9ae,#f8d9af,#f8d9af,#f8d9af,#f8d9af,#f8d9af,#f8d9af,#f8d9af,#f8d9af,#f8d9af,#f8d9af,#f8d9b0,#f8d9b0,#f8d9b0,#f8dab0,#f8d9af,#f8d9b0,#f8d9af,#f8d9af,#f8d9b0)"></div>
<div style="top:447px;height:3px;background:linear-gradient(90deg,#a69424,#a69323,#a69223,#a69222,#a69223,#a69222,#a69222,#a59727,#a59626,#a59525,#a59626,#a49828,#a49c2b,#bea12c,#bca12c,#c6a32d,#cfa530,#d3a732,#d7a834,#daaa3a,#daaa3b,#dcac42,#ddad44,#daaa3c,#dcac41,#ddad47,#daaa3a,#ddad46,#dbab3f,#d6a938,#d7a836,#c9a42f,#cba42f,#b5a02d,#a29c2b,#a39a2a,#ad9d2c,#af9e2c,#a59727,#a59727,#a49828,#a59525,#a59525,#a59626,#a69424,#a69222,#a69222,#a69122,#a69121,#a69021,#a69222,#a69223,#a69424,#a59626,#a49929,#a69b2a,#a59a29,#ab9c2b,#b49f2c,#c1a22e,#c9a533,#d5aa3d,#e0b252,#e7ba67,#eac071,#eac173,#ebc276,#ebc276,#e9be6e,#e9be6f,#e9be6e,#e8bd6b,#e8bd6c,#e9bf70,#eac174,#eac072,#eac174,#ecc47c,#ecc57b,#ecc57c,#edc67f,#edc67e,#edc67f,#edc57e,#edc67e,#edc57e,#edc67f,#edc67f,#edc680,#eec781,#eec884,#edc67f,#ecc47a,#e9bf71,#ebc277,#eec681,#ecc37a,#eac174,#e2b357,#d6a837,#c7a32d,#bca12c,#a69c2c,#a39b2b,#a39c2b,#b6a02d,#d9aa3c,#e0b251,#dbac3f,#e0b04e,#e4b55d,#eac174,#edc57d,#efc886,#f2cd93,#f2ce97,#f5d2a0,#f5d3a2,#f6d4a5,#f6d5a7,#f6d5a8,#f7d6a9,#f7d6aa,#f7d7ac,#f7d8ad,#f8d8ae,#f8d8ae,#f8d9ae,#f8d9ae,#f8d9b0,#f8d9b0,#f8d9b0,#f8d9ae,#f8d8ae,#f8d9af,#f8d8ae,#f8d9af,#f8d9af,#f8d9b0,#f8d9af,#f8d9af,#f8d9af,#f8d9af,#f8d9af,#f8dab0,#f8dab0,#f8d9b0,#f8d9af,#f8d9af,#f8d9af,#f8d9af,#f8d9b0,#f8d9b0,#f8d9af,#f8d9b0)"></div>
<div style="top:450px;height:3px;background:linear-gradient(90deg,#a59525,#a69323,#a69223,#a69222,#a69222,#a69323,#a69222,#a59727,#a49929,#a49929,#a59929,#a39929,#a39c2c,#b19f2c,#c1a22c,#c9a42e,#d1a631,#d7a833,#d7a835,#daaa3a,#dbab3f,#dfaf4b,#ddad44,#deae47,#dfaf4c,#dfaf4b,#ddad46,#d7a937,#d3a632,#d5a837,#d3a734,#c5a32f,#b59f2c,#c1a22e,#ae9e2c,#a39b2b,#a39b2b,#a49828,#a59626,#a49929,#a49727,#a59626,#a59727,#a59525,#a69424,#a69424,#a69222,#a69121,#a69021,#a69021,#a69122,#a69223,#a59727,#a39b2b,#a49b2b,#a49828,#a59929,#ae9d2b,#b29f2d,#b8a02e,#c1a330,#cfa737,#dbad44,#e1b355,#e6ba65,#e7bc6a,#e9be6e,#e9bf6f,#e8bc6b,#e8bc6a,#e7bc69,#e8bc6a,#e8bd6c,#e9be6e,#e9bf71,#eac072,#ebc275,#ecc379,#ecc479,#ecc47b,#edc57d,#edc57d,#edc57e,#edc57d,#edc57d,#edc57e,#edc67f,#edc680,#edc680,#edc681,#eec782,#ecc57b,#ecc379,#ecc47a,#eec783,#ebc175,#efc886,#e9be6f,#dcac42,#d4a733,#cca42f,#b29f2c,#a39b2b,#a39b2b,#ab9e2c,#d1a633,#daab40,#d4a837,#daaa3c,#e1b151,#e9bf71,#edc57d,#edc57e,#efc988,#f2ce95,#f3d09a,#f4d19f,#f5d2a1,#f5d3a2,#f6d4a7,#f6d5a8,#f7d6a9,#f7d6aa,#f7d7ac,#f8d8ae,#f8d9af,#f8d9af,#f8d9af,#f8d9b0,#f8d9b0,#f8d9af,#f8d9b0,#f8d9af,#f8d9af,#f8d9af,#f8d9af,#f8d9af,#f8d9ae,#f8d9af,#f8d9b0,#f8d9af,#f8d9af,#f8d9af,#f8d9af,#f8d9af,#f8d9af,#f8d9b0,#f8d9af,#f8d9af,#f8d9af,#f8d8ae,#f8d9af,#f8d9af,#f8d9af,#f8d8ae)"></div>
<div style="top:453px;height:3px;background:linear-gradient(90deg,#a69525,#a69323,#a69323,#a69222,#a69222,#a69223,#a69424,#a49828,#a59626,#a89a29,#c2a22d,#b7a02d,#a79d2c,#b19f2c,#c1a22c,#cca42f,#d4a732,#d8a835,#daaa39,#dbab3e,#ddad45,#ddad45,#dbab3f,#dbab3e,#dbab3f,#dfaf4b,#daaa3b,#d7a834,#d4a732,#cfa530,#cca530,#cca52f,#c1a22e,#b29f2c,#c7a32e,#b6a02c,#ad9e2c,#a49929,#a59929,#a49727,#a69424,#a69424,#a69424,#a69424,#a69424,#a69424,#a69223,#a69121,#a68f20,#a68f20,#a69121,#a69323,#a59525,#a59626,#a49828,#a49727,#a49828,#a39a2a,#a49c2c,#aa9d2c,#b59f2c,#c4a22d,#d0a631,#d9aa3a,#dcac42,#dfaf4d,#e2b357,#e4b65d,#e5b761,#e7ba66,#e7bb69,#e8bd6c,#e9be6f,#e9bf6f,#eac173,#eac174,#ebc276,#ecc378,#ecc57c,#ecc57c,#edc57d,#edc67f,#edc57e,#edc67f,#edc680,#edc67f,#edc57e,#edc680,#edc680,#eec781,#edc67e,#ecc57c,#ecc47b,#eac174,#e6ba66,#ecc37a,#eec884,#e0b251,#d2a632,#cca42f,#cca42f,#ab9d2c,#a29b2b,#a99d2c,#c7a32e,#d0a633,#cea636,#d3a732,#ddad44,#e5b760,#e9bf6f,#eac071,#ecc57c,#efc987,#f2cd93,#f3cf99,#f4d19d,#f5d3a2,#f6d4a6,#f6d4a7,#f7d5a8,#f7d6aa,#f7d7ab,#f7d8ad,#f8d9ae,#f8d9b0,#f8dab1,#f8dab0,#f8d9af,#f8d9b0,#f8d9b0,#f8d9af,#f8d9af,#f8d9af,#f8d9af,#f8d9af,#f8d9af,#f8d8ae,#f8d9ae,#f8d9af,#f8d9af,#f8d9af,#f8d9af,#f8d9af,#f8d9af,#f8d9ae,#f8d9af,#f8d9af,#f8d9af,#f8d9b0,#f8d9af,#f8d9af,#f8d9af,#f8d9af,#f8d9af)"></div>
<div style="top:456px;height:3px;background:linear-gradient(90deg,#a69525,#a69323,#a69222,#a69222,#a69222,#a69222,#a59626,#a59626,#a69525,#ac9c2a,#b69f2c,#b49f2c,#a49c2c,#b29f2c,#c4a22d,#cda530,#d4a733,#d9a936,#daaa3b,#dbab3e,#dcac41,#dcac41,#dbab40,#dbab3f,#ddad45,#dbab3f,#daaa3b,#d7a834,#d4a732,#cea530,#c8a32e,#c2a22d,#bda12d,#b8a02d,#b39f2c,#ad9d2b,#b49f2c,#ad9e2c,#a59727,#a59525,#a59525,#a69525,#a59727,#a69525,#a69424,#a69323,#a69222,#a69021,#a68f20,#a68f20,#a69021,#a69222,#a69424,#a49929,#a59929,#a49a29,#a89b2a,#a89c2b,#a39c2c,#a89d2c,#b29f2c,#c1a22c,#cfa530,#d9a938,#dcac42,#e0b04e,#e2b358,#e4b65e,#e5b862,#e6ba66,#e7bc6a,#e9be6d,#e8bd6d,#e9bf6f,#e9bf71,#eac073,#ebc275,#ebc378,#edc57d,#edc57d,#edc680,#edc67f,#edc680,#eec781,#edc67f,#edc67f,#edc67f,#edc67f,#edc680,#edc680,#edc57d,#ecc479,#eac174,#e8bc6a,#e5b761,#e8bd6c,#edc680,#dcad43,#cca42f,#b8a02c,#b9a02c,#b39f2c,#ab9e2c,#b29f2c,#baa02c,#c8a431,#c3a22d,#d2a632,#ddad46,#e4b55c,#e5b760,#eac173,#edc57d,#efc886,#f2cd93,#f3d09a,#f5d2a0,#f5d3a3,#f6d4a6,#f6d5a7,#f7d5a9,#f7d7ab,#f7d7ab,#f8d9ae,#f8d9af,#f8d9b0,#f8dab1,#f8dab1,#f8dab0,#f8dab0,#f8d9b0,#f8d9ae,#f8d9af,#f8d9af,#f8d9af,#f8d9ae,#f8d9ae,#f8d9af,#f8d9af,#f8dab0,#f8d9af,#f8d9af,#f8d9af,#f8d9af,#f8d9af,#f8d9af,#f8d9af,#f8d9af,#f8d9af,#f8d9af,#f8d9af,#f8d9af,#f8d9af,#f8dab0,#f8dab0)"></div>
<div style="top:459px;height:3px;background:linear-gradient(90deg,#a69323,#a69323,#a69222,#a69122,#a69222,#a69222,#a59626,#a49828,#a59828,#a59828,#a49828,#b19e2c,#a89d2c,#b49f2c,#c3a22c,#cea530,#d5a733,#d9a938,#dbab3e,#dcac40,#dcac41,#dcac40,#dbab3f,#dcac43,#dbab3d,#daaa3b,#daaa3c,#d7a834,#d2a631,#d0a631,#c8a32e,#bfa12c,#bfa12d,#a79d2c,#a29c2c,#a49929,#a49929,#aa9d2c,#a49727,#a49828,#a59626,#a59727,#a59626,#a69525,#a69525,#a69323,#a69122,#a69021,#a69020,#a68f20,#a69021,#a69122,#a69324,#a69525,#a59828,#a79a29,#a79b2a,#b59f2c,#bda12d,#b19f2d,#b6a02c,#c3a22c,#cfa531,#d8a936,#ddad45,#dfaf4d,#e2b255,#e4b65e,#e6b963,#e7bb69,#e8bc6b,#e8bc6a,#e8bd6c,#e8bd6d,#e9be6f,#e9bf70,#eac173,#ebc277,#ecc57c,#edc67f,#edc680,#edc680,#edc67f,#edc67f,#edc67f,#edc67f,#edc67f,#edc67f,#edc67e,#edc67f,#edc67e,#ecc47a,#eac072,#e7bb69,#e5b862,#e1b151,#dfaf4a,#dcb04a,#d3a93b,#c4a32f,#b29f2c,#a69d2c,#a49c2c,#b09e2c,#b5a02d,#b29f2c,#c6a32d,#d5a733,#ddad44,#e3b459,#e7bb69,#ebc378,#edc681,#f0ca8a,#f1cc91,#f3cf9a,#f4d19d,#f4d19f,#f6d4a5,#f6d5a7,#f7d5a8,#f7d6aa,#f7d7ac,#f8d8ad,#f8d8ae,#f8d9af,#f8dab0,#f8dab1,#f8dab1,#f8d9af,#f8d9ae,#f8d9ae,#f8d9af,#f8d9af,#f8d9af,#f8d9af,#f8d9af,#f8d9af,#f8d9af,#f8d9af,#f8d9af,#f8d9af,#f8d9ae,#f8d9ae,#f8d9af,#f8d9af,#f8dab0,#f8dab0,#f8d9af,#f8d9af,#f8d9b0,#f8d9b0,#f8d9af,#f8d9af,#f8d9b0)"></div>
<div style="top:462px;height:3px;background:linear-gradient(90deg,#a69323,#a69323,#a69223,#a69021,#a69122,#a69223,#a59626,#a59525,#a69424,#a59525,#a49727,#a79a2a,#b29f2d,#b49f2c,#c2a22c,#cfa530,#d5a733,#d9a937,#dbab3d,#dbab40,#dbab3e,#dcac41,#ddad44,#dcac41,#dbab3d,#dbab3e,#dcac42,#d9a938,#d4a733,#d0a631,#cba42f,#bea12c,#b8a02c,#b5a02d,#a29b2b,#a39929,#a49727,#a69c2b,#a49929,#a59525,#a59727,#a49828,#a69525,#a59626,#a59626,#a69323,#a69222,#a69021,#a68f20,#a68e1f,#a69021,#a69223,#a59626,#a39929,#a49828,#a59727,#a49929,#a39a2a,#ac9d2c,#caa430,#cba531,#c1a22c,#cea530,#d8a835,#ddad44,#e0b04e,#e3b358,#e4b65d,#e6ba66,#e8bd6c,#e7bc69,#e7bb69,#e8bd6c,#e8bc6a,#eac072,#eac072,#eac174,#ebc378,#ecc379,#edc57d,#edc680,#edc680,#eec781,#eec782,#eec681,#edc57d,#edc67f,#edc67e,#edc67f,#edc67f,#edc57c,#ebc377,#e9bf71,#e7bb68,#e3b45a,#e0b04e,#daaa3a,#d1a631,#bea12c,#b9a02c,#b09e2c,#ab9d2b,#a59c2c,#a29c2c,#aa9d2c,#b8a02c,#c9a32e,#d5a733,#ddad45,#e9be6e,#e8bd6d,#ecc479,#ecc47a,#efc988,#f1cc90,#f4d09c,#f5d2a0,#f5d2a1,#f5d3a4,#f6d5a8,#f7d5a9,#f7d6aa,#f7d7ab,#f7d8ad,#f8d8ae,#f8d9b0,#f8dab1,#f8dab0,#f8dab0,#f8d9b0,#f8d9af,#f8d9ae,#f8d9af,#f8d9ae,#f8d9ae,#f8d9af,#f8d9af,#f8d9af,#f8d9af,#f8dab0,#f8d9af,#f8d9b0,#f8d9af,#f8d9af,#f8d9af,#f8d9af,#f8dab0,#f8dab0,#f8d9af,#f8d9af,#f8d9af,#f8d9af,#f8d9af,#f8d9af,#f8d9b0)"></div>
</div>
<svg width="1269" height="590" viewBox="0 0 1269 590">
<path d="M96 51.5H589V247.5H96Z" fill="none" stroke="#262626" stroke-width="3"/>
<path d="M96 247.5v6.5M96 51.5v-6.5" stroke="#262626" stroke-width="3"/>
<path d="M178.2 247.5v6.5M178.2 51.5v-6.5" stroke="#262626" stroke-width="3"/>
<path d="M260.3 247.5v6.5M260.3 51.5v-6.5" stroke="#262626" stroke-width="3"/>
<path d="M342.5 247.5v6.5M342.5 51.5v-6.5" stroke="#262626" stroke-width="3"/>
<path d="M424.7 247.5v6.5M424.7 51.5v-6.5" stroke="#262626" stroke-width="3"/>
<path d="M506.8 247.5v6.5M506.8 51.5v-6.5" stroke="#262626" stroke-width="3"/>
<path d="M589 247.5v6.5M589 51.5v-6.5" stroke="#262626" stroke-width="3"/>
<path d="M96 247h-6.5M589 247h6.5" stroke="#262626" stroke-width="3"/>
<path d="M96 149h-6.5M589 149h6.5" stroke="#262626" stroke-width="3"/>
<path d="M96 51h-6.5M589 51h6.5" stroke="#262626" stroke-width="3"/>
<path d="M96 303H589V499H96Z" fill="none" stroke="#262626" stroke-width="3"/>
<path d="M96 499v6.5M96 303v-6.5" stroke="#262626" stroke-width="3"/>
<path d="M178.2 499v6.5M178.2 303v-6.5" stroke="#262626" stroke-width="3"/>
<path d="M260.3 499v6.5M260.3 303v-6.5" stroke="#262626" stroke-width="3"/>
<path d="M342.5 499v6.5M342.5 303v-6.5" stroke="#262626" stroke-width="3"/>
<path d="M424.7 499v6.5M424.7 303v-6.5" stroke="#262626" stroke-width="3"/>
<path d="M506.8 499v6.5M506.8 303v-6.5" stroke="#262626" stroke-width="3"/>
<path d="M589 499v6.5M589 303v-6.5" stroke="#262626" stroke-width="3"/>
<path d="M96 499h-6.5M589 499h6.5" stroke="#262626" stroke-width="3"/>
<path d="M96 433.7h-6.5M589 433.7h6.5" stroke="#262626" stroke-width="3"/>
<path d="M96 368.3h-6.5M589 368.3h6.5" stroke="#262626" stroke-width="3"/>
<path d="M96 303h-6.5M589 303h6.5" stroke="#262626" stroke-width="3"/>
<path d="M95 221 L96 221 L96 204 L100 204 L100 186 L102.6 186 L102.6 156.4 L110 156.4 L111.4 210 L112.8 174.7 L120 174.7 L121 202 L122 160 L129 160 L130.3 189 L131.7 161 L138.4 161 L139.6 192 L140.8 149.3 L148 149.3 L148 185 L151 185 L152 207 L153 181 L159 181 L159 187 L167 187 L168 213 L169 196 L177.4 196 L177.4 199 L179.5 199 L179.5 201 L184.5 201 L184.5 185 L191.7 185 L192.7 191 L193.7 167 L200 167 L200 181 L204 181 L205 195 L206 176.8 L213 176.8 L214 191 L215 180 L222 180 L222.8 200 L223.5 167.6 L229.5 167.6 L231.1 219.5 L232.6 188 L238.7 188 L238.7 196 L246.8 196 L246.8 160 L247.6 160 L247.6 94.4 L251.5 94.4 L251.5 83.6 L258.7 83.6 L258.7 150 L260 150 L260 180 L264 180 L264 195 L268 195 L269 211 L270 190 L278 190 L278.7 200 L279.4 181 L284.5 181 L284.5 168.6 L290.6 168.6 L292.6 217.4 L294.6 140 L302.4 140 L302.4 201 L309 201 L309 189 L312 189 L312 170.7 L318 170.7 L318 177.8 L327.5 177.8 L328.8 199 L330 152.4 L336 152.4 L336 201 L343.7 201 L343.7 176.8 L350.4 176.8 L350.4 217.4 L356 217.4 L356 189 L361 189 L361 156 L373 156 L373 215 L377.5 215 L377.5 213 L381 213 L381 199 L389.5 199 L389.5 189 L395.6 189 L395.6 210 L402.7 210 L402.7 205 L409 205 L409 173.7 L412.6 173.7 L412.6 161 L415 161 L415 149.5 L420 149.5 L420 154.6 L424.8 154.6 L426.4 209 L428 170 L435 170 L435.9 209 L436.8 165.5 L443 165.5 L443 168.6 L448.7 168.6 L448.7 208 L455.3 208 L455.3 110 L461.4 110 L461.4 147 L468.5 147 L468.5 173.7 L473.6 173.7 L473.6 183.8 L478.7 183.8 L479.7 209 L480.7 147 L486.8 147 L486.8 173.7 L492.7 173.7 L492.7 125.4 L501 125.4 L501 189 L505.4 189 L505.4 204 L511.7 204 L511.7 190 L513 190 L513 180 L519 180 L520.5 199 L522 185 L526 185 L526 167.6 L532.5 167.6 L534.8 199 L537 170.7 L542.6 170.7 L542.6 166.2 L548.7 166.2 L548.7 184 L555 184 L555 187 L563 187 L564.5 193 L566 177.8 L574 177.8 L574 177 L581 177 L581 188 L584 188 L584 188 L590.4 188 L590.4 205 L592 205 L592 248.5 L95 248.5Z" fill="#000"/>
<path d="M95 223 L96 223 L96 207 L100 207 L100 189 L102.6 189 L102.6 163.5 L110 163.5 L111.4 211 L112.8 174.7 L120 174.7 L121 204 L122 164.6 L129 164.6 L130.3 191 L131.7 164.6 L138.4 164.6 L139.6 194 L140.8 154.4 L148 154.4 L148 191 L151 191 L152 209 L153 189 L159 189 L159 187 L167 187 L168 214 L169 201 L177.4 201 L177.4 203 L179.5 203 L179.5 201 L184.5 201 L184.5 187 L191.7 187 L192.7 195 L193.7 176.8 L200 176.8 L200 191 L204 191 L205 207 L206 186 L213 186 L214 203 L215 194 L222 194 L222.8 205 L223.5 181 L229.5 181 L231.1 221 L232.6 204 L238.7 204 L238.7 196 L246.8 196 L246.8 170 L247.6 170 L247.6 124 L251.5 124 L251.5 113.4 L258.7 113.4 L258.7 160 L260 160 L260 195 L264 195 L264 195 L268 195 L268 211 L270 211 L270 211 L278 211 L278 211 L279.4 211 L279.4 195 L284.5 195 L284.5 187 L290.6 187 L292.6 219 L294.6 163.5 L302.4 163.5 L302.4 213 L309 213 L309 201 L312 201 L312 199 L318 199 L318 198 L327.5 198 L328.8 217 L330 175.7 L336 175.7 L336 219.5 L343.7 219.5 L343.7 195 L350.4 195 L350.4 229.6 L356 229.6 L356 215 L361 215 L361 178.8 L373 178.8 L373 217 L377.5 217 L377.5 221 L381 221 L381 209 L389.5 209 L389.5 207 L395.6 207 L395.6 221.5 L402.7 221.5 L402.7 207 L409 207 L409 190 L412.6 190 L412.6 183.8 L415 183.8 L415 176 L420 176 L420 176 L424.8 176 L426.4 211 L428 187.7 L435 187.7 L435.9 211 L436.8 189 L443 189 L443 189 L448.7 189 L448.7 208 L455.3 208 L455.3 131.8 L461.4 131.8 L461.4 166 L468.5 166 L468.5 183.8 L473.6 183.8 L473.6 191.5 L478.7 191.5 L479.7 211 L480.7 172.4 L486.8 172.4 L486.8 178.8 L492.7 178.8 L492.7 148.3 L501 148.3 L501 192 L505.4 192 L505.4 204 L511.7 204 L511.7 201 L513 201 L513 201 L519 201 L520.5 211 L522 198 L526 198 L526 190 L532.5 190 L534.8 199 L537 184 L542.6 184 L542.6 182 L548.7 182 L548.7 200 L555 200 L555 187 L563 187 L564.5 195 L566 184 L574 184 L574 177 L581 177 L582.5 197 L584 192 L590.4 192 L590.4 205 L592 205 L592 246.2 L589 246.2 L589 246.6 L586 246.6 L586 246.3 L583 246.3 L583 246.6 L580 246.6 L580 246.7 L577 246.7 L577 246 L574 246 L574 245.9 L571 245.9 L571 246.9 L568 246.9 L568 246.2 L565 246.2 L565 246.2 L562 246.2 L562 247.1 L559 247.1 L559 246.5 L556 246.5 L556 246.9 L553 246.9 L553 246.5 L550 246.5 L550 246.7 L547 246.7 L547 246.1 L544 246.1 L544 246.7 L541 246.7 L541 246.9 L538 246.9 L538 246.5 L535 246.5 L535 246.8 L532 246.8 L532 246.7 L529 246.7 L529 246 L526 246 L526 246.8 L523 246.8 L523 246.6 L520 246.6 L520 246.3 L517 246.3 L517 245.9 L514 245.9 L514 246.9 L511 246.9 L511 246.5 L508 246.5 L508 246.8 L505 246.8 L505 247 L502 247 L502 246.8 L499 246.8 L499 247 L496 247 L496 246.4 L493 246.4 L493 246.9 L490 246.9 L490 246.4 L487 246.4 L487 247 L484 247 L484 247 L481 247 L481 246 L478 246 L478 246.1 L475 246.1 L475 246.2 L472 246.2 L472 247.1 L469 247.1 L469 246.4 L466 246.4 L466 246.7 L463 246.7 L463 246.3 L460 246.3 L460 246.5 L457 246.5 L457 246.4 L454 246.4 L454 246.3 L451 246.3 L451 246.6 L448 246.6 L448 246.6 L445 246.6 L445 247 L442 247 L442 246.7 L439 246.7 L439 247 L436 247 L436 246.9 L433 246.9 L433 247.1 L430 247.1 L430 246.7 L427 246.7 L427 246.1 L424 246.1 L424 246.9 L421 246.9 L421 247.1 L418 247.1 L418 247 L415 247 L415 246.6 L412 246.6 L412 246.8 L409 246.8 L409 246.2 L406 246.2 L406 246.9 L403 246.9 L403 246.6 L400 246.6 L400 246.2 L397 246.2 L397 246 L394 246 L394 246.9 L391 246.9 L391 247.1 L388 247.1 L388 246 L385 246 L385 246.9 L382 246.9 L382 246.4 L379 246.4 L379 246.1 L376 246.1 L376 246.3 L373 246.3 L373 246.8 L370 246.8 L370 246.9 L367 246.9 L367 246 L364 246 L364 246.6 L361 246.6 L361 246 L358 246 L358 246.8 L355 246.8 L355 246.3 L352 246.3 L352 247 L349 247 L349 247.1 L346 247.1 L346 246.5 L343 246.5 L343 247.1 L340 247.1 L340 246.3 L337 246.3 L337 246 L334 246 L334 246.6 L331 246.6 L331 245.9 L328 245.9 L328 246.1 L325 246.1 L325 246.4 L322 246.4 L322 246.6 L319 246.6 L319 246.1 L316 246.1 L316 246 L313 246 L313 246.9 L310 246.9 L310 246.3 L307 246.3 L307 247.1 L304 247.1 L304 247 L301 247 L301 246.4 L298 246.4 L298 246.5 L295 246.5 L295 246.5 L292 246.5 L292 246.7 L289 246.7 L289 246.6 L286 246.6 L286 246.6 L283 246.6 L283 246.6 L280 246.6 L280 247 L277 247 L277 246.5 L274 246.5 L274 246.4 L271 246.4 L271 246.8 L268 246.8 L268 246.2 L265 246.2 L265 246.3 L262 246.3 L262 247.1 L259 247.1 L259 246.5 L256 246.5 L256 246.6 L253 246.6 L253 245.9 L250 245.9 L250 246.4 L247 246.4 L247 246.6 L244 246.6 L244 245.9 L241 245.9 L241 246.6 L238 246.6 L238 246.7 L235 246.7 L235 246 L232 246 L232 246.7 L229 246.7 L229 246.5 L226 246.5 L226 246.7 L223 246.7 L223 246.3 L220 246.3 L220 246.7 L217 246.7 L217 246.8 L214 246.8 L214 245.9 L211 245.9 L211 246 L208 246 L208 246.7 L205 246.7 L205 247.1 L202 247.1 L202 246.2 L199 246.2 L199 246.4 L196 246.4 L196 246.6 L193 246.6 L193 246.3 L190 246.3 L190 246.3 L187 246.3 L187 246.3 L184 246.3 L184 246.3 L181 246.3 L181 246.6 L178 246.6 L178 246.3 L175 246.3 L175 246.4 L172 246.4 L172 246.8 L169 246.8 L169 245.9 L166 245.9 L166 246.6 L163 246.6 L163 246.8 L160 246.8 L160 246.3 L157 246.3 L157 246.2 L154 246.2 L154 246.9 L151 246.9 L151 246.2 L148 246.2 L148 246.1 L145 246.1 L145 246.4 L142 246.4 L142 246.7 L139 246.7 L139 246 L136 246 L136 246.3 L133 246.3 L133 246.3 L130 246.3 L130 246.9 L127 246.9 L127 246.4 L124 246.4 L124 246.9 L121 246.9 L121 246.1 L118 246.1 L118 246.3 L115 246.3 L115 246.7 L112 246.7 L112 247 L109 247 L109 246.4 L106 246.4 L106 246.2 L103 246.2 L103 246 L100 246 L100 246.5 L97 246.5 L97 246.1 L95 246.1Z" fill="#f00"/>
<path d="M417.2 246L418.2 229.6L419 246Z" fill="#fff"/>
<path d="M95 423.8 L98.3 423.8 L98.3 358.6 L105.4 358.6 L105.4 400 L106.6 400 L106.6 406 L112.5 406 L112.5 346.7 L113.7 346.7 L113.7 316 L120.3 316 L120.3 348 L125.6 348 L125.6 331.3 L133 331.3 L133 381 L135.5 381 L135.5 388 L141 388 L141 373.5 L146.9 373.5 L146.9 383.5 L151.6 383.5 L151.6 367 L158.8 367 L158.8 393 L161 393 L161 389.4 L165.9 389.4 L165.9 376.9 L177.7 376.9 L177.7 385.4 L184.8 385.4 L184.8 385.9 L194.3 385.9 L195.9 400 L197.4 384.7 L204 384.7 L204.8 421 L205.7 344.4 L212.8 344.4 L212.8 344.4 L218.7 344.4 L218.7 370.5 L223.5 370.5 L223.5 389.4 L229.4 389.4 L229.4 401.3 L236.5 401.3 L236.5 405 L238.9 405 L238.9 388 L243.6 388 L243.6 385.4 L250.7 385.4 L251.8 428 L253 371.6 L259 371.6 L260.2 416 L261.4 402 L268.5 402 L268.5 389.4 L276.8 389.4 L277.9 415 L279 403.6 L285 403.6 L286.8 428.5 L288.6 422.6 L292.2 422.6 L292.2 414.3 L298 414.3 L298 419 L302.4 419 L302.4 443.8 L309.5 443.8 L309.5 424.8 L320 424.8 L320 446 L326 446 L326 410.6 L333 410.6 L333 439 L336.7 439 L336.7 453 L343.9 453 L343.9 432 L351 432 L351 443.8 L359.3 443.8 L361.1 453 L362.8 436.7 L366.4 436.7 L366.4 424.8 L372.3 424.8 L372.3 436.7 L375.9 436.7 L375.9 453 L381.8 453 L381.8 429.6 L386.5 429.6 L386.5 414 L394.8 414 L394.8 427.2 L399.6 427.2 L399.6 435.5 L404.3 435.5 L404.3 376.5 L411 376.5 L412.1 449 L413.3 430 L416.4 430 L416.4 417 L422 417 L422 425.3 L427.5 425.3 L427.5 446.7 L433.4 446.7 L433.4 383.9 L440.6 383.9 L442.3 432 L444 410 L451.2 410 L451.2 394.5 L454.8 394.5 L454.8 387.4 L461.9 387.4 L463.7 439.6 L465.5 393.3 L470.2 393.3 L470.2 375.6 L476.1 375.6 L476.1 394.5 L483.2 394.5 L485 418 L486.8 395.7 L490.3 395.7 L490.3 370.8 L496.3 370.8 L498.1 392 L499.8 369.6 L504.7 369.6 L504.7 372 L509.5 372 L509.5 353 L516.6 353 L516.6 413.5 L522.5 413.5 L524.2 439.6 L526 383.9 L533.2 383.9 L534.4 446.7 L535.6 364.9 L541.5 364.9 L541.5 391 L553.3 391 L553.3 374.4 L558 374.4 L558 359 L564 359 L564 393.3 L568.8 393.3 L568.8 381.5 L573.5 381.5 L573.5 356.6 L580.6 356.6 L580.6 399.3 L585.3 399.3 L585.3 418 L590 418 L590 425 L592 425 L592 487.7 L590 487.7 L590 489 L588.5 489 L588.5 490.7 L586 490.7 L586 489.5 L584.5 489.5 L584.5 490.2 L581.5 490.2 L581.5 489.6 L580 489.6 L580 489.9 L577.5 489.9 L577.5 493.3 L575 493.3 L575 489.9 L573 489.9 L573 486.8 L571.5 486.8 L571.5 489 L569.5 489 L569.5 485.3 L568 485.3 L568 485.5 L565 485.5 L565 480.1 L563.5 480.1 L563.5 484.3 L561.5 484.3 L561.5 490.9 L558.5 490.9 L558.5 489.3 L555.5 489.3 L555.5 490.2 L554 490.2 L554 488.6 L552.5 488.6 L552.5 488.5 L550 488.5 L550 490 L547.5 490 L547.5 490.9 L546 490.9 L546 490.9 L543.5 490.9 L543.5 491.7 L542 491.7 L542 492.3 L539.5 492.3 L539.5 490.1 L537 490.1 L537 489.8 L535.5 489.8 L535.5 484.5 L533 484.5 L533 491.2 L530 491.2 L530 492.3 L528.5 492.3 L528.5 495 L525.5 495 L525.5 489.7 L523.5 489.7 L523.5 491 L522 491 L522 493.7 L519.5 493.7 L519.5 494.5 L517.5 494.5 L517.5 492.6 L516 492.6 L516 490.1 L514 490.1 L514 490.7 L511 490.7 L511 492.4 L508 492.4 L508 490.6 L506 490.6 L506 485.7 L503 485.7 L503 492.5 L501 492.5 L501 491.9 L498 491.9 L498 489.6 L496 489.6 L496 489.7 L493.5 489.7 L493.5 489.8 L491 489.8 L491 486.1 L489 486.1 L489 489.1 L487 489.1 L487 489.6 L485 489.6 L485 489.2 L483.5 489.2 L483.5 495.3 L480.5 495.3 L480.5 493.5 L478.5 493.5 L478.5 491.1 L476 491.1 L476 490.3 L474.5 490.3 L474.5 487.9 L472 487.9 L472 497.2 L470.5 497.2 L470.5 496 L468 496 L468 493.2 L466 493.2 L466 494.1 L463.5 494.1 L463.5 493.2 L462 493.2 L462 492.8 L459.5 492.8 L459.5 498 L457 498 L457 492.6 L455.5 492.6 L455.5 493.7 L453.5 493.7 L453.5 485.9 L450.5 485.9 L450.5 493.2 L447.5 493.2 L447.5 491.5 L445.5 491.5 L445.5 492.8 L442.5 492.8 L442.5 490.4 L441 490.4 L441 495.4 L438.5 495.4 L438.5 493.9 L437 493.9 L437 491.6 L435.5 491.6 L435.5 489.7 L434 489.7 L434 491 L432 491 L432 492.4 L430 492.4 L430 493.4 L428.5 493.4 L428.5 491.6 L426 491.6 L426 493.1 L423.5 493.1 L423.5 496.6 L422 496.6 L422 489.5 L419 489.5 L419 496.1 L416 496.1 L416 487.1 L414 487.1 L414 497.2 L412.5 497.2 L412.5 497.5 L409.5 497.5 L409.5 497.8 L407.5 497.8 L407.5 496.6 L406 496.6 L406 493 L404.5 493 L404.5 496.8 L401.5 496.8 L401.5 495.6 L399.5 495.6 L399.5 494.7 L397.5 494.7 L397.5 494.3 L394.5 494.3 L394.5 495.4 L392 495.4 L392 492.8 L390 492.8 L390 490.2 L388 490.2 L388 491.9 L386 491.9 L386 493.1 L383 493.1 L383 498.2 L380 498.2 L380 499.1 L377 499.1 L377 491.5 L374 491.5 L374 492.5 L372.5 492.5 L372.5 497 L369.5 497 L369.5 494.7 L368 494.7 L368 494.4 L365 494.4 L365 497.9 L363.5 497.9 L363.5 488.7 L361 488.7 L361 493.4 L358.5 493.4 L358.5 496.2 L355.5 496.2 L355.5 493.5 L354 493.5 L354 487.3 L351 487.3 L351 493.9 L348.5 493.9 L348.5 494.6 L345.5 494.6 L345.5 493.7 L342.5 493.7 L342.5 497.4 L339.5 497.4 L339.5 493.7 L337 493.7 L337 493.9 L335.5 493.9 L335.5 492.6 L333 492.6 L333 493.9 L331.5 493.9 L331.5 492.5 L329.5 492.5 L329.5 497.6 L328 497.6 L328 496.4 L325 496.4 L325 495.1 L323 495.1 L323 490.7 L321.5 490.7 L321.5 498.1 L319 498.1 L319 493.3 L317.5 493.3 L317.5 492.9 L315 492.9 L315 492.7 L312.5 492.7 L312.5 496.3 L310.5 496.3 L310.5 494 L308 494 L308 492.9 L305.5 492.9 L305.5 494.8 L303.5 494.8 L303.5 497.5 L300.5 497.5 L300.5 494.2 L298.5 494.2 L298.5 491.1 L295.5 491.1 L295.5 496.1 L292.5 496.1 L292.5 494.9 L291 494.9 L291 490.4 L289 490.4 L289 487.2 L287.5 487.2 L287.5 492.2 L284.5 492.2 L284.5 491.8 L282 491.8 L282 492.2 L279.5 492.2 L279.5 490 L277 490 L277 492.9 L274 492.9 L274 495.8 L271.5 495.8 L271.5 492.3 L269.5 492.3 L269.5 490.1 L267.5 490.1 L267.5 494 L264.5 494 L264.5 488.6 L261.5 488.6 L261.5 483.8 L260 483.8 L260 481.9 L257 481.9 L257 483.5 L255 483.5 L255 482.6 L252 482.6 L252 484.3 L249.5 484.3 L249.5 482 L246.5 482 L246.5 473.7 L243.5 473.7 L243.5 489.9 L241.5 489.9 L241.5 489.1 L238.5 489.1 L238.5 486.3 L236 486.3 L236 490.6 L233 490.6 L233 487.4 L231.5 487.4 L231.5 497 L229 497 L229 486.1 L226 486.1 L226 490.4 L223 490.4 L223 491.8 L220.5 491.8 L220.5 495.5 L218 495.5 L218 489.8 L216.5 489.8 L216.5 493.8 L215 493.8 L215 494.5 L213.5 494.5 L213.5 487.4 L212 487.4 L212 491.9 L210 491.9 L210 487.7 L207 487.7 L207 480.5 L205 480.5 L205 483.4 L203 483.4 L203 486.1 L200.5 486.1 L200.5 481.3 L199 481.3 L199 481.7 L196 481.7 L196 489 L193 489 L193 482.2 L190 482.2 L190 479.7 L187 479.7 L187 486.3 L184.5 486.3 L184.5 485.6 L182.5 485.6 L182.5 493.5 L181 493.5 L181 493.3 L179.5 493.3 L179.5 495.9 L177 495.9 L177 492.7 L175 492.7 L175 491.4 L172.5 491.4 L172.5 494.3 L170 494.3 L170 487.6 L167.5 487.6 L167.5 493.8 L165.5 493.8 L165.5 492.3 L163.5 492.3 L163.5 490.5 L162 490.5 L162 497.5 L159.5 497.5 L159.5 489.5 L157 489.5 L157 491.5 L154 491.5 L154 491.9 L151 491.9 L151 490.3 L149.5 490.3 L149.5 486.2 L148 486.2 L148 494.1 L146.5 494.1 L146.5 489.7 L144 489.7 L144 488.6 L141 488.6 L141 487.7 L138 487.7 L138 488.5 L136.5 488.5 L136.5 487.3 L134 487.3 L134 486.9 L131 486.9 L131 496.4 L128 496.4 L128 497.9 L126.5 497.9 L126.5 496.9 L124 496.9 L124 494.5 L122.5 494.5 L122.5 490.7 L120 490.7 L120 495.7 L118.5 495.7 L118.5 490.2 L116.5 490.2 L116.5 492.2 L113.5 492.2 L113.5 486.1 L111.5 486.1 L111.5 489.8 L109.5 489.8 L109.5 491.9 L107 491.9 L107 489.2 L105 489.2 L105 490.6 L103 490.6 L103 494.2 L100 494.2 L100 490.1 L98 490.1 L98 489 L96.5 489 L96.5 490 L95 490Z" fill="#000"/>
<path d="M95 428 L98.3 428 L98.3 389.4 L105.4 389.4 L105.4 420 L106.6 420 L106.6 426 L112.5 426 L112.5 380 L113.7 380 L113.7 358.6 L120.3 358.6 L120.3 396.5 L125.6 396.5 L125.6 364.5 L133 364.5 L133 421 L135.5 421 L135.5 422.6 L141 422.6 L141 413 L146.9 413 L146.9 416.7 L151.6 416.7 L151.6 412 L158.8 412 L158.8 433 L161 433 L161 433 L165.9 433 L165.9 414.3 L177.7 414.3 L177.7 421.4 L184.8 421.4 L184.8 422.6 L194.3 422.6 L195.9 428.5 L197.4 384.7 L204 384.7 L204.8 431 L205.7 389.4 L212.8 389.4 L212.8 394 L218.7 394 L218.7 423.8 L223.5 423.8 L223.5 416.7 L229.4 416.7 L229.4 440 L236.5 440 L236.5 438 L238.9 438 L238.9 423.8 L243.6 423.8 L243.6 425 L250.7 425 L251.8 435 L253 380.6 L259 380.6 L260.2 424 L261.4 419 L268.5 419 L268.5 421.4 L276.8 421.4 L277.9 430 L279 421.4 L285 421.4 L285 440 L288.6 440 L288.6 438 L292.2 438 L292.2 439 L298 439 L298 438 L302.4 438 L302.4 443.8 L309.5 443.8 L309.5 434.3 L320 434.3 L320 448.5 L326 448.5 L326 424.8 L333 424.8 L333 446 L336.7 446 L336.7 458 L343.9 458 L343.9 446 L351 446 L351 443.8 L359.3 443.8 L361.1 455 L362.8 441.4 L366.4 441.4 L366.4 438 L372.3 438 L372.3 451 L375.9 451 L375.9 458 L381.8 458 L381.8 443.8 L386.5 443.8 L386.5 430.8 L394.8 430.8 L394.8 429.6 L399.6 429.6 L399.6 435.5 L404.3 435.5 L404.3 376.5 L411 376.5 L412.1 449 L413.3 430 L416.4 430 L416.4 424.2 L422 424.2 L422 425.3 L427.5 425.3 L427.5 446.7 L433.4 446.7 L433.4 415.9 L440.6 415.9 L442.3 440 L444 423 L451.2 423 L451.2 427.7 L454.8 427.7 L454.8 427.7 L461.9 427.7 L463.7 445 L465.5 414.7 L470.2 414.7 L470.2 415.9 L476.1 415.9 L476.1 415.9 L483.2 415.9 L485 434.8 L486.8 423 L490.3 423 L490.3 406.4 L496.3 406.4 L496.3 411 L499.8 411 L499.8 410.5 L504.7 410.5 L504.7 405 L509.5 405 L509.5 386.2 L516.6 386.2 L516.6 418 L522.5 418 L524.2 442 L526 383.9 L533.2 383.9 L534.4 446.7 L535.6 410 L541.5 410 L541.5 423 L553.3 423 L553.3 420.6 L558 420.6 L558 402.8 L564 402.8 L564 420.6 L568.8 420.6 L568.8 413.5 L573.5 413.5 L573.5 391 L580.6 391 L580.6 420.6 L585.3 420.6 L585.3 439.6 L590 439.6 L590 442 L592 442 L592 487.4 L590 487.4 L590 487.4 L588.5 487.4 L588.5 488.5 L586 488.5 L586 486.6 L584.5 486.6 L584.5 489.9 L581.5 489.9 L581.5 489.3 L580 489.3 L580 489.6 L577.5 489.6 L577.5 490.7 L575 490.7 L575 489.6 L573 489.6 L573 486.5 L571.5 486.5 L571.5 486.1 L569.5 486.1 L569.5 485 L568 485 L568 484.2 L565 484.2 L565 479.8 L563.5 479.8 L563.5 484 L561.5 484 L561.5 488.8 L558.5 488.8 L558.5 489 L555.5 489 L555.5 488.2 L554 488.2 L554 488.3 L552.5 488.3 L552.5 486.7 L550 486.7 L550 488.8 L547.5 488.8 L547.5 489.5 L546 489.5 L546 490.6 L543.5 490.6 L543.5 489.7 L542 489.7 L542 490.8 L539.5 490.8 L539.5 488.3 L537 488.3 L537 489.5 L535.5 489.5 L535.5 484.2 L533 484.2 L533 490.9 L530 490.9 L530 490.9 L528.5 490.9 L528.5 492.3 L525.5 492.3 L525.5 489.4 L523.5 489.4 L523.5 490.7 L522 490.7 L522 491.2 L519.5 491.2 L519.5 494.2 L517.5 494.2 L517.5 491.5 L516 491.5 L516 489.8 L514 489.8 L514 490.4 L511 490.4 L511 489.5 L508 489.5 L508 490.3 L506 490.3 L506 485.4 L503 485.4 L503 492.2 L501 492.2 L501 489.4 L498 489.4 L498 487.3 L496 487.3 L496 489.4 L493.5 489.4 L493.5 487.2 L491 487.2 L491 483.6 L489 483.6 L489 488.8 L487 488.8 L487 489.3 L485 489.3 L485 488.9 L483.5 488.9 L483.5 492.5 L480.5 492.5 L480.5 492.1 L478.5 492.1 L478.5 489.8 L476 489.8 L476 490 L474.5 490 L474.5 487.6 L472 487.6 L472 495.5 L470.5 495.5 L470.5 494 L468 494 L468 492 L466 492 L466 493.8 L463.5 493.8 L463.5 491.1 L462 491.1 L462 490.5 L459.5 490.5 L459.5 495.8 L457 495.8 L457 491 L455.5 491 L455.5 491.9 L453.5 491.9 L453.5 484.3 L450.5 484.3 L450.5 491.6 L447.5 491.6 L447.5 489.4 L445.5 489.4 L445.5 490.1 L442.5 490.1 L442.5 490.1 L441 490.1 L441 492.8 L438.5 492.8 L438.5 492.4 L437 492.4 L437 491.3 L435.5 491.3 L435.5 487.2 L434 487.2 L434 489.6 L432 489.6 L432 489.8 L430 489.8 L430 490.8 L428.5 490.8 L428.5 491.3 L426 491.3 L426 491.7 L423.5 491.7 L423.5 495.3 L422 495.3 L422 486.9 L419 486.9 L419 495.8 L416 495.8 L416 486.8 L414 486.8 L414 496.9 L412.5 496.9 L412.5 494.7 L409.5 494.7 L409.5 497.5 L407.5 497.5 L407.5 494 L406 494 L406 492.7 L404.5 492.7 L404.5 494.1 L401.5 494.1 L401.5 492.9 L399.5 492.9 L399.5 492.2 L397.5 492.2 L397.5 492.8 L394.5 492.8 L394.5 492.4 L392 492.4 L392 492.5 L390 492.5 L390 489.9 L388 489.9 L388 491.6 L386 491.6 L386 491.2 L383 491.2 L383 497.1 L380 497.1 L380 497.9 L377 497.9 L377 488.7 L374 488.7 L374 492.2 L372.5 492.2 L372.5 494.8 L369.5 494.8 L369.5 493.5 L368 493.5 L368 493.4 L365 493.4 L365 496.5 L363.5 496.5 L363.5 486.1 L361 486.1 L361 491.1 L358.5 491.1 L358.5 495.9 L355.5 495.9 L355.5 493.2 L354 493.2 L354 487 L351 487 L351 492.5 L348.5 492.5 L348.5 494.3 L345.5 494.3 L345.5 491.2 L342.5 491.2 L342.5 497.1 L339.5 497.1 L339.5 493.4 L337 493.4 L337 493.6 L335.5 493.6 L335.5 490 L333 490 L333 491.2 L331.5 491.2 L331.5 490.2 L329.5 490.2 L329.5 494.9 L328 494.9 L328 493.6 L325 493.6 L325 492.5 L323 492.5 L323 490.4 L321.5 490.4 L321.5 495.4 L319 495.4 L319 493 L317.5 493 L317.5 492.6 L315 492.6 L315 492.4 L312.5 492.4 L312.5 494 L310.5 494 L310.5 491.9 L308 491.9 L308 492.6 L305.5 492.6 L305.5 493.4 L303.5 493.4 L303.5 494.7 L300.5 494.7 L300.5 493.9 L298.5 493.9 L298.5 490.8 L295.5 490.8 L295.5 493.1 L292.5 493.1 L292.5 493.7 L291 493.7 L291 490.1 L289 490.1 L289 486.2 L287.5 486.2 L287.5 491 L284.5 491 L284.5 489.8 L282 489.8 L282 491.9 L279.5 491.9 L279.5 489.7 L277 489.7 L277 490.2 L274 490.2 L274 493.1 L271.5 493.1 L271.5 490.1 L269.5 490.1 L269.5 488.7 L267.5 488.7 L267.5 491.9 L264.5 491.9 L264.5 486.9 L261.5 486.9 L261.5 482.2 L260 482.2 L260 480 L257 480 L257 482.2 L255 482.2 L255 482.3 L252 482.3 L252 483.1 L249.5 483.1 L249.5 481.7 L246.5 481.7 L246.5 472.5 L243.5 472.5 L243.5 488.2 L241.5 488.2 L241.5 487 L238.5 487 L238.5 484.8 L236 484.8 L236 488.4 L233 488.4 L233 487.1 L231.5 487.1 L231.5 495 L229 495 L229 484.3 L226 484.3 L226 490.1 L223 490.1 L223 490.6 L220.5 490.6 L220.5 492.6 L218 492.6 L218 489.5 L216.5 489.5 L216.5 492.3 L215 492.3 L215 492.9 L213.5 492.9 L213.5 486.1 L212 486.1 L212 490.9 L210 490.9 L210 486.3 L207 486.3 L207 480.2 L205 480.2 L205 480.4 L203 480.4 L203 484.3 L200.5 484.3 L200.5 480 L199 480 L199 481.4 L196 481.4 L196 486.5 L193 486.5 L193 481.9 L190 481.9 L190 477.2 L187 477.2 L187 483.4 L184.5 483.4 L184.5 483.4 L182.5 483.4 L182.5 492.5 L181 492.5 L181 493 L179.5 493 L179.5 494.6 L177 494.6 L177 491 L175 491 L175 491.1 L172.5 491.1 L172.5 491.3 L170 491.3 L170 484.6 L167.5 484.6 L167.5 491.9 L165.5 491.9 L165.5 490.1 L163.5 490.1 L163.5 490.2 L162 490.2 L162 494.6 L159.5 494.6 L159.5 488.2 L157 488.2 L157 489.4 L154 489.4 L154 491.6 L151 491.6 L151 488.6 L149.5 488.6 L149.5 484.7 L148 484.7 L148 492.2 L146.5 492.2 L146.5 489.4 L144 489.4 L144 488.3 L141 488.3 L141 485.6 L138 485.6 L138 487.4 L136.5 487.4 L136.5 487 L134 487 L134 486.6 L131 486.6 L131 494.8 L128 494.8 L128 497.6 L126.5 497.6 L126.5 495 L124 495 L124 492.3 L122.5 492.3 L122.5 488.4 L120 488.4 L120 493 L118.5 493 L118.5 489.9 L116.5 489.9 L116.5 491.9 L113.5 491.9 L113.5 485.8 L111.5 485.8 L111.5 489.5 L109.5 489.5 L109.5 491.6 L107 491.6 L107 488.9 L105 488.9 L105 489.4 L103 489.4 L103 492.7 L100 492.7 L100 487.3 L98 487.3 L98 487.5 L96.5 487.5 L96.5 488.8 L95 488.8Z" fill="#f00"/>
<rect x="357.6" y="63" width="221" height="38" fill="#fff" stroke="#262626" stroke-width="2.2"/>
<path d="M362.3 81.8h40.7" stroke="#000" stroke-width="6"/>
<path d="M472.6 81.8h40" stroke="#f00" stroke-width="6"/>
<text x="403.6" y="91" font-size="25">GPT3</text>
<text x="514.6" y="91" font-size="25">WTM</text>
<rect x="359" y="314" width="221" height="38" fill="#fff" stroke="#262626" stroke-width="2.2"/>
<path d="M363.7 332.8h40.7" stroke="#000" stroke-width="6"/>
<path d="M474 332.8h40" stroke="#f00" stroke-width="6"/>
<text x="405" y="342" font-size="25">GPT3</text>
<text x="516" y="342" font-size="25">WTM</text>
<text x="212" y="39.2" font-size="30.3">(a) Maping function</text>
<text x="192" y="290.2" font-size="30.4">(b) Horizontal gradient</text>
<text x="83.5" y="62.6" font-size="28" text-anchor="end">400</text>
<text x="83.5" y="160.3" font-size="28" text-anchor="end">200</text>
<text x="83.5" y="258.4" font-size="28" text-anchor="end">0</text>
<text x="83.5" y="314.3" font-size="28" text-anchor="end">300</text>
<text x="83.5" y="379.5" font-size="28" text-anchor="end">200</text>
<text x="83.5" y="444.9" font-size="28" text-anchor="end">100</text>
<text x="83.5" y="510.3" font-size="28" text-anchor="end">0</text>
<text transform="translate(26,150) rotate(-90)" font-size="30" text-anchor="middle">MAE/mm</text>
<text transform="translate(26,402) rotate(-90)" font-size="30" text-anchor="middle">MAE/mm</text>
<text x="96" y="541" font-size="28" text-anchor="middle">0</text>
<text x="178.2" y="541" font-size="28" text-anchor="middle">61</text>
<text x="260.3" y="541" font-size="28" text-anchor="middle">122</text>
<text x="342.5" y="541" font-size="28" text-anchor="middle">183</text>
<text x="424.7" y="541" font-size="28" text-anchor="middle">244</text>
<text x="506.8" y="541" font-size="28" text-anchor="middle">305</text>
<text x="589" y="541" font-size="28" text-anchor="middle">366</text>
<text x="342.5" y="579.9" font-size="30" text-anchor="middle">Time/day</text>
<text x="808" y="26.5" font-size="30.5">(c) Topography</text>
<defs><filter id="pb" x="-50%" y="-50%" width="200%" height="200%"><feGaussianBlur stdDeviation="1.2"/></filter><filter id="pb2" x="-50%" y="-50%" width="200%" height="200%"><feGaussianBlur stdDeviation="3"/></filter></defs>
<g filter="url(#pb2)" fill="#98661a" fill-opacity="0.25"><circle cx="716.9" cy="294.1" r="5.8"/><circle cx="717.6" cy="297.0" r="5.2"/><circle cx="717.7" cy="300.0" r="5.3"/><circle cx="719.6" cy="302.2" r="4.6"/><circle cx="715.2" cy="304.0" r="5.4"/><circle cx="712.1" cy="304.8" r="5.9"/><circle cx="710.3" cy="304.4" r="4.3"/><circle cx="706.0" cy="304.7" r="4.1"/><circle cx="703.4" cy="304.5" r="4.1"/><circle cx="702.9" cy="308.1" r="5.7"/><circle cx="702.0" cy="311.8" r="5.0"/><circle cx="701.3" cy="314.7" r="4.6"/><circle cx="701.0" cy="319.0" r="5.7"/><circle cx="699.7" cy="320.8" r="4.5"/><circle cx="698.2" cy="323.5" r="5.5"/><circle cx="697.7" cy="328.3" r="4.8"/><circle cx="698.1" cy="331.5" r="4.0"/><circle cx="695.9" cy="334.8" r="4.9"/><circle cx="698.1" cy="336.8" r="4.1"/><circle cx="698.1" cy="340.6" r="4.5"/><circle cx="697.7" cy="342.7" r="5.9"/><circle cx="698.8" cy="345.2" r="4.5"/><circle cx="697.3" cy="348.1" r="5.6"/><circle cx="697.3" cy="352.1" r="4.9"/><circle cx="697.1" cy="355.5" r="4.3"/><circle cx="697.8" cy="357.2" r="4.8"/><circle cx="697.8" cy="360.6" r="5.9"/><circle cx="699.9" cy="363.8" r="5.8"/><circle cx="699.6" cy="367.1" r="5.7"/><circle cx="701.4" cy="369.6" r="6.0"/><circle cx="701.4" cy="373.0" r="5.5"/><circle cx="703.9" cy="376.3" r="4.1"/><circle cx="705.7" cy="380.2" r="4.5"/><circle cx="708.9" cy="382.1" r="4.9"/><circle cx="711.8" cy="384.6" r="5.1"/><circle cx="852.7" cy="178.4" r="4.3"/><circle cx="869.8" cy="228.6" r="4.5"/><circle cx="869.4" cy="233.5" r="5.9"/><circle cx="870.4" cy="238.9" r="5.8"/><circle cx="872.2" cy="243.8" r="4.2"/><circle cx="872.1" cy="250.9" r="4.5"/><circle cx="874.9" cy="254.5" r="5.6"/><circle cx="757.7" cy="259.6" r="4.4"/><circle cx="763.9" cy="287.1" r="4.5"/><circle cx="683.1" cy="176.7" r="5.2"/></g>
<g filter="url(#pb)" fill="#c690b0" fill-opacity="0.7"><circle cx="716.1" cy="295.3" r="1.8"/><circle cx="715.7" cy="296.3" r="2.2"/><circle cx="716.6" cy="299.0" r="2.1"/><circle cx="719.3" cy="301.9" r="2.0"/><circle cx="717.6" cy="304.8" r="2.5"/><circle cx="713.8" cy="304.1" r="1.7"/><circle cx="708.1" cy="302.8" r="2.9"/><circle cx="707.8" cy="306.0" r="1.5"/><circle cx="704.5" cy="304.9" r="2.6"/><circle cx="702.3" cy="309.7" r="1.6"/><circle cx="702.2" cy="312.2" r="2.9"/><circle cx="701.9" cy="315.4" r="2.7"/><circle cx="701.7" cy="317.6" r="2.5"/><circle cx="700.9" cy="322.3" r="2.1"/><circle cx="699.8" cy="325.5" r="2.4"/><circle cx="698.4" cy="327.2" r="2.4"/><circle cx="697.6" cy="329.5" r="2.5"/><circle cx="698.5" cy="335.1" r="2.6"/><circle cx="696.7" cy="337.7" r="2.4"/><circle cx="697.6" cy="341.0" r="1.6"/><circle cx="699.5" cy="341.6" r="2.4"/><circle cx="698.2" cy="345.2" r="2.5"/><circle cx="698.1" cy="349.3" r="2.9"/><circle cx="696.9" cy="350.5" r="2.0"/><circle cx="698.4" cy="354.1" r="1.8"/><circle cx="699.1" cy="358.5" r="2.2"/><circle cx="700.0" cy="360.6" r="2.5"/><circle cx="698.1" cy="364.0" r="2.7"/><circle cx="701.9" cy="368.4" r="2.1"/><circle cx="701.4" cy="369.8" r="1.7"/><circle cx="702.0" cy="374.5" r="2.8"/><circle cx="705.1" cy="378.1" r="1.9"/><circle cx="705.2" cy="379.9" r="1.9"/><circle cx="707.5" cy="382.1" r="2.4"/><circle cx="710.8" cy="384.1" r="2.8"/><circle cx="718.9" cy="293.9" r="1.6"/><circle cx="716.5" cy="301.1" r="1.6"/><circle cx="716.8" cy="303.6" r="2.0"/><circle cx="711.2" cy="302.8" r="1.7"/><circle cx="703.8" cy="303.6" r="2.7"/><circle cx="700.9" cy="310.4" r="1.6"/><circle cx="700.5" cy="317.8" r="2.4"/><circle cx="699.2" cy="325.3" r="2.9"/><circle cx="697.9" cy="329.9" r="2.2"/><circle cx="695.9" cy="335.5" r="2.2"/><circle cx="699.4" cy="342.0" r="1.9"/><circle cx="697.5" cy="349.6" r="2.3"/><circle cx="698.2" cy="355.8" r="2.1"/><circle cx="699.6" cy="362.3" r="1.6"/><circle cx="701.9" cy="368.0" r="1.7"/><circle cx="701.8" cy="373.9" r="2.9"/><circle cx="706.0" cy="380.2" r="2.8"/><circle cx="712.0" cy="386.0" r="2.2"/><circle cx="852.6" cy="178.1" r="2.6"/><circle cx="870.3" cy="228.4" r="2.6"/><circle cx="868.9" cy="234.2" r="3.0"/><circle cx="872.9" cy="238.1" r="2.7"/><circle cx="871.3" cy="245.2" r="2.8"/><circle cx="872.4" cy="248.7" r="2.2"/><circle cx="874.7" cy="255.8" r="2.2"/><circle cx="755.6" cy="260.9" r="1.6"/><circle cx="764.7" cy="287.0" r="2.0"/><circle cx="684.2" cy="174.9" r="1.7"/></g>
<rect x="678.5" y="47.5" width="463" height="463" fill="none" stroke="#000" stroke-opacity="0.55" stroke-width="1"/>
<path d="M794.5 47v-5M1026 47v-5M794.5 511v5M1026 511v5M678 163.5h-6M678 395h-6M1142 163.5h6M1142 395h6" stroke="#333" stroke-width="1"/>
<path d="M794.5 163.2H1026V395H794.5Z" fill="none" stroke="#1010b0" stroke-width="2"/>
<rect x="790.0" y="158.7" width="9" height="9" fill="#0000f0" stroke="#0a0a60" stroke-width="1"/>
<rect x="1021.5" y="158.7" width="9" height="9" fill="#0000f0" stroke="#0a0a60" stroke-width="1"/>
<rect x="790.0" y="390.5" width="9" height="9" fill="#0000f0" stroke="#0a0a60" stroke-width="1"/>
<rect x="1021.5" y="390.5" width="9" height="9" fill="#0000f0" stroke="#0a0a60" stroke-width="1"/>
<path d="M931.5 325L937.6 335.4H925.6Z" fill="#e8101a" stroke="#3a0a0a" stroke-width="1"/>
<defs><linearGradient id="cb" x1="0" y1="0" x2="0" y2="1"><stop offset="0.0000" stop-color="#ffffff"/><stop offset="0.0492" stop-color="#fbfbfb"/><stop offset="0.0891" stop-color="#e4e4e4"/><stop offset="0.1237" stop-color="#c8c8c8"/><stop offset="0.1610" stop-color="#bba0a0"/><stop offset="0.1903" stop-color="#b48282"/><stop offset="0.2222" stop-color="#a86262"/><stop offset="0.2435" stop-color="#a0680e"/><stop offset="0.2754" stop-color="#9e720c"/><stop offset="0.3419" stop-color="#948a1c"/><stop offset="0.3739" stop-color="#909220"/><stop offset="0.4005" stop-color="#d8a432"/><stop offset="0.4271" stop-color="#e8c070"/><stop offset="0.4590" stop-color="#f6d2b2"/><stop offset="0.4750" stop-color="#f2dcb8"/><stop offset="0.4830" stop-color="#c8e4a0"/><stop offset="0.4910" stop-color="#56b456"/><stop offset="0.4989" stop-color="#3c963c"/><stop offset="0.5005" stop-color="#e8f6fc"/><stop offset="0.5149" stop-color="#e0f2fc"/><stop offset="0.5362" stop-color="#c0e4f8"/><stop offset="0.5681" stop-color="#a6d8f6"/><stop offset="0.6080" stop-color="#84c8f4"/><stop offset="0.6480" stop-color="#5cb2f2"/><stop offset="0.6879" stop-color="#3a9ef6"/><stop offset="0.7278" stop-color="#1e8cf8"/><stop offset="0.7517" stop-color="#1c80fc"/><stop offset="0.7943" stop-color="#3062ff"/><stop offset="0.8475" stop-color="#6040ff"/><stop offset="0.9007" stop-color="#7c24ff"/><stop offset="0.9540" stop-color="#8c10ff"/><stop offset="1.0000" stop-color="#9400ff"/></linearGradient></defs>
<rect x="1174.5" y="111.5" width="25" height="375.8" fill="url(#cb)" stroke="#111" stroke-width="1.2"/>
<path d="M1199.5 111.5h6M1199.5 205.5h6M1199.5 299.5h6M1199.5 393.4h6M1199.5 487.3h6" stroke="#555" stroke-width="1"/>
<g class="m">
<text x="603.5" y="175.6" font-size="33.5" textLength="65" lengthAdjust="spacingAndGlyphs">−24°</text>
<text x="603.5" y="407.4" font-size="33.5" textLength="65" lengthAdjust="spacingAndGlyphs">−25°</text>
<text x="761" y="543.6" font-size="33.5" textLength="65" lengthAdjust="spacingAndGlyphs">−66°</text>
<text x="993" y="543.6" font-size="33.5" textLength="65" lengthAdjust="spacingAndGlyphs">−65°</text>
<text x="1163" y="95.6" font-size="34.5">km</text>
<text x="1264" y="123.5" font-size="31" text-anchor="end">10</text>
<text x="1262" y="217.7" font-size="31" text-anchor="end">5</text>
<text x="1266" y="311.7" font-size="31" text-anchor="end">0</text>
<text x="1265.5" y="405.2" font-size="31" text-anchor="end">−5</text>
<text x="1269.5" y="492.4" font-size="31" text-anchor="end">−10</text>
</g>
</svg>
</body></html>
